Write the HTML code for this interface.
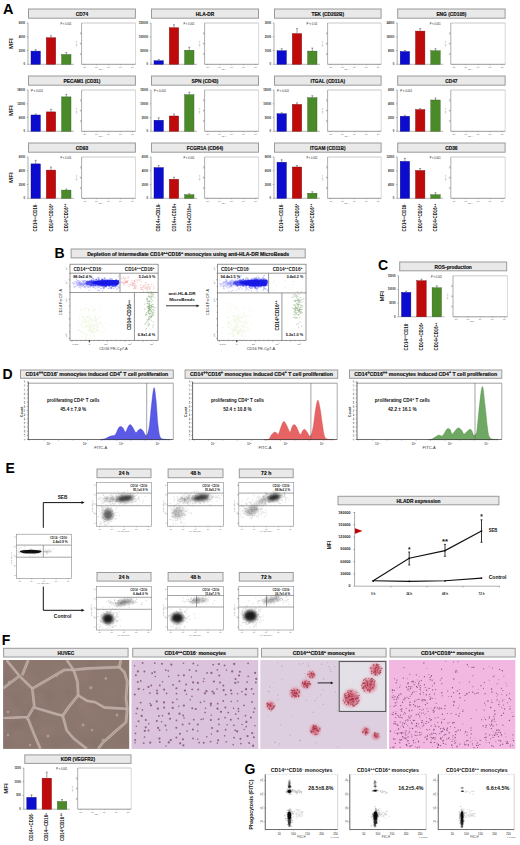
<!DOCTYPE html><html><head><meta charset="utf-8"><style>html,body{margin:0;padding:0;background:#fff;}svg{display:block;}text{font-family:"Liberation Sans",sans-serif;}</style></head><body>
<svg width="520" height="845" viewBox="0 0 520 845">
<defs><filter id="b03" x="-50%" y="-50%" width="200%" height="200%"><feGaussianBlur stdDeviation="0.3"/></filter><filter id="b05" x="-50%" y="-50%" width="200%" height="200%"><feGaussianBlur stdDeviation="0.5"/></filter><filter id="b1" x="-50%" y="-50%" width="200%" height="200%"><feGaussianBlur stdDeviation="1"/></filter><filter id="b15" x="-50%" y="-50%" width="200%" height="200%"><feGaussianBlur stdDeviation="1.5"/></filter><filter id="b2" x="-50%" y="-50%" width="200%" height="200%"><feGaussianBlur stdDeviation="2"/></filter><filter id="b3" x="-50%" y="-50%" width="200%" height="200%"><feGaussianBlur stdDeviation="3"/></filter></defs>
<rect x="0" y="0" width="520" height="845" fill="#fff" stroke="none" stroke-width="1"/>
<g font-weight="bold" text-anchor="middle" fill="#111" dominant-baseline="central">
<text x="3" y="8.6" font-size="14.5" text-anchor="start" fill="#000">A</text>
<rect x="28.5" y="9" width="106.9" height="9.2" fill="#e9e9e9" stroke="#9a9a9a" stroke-width="1"/>
<text x="81.95" y="13.8" font-size="5.6" textLength="12.31" lengthAdjust="spacingAndGlyphs" stroke="#111" stroke-width="0.18">CD74</text>
<path d="M28 23L28 64.3" stroke="#8a8a8a" stroke-width="0.7"/>
<path d="M28 64.3L74 64.3" stroke="#9a9a9a" stroke-width="0.7"/>
<path d="M26.8 23L28 23" stroke="#666" stroke-width="0.5"/>
<text x="25" y="23" font-size="2.8" text-anchor="end" fill="#222">6000</text>
<path d="M26.8 36.77L28 36.77" stroke="#666" stroke-width="0.5"/>
<text x="25" y="36.77" font-size="2.8" text-anchor="end" fill="#222">4000</text>
<path d="M26.8 50.53L28 50.53" stroke="#666" stroke-width="0.5"/>
<text x="25" y="50.53" font-size="2.8" text-anchor="end" fill="#222">2000</text>
<path d="M26.8 64.3L28 64.3" stroke="#666" stroke-width="0.5"/>
<text x="25" y="64.3" font-size="2.8" text-anchor="end" fill="#222">0</text>
<rect x="31" y="51.1" width="9.4" height="13.2" fill="#0c0cce" stroke="#06068a" stroke-width="0.4"/>
<path d="M35.7 49.6L35.7 51.1" stroke="#444" stroke-width="0.5"/>
<path d="M34.7 49.6L36.7 49.6" stroke="#444" stroke-width="0.5"/>
<rect x="46.3" y="37.75" width="9.4" height="26.55" fill="#be0a0a" stroke="#7a0606" stroke-width="0.4"/>
<path d="M51 35.75L51 37.75" stroke="#444" stroke-width="0.5"/>
<path d="M50 35.75L52 35.75" stroke="#444" stroke-width="0.5"/>
<rect x="61.6" y="54.5" width="9.4" height="9.8" fill="#4a8a28" stroke="#2e5a18" stroke-width="0.4"/>
<path d="M66.3 52.5L66.3 54.5" stroke="#444" stroke-width="0.5"/>
<path d="M65.3 52.5L67.3 52.5" stroke="#444" stroke-width="0.5"/>
<text x="71.5" y="23.8" font-size="3.1" font-weight="normal" text-anchor="end" fill="#222" textLength="11" lengthAdjust="spacingAndGlyphs">P < 0.001</text>
<text x="11" y="43.65" font-size="5.6" textLength="10.5" lengthAdjust="spacingAndGlyphs" transform="rotate(-90 11 43.65)">MFI</text>
<path d="M81.6 23L135.5 23" stroke="#c8c8c8" stroke-width="1"/>
<path d="M135.5 23L135.5 64.3" stroke="#c8c8c8" stroke-width="0.7"/>
<path d="M81.6 23L81.6 64.3" stroke="#777" stroke-width="0.6"/>
<path d="M81.6 64.3L135.5 64.3" stroke="#555" stroke-width="0.6"/>
<path d="M80.6 53.97L81.6 53.97" stroke="#777" stroke-width="0.4"/>
<text x="79.6" y="53.97" font-size="2.1" font-weight="normal" fill="#555" transform="rotate(-90 79.6 53.97)">20</text>
<path d="M80.6 43.65L81.6 43.65" stroke="#777" stroke-width="0.4"/>
<text x="79.6" y="43.65" font-size="2.1" font-weight="normal" fill="#555" transform="rotate(-90 79.6 43.65)">40</text>
<path d="M80.6 33.33L81.6 33.33" stroke="#777" stroke-width="0.4"/>
<text x="79.6" y="33.33" font-size="2.1" font-weight="normal" fill="#555" transform="rotate(-90 79.6 33.33)">60</text>
<text x="75.8" y="43.65" font-size="2.2" font-weight="normal" fill="#555" transform="rotate(-90 75.8 43.65)">Count</text>
<path d="M84.6 64.3L84.6 65.3" stroke="#777" stroke-width="0.4"/>
<text x="84.6" y="66.7" font-size="2.1" font-weight="normal" fill="#555">-10²</text>
<path d="M96.57 64.3L96.57 65.3" stroke="#777" stroke-width="0.4"/>
<text x="96.57" y="66.7" font-size="2.1" font-weight="normal" fill="#555">10²</text>
<path d="M108.55 64.3L108.55 65.3" stroke="#777" stroke-width="0.4"/>
<text x="108.55" y="66.7" font-size="2.1" font-weight="normal" fill="#555">10²</text>
<path d="M120.53 64.3L120.53 65.3" stroke="#777" stroke-width="0.4"/>
<text x="120.53" y="66.7" font-size="2.1" font-weight="normal" fill="#555">10²</text>
<path d="M132.5 64.3L132.5 65.3" stroke="#777" stroke-width="0.4"/>
<text x="132.5" y="66.7" font-size="2.1" font-weight="normal" fill="#555">10²</text>
<text x="101" y="68.9" font-size="2.1" font-weight="normal" fill="#555">PE-A</text>
<rect x="151.5" y="9" width="107" height="9.2" fill="#e9e9e9" stroke="#9a9a9a" stroke-width="1"/>
<text x="205" y="13.8" font-size="5.6" textLength="18.46" lengthAdjust="spacingAndGlyphs" stroke="#111" stroke-width="0.18">HLA-DR</text>
<path d="M151 23L151 64.3" stroke="#8a8a8a" stroke-width="0.7"/>
<path d="M151 64.3L197 64.3" stroke="#9a9a9a" stroke-width="0.7"/>
<path d="M149.8 23L151 23" stroke="#666" stroke-width="0.5"/>
<text x="148" y="23" font-size="2.8" text-anchor="end" fill="#222">150000</text>
<path d="M149.8 36.77L151 36.77" stroke="#666" stroke-width="0.5"/>
<text x="148" y="36.77" font-size="2.8" text-anchor="end" fill="#222">100000</text>
<path d="M149.8 50.53L151 50.53" stroke="#666" stroke-width="0.5"/>
<text x="148" y="50.53" font-size="2.8" text-anchor="end" fill="#222">50000</text>
<path d="M149.8 64.3L151 64.3" stroke="#666" stroke-width="0.5"/>
<text x="148" y="64.3" font-size="2.8" text-anchor="end" fill="#222">0</text>
<rect x="154" y="60.75" width="9.4" height="3.55" fill="#0c0cce" stroke="#06068a" stroke-width="0.4"/>
<path d="M158.7 59.55L158.7 60.75" stroke="#444" stroke-width="0.5"/>
<path d="M157.7 59.55L159.7 59.55" stroke="#444" stroke-width="0.5"/>
<rect x="169.3" y="27.75" width="9.4" height="36.55" fill="#be0a0a" stroke="#7a0606" stroke-width="0.4"/>
<path d="M174 24.75L174 27.75" stroke="#444" stroke-width="0.5"/>
<path d="M173 24.75L175 24.75" stroke="#444" stroke-width="0.5"/>
<rect x="184.6" y="50.25" width="9.4" height="14.05" fill="#4a8a28" stroke="#2e5a18" stroke-width="0.4"/>
<path d="M189.3 47.25L189.3 50.25" stroke="#444" stroke-width="0.5"/>
<path d="M188.3 47.25L190.3 47.25" stroke="#444" stroke-width="0.5"/>
<text x="194.5" y="23.8" font-size="3.1" font-weight="normal" text-anchor="end" fill="#222" textLength="11" lengthAdjust="spacingAndGlyphs">P < 0.001</text>
<path d="M204.6 23L258.6 23" stroke="#c8c8c8" stroke-width="1"/>
<path d="M258.6 23L258.6 64.3" stroke="#c8c8c8" stroke-width="0.7"/>
<path d="M204.6 23L204.6 64.3" stroke="#777" stroke-width="0.6"/>
<path d="M204.6 64.3L258.6 64.3" stroke="#555" stroke-width="0.6"/>
<path d="M203.6 53.97L204.6 53.97" stroke="#777" stroke-width="0.4"/>
<text x="202.6" y="53.97" font-size="2.1" font-weight="normal" fill="#555" transform="rotate(-90 202.6 53.97)">20</text>
<path d="M203.6 43.65L204.6 43.65" stroke="#777" stroke-width="0.4"/>
<text x="202.6" y="43.65" font-size="2.1" font-weight="normal" fill="#555" transform="rotate(-90 202.6 43.65)">40</text>
<path d="M203.6 33.33L204.6 33.33" stroke="#777" stroke-width="0.4"/>
<text x="202.6" y="33.33" font-size="2.1" font-weight="normal" fill="#555" transform="rotate(-90 202.6 33.33)">60</text>
<text x="198.8" y="43.65" font-size="2.2" font-weight="normal" fill="#555" transform="rotate(-90 198.8 43.65)">Count</text>
<path d="M207.6 64.3L207.6 65.3" stroke="#777" stroke-width="0.4"/>
<text x="207.6" y="66.7" font-size="2.1" font-weight="normal" fill="#555">-10²</text>
<path d="M219.6 64.3L219.6 65.3" stroke="#777" stroke-width="0.4"/>
<text x="219.6" y="66.7" font-size="2.1" font-weight="normal" fill="#555">10²</text>
<path d="M231.6 64.3L231.6 65.3" stroke="#777" stroke-width="0.4"/>
<text x="231.6" y="66.7" font-size="2.1" font-weight="normal" fill="#555">10²</text>
<path d="M243.6 64.3L243.6 65.3" stroke="#777" stroke-width="0.4"/>
<text x="243.6" y="66.7" font-size="2.1" font-weight="normal" fill="#555">10²</text>
<path d="M255.6 64.3L255.6 65.3" stroke="#777" stroke-width="0.4"/>
<text x="255.6" y="66.7" font-size="2.1" font-weight="normal" fill="#555">10²</text>
<text x="224.04" y="68.9" font-size="2.1" font-weight="normal" fill="#555">PE-A</text>
<rect x="274.5" y="9" width="106.6" height="9.2" fill="#e9e9e9" stroke="#9a9a9a" stroke-width="1"/>
<text x="327.8" y="13.8" font-size="5.6" textLength="32.65" lengthAdjust="spacingAndGlyphs" stroke="#111" stroke-width="0.18">TEK (CD202B)</text>
<path d="M274 23L274 64.3" stroke="#8a8a8a" stroke-width="0.7"/>
<path d="M274 64.3L320 64.3" stroke="#9a9a9a" stroke-width="0.7"/>
<path d="M272.8 23L274 23" stroke="#666" stroke-width="0.5"/>
<text x="271" y="23" font-size="2.8" text-anchor="end" fill="#222">3000</text>
<path d="M272.8 36.77L274 36.77" stroke="#666" stroke-width="0.5"/>
<text x="271" y="36.77" font-size="2.8" text-anchor="end" fill="#222">2000</text>
<path d="M272.8 50.53L274 50.53" stroke="#666" stroke-width="0.5"/>
<text x="271" y="50.53" font-size="2.8" text-anchor="end" fill="#222">1000</text>
<path d="M272.8 64.3L274 64.3" stroke="#666" stroke-width="0.5"/>
<text x="271" y="64.3" font-size="2.8" text-anchor="end" fill="#222">0</text>
<rect x="277" y="50.75" width="9.4" height="13.55" fill="#0c0cce" stroke="#06068a" stroke-width="0.4"/>
<path d="M281.7 48.75L281.7 50.75" stroke="#444" stroke-width="0.5"/>
<path d="M280.7 48.75L282.7 48.75" stroke="#444" stroke-width="0.5"/>
<rect x="292.3" y="33.6" width="9.4" height="30.7" fill="#be0a0a" stroke="#7a0606" stroke-width="0.4"/>
<path d="M297 28.6L297 33.6" stroke="#444" stroke-width="0.5"/>
<path d="M296 28.6L298 28.6" stroke="#444" stroke-width="0.5"/>
<rect x="307.6" y="51.1" width="9.4" height="13.2" fill="#4a8a28" stroke="#2e5a18" stroke-width="0.4"/>
<path d="M312.3 48.1L312.3 51.1" stroke="#444" stroke-width="0.5"/>
<path d="M311.3 48.1L313.3 48.1" stroke="#444" stroke-width="0.5"/>
<text x="317.5" y="23.8" font-size="3.1" font-weight="normal" text-anchor="end" fill="#222" textLength="11" lengthAdjust="spacingAndGlyphs">P < 0.01</text>
<path d="M327.6 23L381.2 23" stroke="#c8c8c8" stroke-width="1"/>
<path d="M381.2 23L381.2 64.3" stroke="#c8c8c8" stroke-width="0.7"/>
<path d="M327.6 23L327.6 64.3" stroke="#777" stroke-width="0.6"/>
<path d="M327.6 64.3L381.2 64.3" stroke="#555" stroke-width="0.6"/>
<path d="M326.6 53.97L327.6 53.97" stroke="#777" stroke-width="0.4"/>
<text x="325.6" y="53.97" font-size="2.1" font-weight="normal" fill="#555" transform="rotate(-90 325.6 53.97)">20</text>
<path d="M326.6 43.65L327.6 43.65" stroke="#777" stroke-width="0.4"/>
<text x="325.6" y="43.65" font-size="2.1" font-weight="normal" fill="#555" transform="rotate(-90 325.6 43.65)">40</text>
<path d="M326.6 33.33L327.6 33.33" stroke="#777" stroke-width="0.4"/>
<text x="325.6" y="33.33" font-size="2.1" font-weight="normal" fill="#555" transform="rotate(-90 325.6 33.33)">60</text>
<text x="321.8" y="43.65" font-size="2.2" font-weight="normal" fill="#555" transform="rotate(-90 321.8 43.65)">Count</text>
<path d="M330.6 64.3L330.6 65.3" stroke="#777" stroke-width="0.4"/>
<text x="330.6" y="66.7" font-size="2.1" font-weight="normal" fill="#555">-10²</text>
<path d="M342.5 64.3L342.5 65.3" stroke="#777" stroke-width="0.4"/>
<text x="342.5" y="66.7" font-size="2.1" font-weight="normal" fill="#555">10²</text>
<path d="M354.4 64.3L354.4 65.3" stroke="#777" stroke-width="0.4"/>
<text x="354.4" y="66.7" font-size="2.1" font-weight="normal" fill="#555">10²</text>
<path d="M366.3 64.3L366.3 65.3" stroke="#777" stroke-width="0.4"/>
<text x="366.3" y="66.7" font-size="2.1" font-weight="normal" fill="#555">10²</text>
<path d="M378.2 64.3L378.2 65.3" stroke="#777" stroke-width="0.4"/>
<text x="378.2" y="66.7" font-size="2.1" font-weight="normal" fill="#555">10²</text>
<text x="346.9" y="68.9" font-size="2.1" font-weight="normal" fill="#555">PE-A</text>
<rect x="397.7" y="9" width="107.4" height="9.2" fill="#e9e9e9" stroke="#9a9a9a" stroke-width="1"/>
<text x="451.4" y="13.8" font-size="5.6" textLength="29.97" lengthAdjust="spacingAndGlyphs" stroke="#111" stroke-width="0.18">ENG (CD105)</text>
<path d="M397.2 23L397.2 64.3" stroke="#8a8a8a" stroke-width="0.7"/>
<path d="M397.2 64.3L443.2 64.3" stroke="#9a9a9a" stroke-width="0.7"/>
<path d="M396 23L397.2 23" stroke="#666" stroke-width="0.5"/>
<text x="394.2" y="23" font-size="2.8" text-anchor="end" fill="#222">24000</text>
<path d="M396 36.77L397.2 36.77" stroke="#666" stroke-width="0.5"/>
<text x="394.2" y="36.77" font-size="2.8" text-anchor="end" fill="#222">16000</text>
<path d="M396 50.53L397.2 50.53" stroke="#666" stroke-width="0.5"/>
<text x="394.2" y="50.53" font-size="2.8" text-anchor="end" fill="#222">8000</text>
<path d="M396 64.3L397.2 64.3" stroke="#666" stroke-width="0.5"/>
<text x="394.2" y="64.3" font-size="2.8" text-anchor="end" fill="#222">0</text>
<rect x="400.2" y="51.5" width="9.4" height="12.8" fill="#0c0cce" stroke="#06068a" stroke-width="0.4"/>
<path d="M404.9 50.5L404.9 51.5" stroke="#444" stroke-width="0.5"/>
<path d="M403.9 50.5L405.9 50.5" stroke="#444" stroke-width="0.5"/>
<rect x="415.5" y="31.1" width="9.4" height="33.2" fill="#be0a0a" stroke="#7a0606" stroke-width="0.4"/>
<path d="M420.2 28.6L420.2 31.1" stroke="#444" stroke-width="0.5"/>
<path d="M419.2 28.6L421.2 28.6" stroke="#444" stroke-width="0.5"/>
<rect x="430.8" y="50.75" width="9.4" height="13.55" fill="#4a8a28" stroke="#2e5a18" stroke-width="0.4"/>
<path d="M435.5 48.75L435.5 50.75" stroke="#444" stroke-width="0.5"/>
<path d="M434.5 48.75L436.5 48.75" stroke="#444" stroke-width="0.5"/>
<text x="440.7" y="23.8" font-size="3.1" font-weight="normal" text-anchor="end" fill="#222" textLength="11" lengthAdjust="spacingAndGlyphs">P < 0.001</text>
<path d="M450.8 23L505.2 23" stroke="#c8c8c8" stroke-width="1"/>
<path d="M505.2 23L505.2 64.3" stroke="#c8c8c8" stroke-width="0.7"/>
<path d="M450.8 23L450.8 64.3" stroke="#777" stroke-width="0.6"/>
<path d="M450.8 64.3L505.2 64.3" stroke="#555" stroke-width="0.6"/>
<path d="M449.8 53.97L450.8 53.97" stroke="#777" stroke-width="0.4"/>
<text x="448.8" y="53.97" font-size="2.1" font-weight="normal" fill="#555" transform="rotate(-90 448.8 53.97)">20</text>
<path d="M449.8 43.65L450.8 43.65" stroke="#777" stroke-width="0.4"/>
<text x="448.8" y="43.65" font-size="2.1" font-weight="normal" fill="#555" transform="rotate(-90 448.8 43.65)">40</text>
<path d="M449.8 33.33L450.8 33.33" stroke="#777" stroke-width="0.4"/>
<text x="448.8" y="33.33" font-size="2.1" font-weight="normal" fill="#555" transform="rotate(-90 448.8 33.33)">60</text>
<text x="445" y="43.65" font-size="2.2" font-weight="normal" fill="#555" transform="rotate(-90 445 43.65)">Count</text>
<path d="M453.8 64.3L453.8 65.3" stroke="#777" stroke-width="0.4"/>
<text x="453.8" y="66.7" font-size="2.1" font-weight="normal" fill="#555">-10²</text>
<path d="M465.9 64.3L465.9 65.3" stroke="#777" stroke-width="0.4"/>
<text x="465.9" y="66.7" font-size="2.1" font-weight="normal" fill="#555">10²</text>
<path d="M478 64.3L478 65.3" stroke="#777" stroke-width="0.4"/>
<text x="478" y="66.7" font-size="2.1" font-weight="normal" fill="#555">10²</text>
<path d="M490.1 64.3L490.1 65.3" stroke="#777" stroke-width="0.4"/>
<text x="490.1" y="66.7" font-size="2.1" font-weight="normal" fill="#555">10²</text>
<path d="M502.2 64.3L502.2 65.3" stroke="#777" stroke-width="0.4"/>
<text x="502.2" y="66.7" font-size="2.1" font-weight="normal" fill="#555">10²</text>
<text x="470.38" y="68.9" font-size="2.1" font-weight="normal" fill="#555">PE-A</text>
<rect x="28.5" y="76" width="106.9" height="9.2" fill="#e9e9e9" stroke="#9a9a9a" stroke-width="1"/>
<text x="81.95" y="80.8" font-size="5.6" textLength="36.93" lengthAdjust="spacingAndGlyphs" stroke="#111" stroke-width="0.18">PECAM1 (CD31)</text>
<path d="M28 90L28 131.3" stroke="#8a8a8a" stroke-width="0.7"/>
<path d="M28 131.3L74 131.3" stroke="#9a9a9a" stroke-width="0.7"/>
<path d="M26.8 90L28 90" stroke="#666" stroke-width="0.5"/>
<text x="25" y="90" font-size="2.8" text-anchor="end" fill="#222">18000</text>
<path d="M26.8 103.77L28 103.77" stroke="#666" stroke-width="0.5"/>
<text x="25" y="103.77" font-size="2.8" text-anchor="end" fill="#222">12000</text>
<path d="M26.8 117.53L28 117.53" stroke="#666" stroke-width="0.5"/>
<text x="25" y="117.53" font-size="2.8" text-anchor="end" fill="#222">6000</text>
<path d="M26.8 131.3L28 131.3" stroke="#666" stroke-width="0.5"/>
<text x="25" y="131.3" font-size="2.8" text-anchor="end" fill="#222">0</text>
<rect x="31" y="115" width="9.4" height="16.3" fill="#0c0cce" stroke="#06068a" stroke-width="0.4"/>
<path d="M35.7 114L35.7 115" stroke="#444" stroke-width="0.5"/>
<path d="M34.7 114L36.7 114" stroke="#444" stroke-width="0.5"/>
<rect x="46.3" y="111.9" width="9.4" height="19.4" fill="#be0a0a" stroke="#7a0606" stroke-width="0.4"/>
<path d="M51 109.4L51 111.9" stroke="#444" stroke-width="0.5"/>
<path d="M50 109.4L52 109.4" stroke="#444" stroke-width="0.5"/>
<rect x="61.6" y="96.9" width="9.4" height="34.4" fill="#4a8a28" stroke="#2e5a18" stroke-width="0.4"/>
<path d="M66.3 94.4L66.3 96.9" stroke="#444" stroke-width="0.5"/>
<path d="M65.3 94.4L67.3 94.4" stroke="#444" stroke-width="0.5"/>
<text x="31" y="90.8" font-size="3.1" font-weight="normal" text-anchor="start" fill="#222" textLength="12" lengthAdjust="spacingAndGlyphs">P < 0.001</text>
<text x="11" y="110.65" font-size="5.6" textLength="10.5" lengthAdjust="spacingAndGlyphs" transform="rotate(-90 11 110.65)">MFI</text>
<path d="M81.6 90L135.5 90" stroke="#c8c8c8" stroke-width="1"/>
<path d="M135.5 90L135.5 131.3" stroke="#c8c8c8" stroke-width="0.7"/>
<path d="M81.6 90L81.6 131.3" stroke="#777" stroke-width="0.6"/>
<path d="M81.6 131.3L135.5 131.3" stroke="#555" stroke-width="0.6"/>
<path d="M80.6 120.98L81.6 120.98" stroke="#777" stroke-width="0.4"/>
<text x="79.6" y="120.98" font-size="2.1" font-weight="normal" fill="#555" transform="rotate(-90 79.6 120.98)">20</text>
<path d="M80.6 110.65L81.6 110.65" stroke="#777" stroke-width="0.4"/>
<text x="79.6" y="110.65" font-size="2.1" font-weight="normal" fill="#555" transform="rotate(-90 79.6 110.65)">40</text>
<path d="M80.6 100.33L81.6 100.33" stroke="#777" stroke-width="0.4"/>
<text x="79.6" y="100.33" font-size="2.1" font-weight="normal" fill="#555" transform="rotate(-90 79.6 100.33)">60</text>
<text x="75.8" y="110.65" font-size="2.2" font-weight="normal" fill="#555" transform="rotate(-90 75.8 110.65)">Count</text>
<path d="M84.6 131.3L84.6 132.3" stroke="#777" stroke-width="0.4"/>
<text x="84.6" y="133.7" font-size="2.1" font-weight="normal" fill="#555">-10²</text>
<path d="M96.57 131.3L96.57 132.3" stroke="#777" stroke-width="0.4"/>
<text x="96.57" y="133.7" font-size="2.1" font-weight="normal" fill="#555">10²</text>
<path d="M108.55 131.3L108.55 132.3" stroke="#777" stroke-width="0.4"/>
<text x="108.55" y="133.7" font-size="2.1" font-weight="normal" fill="#555">10²</text>
<path d="M120.53 131.3L120.53 132.3" stroke="#777" stroke-width="0.4"/>
<text x="120.53" y="133.7" font-size="2.1" font-weight="normal" fill="#555">10²</text>
<path d="M132.5 131.3L132.5 132.3" stroke="#777" stroke-width="0.4"/>
<text x="132.5" y="133.7" font-size="2.1" font-weight="normal" fill="#555">10²</text>
<text x="101" y="135.9" font-size="2.1" font-weight="normal" fill="#555">PE-A</text>
<rect x="151.5" y="76" width="107" height="9.2" fill="#e9e9e9" stroke="#9a9a9a" stroke-width="1"/>
<text x="205" y="80.8" font-size="5.6" textLength="26.76" lengthAdjust="spacingAndGlyphs" stroke="#111" stroke-width="0.18">SPN (CD43)</text>
<path d="M151 90L151 131.3" stroke="#8a8a8a" stroke-width="0.7"/>
<path d="M151 131.3L197 131.3" stroke="#9a9a9a" stroke-width="0.7"/>
<path d="M149.8 90L151 90" stroke="#666" stroke-width="0.5"/>
<text x="148" y="90" font-size="2.8" text-anchor="end" fill="#222">15000</text>
<path d="M149.8 103.77L151 103.77" stroke="#666" stroke-width="0.5"/>
<text x="148" y="103.77" font-size="2.8" text-anchor="end" fill="#222">10000</text>
<path d="M149.8 117.53L151 117.53" stroke="#666" stroke-width="0.5"/>
<text x="148" y="117.53" font-size="2.8" text-anchor="end" fill="#222">5000</text>
<path d="M149.8 131.3L151 131.3" stroke="#666" stroke-width="0.5"/>
<text x="148" y="131.3" font-size="2.8" text-anchor="end" fill="#222">0</text>
<rect x="154" y="120.25" width="9.4" height="11.05" fill="#0c0cce" stroke="#06068a" stroke-width="0.4"/>
<path d="M158.7 117.75L158.7 120.25" stroke="#444" stroke-width="0.5"/>
<path d="M157.7 117.75L159.7 117.75" stroke="#444" stroke-width="0.5"/>
<rect x="169.3" y="116" width="9.4" height="15.3" fill="#be0a0a" stroke="#7a0606" stroke-width="0.4"/>
<path d="M174 114L174 116" stroke="#444" stroke-width="0.5"/>
<path d="M173 114L175 114" stroke="#444" stroke-width="0.5"/>
<rect x="184.6" y="94.75" width="9.4" height="36.55" fill="#4a8a28" stroke="#2e5a18" stroke-width="0.4"/>
<path d="M189.3 92.25L189.3 94.75" stroke="#444" stroke-width="0.5"/>
<path d="M188.3 92.25L190.3 92.25" stroke="#444" stroke-width="0.5"/>
<text x="154" y="90.8" font-size="3.1" font-weight="normal" text-anchor="start" fill="#222" textLength="12" lengthAdjust="spacingAndGlyphs">P < 0.001</text>
<path d="M204.6 90L258.6 90" stroke="#c8c8c8" stroke-width="1"/>
<path d="M258.6 90L258.6 131.3" stroke="#c8c8c8" stroke-width="0.7"/>
<path d="M204.6 90L204.6 131.3" stroke="#777" stroke-width="0.6"/>
<path d="M204.6 131.3L258.6 131.3" stroke="#555" stroke-width="0.6"/>
<path d="M203.6 120.98L204.6 120.98" stroke="#777" stroke-width="0.4"/>
<text x="202.6" y="120.98" font-size="2.1" font-weight="normal" fill="#555" transform="rotate(-90 202.6 120.98)">20</text>
<path d="M203.6 110.65L204.6 110.65" stroke="#777" stroke-width="0.4"/>
<text x="202.6" y="110.65" font-size="2.1" font-weight="normal" fill="#555" transform="rotate(-90 202.6 110.65)">40</text>
<path d="M203.6 100.33L204.6 100.33" stroke="#777" stroke-width="0.4"/>
<text x="202.6" y="100.33" font-size="2.1" font-weight="normal" fill="#555" transform="rotate(-90 202.6 100.33)">60</text>
<text x="198.8" y="110.65" font-size="2.2" font-weight="normal" fill="#555" transform="rotate(-90 198.8 110.65)">Count</text>
<path d="M207.6 131.3L207.6 132.3" stroke="#777" stroke-width="0.4"/>
<text x="207.6" y="133.7" font-size="2.1" font-weight="normal" fill="#555">-10²</text>
<path d="M219.6 131.3L219.6 132.3" stroke="#777" stroke-width="0.4"/>
<text x="219.6" y="133.7" font-size="2.1" font-weight="normal" fill="#555">10²</text>
<path d="M231.6 131.3L231.6 132.3" stroke="#777" stroke-width="0.4"/>
<text x="231.6" y="133.7" font-size="2.1" font-weight="normal" fill="#555">10²</text>
<path d="M243.6 131.3L243.6 132.3" stroke="#777" stroke-width="0.4"/>
<text x="243.6" y="133.7" font-size="2.1" font-weight="normal" fill="#555">10²</text>
<path d="M255.6 131.3L255.6 132.3" stroke="#777" stroke-width="0.4"/>
<text x="255.6" y="133.7" font-size="2.1" font-weight="normal" fill="#555">10²</text>
<text x="224.04" y="135.9" font-size="2.1" font-weight="normal" fill="#555">PE-A</text>
<rect x="274.5" y="76" width="106.6" height="9.2" fill="#e9e9e9" stroke="#9a9a9a" stroke-width="1"/>
<text x="327.8" y="80.8" font-size="5.6" textLength="34.43" lengthAdjust="spacingAndGlyphs" stroke="#111" stroke-width="0.18">ITGAL (CD11A)</text>
<path d="M274 90L274 131.3" stroke="#8a8a8a" stroke-width="0.7"/>
<path d="M274 131.3L320 131.3" stroke="#9a9a9a" stroke-width="0.7"/>
<path d="M272.8 90L274 90" stroke="#666" stroke-width="0.5"/>
<text x="271" y="90" font-size="2.8" text-anchor="end" fill="#222">15000</text>
<path d="M272.8 103.77L274 103.77" stroke="#666" stroke-width="0.5"/>
<text x="271" y="103.77" font-size="2.8" text-anchor="end" fill="#222">10000</text>
<path d="M272.8 117.53L274 117.53" stroke="#666" stroke-width="0.5"/>
<text x="271" y="117.53" font-size="2.8" text-anchor="end" fill="#222">5000</text>
<path d="M272.8 131.3L274 131.3" stroke="#666" stroke-width="0.5"/>
<text x="271" y="131.3" font-size="2.8" text-anchor="end" fill="#222">0</text>
<rect x="277" y="113.75" width="9.4" height="17.55" fill="#0c0cce" stroke="#06068a" stroke-width="0.4"/>
<path d="M281.7 112.75L281.7 113.75" stroke="#444" stroke-width="0.5"/>
<path d="M280.7 112.75L282.7 112.75" stroke="#444" stroke-width="0.5"/>
<rect x="292.3" y="104.4" width="9.4" height="26.9" fill="#be0a0a" stroke="#7a0606" stroke-width="0.4"/>
<path d="M297 102.9L297 104.4" stroke="#444" stroke-width="0.5"/>
<path d="M296 102.9L298 102.9" stroke="#444" stroke-width="0.5"/>
<rect x="307.6" y="97.75" width="9.4" height="33.55" fill="#4a8a28" stroke="#2e5a18" stroke-width="0.4"/>
<path d="M312.3 95.75L312.3 97.75" stroke="#444" stroke-width="0.5"/>
<path d="M311.3 95.75L313.3 95.75" stroke="#444" stroke-width="0.5"/>
<text x="277" y="90.8" font-size="3.1" font-weight="normal" text-anchor="start" fill="#222" textLength="12" lengthAdjust="spacingAndGlyphs">P < 0.001</text>
<path d="M327.6 90L381.2 90" stroke="#c8c8c8" stroke-width="1"/>
<path d="M381.2 90L381.2 131.3" stroke="#c8c8c8" stroke-width="0.7"/>
<path d="M327.6 90L327.6 131.3" stroke="#777" stroke-width="0.6"/>
<path d="M327.6 131.3L381.2 131.3" stroke="#555" stroke-width="0.6"/>
<path d="M326.6 120.98L327.6 120.98" stroke="#777" stroke-width="0.4"/>
<text x="325.6" y="120.98" font-size="2.1" font-weight="normal" fill="#555" transform="rotate(-90 325.6 120.98)">20</text>
<path d="M326.6 110.65L327.6 110.65" stroke="#777" stroke-width="0.4"/>
<text x="325.6" y="110.65" font-size="2.1" font-weight="normal" fill="#555" transform="rotate(-90 325.6 110.65)">40</text>
<path d="M326.6 100.33L327.6 100.33" stroke="#777" stroke-width="0.4"/>
<text x="325.6" y="100.33" font-size="2.1" font-weight="normal" fill="#555" transform="rotate(-90 325.6 100.33)">60</text>
<text x="321.8" y="110.65" font-size="2.2" font-weight="normal" fill="#555" transform="rotate(-90 321.8 110.65)">Count</text>
<path d="M330.6 131.3L330.6 132.3" stroke="#777" stroke-width="0.4"/>
<text x="330.6" y="133.7" font-size="2.1" font-weight="normal" fill="#555">-10²</text>
<path d="M342.5 131.3L342.5 132.3" stroke="#777" stroke-width="0.4"/>
<text x="342.5" y="133.7" font-size="2.1" font-weight="normal" fill="#555">10²</text>
<path d="M354.4 131.3L354.4 132.3" stroke="#777" stroke-width="0.4"/>
<text x="354.4" y="133.7" font-size="2.1" font-weight="normal" fill="#555">10²</text>
<path d="M366.3 131.3L366.3 132.3" stroke="#777" stroke-width="0.4"/>
<text x="366.3" y="133.7" font-size="2.1" font-weight="normal" fill="#555">10²</text>
<path d="M378.2 131.3L378.2 132.3" stroke="#777" stroke-width="0.4"/>
<text x="378.2" y="133.7" font-size="2.1" font-weight="normal" fill="#555">10²</text>
<text x="346.9" y="135.9" font-size="2.1" font-weight="normal" fill="#555">PE-A</text>
<rect x="397.7" y="76" width="107.4" height="9.2" fill="#e9e9e9" stroke="#9a9a9a" stroke-width="1"/>
<text x="451.4" y="80.8" font-size="5.6" textLength="12.31" lengthAdjust="spacingAndGlyphs" stroke="#111" stroke-width="0.18">CD47</text>
<path d="M397.2 90L397.2 131.3" stroke="#8a8a8a" stroke-width="0.7"/>
<path d="M397.2 131.3L443.2 131.3" stroke="#9a9a9a" stroke-width="0.7"/>
<path d="M396 90L397.2 90" stroke="#666" stroke-width="0.5"/>
<text x="394.2" y="90" font-size="2.8" text-anchor="end" fill="#222">6000</text>
<path d="M396 103.77L397.2 103.77" stroke="#666" stroke-width="0.5"/>
<text x="394.2" y="103.77" font-size="2.8" text-anchor="end" fill="#222">4000</text>
<path d="M396 117.53L397.2 117.53" stroke="#666" stroke-width="0.5"/>
<text x="394.2" y="117.53" font-size="2.8" text-anchor="end" fill="#222">2000</text>
<path d="M396 131.3L397.2 131.3" stroke="#666" stroke-width="0.5"/>
<text x="394.2" y="131.3" font-size="2.8" text-anchor="end" fill="#222">0</text>
<rect x="400.2" y="116.25" width="9.4" height="15.05" fill="#0c0cce" stroke="#06068a" stroke-width="0.4"/>
<path d="M404.9 115.25L404.9 116.25" stroke="#444" stroke-width="0.5"/>
<path d="M403.9 115.25L405.9 115.25" stroke="#444" stroke-width="0.5"/>
<rect x="415.5" y="109.6" width="9.4" height="21.7" fill="#be0a0a" stroke="#7a0606" stroke-width="0.4"/>
<path d="M420.2 108.6L420.2 109.6" stroke="#444" stroke-width="0.5"/>
<path d="M419.2 108.6L421.2 108.6" stroke="#444" stroke-width="0.5"/>
<rect x="430.8" y="100" width="9.4" height="31.3" fill="#4a8a28" stroke="#2e5a18" stroke-width="0.4"/>
<path d="M435.5 98L435.5 100" stroke="#444" stroke-width="0.5"/>
<path d="M434.5 98L436.5 98" stroke="#444" stroke-width="0.5"/>
<text x="400.2" y="90.8" font-size="3.1" font-weight="normal" text-anchor="start" fill="#222" textLength="12" lengthAdjust="spacingAndGlyphs">P < 0.001</text>
<path d="M450.8 90L505.2 90" stroke="#c8c8c8" stroke-width="1"/>
<path d="M505.2 90L505.2 131.3" stroke="#c8c8c8" stroke-width="0.7"/>
<path d="M450.8 90L450.8 131.3" stroke="#777" stroke-width="0.6"/>
<path d="M450.8 131.3L505.2 131.3" stroke="#555" stroke-width="0.6"/>
<path d="M449.8 120.98L450.8 120.98" stroke="#777" stroke-width="0.4"/>
<text x="448.8" y="120.98" font-size="2.1" font-weight="normal" fill="#555" transform="rotate(-90 448.8 120.98)">20</text>
<path d="M449.8 110.65L450.8 110.65" stroke="#777" stroke-width="0.4"/>
<text x="448.8" y="110.65" font-size="2.1" font-weight="normal" fill="#555" transform="rotate(-90 448.8 110.65)">40</text>
<path d="M449.8 100.33L450.8 100.33" stroke="#777" stroke-width="0.4"/>
<text x="448.8" y="100.33" font-size="2.1" font-weight="normal" fill="#555" transform="rotate(-90 448.8 100.33)">60</text>
<text x="445" y="110.65" font-size="2.2" font-weight="normal" fill="#555" transform="rotate(-90 445 110.65)">Count</text>
<path d="M453.8 131.3L453.8 132.3" stroke="#777" stroke-width="0.4"/>
<text x="453.8" y="133.7" font-size="2.1" font-weight="normal" fill="#555">-10²</text>
<path d="M465.9 131.3L465.9 132.3" stroke="#777" stroke-width="0.4"/>
<text x="465.9" y="133.7" font-size="2.1" font-weight="normal" fill="#555">10²</text>
<path d="M478 131.3L478 132.3" stroke="#777" stroke-width="0.4"/>
<text x="478" y="133.7" font-size="2.1" font-weight="normal" fill="#555">10²</text>
<path d="M490.1 131.3L490.1 132.3" stroke="#777" stroke-width="0.4"/>
<text x="490.1" y="133.7" font-size="2.1" font-weight="normal" fill="#555">10²</text>
<path d="M502.2 131.3L502.2 132.3" stroke="#777" stroke-width="0.4"/>
<text x="502.2" y="133.7" font-size="2.1" font-weight="normal" fill="#555">10²</text>
<text x="470.38" y="135.9" font-size="2.1" font-weight="normal" fill="#555">PE-A</text>
<rect x="28.5" y="143" width="106.9" height="9.2" fill="#e9e9e9" stroke="#9a9a9a" stroke-width="1"/>
<text x="81.95" y="147.8" font-size="5.6" textLength="12.31" lengthAdjust="spacingAndGlyphs" stroke="#111" stroke-width="0.18">CD93</text>
<path d="M28 157L28 198.3" stroke="#8a8a8a" stroke-width="0.7"/>
<path d="M28 198.3L74 198.3" stroke="#9a9a9a" stroke-width="0.7"/>
<path d="M26.8 157L28 157" stroke="#666" stroke-width="0.5"/>
<text x="25" y="157" font-size="2.8" text-anchor="end" fill="#222">6000</text>
<path d="M26.8 170.77L28 170.77" stroke="#666" stroke-width="0.5"/>
<text x="25" y="170.77" font-size="2.8" text-anchor="end" fill="#222">4000</text>
<path d="M26.8 184.53L28 184.53" stroke="#666" stroke-width="0.5"/>
<text x="25" y="184.53" font-size="2.8" text-anchor="end" fill="#222">2000</text>
<path d="M26.8 198.3L28 198.3" stroke="#666" stroke-width="0.5"/>
<text x="25" y="198.3" font-size="2.8" text-anchor="end" fill="#222">0</text>
<rect x="31" y="163.9" width="9.4" height="34.4" fill="#0c0cce" stroke="#06068a" stroke-width="0.4"/>
<path d="M35.7 160.4L35.7 163.9" stroke="#444" stroke-width="0.5"/>
<path d="M34.7 160.4L36.7 160.4" stroke="#444" stroke-width="0.5"/>
<rect x="46.3" y="170.1" width="9.4" height="28.2" fill="#be0a0a" stroke="#7a0606" stroke-width="0.4"/>
<path d="M51 167.1L51 170.1" stroke="#444" stroke-width="0.5"/>
<path d="M50 167.1L52 167.1" stroke="#444" stroke-width="0.5"/>
<rect x="61.6" y="190.1" width="9.4" height="8.2" fill="#4a8a28" stroke="#2e5a18" stroke-width="0.4"/>
<path d="M66.3 189.1L66.3 190.1" stroke="#444" stroke-width="0.5"/>
<path d="M65.3 189.1L67.3 189.1" stroke="#444" stroke-width="0.5"/>
<text x="71.5" y="157.8" font-size="3.1" font-weight="normal" text-anchor="end" fill="#222" textLength="11" lengthAdjust="spacingAndGlyphs">P < 0.001</text>
<text x="11" y="177.65" font-size="5.6" textLength="10.5" lengthAdjust="spacingAndGlyphs" transform="rotate(-90 11 177.65)">MFI</text>
<path d="M81.6 157L135.5 157" stroke="#c8c8c8" stroke-width="1"/>
<path d="M135.5 157L135.5 198.3" stroke="#c8c8c8" stroke-width="0.7"/>
<path d="M81.6 157L81.6 198.3" stroke="#777" stroke-width="0.6"/>
<path d="M81.6 198.3L135.5 198.3" stroke="#555" stroke-width="0.6"/>
<path d="M80.6 187.98L81.6 187.98" stroke="#777" stroke-width="0.4"/>
<text x="79.6" y="187.98" font-size="2.1" font-weight="normal" fill="#555" transform="rotate(-90 79.6 187.98)">20</text>
<path d="M80.6 177.65L81.6 177.65" stroke="#777" stroke-width="0.4"/>
<text x="79.6" y="177.65" font-size="2.1" font-weight="normal" fill="#555" transform="rotate(-90 79.6 177.65)">40</text>
<path d="M80.6 167.32L81.6 167.32" stroke="#777" stroke-width="0.4"/>
<text x="79.6" y="167.32" font-size="2.1" font-weight="normal" fill="#555" transform="rotate(-90 79.6 167.32)">60</text>
<text x="75.8" y="177.65" font-size="2.2" font-weight="normal" fill="#555" transform="rotate(-90 75.8 177.65)">Count</text>
<path d="M84.6 198.3L84.6 199.3" stroke="#777" stroke-width="0.4"/>
<text x="84.6" y="200.7" font-size="2.1" font-weight="normal" fill="#555">-10²</text>
<path d="M96.57 198.3L96.57 199.3" stroke="#777" stroke-width="0.4"/>
<text x="96.57" y="200.7" font-size="2.1" font-weight="normal" fill="#555">10²</text>
<path d="M108.55 198.3L108.55 199.3" stroke="#777" stroke-width="0.4"/>
<text x="108.55" y="200.7" font-size="2.1" font-weight="normal" fill="#555">10²</text>
<path d="M120.53 198.3L120.53 199.3" stroke="#777" stroke-width="0.4"/>
<text x="120.53" y="200.7" font-size="2.1" font-weight="normal" fill="#555">10²</text>
<path d="M132.5 198.3L132.5 199.3" stroke="#777" stroke-width="0.4"/>
<text x="132.5" y="200.7" font-size="2.1" font-weight="normal" fill="#555">10²</text>
<text x="101" y="202.9" font-size="2.1" font-weight="normal" fill="#555">PE-A</text>
<text x="35.7" y="203.5" font-size="4.8" text-anchor="end" textLength="28" lengthAdjust="spacingAndGlyphs" transform="rotate(-90 35.7 203.5)">CD14<tspan baseline-shift="35%" font-size="75%">++</tspan>CD16<tspan baseline-shift="35%" font-size="75%">-</tspan></text>
<text x="51" y="203.5" font-size="4.8" text-anchor="end" textLength="28" lengthAdjust="spacingAndGlyphs" transform="rotate(-90 51 203.5)">CD14<tspan baseline-shift="35%" font-size="75%">++</tspan>CD16<tspan baseline-shift="35%" font-size="75%">+</tspan></text>
<text x="66.3" y="203.5" font-size="4.8" text-anchor="end" textLength="28" lengthAdjust="spacingAndGlyphs" transform="rotate(-90 66.3 203.5)">CD14<tspan baseline-shift="35%" font-size="75%">+</tspan>CD16<tspan baseline-shift="35%" font-size="75%">++</tspan></text>
<rect x="151.5" y="143" width="107" height="9.2" fill="#e9e9e9" stroke="#9a9a9a" stroke-width="1"/>
<text x="205" y="147.8" font-size="5.6" textLength="36.48" lengthAdjust="spacingAndGlyphs" stroke="#111" stroke-width="0.18">FCGR1A (CD64)</text>
<path d="M151 157L151 198.3" stroke="#8a8a8a" stroke-width="0.7"/>
<path d="M151 198.3L197 198.3" stroke="#9a9a9a" stroke-width="0.7"/>
<path d="M149.8 157L151 157" stroke="#666" stroke-width="0.5"/>
<text x="148" y="157" font-size="2.8" text-anchor="end" fill="#222">6000</text>
<path d="M149.8 170.77L151 170.77" stroke="#666" stroke-width="0.5"/>
<text x="148" y="170.77" font-size="2.8" text-anchor="end" fill="#222">4000</text>
<path d="M149.8 184.53L151 184.53" stroke="#666" stroke-width="0.5"/>
<text x="148" y="184.53" font-size="2.8" text-anchor="end" fill="#222">2000</text>
<path d="M149.8 198.3L151 198.3" stroke="#666" stroke-width="0.5"/>
<text x="148" y="198.3" font-size="2.8" text-anchor="end" fill="#222">0</text>
<rect x="154" y="167.6" width="9.4" height="30.7" fill="#0c0cce" stroke="#06068a" stroke-width="0.4"/>
<path d="M158.7 165.6L158.7 167.6" stroke="#444" stroke-width="0.5"/>
<path d="M157.7 165.6L159.7 165.6" stroke="#444" stroke-width="0.5"/>
<rect x="169.3" y="179.25" width="9.4" height="19.05" fill="#be0a0a" stroke="#7a0606" stroke-width="0.4"/>
<path d="M174 177.25L174 179.25" stroke="#444" stroke-width="0.5"/>
<path d="M173 177.25L175 177.25" stroke="#444" stroke-width="0.5"/>
<rect x="184.6" y="194.75" width="9.4" height="3.55" fill="#4a8a28" stroke="#2e5a18" stroke-width="0.4"/>
<path d="M189.3 193.75L189.3 194.75" stroke="#444" stroke-width="0.5"/>
<path d="M188.3 193.75L190.3 193.75" stroke="#444" stroke-width="0.5"/>
<text x="194.5" y="157.8" font-size="3.1" font-weight="normal" text-anchor="end" fill="#222" textLength="11" lengthAdjust="spacingAndGlyphs">P < 0.001</text>
<path d="M204.6 157L258.6 157" stroke="#c8c8c8" stroke-width="1"/>
<path d="M258.6 157L258.6 198.3" stroke="#c8c8c8" stroke-width="0.7"/>
<path d="M204.6 157L204.6 198.3" stroke="#777" stroke-width="0.6"/>
<path d="M204.6 198.3L258.6 198.3" stroke="#555" stroke-width="0.6"/>
<path d="M203.6 187.98L204.6 187.98" stroke="#777" stroke-width="0.4"/>
<text x="202.6" y="187.98" font-size="2.1" font-weight="normal" fill="#555" transform="rotate(-90 202.6 187.98)">20</text>
<path d="M203.6 177.65L204.6 177.65" stroke="#777" stroke-width="0.4"/>
<text x="202.6" y="177.65" font-size="2.1" font-weight="normal" fill="#555" transform="rotate(-90 202.6 177.65)">40</text>
<path d="M203.6 167.32L204.6 167.32" stroke="#777" stroke-width="0.4"/>
<text x="202.6" y="167.32" font-size="2.1" font-weight="normal" fill="#555" transform="rotate(-90 202.6 167.32)">60</text>
<text x="198.8" y="177.65" font-size="2.2" font-weight="normal" fill="#555" transform="rotate(-90 198.8 177.65)">Count</text>
<path d="M207.6 198.3L207.6 199.3" stroke="#777" stroke-width="0.4"/>
<text x="207.6" y="200.7" font-size="2.1" font-weight="normal" fill="#555">-10²</text>
<path d="M219.6 198.3L219.6 199.3" stroke="#777" stroke-width="0.4"/>
<text x="219.6" y="200.7" font-size="2.1" font-weight="normal" fill="#555">10²</text>
<path d="M231.6 198.3L231.6 199.3" stroke="#777" stroke-width="0.4"/>
<text x="231.6" y="200.7" font-size="2.1" font-weight="normal" fill="#555">10²</text>
<path d="M243.6 198.3L243.6 199.3" stroke="#777" stroke-width="0.4"/>
<text x="243.6" y="200.7" font-size="2.1" font-weight="normal" fill="#555">10²</text>
<path d="M255.6 198.3L255.6 199.3" stroke="#777" stroke-width="0.4"/>
<text x="255.6" y="200.7" font-size="2.1" font-weight="normal" fill="#555">10²</text>
<text x="224.04" y="202.9" font-size="2.1" font-weight="normal" fill="#555">PE-A</text>
<text x="158.7" y="203.5" font-size="4.8" text-anchor="end" textLength="28" lengthAdjust="spacingAndGlyphs" transform="rotate(-90 158.7 203.5)">CD14++CD16-</text>
<text x="174" y="203.5" font-size="4.8" text-anchor="end" textLength="28" lengthAdjust="spacingAndGlyphs" transform="rotate(-90 174 203.5)">CD14++CD16+</text>
<text x="189.3" y="203.5" font-size="4.8" text-anchor="end" textLength="28" lengthAdjust="spacingAndGlyphs" transform="rotate(-90 189.3 203.5)">CD14+CD16++</text>
<rect x="274.5" y="143" width="106.6" height="9.2" fill="#e9e9e9" stroke="#9a9a9a" stroke-width="1"/>
<text x="327.8" y="147.8" font-size="5.6" textLength="35.59" lengthAdjust="spacingAndGlyphs" stroke="#111" stroke-width="0.18">ITGAM (CD11B)</text>
<path d="M274 157L274 198.3" stroke="#8a8a8a" stroke-width="0.7"/>
<path d="M274 198.3L320 198.3" stroke="#9a9a9a" stroke-width="0.7"/>
<path d="M272.8 157L274 157" stroke="#666" stroke-width="0.5"/>
<text x="271" y="157" font-size="2.8" text-anchor="end" fill="#222">9000</text>
<path d="M272.8 170.77L274 170.77" stroke="#666" stroke-width="0.5"/>
<text x="271" y="170.77" font-size="2.8" text-anchor="end" fill="#222">6000</text>
<path d="M272.8 184.53L274 184.53" stroke="#666" stroke-width="0.5"/>
<text x="271" y="184.53" font-size="2.8" text-anchor="end" fill="#222">3000</text>
<path d="M272.8 198.3L274 198.3" stroke="#666" stroke-width="0.5"/>
<text x="271" y="198.3" font-size="2.8" text-anchor="end" fill="#222">0</text>
<rect x="277" y="162.25" width="9.4" height="36.05" fill="#0c0cce" stroke="#06068a" stroke-width="0.4"/>
<path d="M281.7 159.75L281.7 162.25" stroke="#444" stroke-width="0.5"/>
<path d="M280.7 159.75L282.7 159.75" stroke="#444" stroke-width="0.5"/>
<rect x="292.3" y="167" width="9.4" height="31.3" fill="#be0a0a" stroke="#7a0606" stroke-width="0.4"/>
<path d="M297 165.5L297 167" stroke="#444" stroke-width="0.5"/>
<path d="M296 165.5L298 165.5" stroke="#444" stroke-width="0.5"/>
<rect x="307.6" y="193.25" width="9.4" height="5.05" fill="#4a8a28" stroke="#2e5a18" stroke-width="0.4"/>
<path d="M312.3 191.75L312.3 193.25" stroke="#444" stroke-width="0.5"/>
<path d="M311.3 191.75L313.3 191.75" stroke="#444" stroke-width="0.5"/>
<text x="317.5" y="157.8" font-size="3.1" font-weight="normal" text-anchor="end" fill="#222" textLength="11" lengthAdjust="spacingAndGlyphs">P < 0.001</text>
<path d="M327.6 157L381.2 157" stroke="#c8c8c8" stroke-width="1"/>
<path d="M381.2 157L381.2 198.3" stroke="#c8c8c8" stroke-width="0.7"/>
<path d="M327.6 157L327.6 198.3" stroke="#777" stroke-width="0.6"/>
<path d="M327.6 198.3L381.2 198.3" stroke="#555" stroke-width="0.6"/>
<path d="M326.6 187.98L327.6 187.98" stroke="#777" stroke-width="0.4"/>
<text x="325.6" y="187.98" font-size="2.1" font-weight="normal" fill="#555" transform="rotate(-90 325.6 187.98)">20</text>
<path d="M326.6 177.65L327.6 177.65" stroke="#777" stroke-width="0.4"/>
<text x="325.6" y="177.65" font-size="2.1" font-weight="normal" fill="#555" transform="rotate(-90 325.6 177.65)">40</text>
<path d="M326.6 167.32L327.6 167.32" stroke="#777" stroke-width="0.4"/>
<text x="325.6" y="167.32" font-size="2.1" font-weight="normal" fill="#555" transform="rotate(-90 325.6 167.32)">60</text>
<text x="321.8" y="177.65" font-size="2.2" font-weight="normal" fill="#555" transform="rotate(-90 321.8 177.65)">Count</text>
<path d="M330.6 198.3L330.6 199.3" stroke="#777" stroke-width="0.4"/>
<text x="330.6" y="200.7" font-size="2.1" font-weight="normal" fill="#555">-10²</text>
<path d="M342.5 198.3L342.5 199.3" stroke="#777" stroke-width="0.4"/>
<text x="342.5" y="200.7" font-size="2.1" font-weight="normal" fill="#555">10²</text>
<path d="M354.4 198.3L354.4 199.3" stroke="#777" stroke-width="0.4"/>
<text x="354.4" y="200.7" font-size="2.1" font-weight="normal" fill="#555">10²</text>
<path d="M366.3 198.3L366.3 199.3" stroke="#777" stroke-width="0.4"/>
<text x="366.3" y="200.7" font-size="2.1" font-weight="normal" fill="#555">10²</text>
<path d="M378.2 198.3L378.2 199.3" stroke="#777" stroke-width="0.4"/>
<text x="378.2" y="200.7" font-size="2.1" font-weight="normal" fill="#555">10²</text>
<text x="346.9" y="202.9" font-size="2.1" font-weight="normal" fill="#555">PE-A</text>
<text x="281.7" y="203.5" font-size="4.8" text-anchor="end" textLength="28" lengthAdjust="spacingAndGlyphs" transform="rotate(-90 281.7 203.5)">CD14<tspan baseline-shift="35%" font-size="75%">++</tspan>CD16<tspan baseline-shift="35%" font-size="75%">-</tspan></text>
<text x="297" y="203.5" font-size="4.8" text-anchor="end" textLength="28" lengthAdjust="spacingAndGlyphs" transform="rotate(-90 297 203.5)">CD14<tspan baseline-shift="35%" font-size="75%">++</tspan>CD16<tspan baseline-shift="35%" font-size="75%">+</tspan></text>
<text x="312.3" y="203.5" font-size="4.8" text-anchor="end" textLength="28" lengthAdjust="spacingAndGlyphs" transform="rotate(-90 312.3 203.5)">CD14<tspan baseline-shift="35%" font-size="75%">+</tspan>CD16<tspan baseline-shift="35%" font-size="75%">++</tspan></text>
<rect x="397.7" y="143" width="107.4" height="9.2" fill="#e9e9e9" stroke="#9a9a9a" stroke-width="1"/>
<text x="451.4" y="147.8" font-size="5.6" textLength="12.31" lengthAdjust="spacingAndGlyphs" stroke="#111" stroke-width="0.18">CD36</text>
<path d="M397.2 157L397.2 198.3" stroke="#8a8a8a" stroke-width="0.7"/>
<path d="M397.2 198.3L443.2 198.3" stroke="#9a9a9a" stroke-width="0.7"/>
<path d="M396 157L397.2 157" stroke="#666" stroke-width="0.5"/>
<text x="394.2" y="157" font-size="2.8" text-anchor="end" fill="#222">12000</text>
<path d="M396 170.77L397.2 170.77" stroke="#666" stroke-width="0.5"/>
<text x="394.2" y="170.77" font-size="2.8" text-anchor="end" fill="#222">8000</text>
<path d="M396 184.53L397.2 184.53" stroke="#666" stroke-width="0.5"/>
<text x="394.2" y="184.53" font-size="2.8" text-anchor="end" fill="#222">4000</text>
<path d="M396 198.3L397.2 198.3" stroke="#666" stroke-width="0.5"/>
<text x="394.2" y="198.3" font-size="2.8" text-anchor="end" fill="#222">0</text>
<rect x="400.2" y="161.4" width="9.4" height="36.9" fill="#0c0cce" stroke="#06068a" stroke-width="0.4"/>
<path d="M404.9 158.4L404.9 161.4" stroke="#444" stroke-width="0.5"/>
<path d="M403.9 158.4L405.9 158.4" stroke="#444" stroke-width="0.5"/>
<rect x="415.5" y="170.5" width="9.4" height="27.8" fill="#be0a0a" stroke="#7a0606" stroke-width="0.4"/>
<path d="M420.2 168.5L420.2 170.5" stroke="#444" stroke-width="0.5"/>
<path d="M419.2 168.5L421.2 168.5" stroke="#444" stroke-width="0.5"/>
<rect x="430.8" y="194.75" width="9.4" height="3.55" fill="#4a8a28" stroke="#2e5a18" stroke-width="0.4"/>
<path d="M435.5 192.75L435.5 194.75" stroke="#444" stroke-width="0.5"/>
<path d="M434.5 192.75L436.5 192.75" stroke="#444" stroke-width="0.5"/>
<text x="440.7" y="157.8" font-size="3.1" font-weight="normal" text-anchor="end" fill="#222" textLength="11" lengthAdjust="spacingAndGlyphs">P < 0.001</text>
<path d="M450.8 157L505.2 157" stroke="#c8c8c8" stroke-width="1"/>
<path d="M505.2 157L505.2 198.3" stroke="#c8c8c8" stroke-width="0.7"/>
<path d="M450.8 157L450.8 198.3" stroke="#777" stroke-width="0.6"/>
<path d="M450.8 198.3L505.2 198.3" stroke="#555" stroke-width="0.6"/>
<path d="M449.8 187.98L450.8 187.98" stroke="#777" stroke-width="0.4"/>
<text x="448.8" y="187.98" font-size="2.1" font-weight="normal" fill="#555" transform="rotate(-90 448.8 187.98)">20</text>
<path d="M449.8 177.65L450.8 177.65" stroke="#777" stroke-width="0.4"/>
<text x="448.8" y="177.65" font-size="2.1" font-weight="normal" fill="#555" transform="rotate(-90 448.8 177.65)">40</text>
<path d="M449.8 167.32L450.8 167.32" stroke="#777" stroke-width="0.4"/>
<text x="448.8" y="167.32" font-size="2.1" font-weight="normal" fill="#555" transform="rotate(-90 448.8 167.32)">60</text>
<text x="445" y="177.65" font-size="2.2" font-weight="normal" fill="#555" transform="rotate(-90 445 177.65)">Count</text>
<path d="M453.8 198.3L453.8 199.3" stroke="#777" stroke-width="0.4"/>
<text x="453.8" y="200.7" font-size="2.1" font-weight="normal" fill="#555">-10²</text>
<path d="M465.9 198.3L465.9 199.3" stroke="#777" stroke-width="0.4"/>
<text x="465.9" y="200.7" font-size="2.1" font-weight="normal" fill="#555">10²</text>
<path d="M478 198.3L478 199.3" stroke="#777" stroke-width="0.4"/>
<text x="478" y="200.7" font-size="2.1" font-weight="normal" fill="#555">10²</text>
<path d="M490.1 198.3L490.1 199.3" stroke="#777" stroke-width="0.4"/>
<text x="490.1" y="200.7" font-size="2.1" font-weight="normal" fill="#555">10²</text>
<path d="M502.2 198.3L502.2 199.3" stroke="#777" stroke-width="0.4"/>
<text x="502.2" y="200.7" font-size="2.1" font-weight="normal" fill="#555">10²</text>
<text x="470.38" y="202.9" font-size="2.1" font-weight="normal" fill="#555">PE-A</text>
<text x="404.9" y="203.5" font-size="4.8" text-anchor="end" textLength="28" lengthAdjust="spacingAndGlyphs" transform="rotate(-90 404.9 203.5)">CD14<tspan baseline-shift="35%" font-size="75%">++</tspan>CD16<tspan baseline-shift="35%" font-size="75%">-</tspan></text>
<text x="420.2" y="203.5" font-size="4.8" text-anchor="end" textLength="28" lengthAdjust="spacingAndGlyphs" transform="rotate(-90 420.2 203.5)">CD14<tspan baseline-shift="35%" font-size="75%">++</tspan>CD16<tspan baseline-shift="35%" font-size="75%">+</tspan></text>
<text x="435.5" y="203.5" font-size="4.8" text-anchor="end" textLength="28" lengthAdjust="spacingAndGlyphs" transform="rotate(-90 435.5 203.5)">CD14<tspan baseline-shift="35%" font-size="75%">+</tspan>CD16<tspan baseline-shift="35%" font-size="75%">++</tspan></text>
<text x="54.5" y="253.2" font-size="14" text-anchor="start" fill="#000">B</text>
<rect x="71.1" y="249" width="234.1" height="8.9" fill="#e9e9e9" stroke="#9a9a9a" stroke-width="1"/>
<text x="188.15" y="253.65" font-size="5.6" textLength="202" lengthAdjust="spacingAndGlyphs" stroke="#111" stroke-width="0.18">Depletion of intermediate CD14<tspan baseline-shift="35%" font-size="75%">++</tspan>CD16<tspan baseline-shift="35%" font-size="75%">+</tspan> monocytes using anti-HLA-DR MicroBeads</text>
<rect x="70" y="264.2" width="88.1" height="76.1" fill="#fff" stroke="#6a6a6a" stroke-width="0.7"/>
<path d="M70 273.2L158.1 273.2" stroke="#6a6a6a" stroke-width="0.7"/>
<path d="M70 292.5L158.1 292.5" stroke="#6a6a6a" stroke-width="0.7"/>
<path d="M120 273.2L120 292.5" stroke="#6a6a6a" stroke-width="0.7"/>
<path d="M134.4 292.5L134.4 340.3" stroke="#6a6a6a" stroke-width="0.7"/>
<text x="73.5" y="269.2" font-size="4.8" text-anchor="start" textLength="28.8" lengthAdjust="spacingAndGlyphs">CD14<tspan baseline-shift="35%" font-size="75%">++</tspan>CD16<tspan baseline-shift="35%" font-size="75%">-</tspan></text>
<text x="154.6" y="269.2" font-size="4.8" text-anchor="end" textLength="29.8" lengthAdjust="spacingAndGlyphs">CD14<tspan baseline-shift="35%" font-size="75%">++</tspan>CD16<tspan baseline-shift="35%" font-size="75%">+</tspan></text>
<text x="73.2" y="276.7" font-size="3.4" text-anchor="start" textLength="19" lengthAdjust="spacingAndGlyphs">88.0±2.4 %</text>
<text x="155.3" y="276.7" font-size="3.4" text-anchor="end" textLength="16.5" lengthAdjust="spacingAndGlyphs">5.2±0.9 %</text>
<text x="155.3" y="335.3" font-size="3.4" text-anchor="end" textLength="17.5" lengthAdjust="spacingAndGlyphs">6.8±1.4 %</text>
<text x="129.8" y="315" font-size="4.8" textLength="30" lengthAdjust="spacingAndGlyphs" transform="rotate(-90 129.8 315)">CD14<tspan baseline-shift="35%" font-size="75%">+</tspan>CD16<tspan baseline-shift="35%" font-size="75%">++</tspan></text>
<path d="M82.38 327.94h0.55M95.69 321.71h0.55M81.75 324.84h0.55M92.59 332.99h0.55M82.43 316.25h0.55M93.96 328.62h0.55M98.93 332.18h0.55M89.11 323.38h0.55M105.15 323.28h0.55M85.02 317.33h0.55M90.3 326.32h0.55M87.66 324.86h0.55M91.36 330.15h0.55M96.31 326.77h0.55M78.99 330.21h0.55M81.21 324.1h0.55M80.88 325.31h0.55M85.05 326.8h0.55M109.53 324.96h0.55M94.78 316.04h0.55M88 329.94h0.55M89.17 327.89h0.55M90.34 318.26h0.55M93.11 319.62h0.55M100.96 321.76h0.55M93.84 325.32h0.55M95.44 321.08h0.55M95.72 324.43h0.55M97.3 329.67h0.55M90.57 319.84h0.55M94.33 328.58h0.55M99.58 322.66h0.55M93.05 328.86h0.55M91.42 326.76h0.55M90.82 321.11h0.55M83.64 322.52h0.55M93.27 335.88h0.55M95.59 332.67h0.55M94.39 330.19h0.55M90.83 330.7h0.55M100.37 323.01h0.55M85.56 339.02h0.55M91.19 332.1h0.55M94.97 317.35h0.55M104.33 337.73h0.55M90.79 330.57h0.55M90.49 319.11h0.55M89.05 327.92h0.55M96.42 330.26h0.55M90.08 334.78h0.55M85.16 330.85h0.55M96.4 323.26h0.55M78.98 318.96h0.55M91.15 328.99h0.55M99.01 318.27h0.55M89.74 329.84h0.55M88.78 308.71h0.55M95.75 318.88h0.55M87.25 326.85h0.55M104.66 329.62h0.55M90.41 336.2h0.55M89.23 338.33h0.55M85.61 321.98h0.55M94.05 335.27h0.55M93.65 327.41h0.55M78.8 320.31h0.55M86.06 321.56h0.55M93.24 322.95h0.55M94.45 325.88h0.55M87.73 326.13h0.55M92.3 331.31h0.55M86.86 323.67h0.55M81.54 336.53h0.55M98.44 324.05h0.55M86.85 316.65h0.55M90.74 326.74h0.55M102.82 327.02h0.55M85.06 308.19h0.55M98.18 326.63h0.55M80.07 326.56h0.55M96.44 329.31h0.55M88.67 310.32h0.55M88.97 314.42h0.55M93.3 310.33h0.55M84.28 333.84h0.55M99.59 317.03h0.55M80.52 331.46h0.55M94.84 318.39h0.55M85.56 320.44h0.55M82.59 320.54h0.55M97.23 330.13h0.55M102.06 324.7h0.55M88.91 318.42h0.55M88.98 316.11h0.55M79.06 330.18h0.55M98.37 331.16h0.55M97.72 327.07h0.55M85.42 325.9h0.55M87.48 317.52h0.55M79.57 314.92h0.55M89.69 326.35h0.55M86.88 335.3h0.55M90.8 329.38h0.55M97.04 319.56h0.55M77.91 330.57h0.55M85.59 334.48h0.55M91.75 332.35h0.55M94.31 310.74h0.55M94.04 320.59h0.55M85.19 322.25h0.55M94.33 331.49h0.55M95.79 313.68h0.55M86.18 308.67h0.55M89.11 329.5h0.55M85.14 327.01h0.55M91.11 332.35h0.55M84.8 319.5h0.55M85.15 337.57h0.55M96.27 324.43h0.55M91.08 326.1h0.55M90.94 323.84h0.55M87.72 316.5h0.55M85.87 336.85h0.55M92.94 325.75h0.55M88.44 325.74h0.55M91.85 320.78h0.55M90.9 326.98h0.55M85.23 319.78h0.55M83.73 317.86h0.55M95.06 308.78h0.55M88.12 321.02h0.55M86.01 325.98h0.55M96.49 325.83h0.55M88.88 321.01h0.55M88.95 331.68h0.55M87.36 317.27h0.55M82.14 317.55h0.55M81.39 332.99h0.55" stroke="#cfe8a8" stroke-width="0.55" stroke-linecap="round" opacity="0.6"/>
<path d="M92.57 309.93h0.55M101.4 305.72h0.55M95.75 320.31h0.55M77.35 296.73h0.55M82.3 321.37h0.55M100.09 300.02h0.55M98.11 308.47h0.55M86.58 306.79h0.55M87.13 294.12h0.55M81.72 299.94h0.55M93.65 333.19h0.55M111.58 308.93h0.55M75.95 308.23h0.55M82.21 332.13h0.55M94.29 305.01h0.55M97.21 317.66h0.55M76.72 306.99h0.55M87.81 312.49h0.55M90.78 308.91h0.55M91.24 306.44h0.55M82.55 327.46h0.55M92.61 316.68h0.55M76.97 310.64h0.55M96.28 299.39h0.55M98.51 308.41h0.55M92.95 310.97h0.55M91.47 324.33h0.55M86.5 327.94h0.55M83.47 302.98h0.55M95.41 301.64h0.55M86.76 321.37h0.55M99.41 294.55h0.55M93.77 331.14h0.55M99.28 309.9h0.55M84.92 309.33h0.55M80.5 309.65h0.55M88.23 310.84h0.55M99.19 310h0.55M78.06 322.81h0.55M81.14 307.83h0.55M88.65 308.86h0.55M81.7 309.81h0.55M107.2 306.23h0.55M88.63 323.54h0.55M95.68 319.93h0.55M82.81 313.58h0.55M93.72 325.24h0.55M93.48 309.92h0.55M90.04 310.19h0.55M91.7 319.04h0.55M87.01 304.16h0.55M82.89 323.27h0.55M99.97 322.22h0.55M96.58 320.63h0.55M89.71 318.94h0.55M81.31 310.27h0.55M83.86 319.57h0.55M85.09 311.22h0.55M92.93 325.85h0.55" stroke="#e2f0cc" stroke-width="0.55" stroke-linecap="round" opacity="0.5"/>
<path d="M90.15 281.13h0.5M108.84 280.63h0.5M104.6 282.24h0.5M98.12 278.49h0.5M107.64 282.45h0.5M88.91 290.18h0.5M104.09 282.91h0.5M100.6 288.77h0.5M99.04 285.3h0.5M105.35 281.22h0.5M100.85 282.44h0.5M84.88 286.57h0.5M107.08 284.17h0.5M88.81 277.93h0.5M104.99 283.66h0.5M79.79 283.77h0.5M81.68 283.87h0.5M101.01 285.01h0.5M101.87 284.46h0.5M86.11 282.8h0.5M93.41 283.24h0.5M102.49 285.81h0.5M118.34 276.24h0.5M104.01 283.35h0.5M80.15 285.15h0.5M93.3 286.93h0.5M87.09 283.64h0.5M97.82 283.66h0.5M92.57 278.44h0.5M104.7 286.95h0.5M98.56 280.9h0.5M101.71 285.65h0.5M97.31 283.91h0.5M115.71 280.59h0.5M92.87 278.23h0.5M91.22 281.73h0.5M88.2 281.87h0.5M98.02 290.54h0.5M98.65 278.75h0.5M104.03 281.14h0.5M118.39 280.21h0.5M92.61 279.13h0.5M100.48 280.9h0.5M98.59 282.82h0.5M92.23 286.78h0.5M110.22 284.14h0.5M88.89 280.74h0.5M102.49 291.12h0.5M94.04 281.6h0.5M91.25 280.66h0.5M88.06 283.33h0.5M116 283.95h0.5M93.42 279.11h0.5M101.83 283.87h0.5M85.1 280.69h0.5M98.86 286.99h0.5M106.63 284.57h0.5M95.59 284.91h0.5M99.21 290.47h0.5M86.2 282.84h0.5M114.08 283.15h0.5M115.9 283.82h0.5M101.04 282.84h0.5M83.32 281.04h0.5M106.39 286.81h0.5M105.96 287.02h0.5M96.26 283.28h0.5M110.78 282.89h0.5M83.89 283.27h0.5M93.02 285.79h0.5M90.99 280.77h0.5M95.49 288.61h0.5M98.79 284.43h0.5M99.46 284.84h0.5M110.13 288.14h0.5M80.25 288.03h0.5M99.31 282.99h0.5M87.39 285.42h0.5M107.91 283.57h0.5M72.31 282.92h0.5M97.12 280.63h0.5M94.78 283.05h0.5M90.25 281.62h0.5M100.44 284.89h0.5M93.46 283.68h0.5M83.2 285.51h0.5M90.64 284.59h0.5M88.82 282.4h0.5M101.85 280.32h0.5M98.5 281.75h0.5M117.87 288.11h0.5M102.83 279.85h0.5M93.49 285.8h0.5M93.4 280.4h0.5M85.56 281.64h0.5M99.51 282h0.5M103.34 284.21h0.5M97.75 287.08h0.5M95.49 282.97h0.5M95 283.65h0.5M114.28 286.28h0.5M83.77 282.62h0.5M90.08 286.4h0.5M101.96 286.62h0.5M98.63 278.22h0.5M104.59 284.63h0.5M105.25 280.04h0.5M100.3 281.89h0.5M91.37 285.01h0.5M103.44 281.27h0.5M79.46 276.53h0.5M92.67 287.32h0.5M98.71 277.2h0.5M89.33 285.21h0.5M118.78 287.45h0.5M103.61 284.54h0.5M87.05 282.59h0.5M95.48 281.63h0.5M100.09 282.77h0.5M103.26 288.25h0.5M107.96 285.2h0.5M96.55 279.39h0.5M98.03 285.58h0.5M87.64 287.71h0.5M95.47 285.07h0.5M95.53 280.18h0.5M110.02 282.28h0.5M102.59 281.53h0.5M94.51 286.71h0.5M99.47 286.79h0.5M92.02 286.08h0.5M90.23 285.76h0.5M104.42 287.59h0.5M103.57 280.37h0.5M107.07 280.65h0.5M108.07 288.48h0.5M106.27 282.29h0.5M113.2 284.45h0.5M84.89 282.89h0.5M115.83 283.04h0.5M100.76 282.92h0.5M79.77 282.42h0.5M103.49 284.57h0.5M97.33 277.55h0.5M113.54 286.11h0.5M111.24 287.85h0.5M94.18 282.14h0.5M103 288.97h0.5M79.77 283.26h0.5M91.04 285.63h0.5M116.36 283.06h0.5M84.94 284.1h0.5M96.04 279.32h0.5M109.63 282.38h0.5M107.29 280h0.5M112.08 279.63h0.5M111.58 278.52h0.5M115.38 282.83h0.5M81.28 283.25h0.5M103.27 280.98h0.5M93.62 284.76h0.5M94.36 285.23h0.5M102.81 286.98h0.5M108.64 284.89h0.5M111.95 286.81h0.5M100.54 282.09h0.5M111.25 285.22h0.5M77.37 280.64h0.5M104.78 284.28h0.5M102.6 285.88h0.5M101.04 288.7h0.5M92.5 282.75h0.5M103.1 286.19h0.5M108.5 288.41h0.5M93.81 287.45h0.5M104.78 280.82h0.5M97.75 290.21h0.5M108.47 282.54h0.5M91.19 284.18h0.5M102.99 281.15h0.5M85.57 283.33h0.5M94.65 282.1h0.5M112.46 284.18h0.5M85.01 287.82h0.5M95.73 279.96h0.5M103.08 285.41h0.5M95.43 286.04h0.5M108.88 281.3h0.5M75.45 276.77h0.5M97.86 287.64h0.5M111 288.13h0.5M111.61 279.36h0.5M107.36 285.13h0.5M98.25 282.62h0.5M86.39 284.37h0.5M114.19 282.85h0.5M105.52 281.96h0.5M102.3 280.93h0.5M103.74 283.3h0.5M103.01 282.13h0.5M85.69 282.96h0.5M111.39 288.69h0.5M95.58 286.35h0.5M108.16 285.13h0.5M81.33 284.92h0.5M88.09 287.48h0.5M108.51 285.8h0.5M107.48 280.12h0.5M110.62 284.18h0.5M97.22 281.81h0.5M87.52 282.65h0.5M101.77 282.01h0.5M92.18 282.29h0.5M89.05 286.58h0.5M96.21 286.55h0.5M85.93 286.74h0.5M99.04 285.95h0.5M98.14 281.29h0.5M113.41 282.64h0.5M97.64 281.29h0.5M101.72 282.78h0.5M102.63 284.98h0.5M91.35 279.72h0.5M104.38 286.7h0.5M107.44 280.51h0.5M106.38 285.1h0.5M102.65 285.24h0.5M95.59 284.59h0.5M110.11 282.44h0.5M82.63 283.64h0.5M101.63 278.42h0.5M91.49 285.72h0.5M97.61 284.23h0.5M84.72 286.67h0.5M90.84 280.48h0.5M109.69 284.26h0.5M90.12 287.59h0.5M108.23 285.76h0.5M78.91 283.64h0.5" stroke="#3030f0" stroke-width="0.5" stroke-linecap="round" opacity="0.55"/>
<path d="M118.7 279.6 C106.62 278.9 96.05 279.3 88.5 282.45 C94.54 286.6 108.13 287.4 117.7 286 C119.5 284.2 119.5 280.8 118.7 279.6 Z" fill="#0c0ce6" opacity="0.9" filter="url(#b05)" transform="translate(118.7 282.75) scale(0.93 0.8) translate(-118.7 -282.75)"/>
<path d="M90.37 282.64h0.5M92.95 282.23h0.5M102.72 283.05h0.5M94.38 282.93h0.5M93.64 282.37h0.5M87.6 282.6h0.5M112.92 285.88h0.5M92.94 285.52h0.5M102.5 283.25h0.5M88.47 284.53h0.5M96.81 282.37h0.5M108.05 280h0.5M90.58 282.72h0.5M90.33 285.27h0.5M105.39 281.49h0.5M108.39 282.82h0.5M116.6 289.16h0.5M87.72 282.37h0.5M94.4 281.82h0.5M96.53 282.82h0.5M107.75 283.26h0.5M101.71 282.62h0.5M98.3 284.92h0.5M103.65 282.68h0.5M95.71 285.56h0.5M95.46 283.31h0.5M95.16 281h0.5M89.91 283.38h0.5M90.93 282.19h0.5M99.18 281.68h0.5M97.39 282.81h0.5M88.78 283.35h0.5M94.17 281.92h0.5M96.35 281.9h0.5M96.82 283.35h0.5M99.6 283.02h0.5M114.12 280.48h0.5M106.52 284.8h0.5M108.51 284.76h0.5M86.68 281.47h0.5M101.33 282h0.5M91.03 282.02h0.5M112.29 282h0.5M97.94 283.04h0.5M106.42 284.61h0.5M115.05 280.57h0.5M101.17 284.73h0.5M116.46 283.99h0.5M102.68 283.09h0.5M86.71 283.15h0.5M106.45 281.29h0.5M108.73 281.51h0.5M100.46 285.79h0.5M87.18 284.24h0.5M108.67 282.62h0.5M111.75 281.25h0.5M89.85 281.91h0.5M110.02 278.5h0.5M100.95 283.57h0.5M104.44 281.93h0.5M108.97 285.94h0.5M90.73 284.23h0.5M88.86 282.66h0.5M105.83 281.89h0.5M105.32 282.45h0.5M86.21 283.45h0.5M99.13 283.6h0.5M105.29 286.27h0.5M112.41 286.57h0.5M106.39 285.34h0.5M110.56 279.56h0.5M114.21 283.96h0.5M103.05 282.22h0.5M107.83 282.08h0.5M102.19 280.6h0.5M96.93 282.95h0.5M92.18 282.66h0.5M109.22 281.88h0.5M96.14 284.48h0.5M92.29 281.1h0.5M106.35 283.14h0.5M96.58 283.05h0.5M96.13 281.33h0.5M89.81 283.58h0.5M115.71 283.11h0.5M100.44 285.82h0.5M114.26 281.49h0.5M97.92 282.04h0.5M110.11 283.6h0.5M103.64 281.58h0.5M105.65 282.64h0.5M91.13 283.78h0.5M109.12 279.54h0.5M92.4 283.48h0.5M103.25 287.37h0.5M113.64 283.3h0.5M87.59 283.83h0.5M93.22 283.26h0.5M89.73 283.83h0.5M104.58 283.37h0.5M116.82 282.96h0.5M92.99 283.94h0.5M97.58 284.61h0.5M87.78 283.7h0.5M86.98 282.89h0.5M101.5 282.6h0.5M102.91 279.86h0.5M97.19 282.06h0.5M102.39 281.72h0.5M91.93 284.06h0.5M108.31 282.69h0.5M108.24 285.15h0.5M102.13 284.86h0.5M94.61 282.41h0.5M103.35 284.16h0.5M102.83 283.37h0.5M108.76 285h0.5M88.32 282.31h0.5M103.98 286.27h0.5M103.07 280.38h0.5M89.53 283.16h0.5M103.65 284.74h0.5M104.13 280.98h0.5M113.83 284.07h0.5M115.7 285.52h0.5M115.29 285.27h0.5M98.57 284.72h0.5M105.9 280.38h0.5M110.34 284.63h0.5M92.78 283.72h0.5M89.88 283.89h0.5M103.45 283.53h0.5M115.38 280.87h0.5M91.78 282.91h0.5M94.97 282.62h0.5M93.02 280.39h0.5M89.83 284.49h0.5M111.86 283.99h0.5M113.49 284.37h0.5M98.92 283.9h0.5M101.2 283.2h0.5M94.63 283.61h0.5M103.09 283.51h0.5M96.42 281.4h0.5M94.53 283.23h0.5M103.56 283.7h0.5M113.24 283.13h0.5M99.51 284.08h0.5M115.19 287.06h0.5M97.08 285.11h0.5M107.6 283.57h0.5M87.07 283.97h0.5M88.18 281.74h0.5M95.03 283.78h0.5M106.36 279.8h0.5M102.47 282.8h0.5M109.92 282.97h0.5M103.38 282.91h0.5M108.61 285.95h0.5M107.96 283.06h0.5M101.99 284.94h0.5M93.92 282.52h0.5M98.33 279.84h0.5M102.8 285.98h0.5M104.11 280.43h0.5M95.53 282.53h0.5M109.01 281.44h0.5M96.77 283.88h0.5M91.97 282.87h0.5M106.23 284.08h0.5M98.76 283.42h0.5M114.59 285.1h0.5M110.25 284.13h0.5M100.3 285.62h0.5M90.27 283.31h0.5M98.96 281.65h0.5M93.34 284.96h0.5M103.28 285.56h0.5M90.81 281.85h0.5M100.86 280.92h0.5M90.73 282.53h0.5M102.15 282.01h0.5M109.79 283.27h0.5M88.48 282.96h0.5M93.07 283.9h0.5M104.04 281.08h0.5M114.53 281.95h0.5M114.69 286.62h0.5M87.4 283.59h0.5M115.07 282.35h0.5M102.02 285.81h0.5M90.25 284.08h0.5M96.03 279.35h0.5M101.72 281.13h0.5M91.62 283.6h0.5M112.37 282.4h0.5M99.77 283.95h0.5M116.05 282.53h0.5M95.54 283.98h0.5M99.01 283.92h0.5M116.04 284.91h0.5M104.95 283.57h0.5M99.92 283.03h0.5M88.93 283.15h0.5M90.94 283.28h0.5M96.95 281.41h0.5M107.02 281.7h0.5M85.45 283.63h0.5M93.22 283.3h0.5M109.55 283.58h0.5M102.99 281.61h0.5M99.09 283.12h0.5M88.63 283.13h0.5M91.43 281.33h0.5M102.27 280.19h0.5M92.46 283h0.5M86.83 283.89h0.5M106.56 282.83h0.5M96.99 284.4h0.5M101.85 280.53h0.5M102.32 281.86h0.5M106.05 282.16h0.5M111.72 286.07h0.5M107.72 280.65h0.5M94.4 283.58h0.5M109.82 284.79h0.5M116.42 283.01h0.5M102.2 282.06h0.5M108.52 281.9h0.5M94.26 285.2h0.5M101.43 282.79h0.5M101.38 282.09h0.5M104.8 279.12h0.5M104.4 284.53h0.5M87.65 284.06h0.5M102.06 282.16h0.5M97.05 281.36h0.5M94.5 283h0.5M112.15 280.32h0.5M99.8 281.67h0.5M102.34 285.25h0.5M96.78 283.02h0.5M94.56 283.63h0.5M96.83 282.73h0.5M101.1 282.94h0.5M104.19 277.82h0.5M101.97 282.43h0.5M86.38 283.09h0.5M89.26 281.04h0.5M90.92 281.83h0.5M88.36 283.76h0.5M93.45 285.24h0.5M98.64 282.35h0.5M108.1 285.78h0.5M112.02 281.75h0.5M99.26 285.71h0.5M90.16 281.75h0.5M89 282.51h0.5M102.94 283.32h0.5M104.37 280.64h0.5M111.7 284.93h0.5M88.89 281.54h0.5M113.97 282.94h0.5M96.44 281.57h0.5M107.86 281.26h0.5M116.37 284.78h0.5M95.32 284.8h0.5M94.05 283.63h0.5M93.49 283.19h0.5M112.45 282.01h0.5M103.88 288.18h0.5M93.89 281.89h0.5M104.1 283.59h0.5M94.15 284.15h0.5M100.58 283.56h0.5M87.34 284.26h0.5M106.37 282.32h0.5M89.27 285h0.5M92.54 283.86h0.5M102.07 280.84h0.5M101.13 283.68h0.5M103.55 284.67h0.5M104.62 280.56h0.5M106.25 283.57h0.5M89.09 284.09h0.5M104.17 280.06h0.5M96.16 282.87h0.5M89.72 283.55h0.5M102.31 280.63h0.5M105 280.57h0.5M115.57 281.11h0.5M102.21 283.37h0.5M92.8 281h0.5M88.07 283.01h0.5M89.92 281.71h0.5M87.61 283.45h0.5M101.4 282.11h0.5M87.16 283.88h0.5M109.29 285.11h0.5M113.45 285.75h0.5M95.65 282.05h0.5M90.89 281.18h0.5M111.13 283.12h0.5M91.52 282.3h0.5M115.52 285.36h0.5M99.1 284.67h0.5M104.34 283.01h0.5M97.35 283.48h0.5M98.22 285.48h0.5M106.31 283.37h0.5M106.57 283.77h0.5M100.28 282.47h0.5M91.34 285.34h0.5M97.34 284.15h0.5M90.63 282.81h0.5M117.97 286.64h0.5M92.79 282.38h0.5M98.47 283.17h0.5M105.9 282.52h0.5M91 283.36h0.5M113.09 284.1h0.5M88.12 284.04h0.5M96.36 281.03h0.5M95.38 283.03h0.5M101.52 285.58h0.5M105.59 284.48h0.5M99.03 284.29h0.5M101.74 283.95h0.5M112.94 282.57h0.5M101.82 283.78h0.5M102.22 284.8h0.5M107.1 280.88h0.5M115.55 286.47h0.5M115.76 279.69h0.5M102.14 282.13h0.5M103.94 281.56h0.5M103.36 283.08h0.5M92.77 283.22h0.5M106.19 286.3h0.5M101.53 281.82h0.5M105.11 282.37h0.5M87.44 282.35h0.5M104.85 280.28h0.5M96.46 283.82h0.5M113.95 281.04h0.5M88.26 282.89h0.5M88.23 281.8h0.5M117.54 280.57h0.5M96.03 282.77h0.5M113.45 280.75h0.5M91.86 283.93h0.5M101.21 283.98h0.5M93.25 283.3h0.5M90.02 281.89h0.5M112.05 284.27h0.5M86.09 282.28h0.5M106.92 284.26h0.5M91.56 284.55h0.5M100.53 283.36h0.5M101.58 279.69h0.5M98.81 281.69h0.5M92.88 284.19h0.5M108.95 282.36h0.5M103.74 284.39h0.5M95.71 282.88h0.5M97.36 281.97h0.5M94.46 283.52h0.5M103.73 281.86h0.5M105.93 280.68h0.5M107.57 284.39h0.5M102.24 281.34h0.5M93.79 281.73h0.5M87.89 283.36h0.5M107.08 282.18h0.5M104.71 282.67h0.5M92.86 282.41h0.5M104.9 286.47h0.5M92.29 282.56h0.5M91.81 283.78h0.5M97.67 282.59h0.5M90.68 281.84h0.5M88.16 282.2h0.5M87.71 282.29h0.5M89.88 282.25h0.5M107.45 283.34h0.5M106.15 284.4h0.5M110.15 283.21h0.5M105.11 285.15h0.5M90.45 284.75h0.5M89.26 282.22h0.5M91.77 282.68h0.5M88.65 282.31h0.5M115.02 282.23h0.5M91.72 284.27h0.5M102.38 279.11h0.5M98.1 282.5h0.5M107.41 282.77h0.5M87.9 282.75h0.5M89.78 283.81h0.5M111.96 282.92h0.5M90.73 283.62h0.5M114.65 283.58h0.5M86.5 281.43h0.5M91.37 282.99h0.5M98.59 284.66h0.5M102.58 283.06h0.5M92.82 283.75h0.5M112.08 283.28h0.5M86.95 282.87h0.5M104.15 285.4h0.5M90.04 282.7h0.5M89.6 281.31h0.5M115.32 283.25h0.5M93.26 281.94h0.5M89.07 283.64h0.5M88.03 283.14h0.5M89.88 282.99h0.5M116.19 279.98h0.5M97.21 281.87h0.5M91.44 283.05h0.5M92.96 282.73h0.5M101.15 284.32h0.5M116.86 281.23h0.5M95.93 282.85h0.5M93.81 283.31h0.5M89.62 283.56h0.5M104.93 283.47h0.5M103.85 285.54h0.5M105.48 282.85h0.5M89.76 283.73h0.5M104.13 285.54h0.5M94.64 281.54h0.5M113.16 281.43h0.5M105.46 285.99h0.5M101.53 285.91h0.5M86.62 283.36h0.5M91.72 282.06h0.5M91.07 283.68h0.5M96.4 281.51h0.5M91.83 283.16h0.5M103.96 284.5h0.5M110.76 287.06h0.5M88.29 282.7h0.5M89.09 284.22h0.5M88.11 283.52h0.5M95.24 281.7h0.5M87.14 283.31h0.5M110.98 287.91h0.5M113.73 284.9h0.5M114.42 284.38h0.5M110.16 282.62h0.5M97.19 281.36h0.5M88.42 283.38h0.5M112.7 286.47h0.5M87.97 283.04h0.5M103.24 282.45h0.5M92.37 282.84h0.5M96.7 281.82h0.5M110.58 281.2h0.5M116.16 280.72h0.5M114.71 284.23h0.5M92.89 283.28h0.5M107.76 280.93h0.5M94.43 283.23h0.5M116.68 283.69h0.5M105.52 281.86h0.5M99.18 282.12h0.5M103.83 281.58h0.5M100.4 282.61h0.5M104.28 282.41h0.5M89.17 281.49h0.5M107.25 282.73h0.5M105.77 285.56h0.5M106.53 282.5h0.5M87.84 283.46h0.5M93.47 284.35h0.5M99.86 282.22h0.5M103.31 283.07h0.5M104.79 281.9h0.5M100.77 284.01h0.5M98.09 279.97h0.5M105.12 283.32h0.5M91.47 285.11h0.5M91.32 285.43h0.5M97.91 283.89h0.5M87.04 283.12h0.5M105.61 281.28h0.5M103.66 284.16h0.5M91.25 280.27h0.5M88.04 281.46h0.5M93.99 281.03h0.5M109.31 281.51h0.5M106.78 282.86h0.5M97.83 285.2h0.5M97.58 281.41h0.5M96.23 283.8h0.5M113.32 282.57h0.5M104.94 285.52h0.5M93.44 282.9h0.5M111 282.34h0.5M89.9 281.27h0.5M87.86 282.02h0.5M94.48 283.11h0.5M103.61 283.19h0.5M91.58 284.65h0.5M91.59 281.77h0.5M104.22 284.16h0.5M94.31 280.23h0.5M105.42 281.38h0.5M106.16 282.32h0.5M87.68 282.23h0.5M104.55 282.76h0.5M116.04 280.9h0.5M99.65 281.91h0.5M107.68 282.35h0.5M104.17 283.29h0.5M101.16 282.36h0.5M94.56 283.73h0.5M104.93 283.82h0.5M110.07 284.34h0.5M91.15 282.49h0.5M88.62 282.64h0.5M98.8 283.02h0.5M108.58 282.39h0.5M109.43 282.54h0.5M93.16 282.01h0.5M91.36 281.62h0.5M99.79 283.35h0.5M101.23 282.16h0.5M114.8 283.81h0.5M93.5 283.3h0.5M99.83 281.89h0.5M100.95 281.09h0.5M97.08 283.65h0.5M111.76 283.84h0.5M117.35 284.08h0.5M101.36 285.37h0.5M89.04 283.17h0.5M104.71 282.96h0.5M104.96 286.51h0.5M98.01 283.84h0.5M89.23 284.82h0.5M92.82 283.42h0.5M100.02 283.45h0.5M95.08 283.64h0.5M91.11 283.41h0.5M88.72 283.33h0.5M90.43 282.79h0.5M101.09 280.72h0.5M104.6 278.78h0.5M94.43 281.86h0.5M95.12 285.22h0.5M98.6 282.89h0.5M94.28 283.18h0.5M92.06 284.62h0.5M105.39 286.64h0.5M108.53 282.7h0.5M97.38 280.7h0.5M100.95 281.67h0.5M92.22 281.54h0.5M106.1 280.78h0.5M98.17 282.99h0.5M91.2 284.66h0.5M87.69 284.24h0.5M97.68 283.08h0.5M96.54 281.85h0.5M105.43 281.31h0.5M109.54 281.66h0.5M99.16 282.95h0.5M86.97 284.3h0.5M112.88 286.22h0.5M94.36 281.99h0.5M105.02 284.79h0.5M115.28 285.45h0.5M109.49 286.85h0.5M88.23 283.64h0.5M112.58 284.95h0.5M92.71 284.4h0.5M95.32 283.45h0.5M90.23 284.61h0.5M92.91 285.19h0.5M106.83 283.32h0.5M100.94 281.18h0.5M96.6 282.97h0.5M107.03 282.31h0.5M87.07 283.88h0.5M101.69 279.97h0.5M94.67 284.08h0.5M93.94 285.5h0.5M89.74 284.01h0.5M107.11 282.48h0.5M95.27 283.95h0.5M97.45 282.73h0.5M113.48 288.25h0.5M96.46 282.68h0.5M113.27 283.48h0.5M108.87 285.94h0.5M93.46 284.29h0.5M104.45 282.42h0.5M102.94 284.44h0.5M106.75 283.21h0.5M96.43 283.71h0.5M89.3 283.29h0.5M105.44 281.15h0.5M95.03 281.35h0.5M98.24 283.81h0.5M97.85 283.4h0.5M98.44 280.12h0.5M107.99 283.27h0.5M115.93 280h0.5M105.84 286.4h0.5M89.98 281.56h0.5M91.88 283.38h0.5M99.31 280.09h0.5M88.77 282.72h0.5M107.52 282.63h0.5M97.94 285.74h0.5M98.79 283.02h0.5M87.34 283.09h0.5M101.81 282.44h0.5M98.05 282.5h0.5M91.34 282.22h0.5M107.48 284h0.5M94.57 284.38h0.5M97.21 284.64h0.5M96.02 283.15h0.5M94.9 283.53h0.5M91.22 285.54h0.5M98.27 284.23h0.5M106.53 280.36h0.5M92.52 283.16h0.5M91.72 283.62h0.5M116.2 285.28h0.5M87.41 283.69h0.5M91.12 284.44h0.5M96.1 282.89h0.5M96.13 284.79h0.5M106.25 281.9h0.5M99.65 282.83h0.5M106.52 281.72h0.5M113.95 284.54h0.5M105.82 280.76h0.5M86.65 281.94h0.5M102.06 281.18h0.5M113.3 283.16h0.5M98.27 283.15h0.5M86.63 283.63h0.5M108.63 280.59h0.5M107.95 283.05h0.5M91.6 282.71h0.5M108.5 282.28h0.5M90.32 283.19h0.5M100.44 281.3h0.5M92.71 281.19h0.5M114.67 281.93h0.5M109.76 283.16h0.5M89.28 283.34h0.5M115.36 280.54h0.5M89 283.16h0.5M105.37 283.86h0.5M107.84 282.15h0.5M108.57 282.62h0.5M109.19 282.05h0.5M101.88 283.12h0.5M96.14 284.17h0.5M118.06 281h0.5M100.15 282.05h0.5M109.83 285.2h0.5M102.11 279.57h0.5M114.93 284.89h0.5M92.78 281.29h0.5M88.74 283.93h0.5M90.12 282.54h0.5M87.09 281.25h0.5M101.28 280.46h0.5M87.55 282.08h0.5M87.38 281.96h0.5M88.13 283.79h0.5M98.15 284.83h0.5M113.47 281.76h0.5M103.67 282.35h0.5M101.86 279.49h0.5M105.2 285.14h0.5M108.85 282h0.5M97.39 283.11h0.5M118.91 283.08h0.5M106.74 282.91h0.5M113.63 281.49h0.5M99.17 280.14h0.5M87.58 283.45h0.5M101.32 285.51h0.5M99.77 282.25h0.5M92.26 282.89h0.5M95.96 283.35h0.5M101.87 285.41h0.5M96.04 279.83h0.5M114.29 283.4h0.5M100.6 280.98h0.5M98.12 281.98h0.5M111.44 282.68h0.5" stroke="#1a1ae8" stroke-width="0.55" stroke-linecap="round" opacity="0.75"/>
<path d="M82.41 284.19h0.5M83.21 284.31h0.5M79.68 283.56h0.5M74.83 281.72h0.5M80.83 284.51h0.5M78.41 281.19h0.5M86.99 282.23h0.5M73.58 281.98h0.5M76.26 279.37h0.5M80.26 286.77h0.5M78.48 282.25h0.5M87.93 283.89h0.5M81.68 286.18h0.5M76.28 283.62h0.5M84.73 284.1h0.5M76.33 282.05h0.5M91.1 283.56h0.5M80.88 285.67h0.5M73.23 283.63h0.5M73.38 286.24h0.5M77.24 283.93h0.5M77.59 283.96h0.5M83.79 283.75h0.5M80.61 284.18h0.5M81 282.83h0.5M85.36 285.27h0.5M75.45 281.92h0.5M78.32 284.26h0.5M75.19 286.53h0.5M82.42 284.02h0.5M86.58 282.39h0.5M84.07 284.47h0.5M88.67 281.85h0.5M89.14 284.81h0.5M83.47 285.66h0.5M80.97 283.39h0.5M86.4 283.11h0.5M87.63 286.21h0.5M83.32 284.06h0.5M78.99 282.09h0.5M89.42 281.89h0.5M82.66 284.28h0.5M77.76 282.52h0.5M78.73 287.56h0.5M84.1 286.25h0.5M92.4 285.57h0.5M88.83 282.96h0.5M78.82 286.36h0.5M89.56 281.92h0.5M87.98 284.29h0.5M86.26 285.49h0.5M91.77 282.64h0.5M82.3 286.03h0.5M81 284.75h0.5M81.92 280.71h0.5M79.54 285.36h0.5M79.59 281.01h0.5M79.81 283.95h0.5M84.76 284.37h0.5M84.95 281.88h0.5M79.32 282.4h0.5M80.14 284.57h0.5M88.98 283.36h0.5M87.63 285.78h0.5M76.62 282.32h0.5M83.1 281.3h0.5M91.68 280.42h0.5M76.23 285.19h0.5M78.63 285.06h0.5M77.44 285.69h0.5M79.45 285.09h0.5M87.37 281.1h0.5M77.94 280.65h0.5M76.84 285.44h0.5M82.22 285.32h0.5M89.47 285.65h0.5M85.99 283.02h0.5M80.45 284.37h0.5M86.72 285.75h0.5M83.88 283.28h0.5M82.01 286.79h0.5M83.8 287.4h0.5M78.84 285.38h0.5M83.49 285.17h0.5M78.66 284.41h0.5M82.09 283.31h0.5M76.46 281.27h0.5M80.75 284.79h0.5M83.71 284.24h0.5M84.03 281.39h0.5M87.72 283.94h0.5M78.68 282.83h0.5M87.35 284.16h0.5M74.14 287.58h0.5M75.06 286.89h0.5M86.66 282.02h0.5M88.63 286.08h0.5M87.64 284.98h0.5M84.06 284.21h0.5M79.78 284.31h0.5M88.81 283.63h0.5M92.25 281.04h0.5M82.61 281.16h0.5M73.7 284.28h0.5M80.83 282.83h0.5M77.18 283.4h0.5M74.39 283.47h0.5M79.82 281.58h0.5M84.51 280.49h0.5M84.59 284.3h0.5M85.08 284.06h0.5M86.41 283.36h0.5M77.06 284.5h0.5M78.53 283.18h0.5M83.05 282.16h0.5M87.35 281.07h0.5M88.55 283.77h0.5M90.9 285.81h0.5M85.82 284.35h0.5M83.04 281.36h0.5" stroke="#5050f0" stroke-width="0.5" stroke-linecap="round" opacity="0.55"/>
<path d="M140.37 287.84h0.5M126.43 282.5h0.5M142.83 287.16h0.5M125.44 281.27h0.5M124.18 279.83h0.5M134.54 287.7h0.5M152.63 292.92h0.5M147.55 286.88h0.5M125.54 282.9h0.5M150.59 286.72h0.5M124.53 282.89h0.5M140.86 281.62h0.5M133.17 284.92h0.5M130.54 284.63h0.5M142.4 289.58h0.5M127.17 282.23h0.5M132.99 283.65h0.5M137.12 282.27h0.5M121.6 282.75h0.5M132.2 285.64h0.5M146.57 288.85h0.5M127.06 281.57h0.5M127.97 277.74h0.5M124.32 283.05h0.5M144.98 284.92h0.5M134.22 286.59h0.5M145.65 292.07h0.5M146.71 284.58h0.5M152.53 295.7h0.5M127.72 280.76h0.5M127.95 284.69h0.5M143.27 291.65h0.5M147.6 287.94h0.5M129.69 285.38h0.5M148.18 285.98h0.5M123.53 285.05h0.5M131.88 284.19h0.5M121.22 282.37h0.5M132.51 282.94h0.5M121.15 278.26h0.5M135.63 286.06h0.5M122.49 282.76h0.5M126.5 281.78h0.5M122.88 278.68h0.5M134.68 284.1h0.5M124.82 277.88h0.5M135.15 288.25h0.5M137.6 279.96h0.5M148.62 284.4h0.5M133.63 283.64h0.5M138.78 280.27h0.5M122.89 277.07h0.5M140.2 285.13h0.5M133.39 288.94h0.5M125.58 281.12h0.5M142.18 287.28h0.5M130.9 282.76h0.5M127.89 276.91h0.5M145.25 288.25h0.5M143.18 285.67h0.5M149.84 288.5h0.5M135.74 285.55h0.5M149.4 287.63h0.5M134.74 288.05h0.5M123.88 283.5h0.5M134.05 285.84h0.5M153.37 286.29h0.5M147.1 289.59h0.5M134.23 281.56h0.5M133.38 283.23h0.5M122.72 281.34h0.5M144.14 286.14h0.5M128.72 286.9h0.5M149.02 289.48h0.5M153.57 288.17h0.5M135.85 280.01h0.5M136.8 287.93h0.5M140.82 289.48h0.5M126.82 281.19h0.5M131.82 280.67h0.5M151.51 284.28h0.5M146.17 287.17h0.5M145.4 282.53h0.5M124.85 282.17h0.5M139.98 279.66h0.5M134.1 280.79h0.5M141.31 289.19h0.5M125.3 278.36h0.5M145.14 287.84h0.5M134.44 281.29h0.5" stroke="#e06868" stroke-width="0.5" stroke-linecap="round" opacity="0.75"/>
<path d="M149.5 307.99h0.5M148.03 311.54h0.5M149.58 313.8h0.5M146.42 314.51h0.5M152.17 300.47h0.5M153.74 309.85h0.5M146.58 298.27h0.5M147.8 301.99h0.5M148.9 310.43h0.5M148.97 304.93h0.5M147.87 296.81h0.5M148.98 307.89h0.5M146.99 299.05h0.5M151.32 298.11h0.5M149.21 308.16h0.5M150.84 296.48h0.5M152.29 306.39h0.5M151.63 295.13h0.5M151.8 306.92h0.5M151.12 302.05h0.5M151.3 308.06h0.5M145.27 330.09h0.5M147.96 311.93h0.5M148.99 303.71h0.5M148.6 315.98h0.5M151.46 316.06h0.5M145.85 315.04h0.5M146.12 328.45h0.5M150.26 317.93h0.5M149.41 309.01h0.5M147.86 325.63h0.5M148.69 317.57h0.5M147.64 306.44h0.5M148.56 306.78h0.5M148.3 313.48h0.5M150.86 293.36h0.5M148.45 295.97h0.5M151.77 296.49h0.5M150.44 309.12h0.5M153.14 306.46h0.5M150.91 317.25h0.5M147.22 298.87h0.5M153.19 325.19h0.5M147.61 307.04h0.5M151.5 306.44h0.5M152.31 313.2h0.5M149.26 313.8h0.5M148.38 319.14h0.5M147.97 319.54h0.5M154.93 292.05h0.5M153.15 294.46h0.5M149.27 324.27h0.5M151.8 313.85h0.5M150.24 309.38h0.5M150.44 306.02h0.5M148.8 296.72h0.5M153.26 307.62h0.5M153.61 314.49h0.5M150.43 297.92h0.5M148.86 308.21h0.5M149.16 305.08h0.5M144.4 304.15h0.5M148.87 303.47h0.5M148.73 293.73h0.5M147.54 321.09h0.5M147.35 303.08h0.5M147.61 306.33h0.5M148.28 325.85h0.5M147.14 320.03h0.5M148.39 311.84h0.5M155.01 307.7h0.5M148.68 305.79h0.5M149.71 309.95h0.5M147.01 299.36h0.5M151.12 305.42h0.5M149.51 313.83h0.5M149.67 309.23h0.5M147.06 307.87h0.5M145.7 323.81h0.5M147.74 323.03h0.5M148.35 306.65h0.5M152.31 309.78h0.5M149.85 305.45h0.5M148.88 301.25h0.5M147.75 291.78h0.5M149.11 300.83h0.5M152.55 327.04h0.5M153.65 297.19h0.5M148.66 306.75h0.5M146.07 322h0.5M151.03 310.58h0.5M153.72 312.37h0.5M148.8 310.47h0.5M148.43 312.27h0.5M146.57 312.56h0.5M148.81 304.11h0.5M148.62 306.84h0.5M145.62 313.37h0.5M149.03 324.18h0.5M149.43 316.49h0.5M149.4 306.76h0.5M146.78 303.78h0.5M148.82 301.48h0.5M150.14 317.3h0.5M148.8 318.7h0.5M152.21 314.89h0.5M148.74 308.94h0.5M153.09 321.97h0.5M152 292.41h0.5M144.47 324.08h0.5M151.05 320.19h0.5M150.76 305.3h0.5M150.49 307.62h0.5M152.78 315.64h0.5M147.38 301.17h0.5M151.72 316.01h0.5M150.12 311.15h0.5M146.72 300.31h0.5M150.64 291.5h0.5M150.57 313.32h0.5M150.93 315.72h0.5M153.7 310.71h0.5M147.69 292.62h0.5M144.51 308.95h0.5M151.45 292.93h0.5M149.88 301.6h0.5M148.93 310.03h0.5M149.57 297.35h0.5M151.16 306.86h0.5M145.34 315.07h0.5M152.98 304.56h0.5M153.04 293.76h0.5M148.94 319.85h0.5M152.4 312.76h0.5M151.85 304.36h0.5M151.09 316.76h0.5M151.59 311.5h0.5M151.35 312.01h0.5M150.84 294.06h0.5M150.82 299.58h0.5M148.66 308.6h0.5M150.04 296.16h0.5M148.32 310.26h0.5M148.58 308.34h0.5" stroke="#5a8a4a" stroke-width="0.5" stroke-linecap="round" opacity="0.75"/>
<path d="M68.6 338.3L70 338.3" stroke="#444" stroke-width="0.4"/>
<path d="M69.2 331.8L70 331.8" stroke="#444" stroke-width="0.4"/>
<path d="M69.2 325.3L70 325.3" stroke="#444" stroke-width="0.4"/>
<path d="M68.6 318.8L70 318.8" stroke="#444" stroke-width="0.4"/>
<path d="M69.2 312.3L70 312.3" stroke="#444" stroke-width="0.4"/>
<path d="M69.2 305.8L70 305.8" stroke="#444" stroke-width="0.4"/>
<path d="M68.6 299.3L70 299.3" stroke="#444" stroke-width="0.4"/>
<path d="M69.2 292.8L70 292.8" stroke="#444" stroke-width="0.4"/>
<path d="M69.2 286.3L70 286.3" stroke="#444" stroke-width="0.4"/>
<path d="M68.6 279.8L70 279.8" stroke="#444" stroke-width="0.4"/>
<path d="M69.2 273.3L70 273.3" stroke="#444" stroke-width="0.4"/>
<path d="M69.2 266.8L70 266.8" stroke="#444" stroke-width="0.4"/>
<path d="M72 340.3L72 341.7" stroke="#444" stroke-width="0.4"/>
<path d="M76.43 340.3L76.43 341.1" stroke="#444" stroke-width="0.4"/>
<path d="M80.85 340.3L80.85 341.1" stroke="#444" stroke-width="0.4"/>
<path d="M85.28 340.3L85.28 341.1" stroke="#444" stroke-width="0.4"/>
<path d="M89.71 340.3L89.71 341.7" stroke="#444" stroke-width="0.4"/>
<path d="M94.13 340.3L94.13 341.1" stroke="#444" stroke-width="0.4"/>
<path d="M98.56 340.3L98.56 341.1" stroke="#444" stroke-width="0.4"/>
<path d="M102.98 340.3L102.98 341.1" stroke="#444" stroke-width="0.4"/>
<path d="M107.41 340.3L107.41 341.7" stroke="#444" stroke-width="0.4"/>
<path d="M111.84 340.3L111.84 341.1" stroke="#444" stroke-width="0.4"/>
<path d="M116.26 340.3L116.26 341.1" stroke="#444" stroke-width="0.4"/>
<path d="M120.69 340.3L120.69 341.1" stroke="#444" stroke-width="0.4"/>
<path d="M125.12 340.3L125.12 341.7" stroke="#444" stroke-width="0.4"/>
<path d="M129.54 340.3L129.54 341.1" stroke="#444" stroke-width="0.4"/>
<path d="M133.97 340.3L133.97 341.1" stroke="#444" stroke-width="0.4"/>
<path d="M138.39 340.3L138.39 341.1" stroke="#444" stroke-width="0.4"/>
<path d="M142.82 340.3L142.82 341.7" stroke="#444" stroke-width="0.4"/>
<path d="M147.25 340.3L147.25 341.1" stroke="#444" stroke-width="0.4"/>
<path d="M151.67 340.3L151.67 341.1" stroke="#444" stroke-width="0.4"/>
<path d="M156.1 340.3L156.1 341.1" stroke="#444" stroke-width="0.4"/>
<path d="M89.3 340.3L89.3 342.3" stroke="#111" stroke-width="0.9"/>
<text x="61" y="302" font-size="3.4" font-weight="normal" fill="#333" textLength="26" lengthAdjust="spacingAndGlyphs" transform="rotate(-90 61 302)">CD14 PerCP-A</text>
<text x="113.5" y="349.1" font-size="3.2" font-weight="normal" fill="#333" textLength="28.5" lengthAdjust="spacingAndGlyphs">CD16 PE-Cy7-A</text>
<text x="75" y="344.6" font-size="2.4" font-weight="normal" fill="#333">-1,146</text>
<text x="89.3" y="344.6" font-size="2.4" font-weight="normal" fill="#333">0</text>
<text x="106" y="344.6" font-size="2.4" font-weight="normal" fill="#333">10³</text>
<text x="130" y="344.6" font-size="2.4" font-weight="normal" fill="#333">10⁴</text>
<text x="152" y="344.6" font-size="2.4" font-weight="normal" fill="#333">10⁵</text>
<text x="66.8" y="335.3" font-size="2.4" font-weight="normal" fill="#333" transform="rotate(-90 66.8 335.3)">10²</text>
<text x="66.8" y="300.3" font-size="2.4" font-weight="normal" fill="#333" transform="rotate(-90 66.8 300.3)">10³</text>
<text x="66.8" y="282.3" font-size="2.4" font-weight="normal" fill="#333" transform="rotate(-90 66.8 282.3)">10⁴</text>
<text x="66.8" y="268.3" font-size="2.4" font-weight="normal" fill="#333" transform="rotate(-90 66.8 268.3)">10⁵</text>
<rect x="217.4" y="264.2" width="88.6" height="76.1" fill="#fff" stroke="#6a6a6a" stroke-width="0.7"/>
<path d="M217.4 273.2L306 273.2" stroke="#6a6a6a" stroke-width="0.7"/>
<path d="M217.4 292.9L306 292.9" stroke="#6a6a6a" stroke-width="0.7"/>
<path d="M268.6 273.2L268.6 292.9" stroke="#6a6a6a" stroke-width="0.7"/>
<path d="M281.9 292.9L281.9 340.3" stroke="#6a6a6a" stroke-width="0.7"/>
<text x="220.9" y="269.2" font-size="4.8" text-anchor="start" textLength="28.8" lengthAdjust="spacingAndGlyphs">CD14<tspan baseline-shift="35%" font-size="75%">++</tspan>CD16<tspan baseline-shift="35%" font-size="75%">-</tspan></text>
<text x="302.5" y="269.2" font-size="4.8" text-anchor="end" textLength="29.8" lengthAdjust="spacingAndGlyphs">CD14<tspan baseline-shift="35%" font-size="75%">++</tspan>CD16<tspan baseline-shift="35%" font-size="75%">+</tspan></text>
<text x="220.6" y="276.7" font-size="3.4" text-anchor="start" textLength="19.5" lengthAdjust="spacingAndGlyphs">94.4±3.5 %</text>
<text x="303.2" y="276.7" font-size="3.4" text-anchor="end" textLength="16.5" lengthAdjust="spacingAndGlyphs">0.4±0.2 %</text>
<text x="303.2" y="335.3" font-size="3.4" text-anchor="end" textLength="17.5" lengthAdjust="spacingAndGlyphs">5.2±1.0 %</text>
<text x="277.3" y="315.4" font-size="4.8" textLength="30" lengthAdjust="spacingAndGlyphs" transform="rotate(-90 277.3 315.4)">CD14<tspan baseline-shift="35%" font-size="75%">+</tspan>CD16<tspan baseline-shift="35%" font-size="75%">++</tspan></text>
<path d="M228.45 326.93h0.55M235.46 321.94h0.55M242.93 325.76h0.55M235.48 337.92h0.55M234.16 316.46h0.55M228.88 321.62h0.55M241.08 331.27h0.55M243.96 338.27h0.55M247.47 329.97h0.55M245.28 330.12h0.55M233.95 331.39h0.55M237.76 324.17h0.55M249.49 331.09h0.55M234.51 325.13h0.55M251.61 323.93h0.55M241.91 330.07h0.55M240.56 329.85h0.55M234.53 322.41h0.55M236.49 323.15h0.55M242.37 336.63h0.55M232.06 329.57h0.55M231.5 320.78h0.55M236.01 326.46h0.55M234.8 307.18h0.55M245.88 323.77h0.55M233.59 330.52h0.55M233.83 315.56h0.55M240.44 328.66h0.55M232.43 331.64h0.55M239.73 317.64h0.55M248.11 327.59h0.55M230.55 328.9h0.55M238.23 332.58h0.55M229.25 333.07h0.55M243.19 330.62h0.55M241.17 335.02h0.55M241.82 326.59h0.55M232.36 333.57h0.55M243.43 327.79h0.55M238.38 330.81h0.55M222.14 327.93h0.55M222.24 327.38h0.55M243.87 339.12h0.55M234.57 328.72h0.55M237 309.87h0.55M241.86 325.53h0.55M237.84 318.95h0.55M237.17 326.22h0.55M245.2 327.72h0.55M258.64 322.74h0.55M235.81 325.27h0.55M232.48 336.36h0.55M241.35 316.6h0.55M238.07 333.8h0.55M228.78 326.69h0.55M239.94 322.73h0.55M233.99 339.05h0.55M227.91 324.27h0.55M235.96 320.64h0.55M236.12 330.54h0.55M233.37 315.46h0.55M245.59 336.05h0.55M233.21 327.8h0.55M221.76 333.02h0.55M229.31 321.7h0.55M250.57 316.67h0.55M237.53 318.04h0.55M226.16 317.36h0.55M239.05 316.36h0.55M233.82 330.79h0.55M236.44 316.32h0.55M246.51 326.48h0.55M245.95 318.19h0.55M247.67 316.06h0.55M226.79 322.61h0.55M235.14 327.49h0.55M233.99 330.13h0.55M245.52 320.99h0.55M229.04 322.78h0.55M242.38 331.41h0.55M235.29 318.63h0.55M237.29 332.45h0.55M233.06 334.83h0.55M238.77 327.67h0.55M233.58 335.28h0.55M237.66 315.05h0.55M242.37 322.64h0.55M243.94 326.8h0.55M233.59 326.83h0.55M234.41 319.75h0.55M237.52 331.52h0.55M237.83 325h0.55M234.02 329.66h0.55M239.05 332.4h0.55M227.84 325.23h0.55M240.63 331.97h0.55M228.07 316.94h0.55M237.13 333.07h0.55M244.06 314.85h0.55M238.18 333.91h0.55M237.55 318.3h0.55M233.03 316.15h0.55M244.63 323.77h0.55M234.78 319.4h0.55M236.54 319.16h0.55M231.45 325.3h0.55M235.98 328.84h0.55M238.27 333.97h0.55M237.1 327.45h0.55M238.75 319.88h0.55M244.59 321.6h0.55M227.78 334.43h0.55M241.34 321.59h0.55M243.17 332.42h0.55M241.64 317.29h0.55M238.45 318.25h0.55M233.66 321.61h0.55M232.24 329.08h0.55M232.59 329.99h0.55M238.41 321.3h0.55M238.41 330.45h0.55M244.3 323.76h0.55M247.9 329.64h0.55M244.92 316.03h0.55M230.95 334.14h0.55M236.01 328.88h0.55M244.65 315.38h0.55M240.11 339.28h0.55M242.22 326.23h0.55M240.79 325.65h0.55M242.06 334.8h0.55M236 329.65h0.55M239.21 330.84h0.55M242.44 318.01h0.55M244.42 331.68h0.55M230.75 323.58h0.55M228.54 323.55h0.55" stroke="#cfe8a8" stroke-width="0.55" stroke-linecap="round" opacity="0.6"/>
<path d="M240.1 301.03h0.55M231.21 303.86h0.55M231.84 304.9h0.55M228.83 318.45h0.55M235.72 304.41h0.55M245.41 307.01h0.55M244.66 300.23h0.55M248.79 308.2h0.55M229.81 316.83h0.55M226.68 301.82h0.55M239.36 307.84h0.55M240.66 314.13h0.55M239.48 314.02h0.55M243.18 312.7h0.55M246.34 322.22h0.55M221.61 295.03h0.55M249.98 308.23h0.55M238.94 311.56h0.55M239.65 334.91h0.55M231.75 313.35h0.55M237.48 301.81h0.55M230.41 309.97h0.55M237.3 316.57h0.55M221.65 296.93h0.55M250.7 310.88h0.55M244.06 308.45h0.55M231.72 333.94h0.55M227.5 303.55h0.55M242.87 312.87h0.55M224.24 314.09h0.55M243.3 297.34h0.55M232.93 320.59h0.55M231.88 312.92h0.55M230.09 303.57h0.55M233.39 317.83h0.55M228.85 321.38h0.55M244.1 321.22h0.55M249.76 307.42h0.55M237.01 322.71h0.55M247.59 322.1h0.55M233.79 307.76h0.55M226.84 308.3h0.55M230.22 307.75h0.55M234.37 321.01h0.55M244.29 312.16h0.55M228.25 312.13h0.55M240.88 321.24h0.55M239.1 320.77h0.55M232.14 319.18h0.55M243.34 309.11h0.55M231.33 325.02h0.55M229.43 319.55h0.55M235.25 309.17h0.55M235.38 308.23h0.55M237.1 330.52h0.55M249.07 311.32h0.55M241.19 321.76h0.55M234 331.08h0.55M237.68 318.87h0.55" stroke="#e2f0cc" stroke-width="0.55" stroke-linecap="round" opacity="0.5"/>
<path d="M236.74 280.64h0.5M236.22 282.07h0.5M260.34 283.05h0.5M258.55 282.75h0.5M236.73 284.51h0.5M243.35 279.01h0.5M248.63 287.56h0.5M245.59 280.4h0.5M239.07 280.36h0.5M245.18 281.16h0.5M246.73 284.53h0.5M263.8 280.53h0.5M223.75 288.89h0.5M253.2 282.91h0.5M254.06 281.22h0.5M244.05 286.04h0.5M244.34 284.4h0.5M253.26 284.37h0.5M245.2 285.55h0.5M263.78 287.83h0.5M237.64 286.29h0.5M225.5 279.76h0.5M252.83 285.61h0.5M264.25 278.84h0.5M260.86 282.37h0.5M242.51 285.34h0.5M264.72 281.18h0.5M227.77 282.21h0.5M246.66 287.6h0.5M252.38 283.1h0.5M242.04 282.61h0.5M259.52 279.01h0.5M239.82 281.37h0.5M261.35 284.37h0.5M240.06 286.25h0.5M232.58 283.37h0.5M261.47 278.56h0.5M233.52 282.75h0.5M254.2 281.53h0.5M249.78 283.51h0.5M251.8 280.38h0.5M221.7 277.54h0.5M249.93 286.91h0.5M253.67 279.17h0.5M227.36 283.11h0.5M237.11 278.47h0.5M241.04 281.59h0.5M246.53 285.11h0.5M250.15 284.52h0.5M254.1 283.65h0.5M242.57 282.93h0.5M261.94 283.12h0.5M257.46 288.94h0.5M249.65 286.9h0.5M242.52 281.83h0.5M230.96 281.93h0.5M247.86 278.31h0.5M247.71 281.44h0.5M248.09 280.7h0.5M248.83 284.44h0.5M239.63 281.94h0.5M259.07 285.84h0.5M238.61 285.26h0.5M234.17 282.39h0.5M255.89 282.48h0.5M254.8 282.02h0.5M251.41 283.5h0.5M236.27 290.23h0.5M237.85 279.91h0.5M249.35 285.37h0.5M251.89 283.62h0.5M253.33 286.74h0.5M255.18 279.8h0.5M223.57 286.44h0.5M246.08 284.79h0.5M240.41 281h0.5M250.04 285.92h0.5M252.45 284.45h0.5M222.65 284.74h0.5M260.62 282.41h0.5M241.5 280.91h0.5M250.69 279.27h0.5M240.73 280.3h0.5M254.19 286.86h0.5M241.16 284.46h0.5M251.3 286.85h0.5M255.1 287.65h0.5M231.08 291.76h0.5M241.9 280.59h0.5M236.84 285.11h0.5M256.97 291.23h0.5M262.35 281.65h0.5M243.77 282.55h0.5M240.73 283.43h0.5M240.56 287.46h0.5M251.8 285.82h0.5M245.98 280.47h0.5M253.02 282.77h0.5M233.53 280.99h0.5M241.35 283.31h0.5M261.37 283.41h0.5M253.26 282.99h0.5M245.29 287.64h0.5M248.01 289.84h0.5M247.33 285.11h0.5M252.56 285.94h0.5M241.61 281.13h0.5M253.21 285.33h0.5M225.99 286.27h0.5M249.39 284.88h0.5M248.93 283.69h0.5M247.01 282.26h0.5M245.2 285.85h0.5M222.87 286.43h0.5M255.51 280.76h0.5M253.92 284.88h0.5M241.73 289.02h0.5M249.97 283.56h0.5M232.46 290.47h0.5M250.47 284.89h0.5M245.18 290.16h0.5M246.09 288.68h0.5M260.38 286.89h0.5M255.41 287.42h0.5M246.5 277.75h0.5M223.57 287.97h0.5M255.1 285.38h0.5M239.46 278.01h0.5M246.79 289.03h0.5M246.6 283.94h0.5M248.88 284.08h0.5M251.35 290.81h0.5M237.51 278.5h0.5M257.88 282.4h0.5M241.92 279.77h0.5M245.79 282.66h0.5M252.94 282.77h0.5M230.63 285.44h0.5M246.9 278.29h0.5M243.85 286.23h0.5M247.13 282.98h0.5M254.87 282.04h0.5M239.64 285.53h0.5M245.99 282.09h0.5M250.54 284.73h0.5M258.91 286.97h0.5M248.93 283.88h0.5M236.86 284.56h0.5M243.65 286.46h0.5M257.33 285.88h0.5M247.23 284.95h0.5M265.64 289.06h0.5M240.95 275.51h0.5M255.23 279.38h0.5M248.48 285.32h0.5M265.55 283.45h0.5M246.54 282.25h0.5M251.45 280.31h0.5M254.58 284.98h0.5M263.85 283.05h0.5M251.75 284.57h0.5M247.68 281.1h0.5M241.28 284.12h0.5M253.71 287.07h0.5M240.83 284.75h0.5M255.17 286.54h0.5M250.86 284.6h0.5M243.86 284.06h0.5M245.65 278.8h0.5M239.59 276.81h0.5M253.91 286.61h0.5M243.7 284.49h0.5M249.82 283.23h0.5M265.33 283.42h0.5M251.8 283.8h0.5M250.4 280.01h0.5M239.55 281.14h0.5M257.05 280.76h0.5M236.11 283h0.5M236.74 281.02h0.5M266.62 282h0.5M238.56 288.1h0.5M249.04 287.32h0.5M228.82 283.11h0.5M253.64 284.64h0.5M254.41 287.7h0.5M254.92 287.27h0.5M256.86 281.76h0.5M250.3 287.89h0.5M236.87 285.6h0.5M255.47 287.99h0.5M228.34 291.1h0.5M229.72 284h0.5M249.85 281.66h0.5M244.35 280.13h0.5M231.76 285.14h0.5M230.96 285.08h0.5M247.22 283.6h0.5M235.78 280.3h0.5M257.47 281.14h0.5M241.24 283.47h0.5M256.06 289.91h0.5M255.97 285.97h0.5M245.55 283.39h0.5M227.61 285.66h0.5M242.15 285.14h0.5M261.62 286.62h0.5M241.42 282.05h0.5M230.79 282.28h0.5M249.97 286.07h0.5M254.83 282.96h0.5M234.64 284.14h0.5M251.71 278.07h0.5M249.08 279.71h0.5M242.62 283.57h0.5M236.37 282.47h0.5M248.07 280.99h0.5M256.04 285.95h0.5M254.43 280.83h0.5M245.67 283.01h0.5M249.31 286.22h0.5M241.72 284.05h0.5M257.66 283h0.5M256.42 283.91h0.5M231.27 283.86h0.5M249.64 282.73h0.5M230.62 283.51h0.5M245.3 285.5h0.5M257.59 281.83h0.5M236.84 281.86h0.5M245.61 282.63h0.5M247.84 282.04h0.5M233.75 281.63h0.5M257.09 280.52h0.5M257.14 288.86h0.5M236.93 286.65h0.5M257.8 276.05h0.5M258 285.91h0.5M238.62 289.24h0.5M226.82 287.85h0.5M250.99 280.89h0.5" stroke="#3030f0" stroke-width="0.5" stroke-linecap="round" opacity="0.55"/>
<path d="M267.3 279.1 C254.98 278.4 244.2 278.8 236.5 282.4 C242.66 287 256.52 287.8 266.3 286.4 C268.1 284.6 268.1 280.3 267.3 279.1 Z" fill="#0c0ce6" opacity="0.9" filter="url(#b05)" transform="translate(267.3 282.7) scale(0.93 0.8) translate(-267.3 -282.7)"/>
<path d="M240.11 282.44h0.5M254.23 285.78h0.5M249.76 285.69h0.5M235.79 284.14h0.5M255.88 279.68h0.5M239.8 282.68h0.5M238.95 283.95h0.5M235.53 284.13h0.5M242.04 282.04h0.5M250.54 281.31h0.5M256.88 279.14h0.5M244.89 282.29h0.5M253.88 281.87h0.5M260.42 286.8h0.5M239.26 284.82h0.5M256.58 282.79h0.5M245.05 281.21h0.5M244.36 284.07h0.5M238.86 284.44h0.5M244.93 280.74h0.5M253.59 279.76h0.5M249.06 281.24h0.5M244.66 284.5h0.5M253.73 281.36h0.5M243.19 282.77h0.5M257 281.11h0.5M251.31 282.92h0.5M243.33 281.69h0.5M259.12 282.39h0.5M253.41 284.34h0.5M256.89 281.02h0.5M253.61 283.47h0.5M254.14 281.46h0.5M249.83 282.69h0.5M260.86 281.07h0.5M252.74 283.93h0.5M256.69 284.75h0.5M242.49 282.7h0.5M237.03 283.6h0.5M237.98 283.95h0.5M248.95 282.05h0.5M255.26 285.6h0.5M254.57 281.27h0.5M239.93 284.34h0.5M245.53 279.32h0.5M259.79 278.04h0.5M249.76 283.38h0.5M237.13 283.14h0.5M259.89 282.65h0.5M236.69 282.58h0.5M237.31 281.65h0.5M237.63 281.61h0.5M242.59 283.54h0.5M265.4 284.56h0.5M246.35 284.62h0.5M252.51 282.6h0.5M251.19 281.32h0.5M263.2 284.5h0.5M246.43 281.45h0.5M233.72 282.72h0.5M244.06 281.68h0.5M238.05 282.84h0.5M236.35 283.73h0.5M237.68 281.72h0.5M246.53 283.15h0.5M262.06 282.71h0.5M244.62 284.09h0.5M239.74 282.68h0.5M235.87 283.13h0.5M240.49 282.07h0.5M237.72 283.72h0.5M254.01 281.67h0.5M243.96 281.4h0.5M248.88 282.63h0.5M235.99 283.79h0.5M239.8 279.58h0.5M240.81 282.72h0.5M239.84 282.88h0.5M245.05 281.74h0.5M238.58 280.59h0.5M252.84 280.86h0.5M251.72 283.77h0.5M238.4 284.05h0.5M253.77 282.17h0.5M238.44 283.49h0.5M238.61 282.6h0.5M250.89 282.79h0.5M252.52 281.29h0.5M262.63 282.24h0.5M233.39 283.56h0.5M248.88 281.4h0.5M258.08 283.2h0.5M244.51 283.36h0.5M251.21 283.51h0.5M243.84 285.5h0.5M253.89 284.54h0.5M239.6 283.61h0.5M261.85 282.45h0.5M239.42 282.83h0.5M242.51 283.7h0.5M236.91 283.78h0.5M262.65 278.75h0.5M264.07 282.05h0.5M246.65 282.89h0.5M250.96 283.18h0.5M254.88 288.52h0.5M255.76 285.81h0.5M236.63 284.24h0.5M237.32 283.91h0.5M267.09 285.64h0.5M247.8 281.66h0.5M253.73 283.68h0.5M247.52 282.02h0.5M246.1 282.97h0.5M252.32 282.27h0.5M260.64 279.6h0.5M243.1 282.5h0.5M237.01 282.8h0.5M240.25 285.04h0.5M250.4 280.62h0.5M235.4 282.54h0.5M258.38 281.34h0.5M257.91 281.9h0.5M241.28 284.38h0.5M236.09 283.88h0.5M250.51 283.73h0.5M252.26 282.68h0.5M243.05 283.85h0.5M238.13 281.77h0.5M253.31 282.82h0.5M240.33 282.95h0.5M259.14 282.93h0.5M247.82 284.85h0.5M238.52 283.86h0.5M261.54 285.72h0.5M249.01 283.04h0.5M256.29 278.34h0.5M237.15 283.04h0.5M237.16 281.45h0.5M242.75 282.38h0.5M254.42 278.35h0.5M254.6 285.34h0.5M240.75 283.69h0.5M255.22 283.46h0.5M247.74 283.31h0.5M242.26 285.78h0.5M234.66 283.18h0.5M261.3 282.51h0.5M239.39 283.51h0.5M259.4 282.81h0.5M242.5 284.45h0.5M240.07 282.19h0.5M251.63 282.43h0.5M242.94 281.37h0.5M246.32 282.38h0.5M240.34 280.96h0.5M261.89 280.79h0.5M259.84 282.02h0.5M247.97 283.76h0.5M252.55 281.18h0.5M241.04 283.83h0.5M237.35 282.71h0.5M248.04 283.21h0.5M239.44 281.98h0.5M255.15 280.69h0.5M252.53 285.9h0.5M254.17 282.6h0.5M265.42 283.59h0.5M235.51 282.44h0.5M258.19 282.58h0.5M261.87 284.63h0.5M238.76 282.32h0.5M253.53 283.61h0.5M254.73 282.87h0.5M250.75 280h0.5M238.65 282.89h0.5M264.31 284.97h0.5M239.45 281.13h0.5M258.79 282.85h0.5M264.08 282.79h0.5M248.67 285.83h0.5M251.84 285.69h0.5M260.1 282.35h0.5M234.53 282.59h0.5M256.34 280.77h0.5M241.99 284.66h0.5M237.72 285.08h0.5M258.61 282.43h0.5M255.48 283.59h0.5M246.88 280.33h0.5M236.72 285.48h0.5M248.61 280.6h0.5M253.88 285.09h0.5M251.6 279.28h0.5M244.2 283.75h0.5M240.68 282.92h0.5M235.43 283.79h0.5M256.47 285.23h0.5M245.37 284.94h0.5M249.47 285.46h0.5M253.09 283.32h0.5M249.17 282.56h0.5M238.97 284.25h0.5M264.12 285.16h0.5M242.98 283.5h0.5M239.06 282.81h0.5M260.26 284.88h0.5M243.47 282.31h0.5M252.15 283.67h0.5M263.18 279.3h0.5M251.23 286.58h0.5M254.1 285.43h0.5M264.31 284.36h0.5M250.48 281.3h0.5M240.97 282h0.5M240.66 280.25h0.5M251.39 282.03h0.5M246.1 282.21h0.5M240.76 284.1h0.5M245.67 281.94h0.5M246 280.62h0.5M255.2 284.12h0.5M255.9 282.02h0.5M264.88 280.85h0.5M256.51 288.34h0.5M264.59 285.05h0.5M239.26 283.5h0.5M239.82 282.03h0.5M242.89 281.44h0.5M253.16 280.33h0.5M260.2 281.08h0.5M257.87 283.74h0.5M238.03 282.54h0.5M238.15 282.02h0.5M263.57 282.03h0.5M245.43 284.53h0.5M238.76 284.9h0.5M261.5 285.39h0.5M254.59 284.23h0.5M240.61 280.43h0.5M255.1 286.87h0.5M250.67 284.39h0.5M254.65 281.44h0.5M258.04 278.34h0.5M258.6 285.55h0.5M258.78 282.44h0.5M262.02 284.61h0.5M253.49 280.37h0.5M248.23 281.63h0.5M246.12 285.26h0.5M241.14 284.26h0.5M255.35 283.88h0.5M252.47 281.86h0.5M262.97 285.74h0.5M247.78 282.56h0.5M259.3 286.42h0.5M248.11 279.73h0.5M248.81 284.73h0.5M236.54 282.39h0.5M239.72 283.19h0.5M234.98 283.18h0.5M238.13 282.35h0.5M241.77 282.99h0.5M247.34 282.68h0.5M241.99 284.13h0.5M241.39 284.26h0.5M242.78 281.88h0.5M244.27 283.39h0.5M236.85 282.09h0.5M254.18 282.62h0.5M257.79 286.41h0.5M238.99 284.78h0.5M244.22 282.24h0.5M240.16 283.35h0.5M245.38 281.71h0.5M238.81 281.68h0.5M237.95 282.64h0.5M258.38 285.38h0.5M244.22 283.7h0.5M245.46 281.01h0.5M262.94 290h0.5M260.12 283.98h0.5M241.18 283.72h0.5M235.99 282.43h0.5M244.25 282.94h0.5M249.98 282.86h0.5M265.26 282.5h0.5M264.8 280.06h0.5M250.47 282.51h0.5M263.98 284.01h0.5M253.44 278.43h0.5M248.01 282.29h0.5M241.69 285.48h0.5M245.43 284.19h0.5M255.34 280.64h0.5M258.69 285.17h0.5M254.34 285.12h0.5M242.72 283.05h0.5M255.17 283.01h0.5M253.53 282.29h0.5M253.39 283.01h0.5M243.25 281.96h0.5M255 281.18h0.5M255.42 284.56h0.5M236.1 283.41h0.5M239.57 283.36h0.5M235.1 283.67h0.5M242.74 281.02h0.5M258.45 281.75h0.5M256.51 281.52h0.5M249.25 284.97h0.5M242.58 286.45h0.5M247.57 281.56h0.5M250.54 282.72h0.5M256.95 283.91h0.5M255.11 286.96h0.5M263.26 283.92h0.5M245.44 281.76h0.5M250.57 280.63h0.5M241.38 281.99h0.5M261.81 284.58h0.5M240.95 282.61h0.5M244.17 282.61h0.5M256.6 282.87h0.5M240.96 280.49h0.5M237.51 281.42h0.5M264 285.07h0.5M241.19 283.39h0.5M250.01 284.01h0.5M253.75 281.64h0.5M255.3 281.09h0.5M240.58 283.91h0.5M257.5 285.59h0.5M236.08 282.95h0.5M253.34 284.4h0.5M253.11 285.85h0.5M233.83 282.76h0.5M256.1 283.78h0.5M255.71 282.71h0.5M254.54 283.45h0.5M238.68 284.47h0.5M240.92 281.46h0.5M256.13 281.77h0.5M255.04 279.39h0.5M239.09 282.13h0.5M237.32 281.24h0.5M256.87 283.87h0.5M251.22 282.76h0.5M253.18 281.67h0.5M244.18 280.69h0.5M244.36 283.5h0.5M261.72 284.32h0.5M238.64 282.44h0.5M240.6 283.92h0.5M236.13 282.3h0.5M236.44 283.85h0.5M259.69 286.54h0.5M261.88 282.98h0.5M248.01 283.75h0.5M248.26 282.08h0.5M257.96 282.07h0.5M234.9 281.42h0.5M244.13 281.95h0.5M246.92 285.29h0.5M249.58 281.91h0.5M242.97 285.32h0.5M240.07 284.88h0.5M241.71 283.93h0.5M261.93 284.59h0.5M254.45 286.9h0.5M256.12 283.66h0.5M250.12 283.47h0.5M237.06 282.16h0.5M245.99 282.45h0.5M263.04 282.32h0.5M265.96 280.17h0.5M240.29 283.79h0.5M240.39 283.95h0.5M235.17 281.48h0.5M239.14 283.36h0.5M256.15 280.71h0.5M259.92 282.86h0.5M248.33 281.36h0.5M254.92 286.24h0.5M247.23 283.19h0.5M260.68 283.39h0.5M251.76 288.06h0.5M242.06 283.52h0.5M260.53 280.05h0.5M239.15 283.64h0.5M250.41 281.78h0.5M258.2 278.11h0.5M244.15 283.99h0.5M255.38 283.67h0.5M252.05 281.78h0.5M257.34 284.53h0.5M258.29 282.21h0.5M249.6 286.2h0.5M258.84 281.71h0.5M254.45 283.23h0.5M245.95 286.21h0.5M257.08 279.65h0.5M236.98 282.59h0.5M243.26 280.41h0.5M252.85 280.73h0.5M243.24 284.44h0.5M249.11 285.36h0.5M253.83 284.26h0.5M243.31 284.82h0.5M261 283.61h0.5M237.92 283.42h0.5M251.48 281.74h0.5M264.07 285.86h0.5M241.79 281.72h0.5M246.15 284.41h0.5M236.59 281.97h0.5M238.97 283.8h0.5M245.88 285.27h0.5M239.96 284.79h0.5M251.59 283.36h0.5M251.61 286.01h0.5M246.27 282h0.5M252.25 284.69h0.5M255.48 284.19h0.5M243.54 282.57h0.5M237.58 285.57h0.5M251.2 284.42h0.5M236.03 284.68h0.5M254.92 278.3h0.5M247.34 280.12h0.5M254.9 281.7h0.5M262.97 284.46h0.5M259.07 284.51h0.5M250.72 281.78h0.5M239.95 282.21h0.5M249.75 283.12h0.5M256.75 282.82h0.5M243.45 283.8h0.5M237.9 283.79h0.5M238.88 281.57h0.5M235.88 282.47h0.5M259.66 283.89h0.5M241.8 282.73h0.5M257.61 284.04h0.5M262.09 283.15h0.5M251.28 283.77h0.5M255.99 277.76h0.5M245.67 281.57h0.5M263.88 275.75h0.5M253.95 280.44h0.5M233.64 282.89h0.5M249.25 283.7h0.5M250.98 283.61h0.5M258.3 280.38h0.5M246.75 282.12h0.5M242.07 279.6h0.5M241.7 284.61h0.5M239.57 282.12h0.5M234.42 282.63h0.5M236.08 282.47h0.5M248.98 283.72h0.5M260.44 284.07h0.5M242.54 282.5h0.5M237.56 282.02h0.5M250.04 283.57h0.5M259.56 281.87h0.5M247.42 281.71h0.5M250.39 282.95h0.5M257.37 279.91h0.5M254.13 284.59h0.5M249.37 284.1h0.5M259.76 280.7h0.5M239.29 282.28h0.5M251.58 287.88h0.5M237.58 282.71h0.5M243.68 281.47h0.5M236.91 286.01h0.5M241.91 282.28h0.5M237.2 282.09h0.5M241.68 282.5h0.5M238.9 281.18h0.5M245.1 281.51h0.5M239.61 280.35h0.5M250.05 282.63h0.5M244.69 282.88h0.5M242.54 283.75h0.5M246.98 284.03h0.5M249.68 281.11h0.5M261.37 285.43h0.5M248.65 282.05h0.5M237.59 281.47h0.5M236.79 284.19h0.5M235.34 283.57h0.5M240.83 285.11h0.5M253.18 280.13h0.5M246.27 283.42h0.5M259.63 283.78h0.5M255.94 288.03h0.5M254.98 282.15h0.5M242.58 283.74h0.5M257.56 281.31h0.5M249.49 284.86h0.5M256.84 286.43h0.5M243.92 280.72h0.5M254.41 282.24h0.5M265.7 279.99h0.5M263.11 280.77h0.5M255.93 283.15h0.5M239.74 282.46h0.5M259.62 280.73h0.5M242.91 282.39h0.5M243.13 279.7h0.5M244.54 284.44h0.5M235.1 283.14h0.5M262.94 277.4h0.5M248.83 284.01h0.5M247.46 280.76h0.5M239.2 282.91h0.5M253.27 285.08h0.5M234.94 284.59h0.5M239.63 281.02h0.5M241.47 282.67h0.5M249.06 285.17h0.5M255.34 281.46h0.5M257.94 284.3h0.5M243.35 283.46h0.5M263.89 286.2h0.5M244.44 282.77h0.5M249.62 286.08h0.5M250.31 288.33h0.5M264.74 285.14h0.5M236.86 283.82h0.5M256.52 283.78h0.5M249.66 283.08h0.5M243.04 285.07h0.5M233.45 284.14h0.5M264.7 283.97h0.5M238.83 283.76h0.5M256.04 282.73h0.5M243.42 284.55h0.5M243.72 283.07h0.5M264.43 285.23h0.5M241.95 282.69h0.5M239.31 281.46h0.5M238.22 282.58h0.5M242.41 281.15h0.5M247.49 282.83h0.5M242.74 280.42h0.5M252.22 281.86h0.5M239.16 281.88h0.5M241.62 281.93h0.5M267.33 290.16h0.5M239.53 282.99h0.5M234.84 282.41h0.5M243.2 281.59h0.5M245.22 281.54h0.5M264.73 288.83h0.5M235.06 283.27h0.5M237.7 284.2h0.5M239.22 283.92h0.5M248.73 283.22h0.5M248.71 283.99h0.5M240.74 282.78h0.5M237.45 282.45h0.5M263.63 288.15h0.5M237.29 282.9h0.5M256.19 279.58h0.5M236.26 283.05h0.5M242.16 281.34h0.5M241.98 281.24h0.5M260.66 283.14h0.5M238.22 284.37h0.5M250.6 282.01h0.5M252.28 282.67h0.5M236.79 282.63h0.5M255.92 280.82h0.5M240.42 283.33h0.5M243.98 282.67h0.5M261.49 279.61h0.5M254.08 280.48h0.5M248.24 282.38h0.5M261.25 282.51h0.5M262.86 283.97h0.5M242.51 283.65h0.5M251.43 282.74h0.5M252.96 283.19h0.5M234.97 282.83h0.5M239.31 283.59h0.5M252.51 281.28h0.5M249.17 283.03h0.5M235.11 283.08h0.5M243.17 282.63h0.5M257.9 282.07h0.5M252.4 286.48h0.5M239.91 281.95h0.5M249.71 283.06h0.5M235.73 284.78h0.5M243.51 285.15h0.5M243.15 284.07h0.5M247.8 279.99h0.5M236.14 283.51h0.5M242.2 283.28h0.5M236.16 282.69h0.5M254.15 283.32h0.5M263.77 281.59h0.5M256.72 285.68h0.5M254.55 283.45h0.5M246.68 284.52h0.5M249.31 282.03h0.5M255.3 283.48h0.5M242.52 285.54h0.5M266.67 281.4h0.5M257.97 286.71h0.5M251.76 281.78h0.5M251.9 281.87h0.5M247.69 282.15h0.5M240.57 282.71h0.5M239.2 283.74h0.5M241.19 281.18h0.5M235.25 283.3h0.5M238.5 284.59h0.5M245.83 285.42h0.5M252.69 282.12h0.5M246.13 285.96h0.5M253.36 283.57h0.5M236.51 282.38h0.5M260.52 285.89h0.5M262.6 283.66h0.5M245.27 283.96h0.5M236.35 282.74h0.5M241.28 280.93h0.5M235.8 284.35h0.5M249.89 282.11h0.5M235.97 282.55h0.5M246.4 282.27h0.5M250.21 285.68h0.5M244.76 281.84h0.5M255.9 284.24h0.5M253.54 285.55h0.5M256.1 283.74h0.5M237.5 284.08h0.5M251.82 279.73h0.5M235.14 282.54h0.5M239.11 284.93h0.5M239.82 283.9h0.5M247.11 283.14h0.5M235.02 281.27h0.5M245.63 282.74h0.5M258.05 280.54h0.5M263.39 279.16h0.5M247.64 284.19h0.5M236.95 283.27h0.5M264.92 283.39h0.5M242.06 281.49h0.5M245.54 283.37h0.5M256.48 282.32h0.5M244.55 282.34h0.5M257.02 284.72h0.5M250.81 280.4h0.5M243.19 279.14h0.5M257.71 287.38h0.5M239.43 282.31h0.5M252.45 282.81h0.5M244.57 283.33h0.5M237.01 282.08h0.5M244.71 283.83h0.5M261.23 286.41h0.5M241.95 284.54h0.5M264.64 278.8h0.5M252.81 281.74h0.5M245.39 285.06h0.5M242.7 284.99h0.5M253 286.27h0.5M237.54 282.16h0.5M264.49 284.04h0.5M255.94 279.91h0.5M247.77 281.49h0.5M262.18 282.94h0.5M250.69 281.95h0.5M238.99 283.34h0.5M245.59 283.98h0.5M239.96 283.58h0.5M261.31 282.31h0.5M243.9 281.14h0.5M240.37 282.87h0.5M234.75 283.37h0.5M235.78 283.41h0.5M246.27 283.11h0.5M254.15 284.25h0.5M238.49 281.42h0.5M249.79 283.22h0.5M241.24 284.78h0.5M244.5 282.16h0.5M251.83 286.34h0.5M265.18 285.51h0.5M247.57 282.33h0.5M263.58 286.74h0.5M265.19 286.23h0.5M255.9 283.35h0.5" stroke="#1a1ae8" stroke-width="0.55" stroke-linecap="round" opacity="0.75"/>
<path d="M219.58 280.1h0.5M226.13 280.69h0.5M227.27 285.05h0.5M226.52 281.52h0.5M221.11 284.44h0.5M230.52 281.6h0.5M233.13 284.25h0.5M234.64 284.39h0.5M230.98 285.11h0.5M229.43 280.17h0.5M227.16 284.17h0.5M238.01 281.73h0.5M234.85 278.98h0.5M231.15 286.63h0.5M230.11 283.7h0.5M232.91 285.72h0.5M233.5 282.98h0.5M232.04 287.11h0.5M230.35 282.98h0.5M228.64 285.96h0.5M234.01 282.08h0.5M225.38 283.89h0.5M231.78 279.85h0.5M228.45 287.88h0.5M228.66 284.52h0.5M231.26 283.36h0.5M225.21 281.34h0.5M232.65 283.83h0.5M228.1 284.43h0.5M226.35 279.93h0.5M223.76 283.92h0.5M232.29 284.23h0.5M220.27 283.57h0.5M230.43 284.32h0.5M228.23 283.67h0.5M237.77 282.57h0.5M229.25 287.33h0.5M226.55 284.4h0.5M236.41 282.21h0.5M243.52 281.99h0.5M236.2 285.84h0.5M231.17 286.44h0.5M232.49 284.76h0.5M227.81 283.75h0.5M230.64 280.77h0.5M231.85 282.7h0.5M230.27 284.47h0.5M232.96 284.76h0.5M240.29 284.22h0.5M219.25 283.76h0.5M229.72 284.94h0.5M233.17 282.89h0.5M224.42 285.16h0.5M225.71 282.73h0.5M230.33 281.43h0.5M229.22 284.01h0.5M233.21 282.93h0.5M224.79 281.68h0.5M232.46 281.02h0.5M228.87 282.53h0.5M220.77 283.93h0.5M225.6 286.21h0.5M224.59 282.61h0.5M225.78 281.46h0.5M229.69 283.69h0.5M234.9 284.54h0.5M237.4 285.19h0.5M224.39 285.48h0.5M223.65 282.01h0.5M223.56 282.15h0.5M227.05 282.22h0.5M229.64 281.36h0.5M225.41 283.35h0.5M235.26 283.28h0.5M233.49 283.69h0.5M234.85 283.92h0.5M229.92 286.5h0.5M229.19 282.1h0.5M228.24 284.28h0.5M222.98 282.84h0.5M220.74 286.21h0.5M237.4 283.93h0.5M239.56 280.88h0.5M226.52 283.37h0.5M226 283.44h0.5M234.12 284.07h0.5M233.19 283.15h0.5M229.4 282.42h0.5M222.97 282.64h0.5M235.78 283.24h0.5M229.49 283.36h0.5M226.95 285.18h0.5M231.4 280.31h0.5M226.49 281.86h0.5M236.31 282.25h0.5M220.26 285.12h0.5M222.62 283.4h0.5M237.61 285.01h0.5M226.6 280.85h0.5M232 282.66h0.5M234.21 285.18h0.5M231.19 285.43h0.5M228.66 282.83h0.5M235.16 285.48h0.5M230.33 285.81h0.5M230.79 282.89h0.5M229.46 282.48h0.5M233.35 281.63h0.5M224.74 282.83h0.5M234.28 281.45h0.5M230.05 286.67h0.5M232.55 281.45h0.5M230.39 282.35h0.5M235.35 283.79h0.5M223.27 285.82h0.5M232.11 280.39h0.5M241.39 283.75h0.5M226.88 283.58h0.5M229.08 283.73h0.5M235.32 280.88h0.5" stroke="#5050f0" stroke-width="0.5" stroke-linecap="round" opacity="0.55"/>
<path d="M292.87 284.99h0.5M269.79 282.34h0.5M285.16 281.26h0.5M273.85 280.74h0.5M273.66 290.2h0.5M273.03 282.96h0.5M276.3 286.11h0.5M285.21 287.13h0.5M293.95 281.65h0.5" stroke="#e09090" stroke-width="0.5" stroke-linecap="round" opacity="0.5"/>
<path d="M299.47 309.9h0.5M297.65 304.13h0.5M297.54 303.89h0.5M296.69 304.95h0.5M298.75 300.44h0.5M299.33 301h0.5M303.5 298.45h0.5M301.3 291.5h0.5M293.26 296.78h0.5M297.72 298.7h0.5M296.53 307.15h0.5M294.99 305.84h0.5M291.69 297.42h0.5M294.6 317.24h0.5M293.59 314.25h0.5M298.27 301.66h0.5M297.01 300.11h0.5M294.66 308.74h0.5M299.87 309.72h0.5M297.12 318.02h0.5M300.03 309.55h0.5M302.53 306.97h0.5M298.39 327.23h0.5M299.47 309.24h0.5M297.91 302.75h0.5M300.38 300.29h0.5M296.03 313.14h0.5M301.34 312h0.5M296.03 313.17h0.5M297.71 312.55h0.5M294.73 301.38h0.5M295.09 308.9h0.5M297.07 309.88h0.5M295.36 307.5h0.5M295.3 310h0.5M299.08 310.2h0.5M295.95 300.45h0.5M300.12 307.37h0.5M295.38 318.26h0.5M298.83 294.22h0.5M299.85 311.3h0.5M301.4 305.51h0.5M296.22 317.58h0.5M293.6 304.7h0.5M296.5 296.2h0.5M300.98 307.11h0.5M297.7 307.45h0.5M297.16 308.37h0.5M299.45 302.5h0.5M299.46 308.63h0.5M298.07 314.72h0.5M299.97 321.99h0.5M297.32 307.88h0.5M298.13 314.72h0.5M294.88 294.56h0.5M294.69 315.1h0.5M295.21 301.65h0.5M298.99 310.13h0.5M300.43 313.25h0.5M296.94 300.53h0.5M298.11 323.76h0.5M293.91 311.85h0.5M301.41 326.13h0.5M297.87 299.48h0.5M297.89 304.78h0.5M299.49 317.9h0.5M298.15 300.96h0.5M298.46 311.02h0.5M301.1 309.79h0.5M296.41 303.22h0.5M295.24 312.98h0.5M302.11 312.87h0.5M300.22 313.03h0.5M298.43 306.33h0.5M298.83 304.69h0.5M300.11 297.68h0.5M297.38 291.73h0.5M292.39 308.03h0.5M300.34 304.91h0.5M295.07 306.23h0.5M295.17 296.25h0.5M298.51 310.85h0.5M293.32 317.62h0.5M295.34 307.43h0.5M296.87 310.15h0.5M293.39 308.6h0.5M301.66 305.69h0.5M297.63 304.63h0.5M296.15 314.11h0.5M294.1 309.72h0.5M299.04 299.9h0.5M294.67 304.94h0.5M299.32 312h0.5M297.84 309.42h0.5M295.97 295.15h0.5M299.95 301.68h0.5M296.14 308.26h0.5M293.61 295.12h0.5M293.83 300.37h0.5M297.27 296.18h0.5M295.7 308.52h0.5M294.83 312.17h0.5M298.29 304.99h0.5M301.93 301.93h0.5M297.74 310.69h0.5M301.61 309.34h0.5M296.18 324.23h0.5M295.23 300.42h0.5M296.31 297.7h0.5M298.83 311.3h0.5M295.31 310.63h0.5M295.01 310.87h0.5M300.48 311.94h0.5M298.97 314.79h0.5M301.74 299.54h0.5" stroke="#5a8a4a" stroke-width="0.5" stroke-linecap="round" opacity="0.75"/>
<path d="M216 338.3L217.4 338.3" stroke="#444" stroke-width="0.4"/>
<path d="M216.6 331.8L217.4 331.8" stroke="#444" stroke-width="0.4"/>
<path d="M216.6 325.3L217.4 325.3" stroke="#444" stroke-width="0.4"/>
<path d="M216 318.8L217.4 318.8" stroke="#444" stroke-width="0.4"/>
<path d="M216.6 312.3L217.4 312.3" stroke="#444" stroke-width="0.4"/>
<path d="M216.6 305.8L217.4 305.8" stroke="#444" stroke-width="0.4"/>
<path d="M216 299.3L217.4 299.3" stroke="#444" stroke-width="0.4"/>
<path d="M216.6 292.8L217.4 292.8" stroke="#444" stroke-width="0.4"/>
<path d="M216.6 286.3L217.4 286.3" stroke="#444" stroke-width="0.4"/>
<path d="M216 279.8L217.4 279.8" stroke="#444" stroke-width="0.4"/>
<path d="M216.6 273.3L217.4 273.3" stroke="#444" stroke-width="0.4"/>
<path d="M216.6 266.8L217.4 266.8" stroke="#444" stroke-width="0.4"/>
<path d="M219.4 340.3L219.4 341.7" stroke="#444" stroke-width="0.4"/>
<path d="M223.85 340.3L223.85 341.1" stroke="#444" stroke-width="0.4"/>
<path d="M228.31 340.3L228.31 341.1" stroke="#444" stroke-width="0.4"/>
<path d="M232.76 340.3L232.76 341.1" stroke="#444" stroke-width="0.4"/>
<path d="M237.21 340.3L237.21 341.7" stroke="#444" stroke-width="0.4"/>
<path d="M241.66 340.3L241.66 341.1" stroke="#444" stroke-width="0.4"/>
<path d="M246.12 340.3L246.12 341.1" stroke="#444" stroke-width="0.4"/>
<path d="M250.57 340.3L250.57 341.1" stroke="#444" stroke-width="0.4"/>
<path d="M255.02 340.3L255.02 341.7" stroke="#444" stroke-width="0.4"/>
<path d="M259.47 340.3L259.47 341.1" stroke="#444" stroke-width="0.4"/>
<path d="M263.93 340.3L263.93 341.1" stroke="#444" stroke-width="0.4"/>
<path d="M268.38 340.3L268.38 341.1" stroke="#444" stroke-width="0.4"/>
<path d="M272.83 340.3L272.83 341.7" stroke="#444" stroke-width="0.4"/>
<path d="M277.28 340.3L277.28 341.1" stroke="#444" stroke-width="0.4"/>
<path d="M281.74 340.3L281.74 341.1" stroke="#444" stroke-width="0.4"/>
<path d="M286.19 340.3L286.19 341.1" stroke="#444" stroke-width="0.4"/>
<path d="M290.64 340.3L290.64 341.7" stroke="#444" stroke-width="0.4"/>
<path d="M295.09 340.3L295.09 341.1" stroke="#444" stroke-width="0.4"/>
<path d="M299.55 340.3L299.55 341.1" stroke="#444" stroke-width="0.4"/>
<path d="M304 340.3L304 341.1" stroke="#444" stroke-width="0.4"/>
<path d="M236.7 340.3L236.7 342.3" stroke="#111" stroke-width="0.9"/>
<text x="208.4" y="302" font-size="3.4" font-weight="normal" fill="#333" textLength="26" lengthAdjust="spacingAndGlyphs" transform="rotate(-90 208.4 302)">CD14 PerCP-A</text>
<text x="260.9" y="349.1" font-size="3.2" font-weight="normal" fill="#333" textLength="28.5" lengthAdjust="spacingAndGlyphs">CD16 PE-Cy7-A</text>
<text x="222.4" y="344.6" font-size="2.4" font-weight="normal" fill="#333">-1,146</text>
<text x="236.7" y="344.6" font-size="2.4" font-weight="normal" fill="#333">0</text>
<text x="253.4" y="344.6" font-size="2.4" font-weight="normal" fill="#333">10³</text>
<text x="277.4" y="344.6" font-size="2.4" font-weight="normal" fill="#333">10⁴</text>
<text x="299.4" y="344.6" font-size="2.4" font-weight="normal" fill="#333">10⁵</text>
<text x="214.2" y="335.3" font-size="2.4" font-weight="normal" fill="#333" transform="rotate(-90 214.2 335.3)">10²</text>
<text x="214.2" y="300.3" font-size="2.4" font-weight="normal" fill="#333" transform="rotate(-90 214.2 300.3)">10³</text>
<text x="214.2" y="282.3" font-size="2.4" font-weight="normal" fill="#333" transform="rotate(-90 214.2 282.3)">10⁴</text>
<text x="214.2" y="268.3" font-size="2.4" font-weight="normal" fill="#333" transform="rotate(-90 214.2 268.3)">10⁵</text>
<text x="182" y="294.2" font-size="3.8" textLength="27" lengthAdjust="spacingAndGlyphs">anti-HLA-DR</text>
<text x="182" y="300" font-size="3.8" textLength="25.5" lengthAdjust="spacingAndGlyphs">MicroBeads</text>
<path d="M166 305.8L197.5 305.8" stroke="#222" stroke-width="0.9"/>
<path d="M196.5 304.4 L199.6 305.8 L196.5 307.2 Z" fill="#222"/>
<text x="378" y="265" font-size="14" text-anchor="start" fill="#000">C</text>
<rect x="399.7" y="262" width="107" height="8.8" fill="#e9e9e9" stroke="#9a9a9a" stroke-width="1"/>
<text x="453.2" y="266.6" font-size="5.6" textLength="37.19" lengthAdjust="spacingAndGlyphs" stroke="#111" stroke-width="0.18">ROS-production</text>
<path d="M398.5 275.8L398.5 316.8" stroke="#8a8a8a" stroke-width="0.7"/>
<path d="M398.5 316.8L444.5 316.8" stroke="#9a9a9a" stroke-width="0.7"/>
<path d="M397.3 275.8L398.5 275.8" stroke="#666" stroke-width="0.5"/>
<text x="395.5" y="275.8" font-size="2.8" text-anchor="end" fill="#222">15000</text>
<path d="M397.3 289.47L398.5 289.47" stroke="#666" stroke-width="0.5"/>
<text x="395.5" y="289.47" font-size="2.8" text-anchor="end" fill="#222">10000</text>
<path d="M397.3 303.13L398.5 303.13" stroke="#666" stroke-width="0.5"/>
<text x="395.5" y="303.13" font-size="2.8" text-anchor="end" fill="#222">5000</text>
<path d="M397.3 316.8L398.5 316.8" stroke="#666" stroke-width="0.5"/>
<text x="395.5" y="316.8" font-size="2.8" text-anchor="end" fill="#222">0</text>
<rect x="401.5" y="292.4" width="9.4" height="24.4" fill="#0c0cce" stroke="#06068a" stroke-width="0.4"/>
<path d="M406.2 291.2L406.2 292.4" stroke="#444" stroke-width="0.5"/>
<path d="M405.2 291.2L407.2 291.2" stroke="#444" stroke-width="0.5"/>
<rect x="416.8" y="280.7" width="9.4" height="36.1" fill="#be0a0a" stroke="#7a0606" stroke-width="0.4"/>
<path d="M421.5 279.2L421.5 280.7" stroke="#444" stroke-width="0.5"/>
<path d="M420.5 279.2L422.5 279.2" stroke="#444" stroke-width="0.5"/>
<rect x="432.1" y="287.8" width="9.4" height="29" fill="#4a8a28" stroke="#2e5a18" stroke-width="0.4"/>
<path d="M436.8 285.8L436.8 287.8" stroke="#444" stroke-width="0.5"/>
<path d="M435.8 285.8L437.8 285.8" stroke="#444" stroke-width="0.5"/>
<text x="442" y="276.6" font-size="3.1" font-weight="normal" text-anchor="end" fill="#222" textLength="11" lengthAdjust="spacingAndGlyphs">P < 0.001</text>
<text x="382" y="296.3" font-size="5.6" textLength="10.5" lengthAdjust="spacingAndGlyphs" transform="rotate(-90 382 296.3)">MFI</text>
<path d="M453 275.8L507.4 275.8" stroke="#c8c8c8" stroke-width="1"/>
<path d="M507.4 275.8L507.4 316.8" stroke="#c8c8c8" stroke-width="0.7"/>
<path d="M453 275.8L453 316.8" stroke="#777" stroke-width="0.6"/>
<path d="M453 316.8L507.4 316.8" stroke="#555" stroke-width="0.6"/>
<path d="M452 306.55L453 306.55" stroke="#777" stroke-width="0.4"/>
<text x="451" y="306.55" font-size="2.1" font-weight="normal" fill="#555" transform="rotate(-90 451 306.55)">20</text>
<path d="M452 296.3L453 296.3" stroke="#777" stroke-width="0.4"/>
<text x="451" y="296.3" font-size="2.1" font-weight="normal" fill="#555" transform="rotate(-90 451 296.3)">40</text>
<path d="M452 286.05L453 286.05" stroke="#777" stroke-width="0.4"/>
<text x="451" y="286.05" font-size="2.1" font-weight="normal" fill="#555" transform="rotate(-90 451 286.05)">60</text>
<text x="447.2" y="296.3" font-size="2.2" font-weight="normal" fill="#555" transform="rotate(-90 447.2 296.3)">Count</text>
<path d="M456 316.8L456 317.8" stroke="#777" stroke-width="0.4"/>
<text x="456" y="319.2" font-size="2.1" font-weight="normal" fill="#555">-10²</text>
<path d="M468.1 316.8L468.1 317.8" stroke="#777" stroke-width="0.4"/>
<text x="468.1" y="319.2" font-size="2.1" font-weight="normal" fill="#555">10²</text>
<path d="M480.2 316.8L480.2 317.8" stroke="#777" stroke-width="0.4"/>
<text x="480.2" y="319.2" font-size="2.1" font-weight="normal" fill="#555">10²</text>
<path d="M492.3 316.8L492.3 317.8" stroke="#777" stroke-width="0.4"/>
<text x="492.3" y="319.2" font-size="2.1" font-weight="normal" fill="#555">10²</text>
<path d="M504.4 316.8L504.4 317.8" stroke="#777" stroke-width="0.4"/>
<text x="504.4" y="319.2" font-size="2.1" font-weight="normal" fill="#555">10²</text>
<text x="472.58" y="321.4" font-size="2.1" font-weight="normal" fill="#555">PE-A</text>
<text x="406.2" y="322.5" font-size="4.8" text-anchor="end" textLength="28" lengthAdjust="spacingAndGlyphs" transform="rotate(-90 406.2 322.5)">CD14<tspan baseline-shift="35%" font-size="75%">++</tspan>CD16<tspan baseline-shift="35%" font-size="75%">-</tspan></text>
<text x="421.5" y="322.5" font-size="4.8" text-anchor="end" textLength="28" lengthAdjust="spacingAndGlyphs" transform="rotate(-90 421.5 322.5)">CD14<tspan baseline-shift="35%" font-size="75%">++</tspan>CD16<tspan baseline-shift="35%" font-size="75%">+</tspan></text>
<text x="436.8" y="322.5" font-size="4.8" text-anchor="end" textLength="28" lengthAdjust="spacingAndGlyphs" transform="rotate(-90 436.8 322.5)">CD14<tspan baseline-shift="35%" font-size="75%">+</tspan>CD16<tspan baseline-shift="35%" font-size="75%">++</tspan></text>
<text x="2.5" y="373.8" font-size="14" text-anchor="start" fill="#000">D</text>
<rect x="20.5" y="370" width="152.8" height="8.3" fill="#e9e9e9" stroke="#9a9a9a" stroke-width="1"/>
<text x="96.9" y="374" font-size="6" textLength="142.8" lengthAdjust="spacingAndGlyphs" stroke="#111" stroke-width="0.18">CD14<tspan baseline-shift="35%" font-size="75%">++</tspan>CD16<tspan baseline-shift="35%" font-size="75%">-</tspan> monocytes induced CD4<tspan baseline-shift="super" font-size="70%">+</tspan> T cell proliferation</text>
<path d="M27.7 383.2L173.3 383.2" stroke="#777" stroke-width="0.7"/>
<path d="M173.3 383.2L173.3 439.5" stroke="#888" stroke-width="0.7"/>
<path d="M100 439.7 C100.93 439.5 103.93 439.08 105.6 438.5 C107.27 437.92 108.6 436.7 110 436.2 C111.4 435.7 113 435.95 114 435.5 C115 435.05 115.25 434.75 116 433.5 C116.75 432.25 117.7 429.18 118.5 428 C119.3 426.82 120.05 426.4 120.8 426.4 C121.55 426.4 122.22 427.07 123 428 C123.78 428.93 124.67 432.17 125.5 432 C126.33 431.83 127.23 428.23 128 427 C128.77 425.77 129.35 424.6 130.1 424.6 C130.85 424.6 131.55 425.68 132.5 427 C133.45 428.32 134.8 432 135.8 432.5 C136.8 433 137.63 430.58 138.5 430 C139.37 429.42 140.17 428.75 141 429 C141.83 429.25 142.77 430.5 143.5 431.5 C144.23 432.5 144.73 434.58 145.4 435 C146.07 435.42 146.82 435.67 147.5 434 C148.18 432.33 148.83 429.83 149.5 425 C150.17 420.17 150.75 411.2 151.5 405 C152.25 398.8 153.25 388.63 154 387.8 C154.75 386.97 155.33 393.8 156 400 C156.67 406.2 157.33 418.92 158 425 C158.67 431.08 159.17 434.17 160 436.5 C160.83 438.83 161.33 438.47 163 439 C164.67 439.53 168.83 439.58 170 439.7 Z" fill="#5a5ae6" stroke="#3a3ad0" stroke-width="0.4"/>
<path d="M146.7 383.2L146.7 439.5" stroke="#666" stroke-width="0.6"/>
<path d="M28.3 381.7L28.3 439.5" stroke="#444" stroke-width="0.8"/>
<path d="M27.7 439.5L173.3 439.5" stroke="#333" stroke-width="0.7"/>
<path d="M26.9 439.5L28 439.5" stroke="#444" stroke-width="0.4"/>
<text x="24.8" y="439.5" font-size="2.5" fill="#222" textLength="1.9" lengthAdjust="spacingAndGlyphs" transform="rotate(-90 24.8 439.5)">0</text>
<path d="M26.9 435.37L28 435.37" stroke="#444" stroke-width="0.4"/>
<text x="24.8" y="435.37" font-size="2.5" fill="#222" textLength="2.6" lengthAdjust="spacingAndGlyphs" transform="rotate(-90 24.8 435.37)">10</text>
<path d="M26.9 431.24L28 431.24" stroke="#444" stroke-width="0.4"/>
<text x="24.8" y="431.24" font-size="2.5" fill="#222" textLength="2.6" lengthAdjust="spacingAndGlyphs" transform="rotate(-90 24.8 431.24)">20</text>
<path d="M26.9 427.11L28 427.11" stroke="#444" stroke-width="0.4"/>
<text x="24.8" y="427.11" font-size="2.5" fill="#222" textLength="2.6" lengthAdjust="spacingAndGlyphs" transform="rotate(-90 24.8 427.11)">30</text>
<path d="M26.9 422.98L28 422.98" stroke="#444" stroke-width="0.4"/>
<text x="24.8" y="422.98" font-size="2.5" fill="#222" textLength="2.6" lengthAdjust="spacingAndGlyphs" transform="rotate(-90 24.8 422.98)">40</text>
<path d="M26.9 418.85L28 418.85" stroke="#444" stroke-width="0.4"/>
<text x="24.8" y="418.85" font-size="2.5" fill="#222" textLength="2.6" lengthAdjust="spacingAndGlyphs" transform="rotate(-90 24.8 418.85)">50</text>
<path d="M26.9 414.72L28 414.72" stroke="#444" stroke-width="0.4"/>
<text x="24.8" y="414.72" font-size="2.5" fill="#222" textLength="2.6" lengthAdjust="spacingAndGlyphs" transform="rotate(-90 24.8 414.72)">60</text>
<path d="M26.9 410.59L28 410.59" stroke="#444" stroke-width="0.4"/>
<text x="24.8" y="410.59" font-size="2.5" fill="#222" textLength="2.6" lengthAdjust="spacingAndGlyphs" transform="rotate(-90 24.8 410.59)">70</text>
<path d="M26.9 406.46L28 406.46" stroke="#444" stroke-width="0.4"/>
<text x="24.8" y="406.46" font-size="2.5" fill="#222" textLength="2.6" lengthAdjust="spacingAndGlyphs" transform="rotate(-90 24.8 406.46)">80</text>
<path d="M26.9 402.33L28 402.33" stroke="#444" stroke-width="0.4"/>
<text x="24.8" y="402.33" font-size="2.5" fill="#222" textLength="2.6" lengthAdjust="spacingAndGlyphs" transform="rotate(-90 24.8 402.33)">90</text>
<path d="M26.9 398.2L28 398.2" stroke="#444" stroke-width="0.4"/>
<text x="24.8" y="398.2" font-size="2.5" fill="#222" textLength="2.8" lengthAdjust="spacingAndGlyphs" transform="rotate(-90 24.8 398.2)">100</text>
<path d="M26.9 394.07L28 394.07" stroke="#444" stroke-width="0.4"/>
<text x="24.8" y="394.07" font-size="2.5" fill="#222" textLength="2.8" lengthAdjust="spacingAndGlyphs" transform="rotate(-90 24.8 394.07)">110</text>
<path d="M26.9 389.94L28 389.94" stroke="#444" stroke-width="0.4"/>
<text x="24.8" y="389.94" font-size="2.5" fill="#222" textLength="2.8" lengthAdjust="spacingAndGlyphs" transform="rotate(-90 24.8 389.94)">120</text>
<path d="M26.9 385.81L28 385.81" stroke="#444" stroke-width="0.4"/>
<text x="24.8" y="385.81" font-size="2.5" fill="#222" textLength="2.8" lengthAdjust="spacingAndGlyphs" transform="rotate(-90 24.8 385.81)">130</text>
<path d="M26.9 381.68L28 381.68" stroke="#444" stroke-width="0.4"/>
<text x="24.8" y="381.68" font-size="2.5" fill="#222" textLength="2.8" lengthAdjust="spacingAndGlyphs" transform="rotate(-90 24.8 381.68)">140</text>
<text x="21.5" y="412" font-size="3.2" fill="#333" textLength="10.4" lengthAdjust="spacingAndGlyphs" transform="rotate(-90 21.5 412)">Count</text>
<path d="M29.7 439.5L29.7 440.7" stroke="#444" stroke-width="0.35"/>
<path d="M32.59 439.5L32.59 440.1" stroke="#444" stroke-width="0.35"/>
<path d="M35.48 439.5L35.48 440.1" stroke="#444" stroke-width="0.35"/>
<path d="M38.37 439.5L38.37 440.1" stroke="#444" stroke-width="0.35"/>
<path d="M41.26 439.5L41.26 440.1" stroke="#444" stroke-width="0.35"/>
<path d="M44.15 439.5L44.15 440.7" stroke="#444" stroke-width="0.35"/>
<path d="M47.04 439.5L47.04 440.1" stroke="#444" stroke-width="0.35"/>
<path d="M49.93 439.5L49.93 440.1" stroke="#444" stroke-width="0.35"/>
<path d="M52.82 439.5L52.82 440.1" stroke="#444" stroke-width="0.35"/>
<path d="M55.71 439.5L55.71 440.1" stroke="#444" stroke-width="0.35"/>
<path d="M58.6 439.5L58.6 440.7" stroke="#444" stroke-width="0.35"/>
<path d="M61.49 439.5L61.49 440.1" stroke="#444" stroke-width="0.35"/>
<path d="M64.38 439.5L64.38 440.1" stroke="#444" stroke-width="0.35"/>
<path d="M67.27 439.5L67.27 440.1" stroke="#444" stroke-width="0.35"/>
<path d="M70.16 439.5L70.16 440.1" stroke="#444" stroke-width="0.35"/>
<path d="M73.05 439.5L73.05 440.7" stroke="#444" stroke-width="0.35"/>
<path d="M75.94 439.5L75.94 440.1" stroke="#444" stroke-width="0.35"/>
<path d="M78.83 439.5L78.83 440.1" stroke="#444" stroke-width="0.35"/>
<path d="M81.72 439.5L81.72 440.1" stroke="#444" stroke-width="0.35"/>
<path d="M84.61 439.5L84.61 440.1" stroke="#444" stroke-width="0.35"/>
<path d="M87.5 439.5L87.5 440.7" stroke="#444" stroke-width="0.35"/>
<path d="M90.39 439.5L90.39 440.1" stroke="#444" stroke-width="0.35"/>
<path d="M93.28 439.5L93.28 440.1" stroke="#444" stroke-width="0.35"/>
<path d="M96.17 439.5L96.17 440.1" stroke="#444" stroke-width="0.35"/>
<path d="M99.06 439.5L99.06 440.1" stroke="#444" stroke-width="0.35"/>
<path d="M101.94 439.5L101.94 440.7" stroke="#444" stroke-width="0.35"/>
<path d="M104.83 439.5L104.83 440.1" stroke="#444" stroke-width="0.35"/>
<path d="M107.72 439.5L107.72 440.1" stroke="#444" stroke-width="0.35"/>
<path d="M110.61 439.5L110.61 440.1" stroke="#444" stroke-width="0.35"/>
<path d="M113.5 439.5L113.5 440.1" stroke="#444" stroke-width="0.35"/>
<path d="M116.39 439.5L116.39 440.7" stroke="#444" stroke-width="0.35"/>
<path d="M119.28 439.5L119.28 440.1" stroke="#444" stroke-width="0.35"/>
<path d="M122.17 439.5L122.17 440.1" stroke="#444" stroke-width="0.35"/>
<path d="M125.06 439.5L125.06 440.1" stroke="#444" stroke-width="0.35"/>
<path d="M127.95 439.5L127.95 440.1" stroke="#444" stroke-width="0.35"/>
<path d="M130.84 439.5L130.84 440.7" stroke="#444" stroke-width="0.35"/>
<path d="M133.73 439.5L133.73 440.1" stroke="#444" stroke-width="0.35"/>
<path d="M136.62 439.5L136.62 440.1" stroke="#444" stroke-width="0.35"/>
<path d="M139.51 439.5L139.51 440.1" stroke="#444" stroke-width="0.35"/>
<path d="M142.4 439.5L142.4 440.1" stroke="#444" stroke-width="0.35"/>
<path d="M145.29 439.5L145.29 440.7" stroke="#444" stroke-width="0.35"/>
<path d="M148.18 439.5L148.18 440.1" stroke="#444" stroke-width="0.35"/>
<path d="M151.07 439.5L151.07 440.1" stroke="#444" stroke-width="0.35"/>
<path d="M153.96 439.5L153.96 440.1" stroke="#444" stroke-width="0.35"/>
<path d="M156.85 439.5L156.85 440.1" stroke="#444" stroke-width="0.35"/>
<path d="M159.74 439.5L159.74 440.7" stroke="#444" stroke-width="0.35"/>
<path d="M162.63 439.5L162.63 440.1" stroke="#444" stroke-width="0.35"/>
<path d="M165.52 439.5L165.52 440.1" stroke="#444" stroke-width="0.35"/>
<path d="M168.41 439.5L168.41 440.1" stroke="#444" stroke-width="0.35"/>
<path d="M171.3 439.5L171.3 440.1" stroke="#444" stroke-width="0.35"/>
<text x="48.5" y="443.5" font-size="2.8" font-weight="normal" fill="#222">10<tspan baseline-shift="40%" font-size="70%">1</tspan></text>
<text x="84.85" y="443.5" font-size="2.8" font-weight="normal" fill="#222">10<tspan baseline-shift="40%" font-size="70%">2</tspan></text>
<text x="121.2" y="443.5" font-size="2.8" font-weight="normal" fill="#222">10<tspan baseline-shift="40%" font-size="70%">3</tspan></text>
<text x="157.55" y="443.5" font-size="2.8" font-weight="normal" fill="#222">10<tspan baseline-shift="40%" font-size="70%">4</tspan></text>
<text x="100.8" y="448.3" font-size="2.8" font-weight="normal" fill="#333" textLength="13" lengthAdjust="spacingAndGlyphs">FITC-A</text>
<text x="73.2" y="399.9" font-size="5" textLength="52.5" lengthAdjust="spacingAndGlyphs">proliferating CD4<tspan baseline-shift="35%" font-size="75%">+</tspan> T cells</text>
<text x="73.2" y="409.5" font-size="4.7" textLength="26" lengthAdjust="spacingAndGlyphs">45.4 ± 7.9 %</text>
<rect x="185.1" y="370" width="152.6" height="8.3" fill="#e9e9e9" stroke="#9a9a9a" stroke-width="1"/>
<text x="261.4" y="374" font-size="6" textLength="142.8" lengthAdjust="spacingAndGlyphs" stroke="#111" stroke-width="0.18">CD14<tspan baseline-shift="35%" font-size="75%">++</tspan>CD16<tspan baseline-shift="35%" font-size="75%">+</tspan> monocytes induced CD4<tspan baseline-shift="super" font-size="70%">+</tspan> T cell proliferation</text>
<path d="M192 383.2L337.2 383.2" stroke="#777" stroke-width="0.7"/>
<path d="M337.2 383.2L337.2 439.5" stroke="#888" stroke-width="0.7"/>
<path d="M264 439.7 C264.83 439.58 267.83 439.7 269 439 C270.17 438.3 270.13 436.63 271 435.5 C271.87 434.37 273.28 432.62 274.2 432.2 C275.12 431.78 275.78 432.7 276.5 433 C277.22 433.3 277.75 435 278.5 434 C279.25 433 280.13 429.08 281 427 C281.87 424.92 282.78 421.83 283.7 421.5 C284.62 421.17 285.45 423.25 286.5 425 C287.55 426.75 289.08 431.67 290 432 C290.92 432.33 291.32 428.23 292 427 C292.68 425.77 293.35 424.6 294.1 424.6 C294.85 424.6 295.48 425.35 296.5 427 C297.52 428.65 299.2 433.83 300.2 434.5 C301.2 435.17 301.78 431.87 302.5 431 C303.22 430.13 303.75 429.13 304.5 429.3 C305.25 429.47 306.13 430.88 307 432 C307.87 433.12 308.95 435.67 309.7 436 C310.45 436.33 310.87 435.83 311.5 434 C312.13 432.17 312.83 429 313.5 425 C314.17 421 314.78 414.13 315.5 410 C316.22 405.87 317.05 400.53 317.8 400.2 C318.55 399.87 319.22 403.87 320 408 C320.78 412.13 321.77 420.33 322.5 425 C323.23 429.67 323.65 433.67 324.4 436 C325.15 438.33 325.4 438.38 327 439 C328.6 439.62 332.83 439.58 334 439.7 Z" fill="#e86464" stroke="#c84848" stroke-width="0.4"/>
<path d="M310.9 383.2L310.9 439.5" stroke="#666" stroke-width="0.6"/>
<path d="M192.6 381.7L192.6 439.5" stroke="#444" stroke-width="0.8"/>
<path d="M192 439.5L337.2 439.5" stroke="#333" stroke-width="0.7"/>
<path d="M191.2 439.5L192.3 439.5" stroke="#444" stroke-width="0.4"/>
<text x="189.1" y="439.5" font-size="2.5" fill="#222" textLength="1.9" lengthAdjust="spacingAndGlyphs" transform="rotate(-90 189.1 439.5)">0</text>
<path d="M191.2 435.37L192.3 435.37" stroke="#444" stroke-width="0.4"/>
<text x="189.1" y="435.37" font-size="2.5" fill="#222" textLength="2.6" lengthAdjust="spacingAndGlyphs" transform="rotate(-90 189.1 435.37)">10</text>
<path d="M191.2 431.24L192.3 431.24" stroke="#444" stroke-width="0.4"/>
<text x="189.1" y="431.24" font-size="2.5" fill="#222" textLength="2.6" lengthAdjust="spacingAndGlyphs" transform="rotate(-90 189.1 431.24)">20</text>
<path d="M191.2 427.11L192.3 427.11" stroke="#444" stroke-width="0.4"/>
<text x="189.1" y="427.11" font-size="2.5" fill="#222" textLength="2.6" lengthAdjust="spacingAndGlyphs" transform="rotate(-90 189.1 427.11)">30</text>
<path d="M191.2 422.98L192.3 422.98" stroke="#444" stroke-width="0.4"/>
<text x="189.1" y="422.98" font-size="2.5" fill="#222" textLength="2.6" lengthAdjust="spacingAndGlyphs" transform="rotate(-90 189.1 422.98)">40</text>
<path d="M191.2 418.85L192.3 418.85" stroke="#444" stroke-width="0.4"/>
<text x="189.1" y="418.85" font-size="2.5" fill="#222" textLength="2.6" lengthAdjust="spacingAndGlyphs" transform="rotate(-90 189.1 418.85)">50</text>
<path d="M191.2 414.72L192.3 414.72" stroke="#444" stroke-width="0.4"/>
<text x="189.1" y="414.72" font-size="2.5" fill="#222" textLength="2.6" lengthAdjust="spacingAndGlyphs" transform="rotate(-90 189.1 414.72)">60</text>
<path d="M191.2 410.59L192.3 410.59" stroke="#444" stroke-width="0.4"/>
<text x="189.1" y="410.59" font-size="2.5" fill="#222" textLength="2.6" lengthAdjust="spacingAndGlyphs" transform="rotate(-90 189.1 410.59)">70</text>
<path d="M191.2 406.46L192.3 406.46" stroke="#444" stroke-width="0.4"/>
<text x="189.1" y="406.46" font-size="2.5" fill="#222" textLength="2.6" lengthAdjust="spacingAndGlyphs" transform="rotate(-90 189.1 406.46)">80</text>
<path d="M191.2 402.33L192.3 402.33" stroke="#444" stroke-width="0.4"/>
<text x="189.1" y="402.33" font-size="2.5" fill="#222" textLength="2.6" lengthAdjust="spacingAndGlyphs" transform="rotate(-90 189.1 402.33)">90</text>
<path d="M191.2 398.2L192.3 398.2" stroke="#444" stroke-width="0.4"/>
<text x="189.1" y="398.2" font-size="2.5" fill="#222" textLength="2.8" lengthAdjust="spacingAndGlyphs" transform="rotate(-90 189.1 398.2)">100</text>
<path d="M191.2 394.07L192.3 394.07" stroke="#444" stroke-width="0.4"/>
<text x="189.1" y="394.07" font-size="2.5" fill="#222" textLength="2.8" lengthAdjust="spacingAndGlyphs" transform="rotate(-90 189.1 394.07)">110</text>
<path d="M191.2 389.94L192.3 389.94" stroke="#444" stroke-width="0.4"/>
<text x="189.1" y="389.94" font-size="2.5" fill="#222" textLength="2.8" lengthAdjust="spacingAndGlyphs" transform="rotate(-90 189.1 389.94)">120</text>
<path d="M191.2 385.81L192.3 385.81" stroke="#444" stroke-width="0.4"/>
<text x="189.1" y="385.81" font-size="2.5" fill="#222" textLength="2.8" lengthAdjust="spacingAndGlyphs" transform="rotate(-90 189.1 385.81)">130</text>
<path d="M191.2 381.68L192.3 381.68" stroke="#444" stroke-width="0.4"/>
<text x="189.1" y="381.68" font-size="2.5" fill="#222" textLength="2.8" lengthAdjust="spacingAndGlyphs" transform="rotate(-90 189.1 381.68)">140</text>
<text x="185.8" y="412" font-size="3.2" fill="#333" textLength="10.4" lengthAdjust="spacingAndGlyphs" transform="rotate(-90 185.8 412)">Count</text>
<path d="M194 439.5L194 440.7" stroke="#444" stroke-width="0.35"/>
<path d="M196.88 439.5L196.88 440.1" stroke="#444" stroke-width="0.35"/>
<path d="M199.76 439.5L199.76 440.1" stroke="#444" stroke-width="0.35"/>
<path d="M202.64 439.5L202.64 440.1" stroke="#444" stroke-width="0.35"/>
<path d="M205.53 439.5L205.53 440.1" stroke="#444" stroke-width="0.35"/>
<path d="M208.41 439.5L208.41 440.7" stroke="#444" stroke-width="0.35"/>
<path d="M211.29 439.5L211.29 440.1" stroke="#444" stroke-width="0.35"/>
<path d="M214.17 439.5L214.17 440.1" stroke="#444" stroke-width="0.35"/>
<path d="M217.05 439.5L217.05 440.1" stroke="#444" stroke-width="0.35"/>
<path d="M219.93 439.5L219.93 440.1" stroke="#444" stroke-width="0.35"/>
<path d="M222.82 439.5L222.82 440.7" stroke="#444" stroke-width="0.35"/>
<path d="M225.7 439.5L225.7 440.1" stroke="#444" stroke-width="0.35"/>
<path d="M228.58 439.5L228.58 440.1" stroke="#444" stroke-width="0.35"/>
<path d="M231.46 439.5L231.46 440.1" stroke="#444" stroke-width="0.35"/>
<path d="M234.34 439.5L234.34 440.1" stroke="#444" stroke-width="0.35"/>
<path d="M237.22 439.5L237.22 440.7" stroke="#444" stroke-width="0.35"/>
<path d="M240.11 439.5L240.11 440.1" stroke="#444" stroke-width="0.35"/>
<path d="M242.99 439.5L242.99 440.1" stroke="#444" stroke-width="0.35"/>
<path d="M245.87 439.5L245.87 440.1" stroke="#444" stroke-width="0.35"/>
<path d="M248.75 439.5L248.75 440.1" stroke="#444" stroke-width="0.35"/>
<path d="M251.63 439.5L251.63 440.7" stroke="#444" stroke-width="0.35"/>
<path d="M254.51 439.5L254.51 440.1" stroke="#444" stroke-width="0.35"/>
<path d="M257.4 439.5L257.4 440.1" stroke="#444" stroke-width="0.35"/>
<path d="M260.28 439.5L260.28 440.1" stroke="#444" stroke-width="0.35"/>
<path d="M263.16 439.5L263.16 440.1" stroke="#444" stroke-width="0.35"/>
<path d="M266.04 439.5L266.04 440.7" stroke="#444" stroke-width="0.35"/>
<path d="M268.92 439.5L268.92 440.1" stroke="#444" stroke-width="0.35"/>
<path d="M271.8 439.5L271.8 440.1" stroke="#444" stroke-width="0.35"/>
<path d="M274.69 439.5L274.69 440.1" stroke="#444" stroke-width="0.35"/>
<path d="M277.57 439.5L277.57 440.1" stroke="#444" stroke-width="0.35"/>
<path d="M280.45 439.5L280.45 440.7" stroke="#444" stroke-width="0.35"/>
<path d="M283.33 439.5L283.33 440.1" stroke="#444" stroke-width="0.35"/>
<path d="M286.21 439.5L286.21 440.1" stroke="#444" stroke-width="0.35"/>
<path d="M289.09 439.5L289.09 440.1" stroke="#444" stroke-width="0.35"/>
<path d="M291.98 439.5L291.98 440.1" stroke="#444" stroke-width="0.35"/>
<path d="M294.86 439.5L294.86 440.7" stroke="#444" stroke-width="0.35"/>
<path d="M297.74 439.5L297.74 440.1" stroke="#444" stroke-width="0.35"/>
<path d="M300.62 439.5L300.62 440.1" stroke="#444" stroke-width="0.35"/>
<path d="M303.5 439.5L303.5 440.1" stroke="#444" stroke-width="0.35"/>
<path d="M306.38 439.5L306.38 440.1" stroke="#444" stroke-width="0.35"/>
<path d="M309.27 439.5L309.27 440.7" stroke="#444" stroke-width="0.35"/>
<path d="M312.15 439.5L312.15 440.1" stroke="#444" stroke-width="0.35"/>
<path d="M315.03 439.5L315.03 440.1" stroke="#444" stroke-width="0.35"/>
<path d="M317.91 439.5L317.91 440.1" stroke="#444" stroke-width="0.35"/>
<path d="M320.79 439.5L320.79 440.1" stroke="#444" stroke-width="0.35"/>
<path d="M323.67 439.5L323.67 440.7" stroke="#444" stroke-width="0.35"/>
<path d="M326.56 439.5L326.56 440.1" stroke="#444" stroke-width="0.35"/>
<path d="M329.44 439.5L329.44 440.1" stroke="#444" stroke-width="0.35"/>
<path d="M332.32 439.5L332.32 440.1" stroke="#444" stroke-width="0.35"/>
<path d="M335.2 439.5L335.2 440.1" stroke="#444" stroke-width="0.35"/>
<text x="212.8" y="443.5" font-size="2.8" font-weight="normal" fill="#222">10<tspan baseline-shift="40%" font-size="70%">1</tspan></text>
<text x="249.15" y="443.5" font-size="2.8" font-weight="normal" fill="#222">10<tspan baseline-shift="40%" font-size="70%">2</tspan></text>
<text x="285.5" y="443.5" font-size="2.8" font-weight="normal" fill="#222">10<tspan baseline-shift="40%" font-size="70%">3</tspan></text>
<text x="321.85" y="443.5" font-size="2.8" font-weight="normal" fill="#222">10<tspan baseline-shift="40%" font-size="70%">4</tspan></text>
<text x="265" y="448.3" font-size="2.8" font-weight="normal" fill="#333" textLength="13" lengthAdjust="spacingAndGlyphs">FITC-A</text>
<text x="237.4" y="399.9" font-size="5" textLength="53" lengthAdjust="spacingAndGlyphs">proliferating CD4<tspan baseline-shift="35%" font-size="75%">+</tspan> T cells</text>
<text x="237.4" y="409.5" font-size="4.7" textLength="28.5" lengthAdjust="spacingAndGlyphs">52.4 ± 10.8 %</text>
<rect x="349.5" y="370" width="152.3" height="8.3" fill="#e9e9e9" stroke="#9a9a9a" stroke-width="1"/>
<text x="425.65" y="374" font-size="6" textLength="142.8" lengthAdjust="spacingAndGlyphs" stroke="#111" stroke-width="0.18">CD14<tspan baseline-shift="35%" font-size="75%">+</tspan>CD16<tspan baseline-shift="35%" font-size="75%">++</tspan> monocytes induced CD4<tspan baseline-shift="super" font-size="70%">+</tspan> T cell proliferation</text>
<path d="M356.4 383.2L501.8 383.2" stroke="#777" stroke-width="0.7"/>
<path d="M501.8 383.2L501.8 439.5" stroke="#888" stroke-width="0.7"/>
<path d="M428 439.7 C428.67 439.58 430.67 439.53 432 439 C433.33 438.47 434.83 437.17 436 436.5 C437.17 435.83 438 435.08 439 435 C440 434.92 441.08 436.33 442 436 C442.92 435.67 443.75 434.08 444.5 433 C445.25 431.92 445.83 430.27 446.5 429.5 C447.17 428.73 447.83 428.32 448.5 428.4 C449.17 428.48 449.92 429.07 450.5 430 C451.08 430.93 451.25 433.83 452 434 C452.75 434.17 454.17 431.92 455 431 C455.83 430.08 456.33 429 457 428.5 C457.67 428 458.25 427.75 459 428 C459.75 428.25 460.67 429 461.5 430 C462.33 431 463.08 433.75 464 434 C464.92 434.25 465.97 432.28 467 431.5 C468.03 430.72 469.37 429.38 470.2 429.3 C471.03 429.22 471.43 430.05 472 431 C472.57 431.95 473.02 434.42 473.6 435 C474.18 435.58 474.93 435.33 475.5 434.5 C476.07 433.67 476.42 434.08 477 430 C477.58 425.92 478.12 417.23 479 410 C479.88 402.77 481.3 387.43 482.3 386.6 C483.3 385.77 484.13 398.1 485 405 C485.87 411.9 486.8 422.75 487.5 428 C488.2 433.25 488.45 434.67 489.2 436.5 C489.95 438.33 490.53 438.47 492 439 C493.47 439.53 497 439.58 498 439.7 Z" fill="#6fa862" stroke="#4f8a44" stroke-width="0.4"/>
<path d="M475 383.2L475 439.5" stroke="#666" stroke-width="0.6"/>
<path d="M357 381.7L357 439.5" stroke="#444" stroke-width="0.8"/>
<path d="M356.4 439.5L501.8 439.5" stroke="#333" stroke-width="0.7"/>
<path d="M355.6 439.5L356.7 439.5" stroke="#444" stroke-width="0.4"/>
<text x="353.5" y="439.5" font-size="2.5" fill="#222" textLength="1.9" lengthAdjust="spacingAndGlyphs" transform="rotate(-90 353.5 439.5)">0</text>
<path d="M355.6 435.37L356.7 435.37" stroke="#444" stroke-width="0.4"/>
<text x="353.5" y="435.37" font-size="2.5" fill="#222" textLength="2.6" lengthAdjust="spacingAndGlyphs" transform="rotate(-90 353.5 435.37)">10</text>
<path d="M355.6 431.24L356.7 431.24" stroke="#444" stroke-width="0.4"/>
<text x="353.5" y="431.24" font-size="2.5" fill="#222" textLength="2.6" lengthAdjust="spacingAndGlyphs" transform="rotate(-90 353.5 431.24)">20</text>
<path d="M355.6 427.11L356.7 427.11" stroke="#444" stroke-width="0.4"/>
<text x="353.5" y="427.11" font-size="2.5" fill="#222" textLength="2.6" lengthAdjust="spacingAndGlyphs" transform="rotate(-90 353.5 427.11)">30</text>
<path d="M355.6 422.98L356.7 422.98" stroke="#444" stroke-width="0.4"/>
<text x="353.5" y="422.98" font-size="2.5" fill="#222" textLength="2.6" lengthAdjust="spacingAndGlyphs" transform="rotate(-90 353.5 422.98)">40</text>
<path d="M355.6 418.85L356.7 418.85" stroke="#444" stroke-width="0.4"/>
<text x="353.5" y="418.85" font-size="2.5" fill="#222" textLength="2.6" lengthAdjust="spacingAndGlyphs" transform="rotate(-90 353.5 418.85)">50</text>
<path d="M355.6 414.72L356.7 414.72" stroke="#444" stroke-width="0.4"/>
<text x="353.5" y="414.72" font-size="2.5" fill="#222" textLength="2.6" lengthAdjust="spacingAndGlyphs" transform="rotate(-90 353.5 414.72)">60</text>
<path d="M355.6 410.59L356.7 410.59" stroke="#444" stroke-width="0.4"/>
<text x="353.5" y="410.59" font-size="2.5" fill="#222" textLength="2.6" lengthAdjust="spacingAndGlyphs" transform="rotate(-90 353.5 410.59)">70</text>
<path d="M355.6 406.46L356.7 406.46" stroke="#444" stroke-width="0.4"/>
<text x="353.5" y="406.46" font-size="2.5" fill="#222" textLength="2.6" lengthAdjust="spacingAndGlyphs" transform="rotate(-90 353.5 406.46)">80</text>
<path d="M355.6 402.33L356.7 402.33" stroke="#444" stroke-width="0.4"/>
<text x="353.5" y="402.33" font-size="2.5" fill="#222" textLength="2.6" lengthAdjust="spacingAndGlyphs" transform="rotate(-90 353.5 402.33)">90</text>
<path d="M355.6 398.2L356.7 398.2" stroke="#444" stroke-width="0.4"/>
<text x="353.5" y="398.2" font-size="2.5" fill="#222" textLength="2.8" lengthAdjust="spacingAndGlyphs" transform="rotate(-90 353.5 398.2)">100</text>
<path d="M355.6 394.07L356.7 394.07" stroke="#444" stroke-width="0.4"/>
<text x="353.5" y="394.07" font-size="2.5" fill="#222" textLength="2.8" lengthAdjust="spacingAndGlyphs" transform="rotate(-90 353.5 394.07)">110</text>
<path d="M355.6 389.94L356.7 389.94" stroke="#444" stroke-width="0.4"/>
<text x="353.5" y="389.94" font-size="2.5" fill="#222" textLength="2.8" lengthAdjust="spacingAndGlyphs" transform="rotate(-90 353.5 389.94)">120</text>
<path d="M355.6 385.81L356.7 385.81" stroke="#444" stroke-width="0.4"/>
<text x="353.5" y="385.81" font-size="2.5" fill="#222" textLength="2.8" lengthAdjust="spacingAndGlyphs" transform="rotate(-90 353.5 385.81)">130</text>
<path d="M355.6 381.68L356.7 381.68" stroke="#444" stroke-width="0.4"/>
<text x="353.5" y="381.68" font-size="2.5" fill="#222" textLength="2.8" lengthAdjust="spacingAndGlyphs" transform="rotate(-90 353.5 381.68)">140</text>
<text x="350.2" y="412" font-size="3.2" fill="#333" textLength="10.4" lengthAdjust="spacingAndGlyphs" transform="rotate(-90 350.2 412)">Count</text>
<path d="M358.4 439.5L358.4 440.7" stroke="#444" stroke-width="0.35"/>
<path d="M361.29 439.5L361.29 440.1" stroke="#444" stroke-width="0.35"/>
<path d="M364.17 439.5L364.17 440.1" stroke="#444" stroke-width="0.35"/>
<path d="M367.06 439.5L367.06 440.1" stroke="#444" stroke-width="0.35"/>
<path d="M369.94 439.5L369.94 440.1" stroke="#444" stroke-width="0.35"/>
<path d="M372.83 439.5L372.83 440.7" stroke="#444" stroke-width="0.35"/>
<path d="M375.71 439.5L375.71 440.1" stroke="#444" stroke-width="0.35"/>
<path d="M378.6 439.5L378.6 440.1" stroke="#444" stroke-width="0.35"/>
<path d="M381.49 439.5L381.49 440.1" stroke="#444" stroke-width="0.35"/>
<path d="M384.37 439.5L384.37 440.1" stroke="#444" stroke-width="0.35"/>
<path d="M387.26 439.5L387.26 440.7" stroke="#444" stroke-width="0.35"/>
<path d="M390.14 439.5L390.14 440.1" stroke="#444" stroke-width="0.35"/>
<path d="M393.03 439.5L393.03 440.1" stroke="#444" stroke-width="0.35"/>
<path d="M395.91 439.5L395.91 440.1" stroke="#444" stroke-width="0.35"/>
<path d="M398.8 439.5L398.8 440.1" stroke="#444" stroke-width="0.35"/>
<path d="M401.69 439.5L401.69 440.7" stroke="#444" stroke-width="0.35"/>
<path d="M404.57 439.5L404.57 440.1" stroke="#444" stroke-width="0.35"/>
<path d="M407.46 439.5L407.46 440.1" stroke="#444" stroke-width="0.35"/>
<path d="M410.34 439.5L410.34 440.1" stroke="#444" stroke-width="0.35"/>
<path d="M413.23 439.5L413.23 440.1" stroke="#444" stroke-width="0.35"/>
<path d="M416.11 439.5L416.11 440.7" stroke="#444" stroke-width="0.35"/>
<path d="M419 439.5L419 440.1" stroke="#444" stroke-width="0.35"/>
<path d="M421.89 439.5L421.89 440.1" stroke="#444" stroke-width="0.35"/>
<path d="M424.77 439.5L424.77 440.1" stroke="#444" stroke-width="0.35"/>
<path d="M427.66 439.5L427.66 440.1" stroke="#444" stroke-width="0.35"/>
<path d="M430.54 439.5L430.54 440.7" stroke="#444" stroke-width="0.35"/>
<path d="M433.43 439.5L433.43 440.1" stroke="#444" stroke-width="0.35"/>
<path d="M436.31 439.5L436.31 440.1" stroke="#444" stroke-width="0.35"/>
<path d="M439.2 439.5L439.2 440.1" stroke="#444" stroke-width="0.35"/>
<path d="M442.09 439.5L442.09 440.1" stroke="#444" stroke-width="0.35"/>
<path d="M444.97 439.5L444.97 440.7" stroke="#444" stroke-width="0.35"/>
<path d="M447.86 439.5L447.86 440.1" stroke="#444" stroke-width="0.35"/>
<path d="M450.74 439.5L450.74 440.1" stroke="#444" stroke-width="0.35"/>
<path d="M453.63 439.5L453.63 440.1" stroke="#444" stroke-width="0.35"/>
<path d="M456.51 439.5L456.51 440.1" stroke="#444" stroke-width="0.35"/>
<path d="M459.4 439.5L459.4 440.7" stroke="#444" stroke-width="0.35"/>
<path d="M462.29 439.5L462.29 440.1" stroke="#444" stroke-width="0.35"/>
<path d="M465.17 439.5L465.17 440.1" stroke="#444" stroke-width="0.35"/>
<path d="M468.06 439.5L468.06 440.1" stroke="#444" stroke-width="0.35"/>
<path d="M470.94 439.5L470.94 440.1" stroke="#444" stroke-width="0.35"/>
<path d="M473.83 439.5L473.83 440.7" stroke="#444" stroke-width="0.35"/>
<path d="M476.71 439.5L476.71 440.1" stroke="#444" stroke-width="0.35"/>
<path d="M479.6 439.5L479.6 440.1" stroke="#444" stroke-width="0.35"/>
<path d="M482.49 439.5L482.49 440.1" stroke="#444" stroke-width="0.35"/>
<path d="M485.37 439.5L485.37 440.1" stroke="#444" stroke-width="0.35"/>
<path d="M488.26 439.5L488.26 440.7" stroke="#444" stroke-width="0.35"/>
<path d="M491.14 439.5L491.14 440.1" stroke="#444" stroke-width="0.35"/>
<path d="M494.03 439.5L494.03 440.1" stroke="#444" stroke-width="0.35"/>
<path d="M496.91 439.5L496.91 440.1" stroke="#444" stroke-width="0.35"/>
<path d="M499.8 439.5L499.8 440.1" stroke="#444" stroke-width="0.35"/>
<text x="377.2" y="443.5" font-size="2.8" font-weight="normal" fill="#222">10<tspan baseline-shift="40%" font-size="70%">1</tspan></text>
<text x="413.55" y="443.5" font-size="2.8" font-weight="normal" fill="#222">10<tspan baseline-shift="40%" font-size="70%">2</tspan></text>
<text x="449.9" y="443.5" font-size="2.8" font-weight="normal" fill="#222">10<tspan baseline-shift="40%" font-size="70%">3</tspan></text>
<text x="486.25" y="443.5" font-size="2.8" font-weight="normal" fill="#222">10<tspan baseline-shift="40%" font-size="70%">4</tspan></text>
<text x="429.1" y="448.3" font-size="2.8" font-weight="normal" fill="#333" textLength="13" lengthAdjust="spacingAndGlyphs">FITC-A</text>
<text x="402.3" y="399.9" font-size="5" textLength="55" lengthAdjust="spacingAndGlyphs">proliferating CD4<tspan baseline-shift="35%" font-size="75%">+</tspan> T cells</text>
<text x="402.3" y="409.5" font-size="4.7" textLength="28.6" lengthAdjust="spacingAndGlyphs">42.2 ± 16.1 %</text>
<text x="5.5" y="468" font-size="14" text-anchor="start" fill="#000">E</text>
<path d="M43.3 527.8 V502.6 H82" fill="none" stroke="#111" stroke-width="1"/>
<path d="M81.5 501.1 L84.6 502.6 L81.5 504.1 Z" fill="#111"/>
<text x="62.5" y="497.6" font-size="4.6" textLength="9.6" lengthAdjust="spacingAndGlyphs">SEB</text>
<path d="M43.3 586.6 V610.3 H82" fill="none" stroke="#111" stroke-width="1"/>
<path d="M81.5 608.8 L84.6 610.3 L81.5 611.8 Z" fill="#111"/>
<text x="62.6" y="616.2" font-size="4.6" textLength="17.5" lengthAdjust="spacingAndGlyphs">Control</text>
<rect x="16.4" y="534.2" width="54.9" height="44.3" fill="#fff" stroke="#888" stroke-width="0.6"/>
<path d="M16.4 545.1L71.3 545.1" stroke="#666" stroke-width="0.6"/>
<path d="M16.4 557.2L71.3 557.2" stroke="#666" stroke-width="0.6"/>
<path d="M43.3 545.1L43.3 557.2" stroke="#666" stroke-width="0.6"/>
<ellipse cx="30.7" cy="551.6" rx="11" ry="1.9" fill="#111" opacity="1" filter="url(#b05)" transform="rotate(0 30.7 551.6)"/>
<path d="M38.19 553.85h0.45M23 550.14h0.45M34.2 554.56h0.45M34.69 549.68h0.45M23.21 551.56h0.45M40.01 551.63h0.45M27.25 551.27h0.45M32.43 550.4h0.45M30.79 552.1h0.45M46.69 551.56h0.45M40.16 549.93h0.45M39.12 551.92h0.45M25.56 551.61h0.45M39.54 551.11h0.45M40.76 554.21h0.45M46.54 554.37h0.45M18.47 552.23h0.45M24.19 553.24h0.45M31.53 552.03h0.45M35.3 550.67h0.45M31.75 550.45h0.45M51.05 550.89h0.45M30.98 548.7h0.45M38.56 552.95h0.45M33.56 550.59h0.45M48.81 549.94h0.45M22.52 552.48h0.45M21.15 552.11h0.45M40.26 551.55h0.45M34.79 551.73h0.45M24.28 546.33h0.45M18.96 551.65h0.45M32.85 553.91h0.45M17.52 550.77h0.45M33.03 552.55h0.45M17.37 554.79h0.45M22.86 553.49h0.45M28.87 552.35h0.45M47.1 552.86h0.45M32.1 549.97h0.45M24.43 549.25h0.45M50.54 549.04h0.45M43.32 551.05h0.45M39.02 550.27h0.45M25.18 552.51h0.45M34.67 550.89h0.45M46.71 552.91h0.45M32.18 549.66h0.45M32.16 551.12h0.45M30.06 553.01h0.45M25.18 552.11h0.45M38.63 552.26h0.45M53.32 548.7h0.45M30.18 549.65h0.45M30.13 555.92h0.45M37.2 551.81h0.45M39.76 549.01h0.45M40.35 550.03h0.45M18.8 552.61h0.45M35.44 550.41h0.45M22.7 551.31h0.45M30.64 551.36h0.45M20.76 547.7h0.45M43.62 551.94h0.45M18.51 548.98h0.45M23.89 550.93h0.45M34.87 551.09h0.45M34.11 552.03h0.45M41.11 551.89h0.45M43.08 554.26h0.45M27.59 550.86h0.45M21.97 551.24h0.45M23.51 551.65h0.45M33.65 552.54h0.45M19.27 553.47h0.45" stroke="#333" stroke-width="0.45" stroke-linecap="round" opacity="0.35"/>
<ellipse cx="47" cy="551.5" rx="3.5" ry="1" fill="#111" opacity="0.15" filter="url(#b05)" transform="rotate(0 47 551.5)"/>
<path d="M45.85 551.41h0.45M45.22 549.72h0.45M47.62 549.93h0.45M50.29 551.55h0.45M51.71 552.09h0.45M49.02 552.77h0.45M46.69 552.89h0.45M46.42 551.74h0.45M44.7 552h0.45M48.91 551.06h0.45" stroke="#333" stroke-width="0.45" stroke-linecap="round" opacity="0.35"/>
<text x="68.1" y="537.8" font-size="3" text-anchor="end" fill="#222" textLength="18" lengthAdjust="spacingAndGlyphs">CD14<tspan baseline-shift="35%" font-size="75%">++</tspan>CD16<tspan baseline-shift="35%" font-size="75%">+</tspan></text>
<text x="67.7" y="542" font-size="2.7" text-anchor="end" fill="#222" textLength="15" lengthAdjust="spacingAndGlyphs">2.4±0.9 %</text>
<path d="M15.4 575.5L16.4 575.5" stroke="#555" stroke-width="0.35"/>
<text x="14.2" y="575.5" font-size="1.8" font-weight="normal" fill="#555" transform="rotate(-90 14.2 575.5)">0</text>
<path d="M15.4 565.92L16.4 565.92" stroke="#555" stroke-width="0.35"/>
<text x="14.2" y="565.92" font-size="1.8" font-weight="normal" fill="#555" transform="rotate(-90 14.2 565.92)">10²</text>
<path d="M15.4 556.35L16.4 556.35" stroke="#555" stroke-width="0.35"/>
<text x="14.2" y="556.35" font-size="1.8" font-weight="normal" fill="#555" transform="rotate(-90 14.2 556.35)">10³</text>
<path d="M15.4 546.78L16.4 546.78" stroke="#555" stroke-width="0.35"/>
<text x="14.2" y="546.78" font-size="1.8" font-weight="normal" fill="#555" transform="rotate(-90 14.2 546.78)">10⁴</text>
<path d="M15.4 537.2L16.4 537.2" stroke="#555" stroke-width="0.35"/>
<text x="14.2" y="537.2" font-size="1.8" font-weight="normal" fill="#555" transform="rotate(-90 14.2 537.2)">10⁵</text>
<path d="M19.4 578.5L19.4 579.5" stroke="#555" stroke-width="0.35"/>
<text x="19.4" y="580.9" font-size="1.7" font-weight="normal" fill="#555">-10²</text>
<path d="M31.62 578.5L31.62 579.5" stroke="#555" stroke-width="0.35"/>
<text x="31.62" y="580.9" font-size="1.7" font-weight="normal" fill="#555">10²</text>
<path d="M43.85 578.5L43.85 579.5" stroke="#555" stroke-width="0.35"/>
<text x="43.85" y="580.9" font-size="1.7" font-weight="normal" fill="#555">10³</text>
<path d="M56.07 578.5L56.07 579.5" stroke="#555" stroke-width="0.35"/>
<text x="56.07" y="580.9" font-size="1.7" font-weight="normal" fill="#555">10⁴</text>
<path d="M68.3 578.5L68.3 579.5" stroke="#555" stroke-width="0.35"/>
<text x="68.3" y="580.9" font-size="1.7" font-weight="normal" fill="#555">10⁵</text>
<text x="43.85" y="583.3" font-size="1.8" font-weight="normal" fill="#555">HLA-DR FITC-A</text>
<text x="11.4" y="558.35" font-size="1.8" font-weight="normal" fill="#555" transform="rotate(-90 11.4 558.35)">CD14 PerCP-A</text>
<rect x="97" y="469" width="54" height="8.7" fill="#e9e9e9" stroke="#9a9a9a" stroke-width="1"/>
<text x="124" y="473.4" font-size="6" textLength="10.3" lengthAdjust="spacingAndGlyphs" stroke="#111" stroke-width="0.18">24 h</text>
<rect x="96.5" y="482.3" width="55" height="43.9" fill="#fff" stroke="#888" stroke-width="0.6"/>
<path d="M96.5 493.1L151.5 493.1" stroke="#666" stroke-width="0.6"/>
<path d="M96.5 505.7L151.5 505.7" stroke="#666" stroke-width="0.6"/>
<ellipse cx="125" cy="498.3" rx="8.5" ry="3" fill="#111" opacity="0.8" filter="url(#b15)" transform="rotate(-8 125 498.3)"/>
<path d="M128.5 498.4h0.45M115.7 500.86h0.45M127.18 499.31h0.45M126.24 502.82h0.45M132.33 501.85h0.45M122.6 497.05h0.45M116.65 497.65h0.45M102.92 503.02h0.45M126.07 498.6h0.45M132 497.29h0.45M126.95 500.59h0.45M112.18 503.35h0.45M126.09 500.13h0.45M116.48 496.57h0.45M138.77 496.82h0.45M121.6 499.74h0.45M136.64 491.36h0.45M137.02 499.13h0.45M132.29 495.42h0.45M127.47 503.02h0.45M124.14 496.54h0.45M121.37 496.83h0.45M131.46 498.93h0.45M120.89 500.64h0.45M115.98 494.21h0.45M145.1 496.52h0.45M138.28 498.11h0.45M123.12 499.88h0.45M117.93 495.92h0.45M123.23 497.24h0.45M130.84 503.99h0.45M115.29 495.82h0.45M131.14 499.84h0.45M134.13 496.21h0.45M129.83 498.21h0.45M111.59 499.66h0.45M112.09 499.92h0.45M121.23 497.79h0.45M142.53 502.79h0.45M128.45 499.51h0.45M118.6 501.97h0.45M130.06 495.86h0.45M111.29 498.36h0.45M123.48 500.87h0.45M116.51 495.8h0.45M128.4 498.61h0.45M132.73 501.61h0.45M117.55 491.5h0.45M125.42 496.24h0.45M126.93 490.51h0.45M124.11 498.63h0.45M120.36 499.85h0.45M125.82 499.03h0.45M135.61 502.12h0.45M134.81 499.45h0.45M126.13 500h0.45M127.55 496.25h0.45M128.18 501.02h0.45M121.61 495.2h0.45M129.7 496.19h0.45M112.76 497.65h0.45M112.97 499.33h0.45M120.77 498.6h0.45M134.32 501.61h0.45M124.18 491.85h0.45M121.07 494.99h0.45M132.31 502.87h0.45M130.68 500.23h0.45M129.53 500.34h0.45M121.94 500.96h0.45M122.46 495.03h0.45M125.38 502.99h0.45M123.44 493.26h0.45M135.11 499.07h0.45M129.46 497.02h0.45M128.93 503.03h0.45M119.69 500.36h0.45M127.88 495.88h0.45M126.47 500.08h0.45M118.08 501.75h0.45M115.89 501.71h0.45M130.07 499.12h0.45M118.59 496.12h0.45M106.87 498.31h0.45M123.95 499.98h0.45M133.36 498.95h0.45M122.24 501.23h0.45M124.93 498.3h0.45M115.4 501.42h0.45M119.51 503.96h0.45M117.95 496.99h0.45M125.72 496.36h0.45M113.08 495.09h0.45M118.28 497.7h0.45M133.01 500.3h0.45M127.6 500.71h0.45M107.21 496.61h0.45M120.49 495.4h0.45M128.91 496.5h0.45M116.02 500.93h0.45M119.67 497.66h0.45M112.71 500.98h0.45M125.35 502.52h0.45M142.94 500.3h0.45M122.05 496.11h0.45M138.35 497.79h0.45M130.13 499.07h0.45M97.6 498.8h0.45M126.29 498.95h0.45M123.89 499.06h0.45M116.78 500.12h0.45M120.84 498.85h0.45M138.42 499.01h0.45M116.64 499.44h0.45M113.25 498.86h0.45M136.41 495.35h0.45M123.78 495.87h0.45M126.4 499.32h0.45M126.43 497.58h0.45M109.56 495.8h0.45M121.44 500.71h0.45M108.77 501.5h0.45M118.9 493.58h0.45M136.79 499.36h0.45M117.39 499.13h0.45M129.84 494.28h0.45M135.37 495.94h0.45M131.6 496.77h0.45M112.19 496.67h0.45M120.79 498.72h0.45M111.47 495.5h0.45M127.49 497.29h0.45M120.73 499.62h0.45M114.29 504.05h0.45M118.94 499.41h0.45M123.61 501.18h0.45M121.39 496.14h0.45M126.91 500.08h0.45M123.74 504.16h0.45M130.99 502.25h0.45M135.22 501.28h0.45M123.44 502.97h0.45M121.96 498.75h0.45M136.15 501.01h0.45M116.25 497.49h0.45M117.75 501.62h0.45M122.05 498.41h0.45M119.43 496.91h0.45M130.28 495.5h0.45M125.35 496.95h0.45M121.98 494.73h0.45M134.18 493.78h0.45M115.06 497.15h0.45M125.42 496.2h0.45M111.86 496.98h0.45M116.84 496.41h0.45M137.61 492.52h0.45M124.6 499.36h0.45M121.49 497.3h0.45M133.3 497.72h0.45M110.99 497.24h0.45M127.67 497.21h0.45M120.15 498.79h0.45M120.81 498.66h0.45M129.91 496.53h0.45M112.24 501.99h0.45M127.85 496.11h0.45M113.49 498.3h0.45M126.35 499.65h0.45M127.62 497.05h0.45M121.49 494.04h0.45M118.86 496.95h0.45M133.19 494.6h0.45M139.49 500.79h0.45M120.64 496.61h0.45M126.48 499.37h0.45M130.36 493.44h0.45M122 499.69h0.45M131.86 499.54h0.45M124.04 499.14h0.45M120.58 503.09h0.45M131.92 499.39h0.45M120.25 498.16h0.45M127.7 498.54h0.45M137.59 504.04h0.45M132.5 495.08h0.45M130.26 496.89h0.45M124.83 503.75h0.45M111.16 494.51h0.45M119.78 500.46h0.45M121.6 492.83h0.45M127.8 500.12h0.45M134.54 498.6h0.45M133.57 496.69h0.45M131.75 501.63h0.45M122.65 497.27h0.45M134.42 496.26h0.45M117.76 498.45h0.45M129.36 500.87h0.45M121.07 499.77h0.45" stroke="#333" stroke-width="0.45" stroke-linecap="round" opacity="0.35"/>
<ellipse cx="110" cy="499.5" rx="7" ry="2" fill="#111" opacity="0.2" filter="url(#b15)" transform="rotate(0 110 499.5)"/>
<path d="M104.15 497.39h0.45M125.66 498.16h0.45M100 500.11h0.45M105.02 500.86h0.45M116.56 500.02h0.45M103.89 502.29h0.45M116.55 498.88h0.45M117.2 500.66h0.45M101.66 498.08h0.45M110.94 497.52h0.45M99.53 498.56h0.45M114.37 499.73h0.45M103.14 494.91h0.45M114.58 498.99h0.45M114.79 499.25h0.45M106.23 499.81h0.45M104.76 498.42h0.45M103.5 495.35h0.45M116.18 501.4h0.45M105.72 498.64h0.45M124.31 500.43h0.45M106.79 497.13h0.45M120.59 501.82h0.45M104.1 500.69h0.45M103.35 498.82h0.45M116.55 498.92h0.45M105.01 496.72h0.45M113.29 499.05h0.45M101.54 503.22h0.45M104.99 498.43h0.45M112.1 498.89h0.45M109.73 500.18h0.45M106.29 497.67h0.45M107.5 501.32h0.45M109.57 502.33h0.45M110.15 497.74h0.45M111.07 499.1h0.45M106.44 499.08h0.45M115.73 501.05h0.45M111.89 499.87h0.45M113.85 500.81h0.45M112.29 498.2h0.45M117.51 501.64h0.45M118.37 494.03h0.45M113.38 499.83h0.45M110.92 501.5h0.45M108.03 498.31h0.45M98.13 499.03h0.45M113.68 496.95h0.45M119.73 494.24h0.45M106.01 498.66h0.45M110.15 500.1h0.45M116.93 498.36h0.45M99.56 497.3h0.45M107.49 497.83h0.45M107.54 499.12h0.45M109.65 501.15h0.45M112.34 496.95h0.45M104.76 498.4h0.45M106.07 500.92h0.45M115.44 500.03h0.45M119.52 497.72h0.45M109.81 501.62h0.45M109.63 498.3h0.45M104.59 501.38h0.45M115.04 503.15h0.45M122.68 499.94h0.45" stroke="#333" stroke-width="0.45" stroke-linecap="round" opacity="0.35"/>
<ellipse cx="108" cy="514.6" rx="5" ry="5.5" fill="#111" opacity="0.6" filter="url(#b15)" transform="rotate(0 108 514.6)"/>
<path d="M105.57 510.25h0.45M105.61 524.28h0.45M107.03 511.3h0.45M106.96 516.6h0.45M104.51 510.84h0.45M104.88 521.63h0.45M107.71 517.34h0.45M110.45 504.7h0.45M109.8 508.67h0.45M105.94 504.94h0.45M111.46 515.61h0.45M103.27 520.94h0.45M103.84 521.81h0.45M102.25 517.22h0.45M101.99 507.96h0.45M104.92 513.27h0.45M102.38 516.92h0.45M115.37 518.69h0.45M104.2 525.02h0.45M100.11 523.36h0.45M106.99 509.73h0.45M107.74 514.49h0.45M112.9 517.93h0.45M106.15 519.33h0.45M106.36 509.22h0.45M102.14 509.32h0.45M108.86 512.59h0.45M111.29 507.41h0.45M108.04 516.65h0.45M108.46 516.61h0.45M104.17 514.95h0.45M104.6 513.55h0.45M111.74 511.86h0.45M113.13 514.03h0.45M107.71 517.78h0.45M115.99 515.54h0.45M104.37 521.66h0.45M110.26 510.39h0.45M100.6 514.08h0.45M105.1 510.93h0.45M108.95 518.44h0.45M114.11 515.52h0.45M102.86 508h0.45M101 517.58h0.45M99.58 511.09h0.45M101.38 512.3h0.45M105.32 512.64h0.45M115.15 518.87h0.45M105.87 509.07h0.45M110.22 512.98h0.45M107.2 508.78h0.45M109.64 516.2h0.45M110.65 515.12h0.45M108.64 509.03h0.45M112.8 516.29h0.45M115.58 513.13h0.45M106.15 520h0.45M105.59 517.26h0.45M107.24 513.7h0.45M97.61 516.5h0.45M108.04 507.37h0.45M113.23 503.98h0.45M111.9 511.02h0.45M111.43 519.19h0.45M107.97 522.48h0.45M108.12 507.9h0.45M105.69 525.13h0.45M107.49 524.38h0.45M112.01 510.68h0.45M111.17 515.87h0.45M110.41 515.89h0.45M104.15 519.69h0.45M108.25 513.15h0.45M107.7 512.21h0.45M107.62 513.89h0.45M101.38 523.49h0.45M108.82 513.44h0.45M100.17 521.69h0.45M109.98 519.51h0.45M107.51 518.74h0.45M105.32 514.78h0.45M108.25 507.94h0.45M109.35 516.59h0.45M103.28 509.88h0.45M119.35 515.42h0.45M105.25 517.36h0.45M101.2 506.35h0.45M104.62 519.39h0.45M112.59 516.28h0.45M116.32 507.53h0.45M102.53 522.55h0.45M111.6 514.46h0.45M110.02 511.43h0.45M117.2 512.27h0.45M112.3 513.68h0.45M105.03 507.48h0.45M106.5 513.8h0.45M103.71 506.88h0.45M101.7 506.26h0.45M114.04 512.99h0.45M104.46 519.22h0.45M109.1 517.8h0.45M112.59 513.89h0.45M98.57 516.71h0.45M108.17 513.17h0.45M103.05 517.8h0.45M108.39 522.99h0.45M101.38 508.03h0.45M109.7 516.99h0.45M105.92 520.22h0.45M107.62 520.54h0.45M106.86 516.06h0.45M110.36 509.11h0.45M112.2 511.09h0.45M111.7 509.37h0.45M99.82 525.03h0.45M98.44 508.23h0.45M112.44 518.01h0.45M104.46 522.98h0.45M115.33 509.39h0.45M106.44 515.85h0.45M110.8 514.06h0.45M110.55 508.71h0.45M106.95 506.9h0.45M108.14 519.47h0.45M102.53 519.72h0.45M101.93 500.93h0.45M103.71 513.52h0.45M111.32 518.26h0.45M102.1 510.34h0.45M110.71 515.17h0.45M102.6 508.04h0.45M110.07 513.64h0.45M107.1 509.25h0.45M102.02 510.54h0.45M102.65 518.34h0.45M108.69 514.38h0.45M110.2 511.95h0.45M109.79 503.87h0.45M102.99 517.97h0.45M110.57 521.65h0.45" stroke="#333" stroke-width="0.45" stroke-linecap="round" opacity="0.35"/>
<text x="148.3" y="485.9" font-size="3" text-anchor="end" fill="#222" textLength="18" lengthAdjust="spacingAndGlyphs">CD14<tspan baseline-shift="35%" font-size="75%">++</tspan>CD16<tspan baseline-shift="35%" font-size="75%">+</tspan></text>
<text x="147.9" y="490.1" font-size="2.7" text-anchor="end" fill="#222" textLength="15" lengthAdjust="spacingAndGlyphs">95.1±0.9 %</text>
<path d="M95.5 523.2L96.5 523.2" stroke="#555" stroke-width="0.35"/>
<text x="94.3" y="523.2" font-size="1.8" font-weight="normal" fill="#555" transform="rotate(-90 94.3 523.2)">0</text>
<path d="M95.5 513.73L96.5 513.73" stroke="#555" stroke-width="0.35"/>
<text x="94.3" y="513.73" font-size="1.8" font-weight="normal" fill="#555" transform="rotate(-90 94.3 513.73)">10²</text>
<path d="M95.5 504.25L96.5 504.25" stroke="#555" stroke-width="0.35"/>
<text x="94.3" y="504.25" font-size="1.8" font-weight="normal" fill="#555" transform="rotate(-90 94.3 504.25)">10³</text>
<path d="M95.5 494.78L96.5 494.78" stroke="#555" stroke-width="0.35"/>
<text x="94.3" y="494.78" font-size="1.8" font-weight="normal" fill="#555" transform="rotate(-90 94.3 494.78)">10⁴</text>
<path d="M95.5 485.3L96.5 485.3" stroke="#555" stroke-width="0.35"/>
<text x="94.3" y="485.3" font-size="1.8" font-weight="normal" fill="#555" transform="rotate(-90 94.3 485.3)">10⁵</text>
<path d="M99.5 526.2L99.5 527.2" stroke="#555" stroke-width="0.35"/>
<text x="99.5" y="528.6" font-size="1.7" font-weight="normal" fill="#555">-10²</text>
<path d="M111.75 526.2L111.75 527.2" stroke="#555" stroke-width="0.35"/>
<text x="111.75" y="528.6" font-size="1.7" font-weight="normal" fill="#555">10²</text>
<path d="M124 526.2L124 527.2" stroke="#555" stroke-width="0.35"/>
<text x="124" y="528.6" font-size="1.7" font-weight="normal" fill="#555">10³</text>
<path d="M136.25 526.2L136.25 527.2" stroke="#555" stroke-width="0.35"/>
<text x="136.25" y="528.6" font-size="1.7" font-weight="normal" fill="#555">10⁴</text>
<path d="M148.5 526.2L148.5 527.2" stroke="#555" stroke-width="0.35"/>
<text x="148.5" y="528.6" font-size="1.7" font-weight="normal" fill="#555">10⁵</text>
<text x="124" y="531" font-size="1.8" font-weight="normal" fill="#555">HLA-DR FITC-A</text>
<text x="91.5" y="506.25" font-size="1.8" font-weight="normal" fill="#555" transform="rotate(-90 91.5 506.25)">CD14 PerCP-A</text>
<rect x="97" y="572.5" width="54" height="8.6" fill="#e9e9e9" stroke="#9a9a9a" stroke-width="1"/>
<text x="124" y="576.9" font-size="6" textLength="10.3" lengthAdjust="spacingAndGlyphs" stroke="#111" stroke-width="0.18">24 h</text>
<rect x="96.5" y="586.4" width="55" height="43.6" fill="#fff" stroke="#888" stroke-width="0.6"/>
<path d="M96.5 597.3L151.5 597.3" stroke="#666" stroke-width="0.6"/>
<path d="M96.5 609.3L151.5 609.3" stroke="#666" stroke-width="0.6"/>
<ellipse cx="108" cy="618.8" rx="5.5" ry="5" fill="#111" opacity="0.95" filter="url(#b15)" transform="rotate(0 108 618.8)"/>
<path d="M105.15 621.02h0.45M113.29 627.41h0.45M101.09 615.56h0.45M103.17 617.35h0.45M107.03 612.94h0.45M109.19 612.3h0.45M110.61 614.7h0.45M109.36 620.92h0.45M107.27 616.11h0.45M103.89 613.62h0.45M115.85 621.68h0.45M117.5 620.66h0.45M109.64 616.16h0.45M106.58 611.58h0.45M112.99 623.54h0.45M115.57 625.78h0.45M102.59 607.13h0.45M111.86 620.1h0.45M102.83 614.59h0.45M112.06 627.37h0.45M110.16 615.67h0.45M112.25 624.1h0.45M101.68 622.46h0.45M102.82 618.99h0.45M110.42 619.13h0.45M100.06 620.68h0.45M100.47 622.15h0.45M97.89 616.51h0.45M105.33 615.52h0.45M108.95 620.07h0.45M117.33 621.01h0.45M113.6 613.48h0.45M113.4 622.99h0.45M114.99 625.58h0.45M103.16 612.59h0.45M103.78 615.84h0.45M115.1 609.43h0.45M108.05 623.62h0.45M107 612.04h0.45M103.19 621.42h0.45M111.67 618.07h0.45M109.58 625.45h0.45M105.99 628.27h0.45M102.62 627.9h0.45M100.28 625.22h0.45M107.83 611.5h0.45M108.43 621.43h0.45M110.84 619.35h0.45M106.87 617.38h0.45M108.29 624.6h0.45M110.26 622.13h0.45M108.78 625.49h0.45M101.41 614.67h0.45M102.28 617.09h0.45M118.08 617.05h0.45M108.31 617.8h0.45M97.79 613.08h0.45M103.94 614.68h0.45M105.95 616.53h0.45M106.57 611h0.45M113.1 621.14h0.45M103.96 616.44h0.45M103.12 609.56h0.45M111.3 616.65h0.45M113.39 626h0.45M100.67 613.32h0.45M110.5 616.13h0.45M104.19 616.8h0.45M110.01 612.2h0.45M108.18 624.09h0.45M104.78 616.97h0.45M110.09 623.45h0.45M112.98 621.1h0.45M116.38 615.7h0.45M116.49 621.62h0.45M106.15 611.89h0.45M116.02 620.07h0.45M110.77 626.44h0.45M105.7 622.66h0.45M112.45 626.79h0.45M109.55 627.8h0.45M104.98 618.58h0.45M104.36 614.22h0.45M116.86 620.22h0.45M107.63 619.78h0.45M108.59 611.59h0.45M105.38 620.7h0.45M101.29 617.79h0.45M105.64 613.95h0.45M100.58 615.83h0.45M108.93 621.44h0.45M99.52 619.54h0.45M110.93 610.46h0.45M100.52 621.46h0.45M111.63 621.56h0.45M116.36 622.28h0.45M115.14 618.79h0.45M107.85 614.46h0.45M108.36 616.98h0.45M104.61 621.84h0.45M109.78 616.71h0.45M108.93 620.44h0.45M110.15 615.53h0.45M111.29 616.57h0.45M109.46 616.27h0.45M118.7 611.82h0.45M113.26 614.02h0.45M116.5 612.75h0.45M111.65 617.99h0.45M112.83 612.46h0.45M106.07 621.05h0.45M112.3 615.8h0.45M97.63 617.03h0.45M104.02 619.15h0.45M105.39 613.7h0.45M106.71 625.64h0.45M110.84 616.88h0.45M110.96 611.85h0.45M104.56 618.39h0.45M105.72 615.65h0.45M107.73 627.62h0.45M107.49 620.77h0.45M116.85 606.74h0.45M106.06 623.11h0.45M99.82 616.72h0.45M114.91 619.3h0.45M97.55 624.32h0.45M100.9 620.82h0.45M111.01 619.51h0.45M106.41 622.94h0.45M110.18 622.97h0.45M113.22 621.86h0.45M117.28 616.75h0.45M97.68 609.97h0.45M106.83 612.48h0.45M105.8 619.29h0.45M116.03 612.84h0.45M110.33 612.33h0.45M112.57 608.31h0.45M116.13 617.45h0.45M119.72 619.91h0.45M102.83 616.76h0.45M104.21 620.3h0.45M114.49 620.13h0.45M106.22 617.51h0.45M117.25 614.27h0.45M111.83 614.6h0.45M103.59 622.16h0.45M99.29 626.96h0.45M117.03 614.13h0.45M101.9 618.13h0.45M106.2 615.37h0.45M107.29 622.34h0.45M105.65 618.89h0.45M104.88 618.41h0.45M108.75 617.17h0.45M109.03 615.43h0.45M109.88 610.95h0.45M110.72 618.03h0.45M110.56 618.56h0.45M107.42 619.24h0.45M105.73 618.87h0.45M109.19 612.43h0.45M120 625.92h0.45M99.79 627.06h0.45M110.32 621.81h0.45M115.54 616.39h0.45M109.91 623.38h0.45M104.14 617.9h0.45M108.18 620.65h0.45M102.65 618.52h0.45M104.45 622.96h0.45M104.99 622.45h0.45M108.02 616.26h0.45M112.22 621.56h0.45M106.39 623.75h0.45" stroke="#333" stroke-width="0.45" stroke-linecap="round" opacity="0.35"/>
<ellipse cx="124" cy="602.3" rx="9" ry="2" fill="#111" opacity="0.5" filter="url(#b15)" transform="rotate(-15 124 602.3)"/>
<path d="M136.23 598.94h0.45M131.2 598.6h0.45M124.68 603.95h0.45M128.89 603.26h0.45M123.38 603.63h0.45M114.14 606h0.45M106.48 601.93h0.45M110.51 601.79h0.45M118.55 600.19h0.45M133.45 601.19h0.45M117.93 602.27h0.45M130.74 603.41h0.45M120.21 602.83h0.45M125.24 602.2h0.45M118.09 602.79h0.45M110.84 604.17h0.45M131.73 601.89h0.45M119.73 598.61h0.45M121.74 604.05h0.45M109.68 603.69h0.45M118.11 605.92h0.45M128.61 604.8h0.45M122.33 601.95h0.45M116.6 605.33h0.45M121.51 602.66h0.45M113.85 602.72h0.45M115.46 602.66h0.45M134.95 601.28h0.45M115.5 602.97h0.45M124.51 600.98h0.45M110.17 602.64h0.45M127.64 602.85h0.45M135.22 603.14h0.45M127.47 599.78h0.45M122.28 601.99h0.45M117.85 603.81h0.45M120.59 603.47h0.45M119.75 603.23h0.45M133.31 603.3h0.45M132.31 602.59h0.45M111.74 604.2h0.45M121.34 600.38h0.45M136.54 602.41h0.45M121.88 599.77h0.45M133.18 602.18h0.45M115.83 603.65h0.45M132.77 603.85h0.45M131.92 604.28h0.45M114.38 600.53h0.45M128.89 604.9h0.45M145.88 600.46h0.45M124.23 601.25h0.45M124.54 601.19h0.45M125.83 602.24h0.45M131.94 602.49h0.45M141.41 604.39h0.45M129.46 601.71h0.45M128.91 601.08h0.45M125.51 601.46h0.45M131.97 601.59h0.45M124.55 604.25h0.45M126.01 602.3h0.45M113 602.68h0.45M133.6 602.26h0.45M120.53 603.5h0.45M141.66 602.83h0.45M121.79 600.96h0.45M124.27 599.55h0.45M118.08 600.79h0.45M136.46 599.31h0.45M124.04 601.15h0.45M112.77 603.14h0.45M132.94 601.66h0.45M120.75 602.38h0.45M129.66 602.86h0.45M121.26 601.18h0.45M124.13 599.72h0.45M121.52 604.43h0.45M124.81 601.91h0.45M114.31 600.15h0.45M130.9 601.96h0.45M114.23 599.83h0.45M119.19 605.24h0.45M123.75 597.87h0.45M120.43 602.74h0.45M111.65 602.02h0.45M135.44 600.74h0.45M108.53 601.27h0.45M130.36 600.3h0.45M123.62 602.55h0.45M122.64 602.15h0.45M109.27 606.67h0.45M123.13 605.05h0.45M123.09 600.72h0.45M110.23 600.06h0.45M122.61 600.7h0.45M135.84 602.21h0.45M124.68 605.56h0.45M127.27 598.69h0.45M131.25 599.55h0.45M113.24 604.21h0.45M125.16 598.97h0.45M128.94 607.45h0.45M108.01 600.5h0.45M109.75 601.97h0.45M118.44 601.39h0.45M108.76 602.5h0.45M120.42 606.33h0.45M122.14 599.15h0.45M111.24 601.82h0.45M118.24 600.9h0.45M134.16 602.33h0.45M120 600.17h0.45M115.5 603.63h0.45M132.99 603.88h0.45M127.72 602.69h0.45M141.33 604.43h0.45M133.31 600.93h0.45M128.91 601.83h0.45M118.96 600.56h0.45" stroke="#333" stroke-width="0.45" stroke-linecap="round" opacity="0.35"/>
<text x="148.3" y="590" font-size="3" text-anchor="end" fill="#222" textLength="18" lengthAdjust="spacingAndGlyphs">CD14<tspan baseline-shift="35%" font-size="75%">++</tspan>CD16<tspan baseline-shift="35%" font-size="75%">+</tspan></text>
<text x="147.9" y="594.2" font-size="2.7" text-anchor="end" fill="#222" textLength="15" lengthAdjust="spacingAndGlyphs">6.4±4.6 %</text>
<path d="M95.5 627L96.5 627" stroke="#555" stroke-width="0.35"/>
<text x="94.3" y="627" font-size="1.8" font-weight="normal" fill="#555" transform="rotate(-90 94.3 627)">0</text>
<path d="M95.5 617.6L96.5 617.6" stroke="#555" stroke-width="0.35"/>
<text x="94.3" y="617.6" font-size="1.8" font-weight="normal" fill="#555" transform="rotate(-90 94.3 617.6)">10²</text>
<path d="M95.5 608.2L96.5 608.2" stroke="#555" stroke-width="0.35"/>
<text x="94.3" y="608.2" font-size="1.8" font-weight="normal" fill="#555" transform="rotate(-90 94.3 608.2)">10³</text>
<path d="M95.5 598.8L96.5 598.8" stroke="#555" stroke-width="0.35"/>
<text x="94.3" y="598.8" font-size="1.8" font-weight="normal" fill="#555" transform="rotate(-90 94.3 598.8)">10⁴</text>
<path d="M95.5 589.4L96.5 589.4" stroke="#555" stroke-width="0.35"/>
<text x="94.3" y="589.4" font-size="1.8" font-weight="normal" fill="#555" transform="rotate(-90 94.3 589.4)">10⁵</text>
<path d="M99.5 630L99.5 631" stroke="#555" stroke-width="0.35"/>
<text x="99.5" y="632.4" font-size="1.7" font-weight="normal" fill="#555">-10²</text>
<path d="M111.75 630L111.75 631" stroke="#555" stroke-width="0.35"/>
<text x="111.75" y="632.4" font-size="1.7" font-weight="normal" fill="#555">10²</text>
<path d="M124 630L124 631" stroke="#555" stroke-width="0.35"/>
<text x="124" y="632.4" font-size="1.7" font-weight="normal" fill="#555">10³</text>
<path d="M136.25 630L136.25 631" stroke="#555" stroke-width="0.35"/>
<text x="136.25" y="632.4" font-size="1.7" font-weight="normal" fill="#555">10⁴</text>
<path d="M148.5 630L148.5 631" stroke="#555" stroke-width="0.35"/>
<text x="148.5" y="632.4" font-size="1.7" font-weight="normal" fill="#555">10⁵</text>
<text x="124" y="634.8" font-size="1.8" font-weight="normal" fill="#555">HLA-DR FITC-A</text>
<text x="91.5" y="610.2" font-size="1.8" font-weight="normal" fill="#555" transform="rotate(-90 91.5 610.2)">CD14 PerCP-A</text>
<rect x="168.1" y="469" width="54.9" height="8.7" fill="#e9e9e9" stroke="#9a9a9a" stroke-width="1"/>
<text x="195.55" y="473.4" font-size="6" textLength="10.3" lengthAdjust="spacingAndGlyphs" stroke="#111" stroke-width="0.18">48 h</text>
<rect x="167.6" y="482.3" width="55.9" height="43.9" fill="#fff" stroke="#888" stroke-width="0.6"/>
<path d="M167.6 493.1L223.5 493.1" stroke="#666" stroke-width="0.6"/>
<path d="M167.6 505.7L223.5 505.7" stroke="#666" stroke-width="0.6"/>
<ellipse cx="201" cy="497.6" rx="8.5" ry="3" fill="#111" opacity="0.8" filter="url(#b15)" transform="rotate(-10 201 497.6)"/>
<path d="M205.46 498.48h0.45M195.39 503.08h0.45M188.57 497.7h0.45M208.15 499.5h0.45M205.91 494.86h0.45M215.64 495.7h0.45M200.57 497.68h0.45M200.91 496.2h0.45M213.14 497.86h0.45M208.8 493.31h0.45M205.69 497.08h0.45M204.16 498.27h0.45M204.47 497.42h0.45M201.6 498.06h0.45M202.81 497.83h0.45M198.02 498.89h0.45M194.33 503.38h0.45M207.73 501.9h0.45M200.05 494.11h0.45M189.11 495.48h0.45M196.06 496.59h0.45M198.03 499.37h0.45M182.44 502.26h0.45M198.17 498.06h0.45M186.92 498.32h0.45M189.56 499.01h0.45M203.09 498.12h0.45M199.51 496.88h0.45M198.36 500.12h0.45M201.5 498.29h0.45M219.59 497.88h0.45M193.7 491.44h0.45M181.79 497.95h0.45M207.67 494.75h0.45M191.77 497.09h0.45M201.92 500.19h0.45M199.92 495.85h0.45M206.14 494.99h0.45M189.5 494.55h0.45M198.25 496.43h0.45M200.78 497.72h0.45M219.32 498.74h0.45M183.97 493.68h0.45M202.05 495.29h0.45M217.71 496.35h0.45M197.7 497.91h0.45M198.85 499.08h0.45M198.67 498.44h0.45M195.89 490.27h0.45M204.02 502.16h0.45M193.2 496.03h0.45M206.99 496.15h0.45M201.65 496.95h0.45M205.52 497.23h0.45M216.57 497.73h0.45M198.73 493.62h0.45M201.52 494.98h0.45M205.81 499.16h0.45M221.47 495.41h0.45M201.81 500.49h0.45M185 499.39h0.45M215.15 497.78h0.45M200.57 501.01h0.45M202.98 498.42h0.45M207.49 495.46h0.45M215.84 496.65h0.45M200.82 496.54h0.45M180.58 493.12h0.45M197.95 497.58h0.45M209.84 504.96h0.45M206.48 497.31h0.45M195.72 501.49h0.45M195.88 497.52h0.45M211.38 497.23h0.45M199.71 498.03h0.45M188.03 497.31h0.45M202.21 498.64h0.45M197.99 491.61h0.45M194.58 499.73h0.45M194.71 495.13h0.45M205.02 499.16h0.45M202.16 499.32h0.45M207.26 499.02h0.45M203.62 502.74h0.45M192.18 503.84h0.45M203.04 495.62h0.45M206.42 500.5h0.45M191.43 498.14h0.45M207.51 499.92h0.45M201.26 494.67h0.45M200.21 503.7h0.45M193.63 506.07h0.45M200.58 497.43h0.45M196.66 498.1h0.45M202.59 494.85h0.45M216.97 501.01h0.45M203.96 494.08h0.45M198.04 497.16h0.45M207.22 497.35h0.45M192 497.13h0.45M199.33 497.69h0.45M207.75 495.64h0.45M188.87 500.93h0.45M208.55 494.29h0.45M206.71 496.22h0.45M206.37 499.13h0.45M189.97 494.77h0.45M199.72 493.81h0.45M191.64 495.23h0.45M199.58 497.39h0.45M194.89 496.97h0.45M210.24 499.23h0.45M204.15 495.75h0.45M195.61 494.28h0.45M194.29 492.63h0.45M199.73 496.56h0.45M195.53 495.92h0.45M190.84 499.62h0.45M205.73 500.96h0.45M203.6 497.19h0.45M207.92 494.2h0.45M190.03 500.21h0.45M204.75 498.36h0.45M211.44 497.54h0.45M202.77 498.84h0.45M191.69 498.71h0.45M205.67 497.49h0.45M195.35 495.41h0.45M183.7 495.34h0.45M211.47 501.07h0.45M200.08 495.48h0.45M210.02 500.66h0.45M205.03 495.62h0.45M207.07 500.22h0.45M197.33 495.37h0.45M197.76 498.27h0.45M204.2 499.08h0.45M200.97 496.23h0.45M203.52 500.46h0.45M202.18 499.54h0.45M200.31 495.64h0.45M197.8 497.17h0.45M189.01 497.14h0.45M196.08 498.17h0.45M206.8 498.01h0.45M197.81 498.28h0.45M192.62 499.04h0.45M211.17 499.16h0.45M212.23 496.45h0.45M187.03 499.19h0.45M218.38 495.36h0.45M213.21 496.22h0.45M212.92 496h0.45M198.91 498.89h0.45M188.89 497.94h0.45M199.91 500.13h0.45M202.7 497.99h0.45M199.93 502.84h0.45M204.82 498.17h0.45M184.56 501.78h0.45M201.24 498.39h0.45M207.47 498.35h0.45M212.17 497.74h0.45M205.37 498.27h0.45M206.16 498.59h0.45M204.67 498.45h0.45M202.7 499.45h0.45M195.9 495.66h0.45M201.09 498.01h0.45M210.72 493.64h0.45M212.17 496.24h0.45M194.56 498.59h0.45M203.57 500.34h0.45M185.08 500.73h0.45M204.42 501.58h0.45M199.42 493.67h0.45M199.08 497.08h0.45M206.35 500.2h0.45M185.17 493.41h0.45M201.97 495.76h0.45M208.65 501.33h0.45M217.6 498h0.45M209.62 499.49h0.45M202.59 496.67h0.45M209.45 499.88h0.45M200.57 497.22h0.45M187.45 498.55h0.45M202.02 494.94h0.45M211.37 497.79h0.45M192.97 496.96h0.45M192.43 495.57h0.45M191.18 498h0.45M188.6 495.85h0.45M201.19 497.05h0.45M202 495.63h0.45M196.05 498.49h0.45M198.01 500.14h0.45M197.3 497.97h0.45M198.46 500.47h0.45M193.68 499.78h0.45M209.65 499.05h0.45M211.15 495.12h0.45M187.82 495.88h0.45M197.3 498.75h0.45M196.42 496.29h0.45M198.87 502.17h0.45M196.04 497.5h0.45M203.34 501.9h0.45M191.17 492.92h0.45M200.34 495.39h0.45M196.13 492.27h0.45M213.23 493.56h0.45M204.33 499.22h0.45M207.32 502h0.45M197.36 494.37h0.45M203.38 500.22h0.45M200.06 496.96h0.45M210.01 494.93h0.45M215.45 493.54h0.45M194.33 497.38h0.45" stroke="#333" stroke-width="0.45" stroke-linecap="round" opacity="0.35"/>
<ellipse cx="186" cy="499.5" rx="7" ry="2.5" fill="#111" opacity="0.2" filter="url(#b15)" transform="rotate(0 186 499.5)"/>
<path d="M180.47 501.28h0.45M181.79 498.4h0.45M183.96 502.12h0.45M185.71 499.12h0.45M193.21 497.61h0.45M177.76 499.48h0.45M188.7 497.36h0.45M184.53 500.37h0.45M184.65 500.19h0.45M185.5 502.72h0.45M177.1 503.35h0.45M174.02 500.32h0.45M190.36 505.49h0.45M193.97 495.59h0.45M188.38 496.94h0.45M192.62 503.08h0.45M192.48 498.83h0.45M186.64 496.36h0.45M187.52 494.62h0.45M183.71 498.48h0.45M178.49 500.57h0.45M187.27 502.98h0.45M184.51 500.35h0.45M179.3 502.34h0.45M182.1 498h0.45M177.36 501.17h0.45M187.54 498.63h0.45M187.91 501.7h0.45M186.57 500.89h0.45M184.65 500.68h0.45M192.24 500.05h0.45M177.72 500.7h0.45M199.35 497.27h0.45M180.72 499.77h0.45M180.74 497.86h0.45M173.64 496.7h0.45M186.86 492.91h0.45M189.82 495.95h0.45M196.06 499.39h0.45M185.64 496.14h0.45M193.39 498.96h0.45M179.05 501.47h0.45M189.8 503.19h0.45M179.9 499.2h0.45M181.37 496.33h0.45M181.6 498.24h0.45M184.79 499.46h0.45M184.62 499.77h0.45M183.68 498.99h0.45M187 503.39h0.45M184.57 497.96h0.45M201.33 500.53h0.45M183.8 499.83h0.45M174.29 498.86h0.45M181.45 498.46h0.45M179.78 499.3h0.45M196.36 498.15h0.45M188.03 502.49h0.45M187.25 498.08h0.45M190.91 501.77h0.45M181.52 497.69h0.45M177.54 498.73h0.45M184.84 498.53h0.45M183.89 500.58h0.45M188.19 504.4h0.45M177.19 496.54h0.45M182.17 500.39h0.45M195.15 501.47h0.45M192.35 496.71h0.45M187.69 503.26h0.45" stroke="#333" stroke-width="0.45" stroke-linecap="round" opacity="0.35"/>
<ellipse cx="178" cy="513" rx="6" ry="5.5" fill="#111" opacity="0.2" filter="url(#b15)" transform="rotate(0 178 513)"/>
<path d="M181.36 510.32h0.45M180.17 519.85h0.45M178.94 506.69h0.45M183.27 510.06h0.45M180.46 516.99h0.45M175.24 518.41h0.45M170.57 519.58h0.45M170.96 506.7h0.45M176.09 511.88h0.45M178.98 515.31h0.45M176.68 508.42h0.45M182.85 503.66h0.45M182.53 507.18h0.45M177.95 515.04h0.45M179.36 511.65h0.45M183.07 514.64h0.45M174.03 510.3h0.45M174.47 505.23h0.45M183.8 503.07h0.45M183.8 523.44h0.45M184.5 515.84h0.45M178.2 510.58h0.45M176.95 520.48h0.45M175.45 514.06h0.45M184.79 515.1h0.45M179.78 515.16h0.45M177.22 519.11h0.45M182 515.16h0.45M176.9 516.69h0.45M177.74 507.47h0.45M180.53 501.83h0.45M181.53 511.8h0.45M176.52 510.56h0.45M185.22 514.56h0.45M174.61 512.45h0.45M175.4 520.55h0.45M175.78 511.48h0.45M178.42 512.27h0.45M171.64 516.83h0.45M177.98 515.89h0.45M179.17 515h0.45M172.86 524.99h0.45M184.76 514.82h0.45M169.93 503.36h0.45M183.77 519.14h0.45M184.58 510.18h0.45M175.92 511.23h0.45M173.4 523.05h0.45M175.14 510.03h0.45M181.28 521.53h0.45M179.79 506.13h0.45M179.22 509.9h0.45M176.9 508.17h0.45M169.53 519.4h0.45M176.42 510.09h0.45M175.61 516.15h0.45M174.23 517.38h0.45M178.5 513.11h0.45M177.19 507.72h0.45M183.72 513.43h0.45M174.73 509.44h0.45M180.84 522.64h0.45M180.01 507.51h0.45M173.92 506.51h0.45M173.39 511.06h0.45M174.91 515.5h0.45M176.45 514.61h0.45M179.09 509.01h0.45M181.39 513.47h0.45M180.6 506.93h0.45M178.33 514.55h0.45M172.25 516.78h0.45M175.53 511.43h0.45M178.98 503.65h0.45M178.19 516.66h0.45M181 522.93h0.45M180.13 510.34h0.45M177.01 508.51h0.45M179.35 509.1h0.45M172.28 508.39h0.45M169.15 507.23h0.45M174.73 510.68h0.45M174.92 515.95h0.45M172.11 512.45h0.45M173.04 513.06h0.45M179.76 507.89h0.45M172.01 514.04h0.45M172.73 512.97h0.45M176.72 513.18h0.45M173.98 512.86h0.45M175.75 514.5h0.45M182.25 515.31h0.45M177.52 512.78h0.45M180.91 511.36h0.45M176.18 516.49h0.45M187.9 509.8h0.45M186.49 511.22h0.45M178.18 510.73h0.45M175.69 523.42h0.45M174.81 514.02h0.45M172.98 516.4h0.45M174.06 506.36h0.45M173.85 513.08h0.45M170.87 509.26h0.45M175.54 513.58h0.45M172.95 517.1h0.45M172.72 520.23h0.45M176.44 507.83h0.45M176.25 504.34h0.45M191.25 513.41h0.45M178.19 503.96h0.45M188.09 513.1h0.45M178.53 516.79h0.45M182.46 509.22h0.45M185.85 511.38h0.45M183.32 508.39h0.45M185.25 511.33h0.45M174.53 515.84h0.45M173.94 511.81h0.45M190.4 512.69h0.45M185.46 508.21h0.45M182.53 507.64h0.45" stroke="#333" stroke-width="0.45" stroke-linecap="round" opacity="0.35"/>
<text x="220.3" y="485.9" font-size="3" text-anchor="end" fill="#222" textLength="18" lengthAdjust="spacingAndGlyphs">CD14<tspan baseline-shift="35%" font-size="75%">++</tspan>CD16<tspan baseline-shift="35%" font-size="75%">+</tspan></text>
<text x="219.9" y="490.1" font-size="2.7" text-anchor="end" fill="#222" textLength="15" lengthAdjust="spacingAndGlyphs">91.8±5.2 %</text>
<path d="M166.6 523.2L167.6 523.2" stroke="#555" stroke-width="0.35"/>
<text x="165.4" y="523.2" font-size="1.8" font-weight="normal" fill="#555" transform="rotate(-90 165.4 523.2)">0</text>
<path d="M166.6 513.73L167.6 513.73" stroke="#555" stroke-width="0.35"/>
<text x="165.4" y="513.73" font-size="1.8" font-weight="normal" fill="#555" transform="rotate(-90 165.4 513.73)">10²</text>
<path d="M166.6 504.25L167.6 504.25" stroke="#555" stroke-width="0.35"/>
<text x="165.4" y="504.25" font-size="1.8" font-weight="normal" fill="#555" transform="rotate(-90 165.4 504.25)">10³</text>
<path d="M166.6 494.78L167.6 494.78" stroke="#555" stroke-width="0.35"/>
<text x="165.4" y="494.78" font-size="1.8" font-weight="normal" fill="#555" transform="rotate(-90 165.4 494.78)">10⁴</text>
<path d="M166.6 485.3L167.6 485.3" stroke="#555" stroke-width="0.35"/>
<text x="165.4" y="485.3" font-size="1.8" font-weight="normal" fill="#555" transform="rotate(-90 165.4 485.3)">10⁵</text>
<path d="M170.6 526.2L170.6 527.2" stroke="#555" stroke-width="0.35"/>
<text x="170.6" y="528.6" font-size="1.7" font-weight="normal" fill="#555">-10²</text>
<path d="M183.07 526.2L183.07 527.2" stroke="#555" stroke-width="0.35"/>
<text x="183.07" y="528.6" font-size="1.7" font-weight="normal" fill="#555">10²</text>
<path d="M195.55 526.2L195.55 527.2" stroke="#555" stroke-width="0.35"/>
<text x="195.55" y="528.6" font-size="1.7" font-weight="normal" fill="#555">10³</text>
<path d="M208.03 526.2L208.03 527.2" stroke="#555" stroke-width="0.35"/>
<text x="208.03" y="528.6" font-size="1.7" font-weight="normal" fill="#555">10⁴</text>
<path d="M220.5 526.2L220.5 527.2" stroke="#555" stroke-width="0.35"/>
<text x="220.5" y="528.6" font-size="1.7" font-weight="normal" fill="#555">10⁵</text>
<text x="195.55" y="531" font-size="1.8" font-weight="normal" fill="#555">HLA-DR FITC-A</text>
<text x="162.6" y="506.25" font-size="1.8" font-weight="normal" fill="#555" transform="rotate(-90 162.6 506.25)">CD14 PerCP-A</text>
<rect x="168.1" y="572.5" width="54.9" height="8.6" fill="#e9e9e9" stroke="#9a9a9a" stroke-width="1"/>
<text x="195.55" y="576.9" font-size="6" textLength="10.3" lengthAdjust="spacingAndGlyphs" stroke="#111" stroke-width="0.18">48 h</text>
<rect x="167.6" y="586.4" width="55.9" height="43.6" fill="#fff" stroke="#888" stroke-width="0.6"/>
<path d="M167.6 595.5L223.5 595.5" stroke="#666" stroke-width="0.6"/>
<path d="M167.6 607L223.5 607" stroke="#666" stroke-width="0.6"/>
<path d="M196.5 595.5L196.5 607" stroke="#666" stroke-width="0.6"/>
<ellipse cx="177.3" cy="618" rx="6" ry="5" fill="#111" opacity="0.95" filter="url(#b15)" transform="rotate(0 177.3 618)"/>
<path d="M176.3 617.22h0.45M176.47 621.16h0.45M176.39 611.26h0.45M178.87 616.8h0.45M175.9 618.52h0.45M178.33 623.24h0.45M180.62 618.5h0.45M173.09 613.43h0.45M178.41 623.9h0.45M177.3 617.52h0.45M179.95 611.46h0.45M175.39 620.21h0.45M181.79 616.92h0.45M179.11 619.12h0.45M181.3 612.99h0.45M180.14 611.18h0.45M172.13 621.94h0.45M180.66 612.51h0.45M181.65 613.49h0.45M176.61 616.68h0.45M177.69 621.68h0.45M180.52 619.57h0.45M180.58 620.15h0.45M173.69 614.77h0.45M174.54 620.25h0.45M175.72 628.51h0.45M172.65 613.06h0.45M181.22 624.4h0.45M179.81 621.76h0.45M184.78 617.58h0.45M169.39 615.61h0.45M182.22 611.5h0.45M177.26 619.14h0.45M175.37 621.26h0.45M180.21 628.45h0.45M180.42 615.26h0.45M174.04 614.26h0.45M182.22 615.45h0.45M176.7 621.37h0.45M173.17 616.68h0.45M174.01 619.87h0.45M183.52 617.92h0.45M178.49 618.76h0.45M182.93 622.02h0.45M178.55 613.45h0.45M181.95 619.71h0.45M183.7 617.87h0.45M187.62 616.39h0.45M185.68 618.52h0.45M174.29 612.92h0.45M176.26 624.4h0.45M181.48 621.1h0.45M180.08 615.53h0.45M173.69 617.99h0.45M186.39 613.25h0.45M174.76 624.13h0.45M174.67 616.36h0.45M177.6 612.41h0.45M178.26 612.56h0.45M181.86 618.01h0.45M189.41 619.26h0.45M184.45 612.14h0.45M176.42 619.45h0.45M186.5 610.44h0.45M182.42 620.66h0.45M185.36 621.21h0.45M177.36 615.65h0.45M170.33 618.88h0.45M176.04 627.09h0.45M173.78 619.44h0.45M168.6 616.22h0.45M178.49 621.71h0.45M184.89 617.8h0.45M171.04 620.06h0.45M179.87 620.21h0.45M173.29 623.1h0.45M177.55 621.15h0.45M183.95 620.74h0.45M178.62 627.69h0.45M178.39 616.67h0.45M177.68 624.67h0.45M177.72 620.34h0.45M183.53 615.69h0.45M178.32 615.26h0.45M181.78 620.73h0.45M171.7 620.33h0.45M176.02 611.33h0.45M179.52 617.8h0.45M173.05 620.35h0.45M179.71 615.4h0.45M179.24 622.57h0.45M173.23 619.71h0.45M177.09 628.2h0.45M175.42 617.55h0.45M187.34 617.96h0.45M189.18 616.01h0.45M178.97 615.79h0.45M173.35 618.28h0.45M175.55 618.91h0.45M176.17 625.84h0.45M171.64 619.32h0.45M194.17 614.09h0.45M169 615.54h0.45M179.63 621.12h0.45M184.04 616.84h0.45M168.42 616.04h0.45M183.77 620.1h0.45M184.63 627.57h0.45M180.11 619.39h0.45M170.38 614.21h0.45M177.33 620.26h0.45M180.21 615.85h0.45M170.85 614.5h0.45M170.83 620.9h0.45M179.5 624.85h0.45M177.46 622.51h0.45M174.92 614.65h0.45M173.43 624.87h0.45M182.44 620.19h0.45M195.06 617.85h0.45M180.42 619.38h0.45M175.88 628.42h0.45M185.21 611.7h0.45M174.92 619.93h0.45M181.3 611.93h0.45M176.69 617.54h0.45M178.94 614.54h0.45M170.46 608.9h0.45M178.85 619.67h0.45M182.44 621.56h0.45M176.05 624.07h0.45M176.34 615.03h0.45M174.26 615.37h0.45M178.42 616.37h0.45M173.22 619.67h0.45M186.35 618.17h0.45M174.33 615.34h0.45M176.7 612.31h0.45M176.4 618.28h0.45M187.04 622.25h0.45M182.66 614.79h0.45M180.69 612.87h0.45M178.76 619.88h0.45M172.94 627h0.45M180.14 609.44h0.45M180.06 616.17h0.45M177.08 620.1h0.45M179.18 608.82h0.45M170.82 621.48h0.45M184.1 626.56h0.45M186.81 608.75h0.45M181.23 609.38h0.45M185.79 619.14h0.45M170.91 627.04h0.45M180.55 609.49h0.45M178.66 614.71h0.45M177.68 615.91h0.45M184.49 611.6h0.45M178.79 626.16h0.45M172.61 618.95h0.45M178.17 614.9h0.45M180.57 618.44h0.45M171.98 625.93h0.45M181.35 617.25h0.45M173.64 614.47h0.45M183.72 617.34h0.45M179.56 617.17h0.45M180.4 617.48h0.45M181.2 617.18h0.45M181.55 621.03h0.45" stroke="#333" stroke-width="0.45" stroke-linecap="round" opacity="0.35"/>
<ellipse cx="198" cy="600.4" rx="8" ry="1.8" fill="#111" opacity="0.35" filter="url(#b15)" transform="rotate(-10 198 600.4)"/>
<path d="M196.94 599.01h0.45M191.01 599.2h0.45M190.69 601.8h0.45M197.44 602.94h0.45M214.19 600.44h0.45M186.63 599.78h0.45M197.23 597.99h0.45M195.97 600.86h0.45M194.47 599.16h0.45M192.31 603.29h0.45M196.63 599.06h0.45M195.09 601.95h0.45M192.85 601.18h0.45M203.02 601.61h0.45M207.85 599.51h0.45M205.93 599.12h0.45M194.92 602.34h0.45M203.7 600.4h0.45M189.2 601.31h0.45M193.24 598.9h0.45M193.11 600.8h0.45M182.5 600.98h0.45M199.03 599.45h0.45M205.24 601.39h0.45M193.41 599.31h0.45M202.78 597.94h0.45M195.38 599.38h0.45M198.28 600.74h0.45M198.04 602.24h0.45M199.42 599.89h0.45M189.06 601.57h0.45M201.58 602.75h0.45M192.39 600.44h0.45M197.35 600.26h0.45M197.85 597.62h0.45M203.71 601.46h0.45M205.91 604.04h0.45M195.48 600.34h0.45M197.85 603.55h0.45M185.31 601.19h0.45M187.19 596.22h0.45M183.23 598.16h0.45M205.47 598.99h0.45M196.14 598.52h0.45M202.17 598.61h0.45M207.26 598.79h0.45M192.27 600.6h0.45M197.95 602.71h0.45M198.64 598.44h0.45M193.74 599.47h0.45M203 601.02h0.45M196.92 601.81h0.45M193.97 600.18h0.45M199.08 602.88h0.45M197.07 599.83h0.45M190.24 601.51h0.45M193.54 600.96h0.45M184.08 602.09h0.45M188.19 599.14h0.45M205.4 598.24h0.45M197.2 600.52h0.45M190.59 602.58h0.45M208.57 597.21h0.45M187.34 601.71h0.45M188.39 599.77h0.45M198.71 601.52h0.45M196.17 600.55h0.45M192.18 602.49h0.45M194.21 600.95h0.45M194.09 600.57h0.45M196.56 600.14h0.45M190.48 601.69h0.45M207.96 600.79h0.45M203.05 601.76h0.45M204.46 600.89h0.45M199.3 601.8h0.45M198.27 598.82h0.45M197.95 597.34h0.45M197.73 601.07h0.45M206.67 600.65h0.45M204.46 600.4h0.45M190.41 598.11h0.45M190.79 598.19h0.45M202.34 600.06h0.45M201.88 600.52h0.45M205.29 602.12h0.45M193.13 599.96h0.45M193.94 597.77h0.45M202.64 602.33h0.45M197.73 599.6h0.45M205.63 596.6h0.45M199.05 600.63h0.45M193.66 602.65h0.45M204.76 599.98h0.45M197.15 599.77h0.45M194.09 598.28h0.45M207.71 602.07h0.45M203.52 598.63h0.45M212.76 603.61h0.45M199.13 598.94h0.45" stroke="#333" stroke-width="0.45" stroke-linecap="round" opacity="0.35"/>
<text x="220.3" y="590" font-size="3" text-anchor="end" fill="#222" textLength="18" lengthAdjust="spacingAndGlyphs">CD14<tspan baseline-shift="35%" font-size="75%">++</tspan>CD16<tspan baseline-shift="35%" font-size="75%">+</tspan></text>
<text x="219.9" y="594.2" font-size="2.7" text-anchor="end" fill="#222" textLength="15" lengthAdjust="spacingAndGlyphs">15.6±7.3 %</text>
<path d="M166.6 627L167.6 627" stroke="#555" stroke-width="0.35"/>
<text x="165.4" y="627" font-size="1.8" font-weight="normal" fill="#555" transform="rotate(-90 165.4 627)">0</text>
<path d="M166.6 617.6L167.6 617.6" stroke="#555" stroke-width="0.35"/>
<text x="165.4" y="617.6" font-size="1.8" font-weight="normal" fill="#555" transform="rotate(-90 165.4 617.6)">10²</text>
<path d="M166.6 608.2L167.6 608.2" stroke="#555" stroke-width="0.35"/>
<text x="165.4" y="608.2" font-size="1.8" font-weight="normal" fill="#555" transform="rotate(-90 165.4 608.2)">10³</text>
<path d="M166.6 598.8L167.6 598.8" stroke="#555" stroke-width="0.35"/>
<text x="165.4" y="598.8" font-size="1.8" font-weight="normal" fill="#555" transform="rotate(-90 165.4 598.8)">10⁴</text>
<path d="M166.6 589.4L167.6 589.4" stroke="#555" stroke-width="0.35"/>
<text x="165.4" y="589.4" font-size="1.8" font-weight="normal" fill="#555" transform="rotate(-90 165.4 589.4)">10⁵</text>
<path d="M170.6 630L170.6 631" stroke="#555" stroke-width="0.35"/>
<text x="170.6" y="632.4" font-size="1.7" font-weight="normal" fill="#555">-10²</text>
<path d="M183.07 630L183.07 631" stroke="#555" stroke-width="0.35"/>
<text x="183.07" y="632.4" font-size="1.7" font-weight="normal" fill="#555">10²</text>
<path d="M195.55 630L195.55 631" stroke="#555" stroke-width="0.35"/>
<text x="195.55" y="632.4" font-size="1.7" font-weight="normal" fill="#555">10³</text>
<path d="M208.03 630L208.03 631" stroke="#555" stroke-width="0.35"/>
<text x="208.03" y="632.4" font-size="1.7" font-weight="normal" fill="#555">10⁴</text>
<path d="M220.5 630L220.5 631" stroke="#555" stroke-width="0.35"/>
<text x="220.5" y="632.4" font-size="1.7" font-weight="normal" fill="#555">10⁵</text>
<text x="195.55" y="634.8" font-size="1.8" font-weight="normal" fill="#555">HLA-DR FITC-A</text>
<text x="162.6" y="610.2" font-size="1.8" font-weight="normal" fill="#555" transform="rotate(-90 162.6 610.2)">CD14 PerCP-A</text>
<rect x="239.3" y="469" width="53.9" height="8.7" fill="#e9e9e9" stroke="#9a9a9a" stroke-width="1"/>
<text x="266.25" y="473.4" font-size="6" textLength="10.3" lengthAdjust="spacingAndGlyphs" stroke="#111" stroke-width="0.18">72 h</text>
<rect x="238.8" y="482.3" width="54.9" height="43.9" fill="#fff" stroke="#888" stroke-width="0.6"/>
<path d="M238.8 493.1L293.7 493.1" stroke="#666" stroke-width="0.6"/>
<path d="M238.8 505.7L293.7 505.7" stroke="#666" stroke-width="0.6"/>
<ellipse cx="274" cy="497.3" rx="6.5" ry="3" fill="#111" opacity="0.9" filter="url(#b15)" transform="rotate(-15 274 497.3)"/>
<path d="M266.3 495.67h0.45M275.7 495.31h0.45M266.66 492.66h0.45M276.93 496.36h0.45M269.08 494.25h0.45M258.55 497.15h0.45M267.52 496.78h0.45M281.57 495.97h0.45M272.18 499.5h0.45M271.85 497.32h0.45M266.33 494.54h0.45M263.65 499.64h0.45M280.48 495.8h0.45M272.55 496.08h0.45M289.14 499.9h0.45M272.9 499.13h0.45M281.53 494.58h0.45M277.46 498.96h0.45M273.99 499.45h0.45M280.9 497.43h0.45M271.81 499.85h0.45M274.89 498.5h0.45M285.4 498.43h0.45M273.65 493.84h0.45M276.14 498.38h0.45M277.5 498.91h0.45M278.17 498.07h0.45M274.89 498.99h0.45M270.09 494.84h0.45M268.34 497.72h0.45M263.82 496.15h0.45M272.98 498.26h0.45M268.1 497.61h0.45M274.32 496.01h0.45M274.48 496.97h0.45M267.66 496.53h0.45M268.88 502.49h0.45M272.74 495.76h0.45M265.73 497.42h0.45M276.22 497.54h0.45M266.18 494.7h0.45M267.82 497.96h0.45M269.23 497.21h0.45M284.44 492.47h0.45M272.59 497.36h0.45M265.36 500.23h0.45M272.52 498.44h0.45M277.43 501.21h0.45M270.32 495.76h0.45M266.72 494.1h0.45M284.56 496.22h0.45M264.02 499.28h0.45M284.3 494.84h0.45M273.8 493.71h0.45M262.4 496.92h0.45M267.17 494.25h0.45M274.13 498.48h0.45M272.79 500.84h0.45M270.28 496.5h0.45M279.16 503.43h0.45M285.81 499.98h0.45M274.83 493.81h0.45M282.6 497.19h0.45M287.6 497.57h0.45M262.62 500.42h0.45M275.02 495.94h0.45M274.94 497.44h0.45M275.76 492.61h0.45M274.17 498.61h0.45M266.77 500.9h0.45M273.09 491.88h0.45M283.39 496.4h0.45M274.32 496.88h0.45M285.42 497.52h0.45M269.95 495.67h0.45M277.42 499.05h0.45M270.14 499.98h0.45M270.04 497.86h0.45M277.2 498.2h0.45M275.64 498.2h0.45M271.12 498.03h0.45M276.04 494.08h0.45M265.68 498.26h0.45M273.9 497.89h0.45M278.45 498.46h0.45M270.9 498.88h0.45M269.93 502.1h0.45M280.15 497.46h0.45M270.24 498.77h0.45M273.12 495.4h0.45M277.1 497.72h0.45M279.11 496.96h0.45M285.31 502.12h0.45M264.8 491.96h0.45M268.56 501.59h0.45M277.94 497.81h0.45M275.73 494.17h0.45M275.19 494.72h0.45M275.45 496.54h0.45M271.08 496.08h0.45M277.56 502.61h0.45M264.09 499.4h0.45M271.77 501.57h0.45M280.64 495.22h0.45M274.62 501.29h0.45M283.79 495.83h0.45M268.23 498.24h0.45M281.92 499.98h0.45M276.01 498.89h0.45M277.2 497.63h0.45M268.82 499.35h0.45M276.56 499.83h0.45M273.91 496.08h0.45M278.46 499.77h0.45M284.54 493.87h0.45M271.45 496.8h0.45M286.65 491.26h0.45M279.58 495.34h0.45M268.02 499.71h0.45M278.51 488.9h0.45M266.83 497.43h0.45M271.07 500.42h0.45M269.18 496.7h0.45M261.21 498.86h0.45M274.17 499.36h0.45M269.88 502.33h0.45M270.18 502.08h0.45M284.55 494.92h0.45M275.06 495.63h0.45M263.41 498.84h0.45M273.98 500.96h0.45M283.16 492.74h0.45M272.03 498.4h0.45M278.78 497.76h0.45M269.24 496.66h0.45M277.57 493.8h0.45M265.84 493.81h0.45M269.77 500.75h0.45M270.91 499.1h0.45M281.53 500.44h0.45M274.97 496.9h0.45M273.34 496.35h0.45M269.34 498.47h0.45M278.88 495.65h0.45M268.3 497.13h0.45M273.65 499.32h0.45M274.7 497.48h0.45M264.67 495.93h0.45M271.6 495.46h0.45M276.14 497.22h0.45M268.98 498.31h0.45M280.18 503.51h0.45M273.1 495.9h0.45M278.49 501.71h0.45M270.33 498.94h0.45M272.28 499.59h0.45M269.49 496.06h0.45M272 496.77h0.45M266.22 496.51h0.45M268.78 502.22h0.45M281.48 495.58h0.45M270.78 498.16h0.45M270.37 495.72h0.45M277.45 500.16h0.45M276.35 500.97h0.45M273.83 496.89h0.45M271.21 496h0.45M268.9 501h0.45M278.73 496.79h0.45M273.93 494.81h0.45M277.14 496.69h0.45M272.54 496.33h0.45M264.81 495.66h0.45M282.29 494.92h0.45M268.15 496.46h0.45M267.98 494.45h0.45M266.69 494.55h0.45M273.37 490.95h0.45M265.09 493.51h0.45M273.43 494.66h0.45M275.58 494.86h0.45M279.48 492.41h0.45M284.01 493.72h0.45M271.34 494.33h0.45M271.77 501.04h0.45M278.08 495.71h0.45M276.2 501.7h0.45M277.12 496.31h0.45M275.61 498.31h0.45M263.31 495.67h0.45M273.93 502.08h0.45M277.61 497.83h0.45M264.34 495.98h0.45M264.86 497.46h0.45M270.16 499.33h0.45M273.41 497.28h0.45M275.44 499.69h0.45M271.63 495.81h0.45M274.5 505.54h0.45M270.26 495.04h0.45" stroke="#333" stroke-width="0.45" stroke-linecap="round" opacity="0.35"/>
<ellipse cx="262" cy="501" rx="6" ry="3" fill="#111" opacity="0.2" filter="url(#b15)" transform="rotate(-20 262 501)"/>
<path d="M263.54 496.81h0.45M264.59 497.85h0.45M259.94 500.2h0.45M256.92 502.17h0.45M261.58 503.57h0.45M264.67 499.74h0.45M265.46 502.6h0.45M262.35 501.51h0.45M267.58 499.23h0.45M268.33 501.55h0.45M264.62 503.76h0.45M275.83 498.47h0.45M254.23 503.83h0.45M259.57 501.05h0.45M253.79 503.88h0.45M263.28 496.74h0.45M267.04 500.8h0.45M258.84 496.23h0.45M271.48 498.5h0.45M265.21 499.24h0.45M256.38 503.6h0.45M265.15 502.58h0.45M259.25 502.33h0.45M264.88 504.61h0.45M261.1 501.86h0.45M265.65 494.77h0.45M263.12 505.05h0.45M265.08 501.95h0.45M265.74 504.32h0.45M252.42 499.19h0.45M256.9 497.18h0.45M266.82 498.47h0.45M262.27 502.59h0.45M267.99 497.08h0.45M253.67 495.73h0.45M263.76 498.44h0.45M264.01 503.62h0.45M271.6 498.19h0.45M262.42 501.01h0.45M250.59 502.95h0.45M269.21 497.45h0.45M265.1 501.77h0.45M262.65 498.12h0.45M255.99 507.23h0.45M267.97 501.35h0.45M267.97 498.17h0.45M265.06 499.61h0.45M247.85 498.21h0.45M265.63 503.12h0.45M264.96 500.91h0.45M263.11 496.56h0.45M260.97 509.17h0.45M262.33 499.59h0.45M272.93 500.65h0.45M260.47 501.08h0.45M263.31 497.5h0.45M261.7 499.9h0.45M252.04 501.63h0.45M261.32 499.35h0.45M258.92 503.61h0.45" stroke="#333" stroke-width="0.45" stroke-linecap="round" opacity="0.35"/>
<ellipse cx="252" cy="510.5" rx="7" ry="4" fill="#111" opacity="0.28" filter="url(#b15)" transform="rotate(-25 252 510.5)"/>
<path d="M252.1 510.42h0.45M249.25 509.18h0.45M256.86 507.18h0.45M262.82 505.77h0.45M255.28 509.62h0.45M261.75 512.93h0.45M241.11 511.85h0.45M245.68 511.82h0.45M251.17 507.07h0.45M245.43 510.58h0.45M250.68 509.27h0.45M243.7 511.61h0.45M246.38 503.38h0.45M240.67 517.15h0.45M249.97 507.11h0.45M246.25 509.21h0.45M250.96 509.84h0.45M256.53 508.46h0.45M254.44 510.61h0.45M249.16 512.88h0.45M254.98 507.52h0.45M256.18 509.04h0.45M243.07 517.82h0.45M261.11 503.94h0.45M253.56 511.4h0.45M249.83 507.43h0.45M253.97 511.47h0.45M249.37 513.28h0.45M242 501.2h0.45M257.22 516.09h0.45M241.28 506.47h0.45M265.78 510.09h0.45M258.75 514.85h0.45M252.7 507.02h0.45M262.21 511.71h0.45M244.38 506.13h0.45M252.16 504.63h0.45M266.22 512.8h0.45M257.42 509.58h0.45M255.08 502.22h0.45M246.59 511.86h0.45M242.98 506.76h0.45M243.45 513.41h0.45M257.62 509.51h0.45M254.7 509.44h0.45M241.85 506.72h0.45M247.52 512.15h0.45M250.74 513.87h0.45M246.75 512.87h0.45M252.09 515.34h0.45M252.63 513.27h0.45M251.14 512.75h0.45M253.07 505.79h0.45M264.08 517.14h0.45M254.5 515.35h0.45M252.63 517.23h0.45M245.7 514.2h0.45M254.55 505.11h0.45M249.79 513.33h0.45M245.1 508.31h0.45M251.24 509.18h0.45M252.21 510.61h0.45M253.1 508.4h0.45M251.88 506.52h0.45M260.38 509.05h0.45M253.42 509.14h0.45M256.62 508.31h0.45M263.79 512.37h0.45M252.71 515.71h0.45M258.51 510.91h0.45M245.05 511.35h0.45M254.18 507.87h0.45M254.93 509.38h0.45M256.84 509.91h0.45M245.43 503.01h0.45M246.55 504.11h0.45M265.81 515.4h0.45M260.92 511.87h0.45M256.6 505.01h0.45M250.56 505.63h0.45M256.25 510.29h0.45M261.42 507.01h0.45M254.3 514.25h0.45M248.48 511.3h0.45M259.22 504.84h0.45M251.78 509.54h0.45M249.95 502.31h0.45M248.87 502.33h0.45M261.29 509.11h0.45M251.51 507.45h0.45M252.53 507.41h0.45M251.22 513.7h0.45M251.14 511.44h0.45M254.75 512.84h0.45M252.04 511.21h0.45M250.72 503.8h0.45M246.84 515.44h0.45M252.83 509.85h0.45M244.24 508.37h0.45M258.14 517.34h0.45M254.42 506.3h0.45M240.17 508.96h0.45M263.84 513.08h0.45M246.47 510.04h0.45M251.29 514.99h0.45M261.28 514.49h0.45M240.5 514.66h0.45M262.48 508.64h0.45M255.44 512.2h0.45M241.51 504.24h0.45M247.57 508.09h0.45M254.3 506.75h0.45M245.91 508.38h0.45M260.05 509h0.45M258.81 513.75h0.45M248.63 511.76h0.45M246.82 510.57h0.45M255.99 509.71h0.45M251.15 510.4h0.45M248.75 515.43h0.45M242.49 510.5h0.45M243.99 508.27h0.45M251.18 518.67h0.45M250.9 509.8h0.45M253.73 508.62h0.45M243.9 513.12h0.45M254.86 509.17h0.45M249.61 514.65h0.45M248.85 506.85h0.45M246.63 499.9h0.45M257.64 511.98h0.45M254.83 504.17h0.45M257.26 509.59h0.45M251.84 515.84h0.45M257.08 504.81h0.45M248.55 510.08h0.45M250.27 507.87h0.45M252.17 510.54h0.45M248.48 513.43h0.45M245.2 509.4h0.45M242.88 510.11h0.45M256.4 516.39h0.45M246.26 504.72h0.45M244.55 508.75h0.45M256.58 505.98h0.45M250.51 517.67h0.45M253.58 513.2h0.45M254.98 506.99h0.45" stroke="#333" stroke-width="0.45" stroke-linecap="round" opacity="0.35"/>
<text x="290.5" y="485.9" font-size="3" text-anchor="end" fill="#222" textLength="18" lengthAdjust="spacingAndGlyphs">CD14<tspan baseline-shift="35%" font-size="75%">++</tspan>CD16<tspan baseline-shift="35%" font-size="75%">+</tspan></text>
<text x="290.1" y="490.1" font-size="2.7" text-anchor="end" fill="#222" textLength="15" lengthAdjust="spacingAndGlyphs">88.8±2.2 %</text>
<path d="M237.8 523.2L238.8 523.2" stroke="#555" stroke-width="0.35"/>
<text x="236.6" y="523.2" font-size="1.8" font-weight="normal" fill="#555" transform="rotate(-90 236.6 523.2)">0</text>
<path d="M237.8 513.73L238.8 513.73" stroke="#555" stroke-width="0.35"/>
<text x="236.6" y="513.73" font-size="1.8" font-weight="normal" fill="#555" transform="rotate(-90 236.6 513.73)">10²</text>
<path d="M237.8 504.25L238.8 504.25" stroke="#555" stroke-width="0.35"/>
<text x="236.6" y="504.25" font-size="1.8" font-weight="normal" fill="#555" transform="rotate(-90 236.6 504.25)">10³</text>
<path d="M237.8 494.78L238.8 494.78" stroke="#555" stroke-width="0.35"/>
<text x="236.6" y="494.78" font-size="1.8" font-weight="normal" fill="#555" transform="rotate(-90 236.6 494.78)">10⁴</text>
<path d="M237.8 485.3L238.8 485.3" stroke="#555" stroke-width="0.35"/>
<text x="236.6" y="485.3" font-size="1.8" font-weight="normal" fill="#555" transform="rotate(-90 236.6 485.3)">10⁵</text>
<path d="M241.8 526.2L241.8 527.2" stroke="#555" stroke-width="0.35"/>
<text x="241.8" y="528.6" font-size="1.7" font-weight="normal" fill="#555">-10²</text>
<path d="M254.03 526.2L254.03 527.2" stroke="#555" stroke-width="0.35"/>
<text x="254.03" y="528.6" font-size="1.7" font-weight="normal" fill="#555">10²</text>
<path d="M266.25 526.2L266.25 527.2" stroke="#555" stroke-width="0.35"/>
<text x="266.25" y="528.6" font-size="1.7" font-weight="normal" fill="#555">10³</text>
<path d="M278.48 526.2L278.48 527.2" stroke="#555" stroke-width="0.35"/>
<text x="278.48" y="528.6" font-size="1.7" font-weight="normal" fill="#555">10⁴</text>
<path d="M290.7 526.2L290.7 527.2" stroke="#555" stroke-width="0.35"/>
<text x="290.7" y="528.6" font-size="1.7" font-weight="normal" fill="#555">10⁵</text>
<text x="266.25" y="531" font-size="1.8" font-weight="normal" fill="#555">HLA-DR FITC-A</text>
<text x="233.8" y="506.25" font-size="1.8" font-weight="normal" fill="#555" transform="rotate(-90 233.8 506.25)">CD14 PerCP-A</text>
<rect x="239.3" y="572.5" width="53.9" height="8.6" fill="#e9e9e9" stroke="#9a9a9a" stroke-width="1"/>
<text x="266.25" y="576.9" font-size="6" textLength="10.3" lengthAdjust="spacingAndGlyphs" stroke="#111" stroke-width="0.18">72 h</text>
<rect x="238.8" y="586.4" width="54.9" height="43.6" fill="#fff" stroke="#888" stroke-width="0.6"/>
<path d="M238.8 595.5L293.7 595.5" stroke="#666" stroke-width="0.6"/>
<path d="M238.8 607L293.7 607" stroke="#666" stroke-width="0.6"/>
<path d="M266.5 595.5L266.5 607" stroke="#666" stroke-width="0.6"/>
<ellipse cx="250.4" cy="615.8" rx="6.5" ry="5.5" fill="#111" opacity="0.95" filter="url(#b15)" transform="rotate(0 250.4 615.8)"/>
<path d="M258.94 617.63h0.45M254.2 620.14h0.45M245.27 608.06h0.45M243.6 617.49h0.45M256.36 616.43h0.45M242.22 622.76h0.45M240.78 613.38h0.45M246.84 617.04h0.45M256.59 608.41h0.45M248.31 617.36h0.45M243.35 615.35h0.45M251.28 609.19h0.45M242.53 615.53h0.45M248.85 616.9h0.45M263.11 620.23h0.45M252.78 612.28h0.45M255.62 611.93h0.45M259.36 621.67h0.45M249.06 613.81h0.45M242.8 609.73h0.45M254.4 613.17h0.45M241.23 614.41h0.45M255.85 624.13h0.45M250.54 614.24h0.45M245.47 613.22h0.45M253.29 622h0.45M257.45 614.59h0.45M255.35 619.58h0.45M252.83 603.67h0.45M249.81 614.4h0.45M257.94 614.4h0.45M252.81 617.1h0.45M257.59 619.57h0.45M256.19 623.2h0.45M255.79 619.67h0.45M248.65 616.28h0.45M262.82 615.97h0.45M253.16 615.43h0.45M248.47 600.98h0.45M260.19 609.95h0.45M245.31 622.51h0.45M246.9 606.68h0.45M253.78 611.98h0.45M249.57 613.67h0.45M253.92 626.99h0.45M242.83 620.04h0.45M246.14 614.04h0.45M247.65 619.84h0.45M251.61 618.65h0.45M254.45 608.95h0.45M258.67 614.19h0.45M254.18 614.9h0.45M251.73 619h0.45M251.19 621.21h0.45M251.45 616.24h0.45M242.44 613.86h0.45M259.41 606.48h0.45M246.15 613.96h0.45M256.99 621.93h0.45M250.54 616.25h0.45M249.23 613.38h0.45M247.36 613.49h0.45M249.28 616.19h0.45M246.46 618.9h0.45M249.96 618.45h0.45M242.19 612.32h0.45M250.72 617.21h0.45M249.14 623.42h0.45M248.94 622.87h0.45M258.34 619.24h0.45M252.78 618.54h0.45M249.33 610.23h0.45M247.12 612.66h0.45M247.76 612.16h0.45M243.88 616.44h0.45M258.5 611.47h0.45M242.95 610.74h0.45M242.57 615.07h0.45M253.23 626.94h0.45M243.23 608.77h0.45M249.15 615.11h0.45M259.58 622.23h0.45M246.23 605.61h0.45M253.5 613.57h0.45M258.18 615.17h0.45M249.29 609.88h0.45M249.91 621.51h0.45M245.4 616.78h0.45M246.72 620.29h0.45M249.84 618.5h0.45M252.02 611.41h0.45M243.42 622.3h0.45M248.14 610.69h0.45M246.36 624.01h0.45M250.72 621.3h0.45M250.67 622.43h0.45M248.35 615.53h0.45M255.26 625.17h0.45M251.15 612.47h0.45M256.17 626.33h0.45M242.29 611.64h0.45M253.97 613.68h0.45M251.92 619.29h0.45M258.44 609.37h0.45M247.06 615.54h0.45M252.68 612.12h0.45M250.38 612.01h0.45M255.27 622.07h0.45M245.73 618.79h0.45M244.16 617.84h0.45M241.86 617.11h0.45M257.06 620.41h0.45M248.16 622.94h0.45M252.67 623.17h0.45M247.09 610.17h0.45M248.64 617.39h0.45M249.33 617.08h0.45M258.78 609.86h0.45M253.44 622.2h0.45M253.38 625.14h0.45M248.42 616.68h0.45M248.56 614.25h0.45M260.75 608.79h0.45M246.87 613.37h0.45M250.43 614.41h0.45M254 618.51h0.45M260.87 620.21h0.45M244.95 607.97h0.45M247.88 612.85h0.45M248.76 622.47h0.45M252.28 609.1h0.45M245.64 623.8h0.45M243.22 619.52h0.45M255.24 609.88h0.45M242.61 617.46h0.45M251.96 620.88h0.45M253.52 610.85h0.45M260.85 616.76h0.45M251.02 616.85h0.45M241.37 611.79h0.45M255 619.28h0.45M247.27 616.41h0.45M247.11 613.07h0.45M247.69 610.34h0.45M245.98 615.25h0.45M250.25 615.07h0.45M249.12 617.92h0.45M250.92 616.18h0.45M247.94 615.52h0.45M254.87 619.26h0.45M248.5 612.79h0.45M246.05 610.53h0.45M259.66 611.67h0.45M255.67 615.55h0.45M254.04 612.93h0.45M248.91 620.9h0.45M259.45 616.94h0.45M257.02 619.4h0.45M255.93 617.69h0.45M249.94 627.73h0.45M248.53 620.23h0.45M249.12 618.2h0.45M247.11 612.49h0.45M249.51 620.05h0.45M243.91 622.81h0.45M250.81 618.29h0.45M246.49 621.42h0.45M249.6 618.14h0.45M240.88 625.64h0.45M255.21 612.53h0.45M246.88 617.05h0.45M245.73 608.84h0.45M249.74 622.73h0.45M254.25 618.37h0.45M247.66 624.38h0.45M245.02 611.79h0.45M243.33 618.2h0.45M245.69 616.24h0.45M255.25 608.08h0.45M245.68 619.09h0.45" stroke="#333" stroke-width="0.45" stroke-linecap="round" opacity="0.35"/>
<ellipse cx="272" cy="599.8" rx="9" ry="2.2" fill="#111" opacity="0.35" filter="url(#b15)" transform="rotate(-18 272 599.8)"/>
<path d="M273.25 599.62h0.45M272.26 598.6h0.45M274.53 601.51h0.45M266.71 598.58h0.45M262.12 599.54h0.45M281.12 598.55h0.45M270.31 602.58h0.45M265.31 599.22h0.45M271.6 599.54h0.45M288.19 599.45h0.45M283.63 600.96h0.45M288.67 604.22h0.45M258.96 600.76h0.45M271.35 602.68h0.45M286.05 600.44h0.45M271.27 601.01h0.45M262.86 600.64h0.45M276.47 600.14h0.45M264.31 601.48h0.45M270.42 598.78h0.45M275.13 598.12h0.45M279.57 599.69h0.45M264.54 600.4h0.45M287.98 602h0.45M260.33 597.99h0.45M277.07 601.68h0.45M270.36 601.34h0.45M262.81 601.51h0.45M259.68 600.61h0.45M282.56 599.61h0.45M277.86 595.16h0.45M279.15 599.47h0.45M278.32 597.19h0.45M286.66 600.25h0.45M285.56 597.27h0.45M264.99 602.52h0.45M275.89 597.9h0.45M266.63 598.32h0.45M280.45 598.65h0.45M272.22 601.89h0.45M265.05 598.8h0.45M266.38 602.26h0.45M267.83 601.88h0.45M277.9 600.67h0.45M278.79 601.29h0.45M268.07 601.5h0.45M272.06 600.07h0.45M269.81 599.52h0.45M255.63 597.9h0.45M280.36 600.6h0.45M274.82 598.54h0.45M273.67 600.3h0.45M267.19 596.63h0.45M265.06 600.61h0.45M277.87 599.65h0.45M276.32 596.38h0.45M258.2 600.81h0.45M263.67 603.58h0.45M271.48 597.03h0.45M278.25 597.29h0.45M276.8 598.42h0.45M257.99 603.17h0.45M265.34 600.48h0.45M274.45 598.07h0.45M262.64 601.06h0.45M285 601.79h0.45M269.85 599.41h0.45M277.39 600.72h0.45M258.6 601.32h0.45M275.94 596.71h0.45M270.6 597.45h0.45M278.2 600.76h0.45M271.71 599.35h0.45M271.85 600.16h0.45M268.47 601.36h0.45M266.77 599.96h0.45M267.9 599.52h0.45M275.51 596.15h0.45M257.34 601.94h0.45M266.46 597.62h0.45M266.04 598.17h0.45M282.94 603.04h0.45M274.16 603.79h0.45M264.18 601.48h0.45M266.1 598.54h0.45M287.47 599.59h0.45M266.27 600.99h0.45M286.36 596.74h0.45M269.06 600.61h0.45M262.97 599.31h0.45M261.49 600.76h0.45M282.19 600.03h0.45M267.49 597.52h0.45M282.27 599.83h0.45M282.46 598.31h0.45M263.94 599.61h0.45M273.67 601.93h0.45M276.25 599.51h0.45M264.57 598.15h0.45" stroke="#333" stroke-width="0.45" stroke-linecap="round" opacity="0.35"/>
<text x="290.5" y="590" font-size="3" text-anchor="end" fill="#222" textLength="18" lengthAdjust="spacingAndGlyphs">CD14<tspan baseline-shift="35%" font-size="75%">++</tspan>CD16<tspan baseline-shift="35%" font-size="75%">+</tspan></text>
<text x="290.1" y="594.2" font-size="2.7" text-anchor="end" fill="#222" textLength="15" lengthAdjust="spacingAndGlyphs">26.7±0.4 %</text>
<path d="M237.8 627L238.8 627" stroke="#555" stroke-width="0.35"/>
<text x="236.6" y="627" font-size="1.8" font-weight="normal" fill="#555" transform="rotate(-90 236.6 627)">0</text>
<path d="M237.8 617.6L238.8 617.6" stroke="#555" stroke-width="0.35"/>
<text x="236.6" y="617.6" font-size="1.8" font-weight="normal" fill="#555" transform="rotate(-90 236.6 617.6)">10²</text>
<path d="M237.8 608.2L238.8 608.2" stroke="#555" stroke-width="0.35"/>
<text x="236.6" y="608.2" font-size="1.8" font-weight="normal" fill="#555" transform="rotate(-90 236.6 608.2)">10³</text>
<path d="M237.8 598.8L238.8 598.8" stroke="#555" stroke-width="0.35"/>
<text x="236.6" y="598.8" font-size="1.8" font-weight="normal" fill="#555" transform="rotate(-90 236.6 598.8)">10⁴</text>
<path d="M237.8 589.4L238.8 589.4" stroke="#555" stroke-width="0.35"/>
<text x="236.6" y="589.4" font-size="1.8" font-weight="normal" fill="#555" transform="rotate(-90 236.6 589.4)">10⁵</text>
<path d="M241.8 630L241.8 631" stroke="#555" stroke-width="0.35"/>
<text x="241.8" y="632.4" font-size="1.7" font-weight="normal" fill="#555">-10²</text>
<path d="M254.03 630L254.03 631" stroke="#555" stroke-width="0.35"/>
<text x="254.03" y="632.4" font-size="1.7" font-weight="normal" fill="#555">10²</text>
<path d="M266.25 630L266.25 631" stroke="#555" stroke-width="0.35"/>
<text x="266.25" y="632.4" font-size="1.7" font-weight="normal" fill="#555">10³</text>
<path d="M278.48 630L278.48 631" stroke="#555" stroke-width="0.35"/>
<text x="278.48" y="632.4" font-size="1.7" font-weight="normal" fill="#555">10⁴</text>
<path d="M290.7 630L290.7 631" stroke="#555" stroke-width="0.35"/>
<text x="290.7" y="632.4" font-size="1.7" font-weight="normal" fill="#555">10⁵</text>
<text x="266.25" y="634.8" font-size="1.8" font-weight="normal" fill="#555">HLA-DR FITC-A</text>
<text x="233.8" y="610.2" font-size="1.8" font-weight="normal" fill="#555" transform="rotate(-90 233.8 610.2)">CD14 PerCP-A</text>
<rect x="338" y="496.3" width="160.9" height="8.5" fill="#e9e9e9" stroke="#9a9a9a" stroke-width="1"/>
<text x="418.45" y="500.7" font-size="5.6" textLength="43.9" lengthAdjust="spacingAndGlyphs" stroke="#111" stroke-width="0.18">HLADR expression</text>
<path d="M354.6 512L354.6 586.2" stroke="#aaa" stroke-width="1"/>
<path d="M354.6 586.2L499.8 586.2" stroke="#999" stroke-width="0.8"/>
<path d="M353.3 512.5L354.6 512.5" stroke="#666" stroke-width="0.5"/>
<text x="350.6" y="512.5" font-size="3.7" text-anchor="end" fill="#222">180000</text>
<path d="M353.3 524.78L354.6 524.78" stroke="#666" stroke-width="0.5"/>
<text x="350.6" y="524.78" font-size="3.7" text-anchor="end" fill="#222">150000</text>
<path d="M353.3 537.06L354.6 537.06" stroke="#666" stroke-width="0.5"/>
<text x="350.6" y="537.06" font-size="3.7" text-anchor="end" fill="#222">120000</text>
<path d="M353.3 549.34L354.6 549.34" stroke="#666" stroke-width="0.5"/>
<text x="350.6" y="549.34" font-size="3.7" text-anchor="end" fill="#222">90000</text>
<path d="M353.3 561.62L354.6 561.62" stroke="#666" stroke-width="0.5"/>
<text x="350.6" y="561.62" font-size="3.7" text-anchor="end" fill="#222">60000</text>
<path d="M353.3 573.9L354.6 573.9" stroke="#666" stroke-width="0.5"/>
<text x="350.6" y="573.9" font-size="3.7" text-anchor="end" fill="#222">30000</text>
<path d="M353.3 586.18L354.6 586.18" stroke="#666" stroke-width="0.5"/>
<text x="350.6" y="586.18" font-size="3.7" text-anchor="end" fill="#222">0</text>
<path d="M391 586.2L391 587.4" stroke="#666" stroke-width="0.5"/>
<path d="M427 586.2L427 587.4" stroke="#666" stroke-width="0.5"/>
<path d="M463 586.2L463 587.4" stroke="#666" stroke-width="0.5"/>
<path d="M499.5 586.2L499.5 587.4" stroke="#666" stroke-width="0.5"/>
<text x="329.5" y="545" font-size="4.8" transform="rotate(-90 329.5 545)">MFI</text>
<polyline points="373.2,580.8 409.2,558.3 445,550.6 481.5,531" fill="none" stroke="#111" stroke-width="1.15"/>
<polyline points="373.2,580.8 409.2,581.3 445,580.8 481.5,578.1" fill="none" stroke="#111" stroke-width="1.15"/>
<circle cx="373.2" cy="580.8" r="0.9" fill="#111"/>
<circle cx="409.2" cy="558.3" r="0.9" fill="#111"/>
<circle cx="445" cy="550.6" r="0.9" fill="#111"/>
<circle cx="481.5" cy="531" r="0.9" fill="#111"/>
<circle cx="373.2" cy="580.8" r="0.9" fill="#111"/>
<circle cx="409.2" cy="581.3" r="0.9" fill="#111"/>
<circle cx="445" cy="580.8" r="0.9" fill="#111"/>
<circle cx="481.5" cy="578.1" r="0.9" fill="#111"/>
<path d="M409.2 552L409.2 565" stroke="#111" stroke-width="0.85"/>
<path d="M408.1 552L410.3 552" stroke="#111" stroke-width="0.7"/>
<path d="M408.1 565L410.3 565" stroke="#111" stroke-width="0.7"/>
<path d="M445 544.4L445 556.3" stroke="#111" stroke-width="0.85"/>
<path d="M443.9 544.4L446.1 544.4" stroke="#111" stroke-width="0.7"/>
<path d="M443.9 556.3L446.1 556.3" stroke="#111" stroke-width="0.7"/>
<path d="M481.5 519.8L481.5 542.3" stroke="#111" stroke-width="0.85"/>
<path d="M480.4 519.8L482.6 519.8" stroke="#111" stroke-width="0.7"/>
<path d="M480.4 542.3L482.6 542.3" stroke="#111" stroke-width="0.7"/>
<text x="409.2" y="549.3" font-size="6.5">*</text>
<text x="445" y="541.5" font-size="6.5" textLength="6" lengthAdjust="spacingAndGlyphs">**</text>
<text x="481.5" y="516.3" font-size="6.5">*</text>
<text x="373.2" y="594" font-size="3" fill="#222">0 h</text>
<text x="409.2" y="594" font-size="3" fill="#222">24 h</text>
<text x="445" y="594" font-size="3" fill="#222">48 h</text>
<text x="481.5" y="594" font-size="3" fill="#222">72 h</text>
<text x="493" y="530.8" font-size="4.8" textLength="8.5" lengthAdjust="spacingAndGlyphs">SEB</text>
<text x="497.6" y="577" font-size="4.8" textLength="17.7" lengthAdjust="spacingAndGlyphs">Control</text>
<path d="M355.1 528.2 L362.6 531.0 L355.1 533.8 Z" fill="#d40000"/>
<path d="M355.1 528.6 L358.2 530.0 L358.2 532.0 L355.1 533.4 Z" fill="#a00000" opacity="0.6"/>
<text x="1.8" y="639.6" font-size="14" text-anchor="start" fill="#000">F</text>
<rect x="3.6" y="648.3" width="124.5" height="8.7" fill="#e9e9e9" stroke="#9a9a9a" stroke-width="1"/>
<text x="65.85" y="652.7" font-size="5.6" textLength="16.7" lengthAdjust="spacingAndGlyphs" stroke="#111" stroke-width="0.18">HUVEC</text>
<rect x="132.7" y="648.3" width="125.1" height="8.7" fill="#e9e9e9" stroke="#9a9a9a" stroke-width="1"/>
<text x="195.25" y="652.7" font-size="5.6" textLength="61.4" lengthAdjust="spacingAndGlyphs" stroke="#111" stroke-width="0.18">CD14<tspan baseline-shift="35%" font-size="75%">++</tspan>CD16<tspan baseline-shift="35%" font-size="75%">-</tspan> monocytes</text>
<rect x="261.5" y="648.3" width="124.6" height="8.7" fill="#e9e9e9" stroke="#9a9a9a" stroke-width="1"/>
<text x="323.8" y="652.7" font-size="5.6" textLength="62.3" lengthAdjust="spacingAndGlyphs" stroke="#111" stroke-width="0.18">CD14<tspan baseline-shift="35%" font-size="75%">++</tspan>CD16<tspan baseline-shift="35%" font-size="75%">+</tspan> monocytes</text>
<rect x="390.1" y="648.3" width="125.1" height="8.7" fill="#e9e9e9" stroke="#9a9a9a" stroke-width="1"/>
<text x="452.65" y="652.7" font-size="5.6" textLength="63.2" lengthAdjust="spacingAndGlyphs" stroke="#111" stroke-width="0.18">CD14<tspan baseline-shift="35%" font-size="75%">+</tspan>CD16<tspan baseline-shift="35%" font-size="75%">++</tspan> monocytes</text>
<rect x="3.1" y="660" width="126.1" height="88.9" fill="#8b776e"/>
<g clip-path="url(#cph)">
<clipPath id="cph"><rect x="3.1" y="660" width="126.1" height="88.9"/></clipPath>
<circle cx="81.49" cy="726.02" r="6.98" fill="#987c78" opacity="0.25" filter="url(#b2)"/>
<circle cx="85.16" cy="707.17" r="7.2" fill="#9a8078" opacity="0.25" filter="url(#b2)"/>
<circle cx="84.77" cy="740.18" r="3.57" fill="#7e6c66" opacity="0.25" filter="url(#b2)"/>
<circle cx="112.42" cy="693.89" r="3.51" fill="#9a8078" opacity="0.25" filter="url(#b2)"/>
<circle cx="4.65" cy="679.29" r="4.4" fill="#7e6c66" opacity="0.25" filter="url(#b2)"/>
<circle cx="23.11" cy="730.95" r="3.69" fill="#987c78" opacity="0.25" filter="url(#b2)"/>
<circle cx="59.05" cy="671.77" r="7.86" fill="#9a8078" opacity="0.25" filter="url(#b2)"/>
<circle cx="29.39" cy="679.18" r="7.91" fill="#9a8078" opacity="0.25" filter="url(#b2)"/>
<circle cx="39.45" cy="745.57" r="5.7" fill="#987c78" opacity="0.25" filter="url(#b2)"/>
<circle cx="81.84" cy="676.17" r="7.84" fill="#9a8078" opacity="0.25" filter="url(#b2)"/>
<circle cx="124.79" cy="739.54" r="4.49" fill="#7e6c66" opacity="0.25" filter="url(#b2)"/>
<circle cx="55.28" cy="743.29" r="4.32" fill="#7e6c66" opacity="0.25" filter="url(#b2)"/>
<circle cx="40.97" cy="713.68" r="3.02" fill="#987c78" opacity="0.25" filter="url(#b2)"/>
<circle cx="92.17" cy="665.88" r="4.78" fill="#7e6c66" opacity="0.25" filter="url(#b2)"/>
<circle cx="63.57" cy="688.11" r="5.41" fill="#987c78" opacity="0.25" filter="url(#b2)"/>
<circle cx="25.19" cy="682.8" r="7.7" fill="#987c78" opacity="0.25" filter="url(#b2)"/>
<circle cx="48.06" cy="695.98" r="5.75" fill="#7e6c66" opacity="0.25" filter="url(#b2)"/>
<circle cx="49.14" cy="711.49" r="3.05" fill="#9a8078" opacity="0.25" filter="url(#b2)"/>
<circle cx="92.18" cy="715.51" r="7.77" fill="#9a8078" opacity="0.25" filter="url(#b2)"/>
<circle cx="98.22" cy="742.74" r="7.71" fill="#7e6c66" opacity="0.25" filter="url(#b2)"/>
<circle cx="67.57" cy="739.45" r="4.25" fill="#7e6c66" opacity="0.25" filter="url(#b2)"/>
<circle cx="16.61" cy="726.61" r="6.99" fill="#7e6c66" opacity="0.25" filter="url(#b2)"/>
<circle cx="7.62" cy="744.18" r="3.46" fill="#7e6c66" opacity="0.25" filter="url(#b2)"/>
<circle cx="67.62" cy="692.27" r="3.74" fill="#7e6c66" opacity="0.25" filter="url(#b2)"/>
<circle cx="119.45" cy="708.52" r="4.56" fill="#7e6c66" opacity="0.25" filter="url(#b2)"/>
<circle cx="41.58" cy="731.09" r="6.13" fill="#987c78" opacity="0.25" filter="url(#b2)"/>
<circle cx="89.84" cy="748.71" r="3.81" fill="#9a8078" opacity="0.25" filter="url(#b2)"/>
<circle cx="13.2" cy="713.46" r="7.62" fill="#9a8078" opacity="0.25" filter="url(#b2)"/>
<circle cx="32.9" cy="712.86" r="7.13" fill="#7e6c66" opacity="0.25" filter="url(#b2)"/>
<circle cx="85.02" cy="672.96" r="7.9" fill="#987c78" opacity="0.25" filter="url(#b2)"/>
<circle cx="7.12" cy="703.93" r="7.19" fill="#9a8078" opacity="0.25" filter="url(#b2)"/>
<circle cx="126.64" cy="710.2" r="3.66" fill="#7e6c66" opacity="0.25" filter="url(#b2)"/>
<circle cx="16.44" cy="698.68" r="3.75" fill="#7e6c66" opacity="0.25" filter="url(#b2)"/>
<circle cx="40.15" cy="700.33" r="8" fill="#9a8078" opacity="0.25" filter="url(#b2)"/>
<circle cx="125.98" cy="700.37" r="5.44" fill="#987c78" opacity="0.25" filter="url(#b2)"/>
<circle cx="43.03" cy="684.39" r="5.35" fill="#9a8078" opacity="0.25" filter="url(#b2)"/>
<circle cx="17.18" cy="733.16" r="5.66" fill="#9a8078" opacity="0.25" filter="url(#b2)"/>
<circle cx="82" cy="704.44" r="4.69" fill="#9a8078" opacity="0.25" filter="url(#b2)"/>
<circle cx="64.97" cy="705.85" r="5.74" fill="#987c78" opacity="0.25" filter="url(#b2)"/>
<circle cx="48.53" cy="729.96" r="6.87" fill="#987c78" opacity="0.25" filter="url(#b2)"/>
<path d="M6.7 660.4 L18.8 675.2 L21.5 677.9 L32.3 688.6 L34.3 706.1 L29.6 714.2 L26.9 718.3 L28.3 719.6 L33.6 733.1 L40.4 748.9" fill="none" stroke="#c6b5ad" stroke-width="2.8" stroke-linejoin="round" opacity="0.7" filter="url(#b03)"/>
<path d="M6.7 660.4 L18.8 675.2 L21.5 677.9 L32.3 688.6 L34.3 706.1 L29.6 714.2 L26.9 718.3 L28.3 719.6 L33.6 733.1 L40.4 748.9" fill="none" stroke="#a08c84" stroke-width="0.8" stroke-linejoin="round" opacity="0.5"/>
<path d="M6.7 660.4 L18.8 675.2 L21.5 677.9 L32.3 688.6 L34.3 706.1 L29.6 714.2 L26.9 718.3 L28.3 719.6 L33.6 733.1 L40.4 748.9" fill="none" stroke="#dcd0ca" stroke-width="0.45" stroke-linejoin="round" opacity="0.6" transform="translate(0.7 0.5)"/>
<path d="M6.7 660.4 L18.8 675.2 L21.5 677.9 L32.3 688.6 L34.3 706.1 L29.6 714.2 L26.9 718.3 L28.3 719.6 L33.6 733.1 L40.4 748.9" fill="none" stroke="#dcd0ca" stroke-width="0.45" stroke-linejoin="round" opacity="0.6" transform="translate(-0.7 -0.5)"/>
<path d="M28.3 660 L22.2 675.2" fill="none" stroke="#c6b5ad" stroke-width="2.8" stroke-linejoin="round" opacity="0.7" filter="url(#b03)"/>
<path d="M28.3 660 L22.2 675.2" fill="none" stroke="#a08c84" stroke-width="0.8" stroke-linejoin="round" opacity="0.5"/>
<path d="M28.3 660 L22.2 675.2" fill="none" stroke="#dcd0ca" stroke-width="0.45" stroke-linejoin="round" opacity="0.6" transform="translate(0.7 0.5)"/>
<path d="M28.3 660 L22.2 675.2" fill="none" stroke="#dcd0ca" stroke-width="0.45" stroke-linejoin="round" opacity="0.6" transform="translate(-0.7 -0.5)"/>
<path d="M18.8 676.5 L3.1 688.3" fill="none" stroke="#c6b5ad" stroke-width="2.8" stroke-linejoin="round" opacity="0.7" filter="url(#b03)"/>
<path d="M18.8 676.5 L3.1 688.3" fill="none" stroke="#a08c84" stroke-width="0.8" stroke-linejoin="round" opacity="0.5"/>
<path d="M18.8 676.5 L3.1 688.3" fill="none" stroke="#dcd0ca" stroke-width="0.45" stroke-linejoin="round" opacity="0.6" transform="translate(0.7 0.5)"/>
<path d="M18.8 676.5 L3.1 688.3" fill="none" stroke="#dcd0ca" stroke-width="0.45" stroke-linejoin="round" opacity="0.6" transform="translate(-0.7 -0.5)"/>
<path d="M32.3 688.6 L64.6 669.8 L73.5 669.8" fill="none" stroke="#c6b5ad" stroke-width="2.8" stroke-linejoin="round" opacity="0.7" filter="url(#b03)"/>
<path d="M32.3 688.6 L64.6 669.8 L73.5 669.8" fill="none" stroke="#a08c84" stroke-width="0.8" stroke-linejoin="round" opacity="0.5"/>
<path d="M32.3 688.6 L64.6 669.8 L73.5 669.8" fill="none" stroke="#dcd0ca" stroke-width="0.45" stroke-linejoin="round" opacity="0.6" transform="translate(0.7 0.5)"/>
<path d="M32.3 688.6 L64.6 669.8 L73.5 669.8" fill="none" stroke="#dcd0ca" stroke-width="0.45" stroke-linejoin="round" opacity="0.6" transform="translate(-0.7 -0.5)"/>
<path d="M34.3 707.5 L56.5 714.2 L62.7 715.6" fill="none" stroke="#c6b5ad" stroke-width="2.8" stroke-linejoin="round" opacity="0.7" filter="url(#b03)"/>
<path d="M34.3 707.5 L56.5 714.2 L62.7 715.6" fill="none" stroke="#a08c84" stroke-width="0.8" stroke-linejoin="round" opacity="0.5"/>
<path d="M34.3 707.5 L56.5 714.2 L62.7 715.6" fill="none" stroke="#dcd0ca" stroke-width="0.45" stroke-linejoin="round" opacity="0.6" transform="translate(0.7 0.5)"/>
<path d="M34.3 707.5 L56.5 714.2 L62.7 715.6" fill="none" stroke="#dcd0ca" stroke-width="0.45" stroke-linejoin="round" opacity="0.6" transform="translate(-0.7 -0.5)"/>
<path d="M26.9 716.9 L3.1 718.3" fill="none" stroke="#c6b5ad" stroke-width="2.8" stroke-linejoin="round" opacity="0.7" filter="url(#b03)"/>
<path d="M26.9 716.9 L3.1 718.3" fill="none" stroke="#a08c84" stroke-width="0.8" stroke-linejoin="round" opacity="0.5"/>
<path d="M26.9 716.9 L3.1 718.3" fill="none" stroke="#dcd0ca" stroke-width="0.45" stroke-linejoin="round" opacity="0.6" transform="translate(0.7 0.5)"/>
<path d="M26.9 716.9 L3.1 718.3" fill="none" stroke="#dcd0ca" stroke-width="0.45" stroke-linejoin="round" opacity="0.6" transform="translate(-0.7 -0.5)"/>
<path d="M62.7 715.6 L66.7 730.4 L73.5 738.4 L86.9 748.9" fill="none" stroke="#c6b5ad" stroke-width="2.8" stroke-linejoin="round" opacity="0.7" filter="url(#b03)"/>
<path d="M62.7 715.6 L66.7 730.4 L73.5 738.4 L86.9 748.9" fill="none" stroke="#a08c84" stroke-width="0.8" stroke-linejoin="round" opacity="0.5"/>
<path d="M62.7 715.6 L66.7 730.4 L73.5 738.4 L86.9 748.9" fill="none" stroke="#dcd0ca" stroke-width="0.45" stroke-linejoin="round" opacity="0.6" transform="translate(0.7 0.5)"/>
<path d="M62.7 715.6 L66.7 730.4 L73.5 738.4 L86.9 748.9" fill="none" stroke="#dcd0ca" stroke-width="0.45" stroke-linejoin="round" opacity="0.6" transform="translate(-0.7 -0.5)"/>
<path d="M62.7 715.6 L69.4 706.1 L78.2 695.4" fill="none" stroke="#c6b5ad" stroke-width="2.8" stroke-linejoin="round" opacity="0.7" filter="url(#b03)"/>
<path d="M62.7 715.6 L69.4 706.1 L78.2 695.4" fill="none" stroke="#a08c84" stroke-width="0.8" stroke-linejoin="round" opacity="0.5"/>
<path d="M62.7 715.6 L69.4 706.1 L78.2 695.4" fill="none" stroke="#dcd0ca" stroke-width="0.45" stroke-linejoin="round" opacity="0.6" transform="translate(0.7 0.5)"/>
<path d="M62.7 715.6 L69.4 706.1 L78.2 695.4" fill="none" stroke="#dcd0ca" stroke-width="0.45" stroke-linejoin="round" opacity="0.6" transform="translate(-0.7 -0.5)"/>
<path d="M66.7 660 L73.5 669.8 L86.9 668.5 L119.2 667.1 L124.6 672.5 L127.3 681.9 L126 698 L127.3 708.8 L126 722.3 L116.5 730.4 L103 742.5 L98 748.9" fill="none" stroke="#c6b5ad" stroke-width="2.8" stroke-linejoin="round" opacity="0.7" filter="url(#b03)"/>
<path d="M66.7 660 L73.5 669.8 L86.9 668.5 L119.2 667.1 L124.6 672.5 L127.3 681.9 L126 698 L127.3 708.8 L126 722.3 L116.5 730.4 L103 742.5 L98 748.9" fill="none" stroke="#a08c84" stroke-width="0.8" stroke-linejoin="round" opacity="0.5"/>
<path d="M66.7 660 L73.5 669.8 L86.9 668.5 L119.2 667.1 L124.6 672.5 L127.3 681.9 L126 698 L127.3 708.8 L126 722.3 L116.5 730.4 L103 742.5 L98 748.9" fill="none" stroke="#dcd0ca" stroke-width="0.45" stroke-linejoin="round" opacity="0.6" transform="translate(0.7 0.5)"/>
<path d="M66.7 660 L73.5 669.8 L86.9 668.5 L119.2 667.1 L124.6 672.5 L127.3 681.9 L126 698 L127.3 708.8 L126 722.3 L116.5 730.4 L103 742.5 L98 748.9" fill="none" stroke="#dcd0ca" stroke-width="0.45" stroke-linejoin="round" opacity="0.6" transform="translate(-0.7 -0.5)"/>
<path d="M119.2 667.1 L121 660" fill="none" stroke="#c6b5ad" stroke-width="2.8" stroke-linejoin="round" opacity="0.7" filter="url(#b03)"/>
<path d="M119.2 667.1 L121 660" fill="none" stroke="#a08c84" stroke-width="0.8" stroke-linejoin="round" opacity="0.5"/>
<path d="M119.2 667.1 L121 660" fill="none" stroke="#dcd0ca" stroke-width="0.45" stroke-linejoin="round" opacity="0.6" transform="translate(0.7 0.5)"/>
<path d="M119.2 667.1 L121 660" fill="none" stroke="#dcd0ca" stroke-width="0.45" stroke-linejoin="round" opacity="0.6" transform="translate(-0.7 -0.5)"/>
<path d="M73.5 669.8 L77.5 681.9 L78.2 695.4 L86.9 700.8 L95 702.1 L104.4 707.5 L127.3 708.8" fill="none" stroke="#c6b5ad" stroke-width="2.8" stroke-linejoin="round" opacity="0.7" filter="url(#b03)"/>
<path d="M73.5 669.8 L77.5 681.9 L78.2 695.4 L86.9 700.8 L95 702.1 L104.4 707.5 L127.3 708.8" fill="none" stroke="#a08c84" stroke-width="0.8" stroke-linejoin="round" opacity="0.5"/>
<path d="M73.5 669.8 L77.5 681.9 L78.2 695.4 L86.9 700.8 L95 702.1 L104.4 707.5 L127.3 708.8" fill="none" stroke="#dcd0ca" stroke-width="0.45" stroke-linejoin="round" opacity="0.6" transform="translate(0.7 0.5)"/>
<path d="M73.5 669.8 L77.5 681.9 L78.2 695.4 L86.9 700.8 L95 702.1 L104.4 707.5 L127.3 708.8" fill="none" stroke="#dcd0ca" stroke-width="0.45" stroke-linejoin="round" opacity="0.6" transform="translate(-0.7 -0.5)"/>
<circle cx="105.8" cy="678.5" r="1.4" fill="#bcaaa2" opacity="0.7" filter="url(#b03)"/>
<circle cx="90.8" cy="687.7" r="1.6" fill="#bcaaa2" opacity="0.7" filter="url(#b03)"/>
<circle cx="30" cy="745" r="1.2" fill="#bcaaa2" opacity="0.7" filter="url(#b03)"/>
<circle cx="8" cy="712" r="1.3" fill="#bcaaa2" opacity="0.7" filter="url(#b03)"/>
<circle cx="8" cy="735" r="1.2" fill="#bcaaa2" opacity="0.7" filter="url(#b03)"/>
<circle cx="48" cy="736" r="1.5" fill="#bcaaa2" opacity="0.7" filter="url(#b03)"/>
<circle cx="92" cy="730" r="1.3" fill="#bcaaa2" opacity="0.7" filter="url(#b03)"/>
<circle cx="83" cy="725" r="1.5" fill="#bcaaa2" opacity="0.7" filter="url(#b03)"/>
<circle cx="103" cy="740" r="1.6" fill="#bcaaa2" opacity="0.7" filter="url(#b03)"/>
<circle cx="117" cy="715" r="1.4" fill="#bcaaa2" opacity="0.7" filter="url(#b03)"/>
<circle cx="57" cy="676" r="1" fill="#bcaaa2" opacity="0.7" filter="url(#b03)"/>
<circle cx="9" cy="682" r="1.2" fill="#bcaaa2" opacity="0.7" filter="url(#b03)"/>
</g>
<rect x="131.5" y="660" width="126.8" height="88.9" fill="#dbc3dd"/>
<g fill="#7a4868" opacity="0.78" filter="url(#b03)"><circle cx="134.52" cy="665.77" r="0.78"/><circle cx="142.59" cy="662.89" r="0.95"/><circle cx="154.74" cy="663.05" r="0.92"/><circle cx="161.93" cy="663.69" r="1"/><circle cx="171.31" cy="664.53" r="1.14"/><circle cx="183.51" cy="663.31" r="0.8"/><circle cx="193.3" cy="663.48" r="0.98"/><circle cx="197.74" cy="665.27" r="0.78"/><circle cx="213.22" cy="664.68" r="0.88"/><circle cx="218.85" cy="664.06" r="1.07"/><circle cx="224.59" cy="665.4" r="0.96"/><circle cx="234.15" cy="664.01" r="1.14"/><circle cx="248.08" cy="663.35" r="0.95"/><circle cx="137.9" cy="671.46" r="1.1"/><circle cx="144.41" cy="671.57" r="0.98"/><circle cx="152.1" cy="673.27" r="0.94"/><circle cx="154.69" cy="672.09" r="1.01"/><circle cx="165.77" cy="670.06" r="0.9"/><circle cx="168.26" cy="670.92" r="0.82"/><circle cx="189.51" cy="669.88" r="0.91"/><circle cx="196.13" cy="670.86" r="0.97"/><circle cx="207.09" cy="672.88" r="0.86"/><circle cx="211.44" cy="672.97" r="1.13"/><circle cx="217.33" cy="669.81" r="0.84"/><circle cx="226.49" cy="669.95" r="0.75"/><circle cx="232.17" cy="671.43" r="1.13"/><circle cx="239.86" cy="671.68" r="1.02"/><circle cx="255.1" cy="672.93" r="1.07"/><circle cx="135.89" cy="675.25" r="1"/><circle cx="155.25" cy="676.4" r="0.77"/><circle cx="168.69" cy="676.52" r="0.76"/><circle cx="178.41" cy="675.47" r="0.85"/><circle cx="183.92" cy="675.35" r="1.09"/><circle cx="191.37" cy="677.1" r="0.78"/><circle cx="204.04" cy="678.78" r="0.81"/><circle cx="219.27" cy="675.46" r="0.97"/><circle cx="235.53" cy="678.94" r="1.03"/><circle cx="239.04" cy="675.56" r="1.06"/><circle cx="248.2" cy="676.35" r="0.84"/><circle cx="256.23" cy="678.89" r="1.07"/><circle cx="137.77" cy="681.92" r="0.96"/><circle cx="140.74" cy="680.96" r="0.86"/><circle cx="151.28" cy="685.47" r="0.93"/><circle cx="159.8" cy="685.46" r="0.9"/><circle cx="162.49" cy="681.78" r="0.83"/><circle cx="173.1" cy="684.9" r="0.94"/><circle cx="179.43" cy="681.23" r="1.01"/><circle cx="186.22" cy="684.46" r="0.94"/><circle cx="193.15" cy="682.44" r="1.07"/><circle cx="197.87" cy="682.77" r="1.13"/><circle cx="203.51" cy="681.44" r="0.81"/><circle cx="213.91" cy="681.53" r="1.08"/><circle cx="219.98" cy="682.52" r="0.97"/><circle cx="223.32" cy="685.54" r="1.01"/><circle cx="235.28" cy="682.93" r="1.1"/><circle cx="238.19" cy="682.04" r="0.87"/><circle cx="247.14" cy="682.08" r="0.92"/><circle cx="255.82" cy="682.54" r="0.93"/><circle cx="138.67" cy="688.94" r="1.12"/><circle cx="143.51" cy="689.44" r="0.76"/><circle cx="148.48" cy="686.91" r="1.07"/><circle cx="156.97" cy="690.42" r="0.97"/><circle cx="164.1" cy="689.59" r="1.06"/><circle cx="176.39" cy="688.24" r="1.06"/><circle cx="185.01" cy="690.58" r="1.11"/><circle cx="192.18" cy="689.35" r="0.95"/><circle cx="198.18" cy="689.48" r="0.94"/><circle cx="206.43" cy="691.15" r="1.13"/><circle cx="212.55" cy="691.47" r="1.09"/><circle cx="217.03" cy="689.04" r="0.78"/><circle cx="223.65" cy="690.14" r="1.06"/><circle cx="230.98" cy="690.37" r="1.01"/><circle cx="241.89" cy="691.59" r="0.84"/><circle cx="246.11" cy="689.26" r="1.15"/><circle cx="251.69" cy="688.99" r="0.96"/><circle cx="134.77" cy="694.51" r="1.04"/><circle cx="149.89" cy="693.05" r="0.88"/><circle cx="157.18" cy="693.28" r="1.14"/><circle cx="166.6" cy="693.47" r="0.86"/><circle cx="176.51" cy="693.59" r="0.92"/><circle cx="186.42" cy="694.22" r="0.81"/><circle cx="191.94" cy="696.37" r="0.79"/><circle cx="204.92" cy="693.32" r="1.13"/><circle cx="213.88" cy="693.37" r="1.09"/><circle cx="225.75" cy="694.61" r="0.97"/><circle cx="231.61" cy="693.59" r="0.96"/><circle cx="237.63" cy="693.75" r="0.77"/><circle cx="245.63" cy="694.45" r="1.05"/><circle cx="253.56" cy="693.83" r="0.89"/><circle cx="140.66" cy="702.6" r="0.97"/><circle cx="150.08" cy="703.58" r="0.79"/><circle cx="156.74" cy="701.44" r="1.08"/><circle cx="164.04" cy="702.38" r="1.14"/><circle cx="172.72" cy="702.47" r="1"/><circle cx="176.94" cy="699.3" r="0.8"/><circle cx="190.21" cy="699.83" r="0.78"/><circle cx="200.49" cy="702.29" r="0.86"/><circle cx="204.19" cy="701.27" r="0.81"/><circle cx="210.92" cy="703.71" r="1.14"/><circle cx="217.7" cy="703.73" r="0.87"/><circle cx="223.25" cy="700.89" r="0.94"/><circle cx="231.24" cy="701.49" r="0.75"/><circle cx="237.52" cy="700.98" r="0.77"/><circle cx="252.08" cy="701.88" r="0.96"/><circle cx="137.31" cy="708.58" r="1.1"/><circle cx="142.38" cy="709.89" r="0.81"/><circle cx="151.01" cy="705.32" r="1.08"/><circle cx="157.81" cy="708.67" r="1.07"/><circle cx="164.13" cy="707.56" r="1.08"/><circle cx="172.69" cy="707.94" r="1.11"/><circle cx="178.84" cy="706.22" r="0.76"/><circle cx="183.9" cy="705.62" r="1.08"/><circle cx="192.26" cy="708.15" r="1.02"/><circle cx="195.71" cy="708.98" r="1.05"/><circle cx="205.53" cy="708.31" r="0.78"/><circle cx="210.86" cy="705.47" r="0.86"/><circle cx="217.49" cy="708.7" r="1.14"/><circle cx="225.35" cy="707.43" r="1.02"/><circle cx="233.53" cy="708.23" r="0.78"/><circle cx="238.42" cy="708.72" r="0.87"/><circle cx="243.98" cy="705.4" r="0.86"/><circle cx="254.61" cy="708.39" r="0.87"/><circle cx="136.25" cy="713.44" r="0.8"/><circle cx="141.68" cy="715.93" r="1.12"/><circle cx="158.87" cy="715.88" r="0.93"/><circle cx="162.4" cy="715.77" r="0.83"/><circle cx="168.91" cy="713.72" r="1.13"/><circle cx="179.54" cy="713.65" r="1.1"/><circle cx="183.19" cy="715.54" r="0.94"/><circle cx="205.06" cy="712.65" r="0.81"/><circle cx="211.21" cy="715.26" r="0.75"/><circle cx="220.98" cy="711.76" r="1.12"/><circle cx="228.21" cy="712.59" r="0.9"/><circle cx="235.64" cy="714.04" r="0.89"/><circle cx="238.54" cy="711.41" r="0.79"/><circle cx="245.49" cy="715.72" r="0.85"/><circle cx="253.62" cy="712.1" r="0.9"/><circle cx="138.56" cy="721.19" r="1"/><circle cx="145.76" cy="719.92" r="1.04"/><circle cx="156.84" cy="720.91" r="1.01"/><circle cx="161.51" cy="721.75" r="0.8"/><circle cx="170.03" cy="718.7" r="1.05"/><circle cx="176.46" cy="720.44" r="0.87"/><circle cx="184.08" cy="718.06" r="0.81"/><circle cx="193.79" cy="719.66" r="0.84"/><circle cx="201.18" cy="719.44" r="0.81"/><circle cx="203.08" cy="718.91" r="0.79"/><circle cx="210.89" cy="720.02" r="1.1"/><circle cx="218.63" cy="719.26" r="0.96"/><circle cx="225.11" cy="717.55" r="0.86"/><circle cx="230.83" cy="719.7" r="1"/><circle cx="238.21" cy="718.57" r="0.85"/><circle cx="246.37" cy="721.88" r="1.09"/><circle cx="250.92" cy="717.41" r="1.03"/><circle cx="136.3" cy="726.17" r="0.75"/><circle cx="145.69" cy="727.33" r="1.09"/><circle cx="148.84" cy="723.85" r="0.81"/><circle cx="158.11" cy="727.89" r="1.04"/><circle cx="165.46" cy="725.54" r="0.97"/><circle cx="176.3" cy="727.79" r="1.01"/><circle cx="182.62" cy="724.54" r="1"/><circle cx="189.42" cy="723.66" r="0.96"/><circle cx="197.83" cy="724.41" r="0.99"/><circle cx="212.01" cy="727.98" r="1.01"/><circle cx="218.98" cy="724.46" r="0.85"/><circle cx="227.13" cy="724.81" r="0.76"/><circle cx="233.85" cy="725.36" r="0.85"/><circle cx="242.12" cy="724.42" r="0.76"/><circle cx="246.23" cy="726.64" r="0.83"/><circle cx="254.87" cy="725.77" r="0.83"/><circle cx="135.41" cy="733.38" r="0.84"/><circle cx="144.77" cy="730.83" r="1.13"/><circle cx="148.5" cy="730.48" r="0.92"/><circle cx="159.58" cy="730.1" r="0.91"/><circle cx="166.61" cy="730.08" r="0.77"/><circle cx="179.97" cy="733.68" r="1.04"/><circle cx="187.05" cy="730.99" r="0.82"/><circle cx="192.91" cy="729.55" r="1.02"/><circle cx="197.75" cy="731" r="0.82"/><circle cx="211.4" cy="734.03" r="0.8"/><circle cx="217.5" cy="731.13" r="1.08"/><circle cx="225.63" cy="729.63" r="0.94"/><circle cx="235.2" cy="730.33" r="0.9"/><circle cx="237.19" cy="731.39" r="1.07"/><circle cx="244.14" cy="729.56" r="0.78"/><circle cx="252.22" cy="733.02" r="1.11"/><circle cx="135.19" cy="740.12" r="1"/><circle cx="144.53" cy="737" r="0.86"/><circle cx="159.41" cy="738.54" r="1.13"/><circle cx="170.75" cy="740.11" r="1.13"/><circle cx="176.41" cy="737.55" r="0.95"/><circle cx="182.92" cy="739.36" r="1.05"/><circle cx="193.06" cy="738.41" r="0.88"/><circle cx="197.68" cy="739.26" r="0.78"/><circle cx="206.73" cy="736.67" r="0.78"/><circle cx="218.15" cy="740.23" r="1.1"/><circle cx="224.7" cy="735.87" r="0.79"/><circle cx="234.04" cy="737.64" r="0.84"/><circle cx="240.44" cy="738.74" r="1.05"/><circle cx="247.57" cy="736.05" r="1.09"/><circle cx="253.92" cy="737.28" r="1.05"/><circle cx="135.05" cy="742.73" r="0.81"/><circle cx="143.76" cy="743.12" r="0.91"/><circle cx="150.26" cy="742.66" r="1.07"/><circle cx="159.82" cy="742.03" r="0.94"/><circle cx="165.88" cy="745.98" r="0.77"/><circle cx="168.79" cy="742.46" r="1.14"/><circle cx="180.15" cy="743.34" r="1.1"/><circle cx="183.34" cy="745.31" r="1.13"/><circle cx="199.11" cy="742.59" r="0.9"/><circle cx="203.7" cy="742.77" r="0.99"/><circle cx="210.59" cy="741.59" r="0.88"/><circle cx="217.38" cy="743.05" r="0.83"/><circle cx="226.26" cy="741.84" r="0.79"/><circle cx="233.17" cy="744.64" r="0.79"/><circle cx="240.85" cy="743.53" r="0.86"/><circle cx="249.16" cy="743.05" r="0.98"/><circle cx="253.1" cy="745.73" r="1.15"/></g>
<rect x="260.3" y="660" width="126.7" height="88.9" fill="#ddcfdf"/>
<g fill="#b09aae" opacity="0.7"><circle cx="297.19" cy="693.73" r="0.54"/><circle cx="327.86" cy="662.55" r="0.65"/><circle cx="330.27" cy="668.87" r="0.67"/><circle cx="308.87" cy="665.48" r="0.61"/><circle cx="315.46" cy="700.42" r="0.72"/><circle cx="273.94" cy="682.23" r="0.53"/><circle cx="300.48" cy="740.53" r="0.68"/><circle cx="320.84" cy="694.61" r="0.72"/><circle cx="269.73" cy="686.75" r="0.7"/><circle cx="317.15" cy="697.85" r="0.53"/><circle cx="282.27" cy="679.84" r="0.58"/><circle cx="323.52" cy="678.96" r="0.77"/><circle cx="328.83" cy="666.66" r="0.61"/><circle cx="299.37" cy="664" r="0.63"/><circle cx="330.89" cy="671.52" r="0.68"/><circle cx="271.21" cy="711.19" r="0.77"/><circle cx="277.43" cy="662.7" r="0.53"/><circle cx="303.02" cy="663.48" r="0.53"/><circle cx="299.75" cy="740.28" r="0.63"/><circle cx="292.26" cy="716.29" r="0.53"/><circle cx="306.06" cy="676.67" r="0.68"/><circle cx="334.83" cy="666.6" r="0.67"/><circle cx="308.08" cy="674.69" r="0.58"/><circle cx="337.61" cy="746.83" r="0.54"/><circle cx="315.62" cy="742.83" r="0.57"/><circle cx="308.45" cy="665.66" r="0.61"/><circle cx="313.23" cy="712.17" r="0.73"/><circle cx="268.59" cy="691.51" r="0.76"/><circle cx="306.39" cy="700.36" r="0.62"/><circle cx="336.94" cy="710.83" r="0.51"/><circle cx="322.75" cy="689.94" r="0.63"/><circle cx="278.22" cy="699.74" r="0.6"/><circle cx="268.75" cy="715.51" r="0.53"/><circle cx="321.59" cy="664.16" r="0.73"/><circle cx="323.37" cy="704.27" r="0.71"/><circle cx="280.87" cy="724.7" r="0.63"/><circle cx="279.55" cy="743.95" r="0.62"/><circle cx="290.35" cy="735.09" r="0.61"/><circle cx="312.73" cy="676.54" r="0.75"/><circle cx="281.68" cy="666.29" r="0.79"/><circle cx="275.13" cy="742.45" r="0.8"/><circle cx="308.1" cy="663.01" r="0.52"/><circle cx="277.85" cy="695.05" r="0.68"/><circle cx="335.45" cy="692.14" r="0.54"/><circle cx="304.71" cy="673.67" r="0.53"/></g>
<circle cx="270.7" cy="705.8" r="4.73" fill="#e4a4b6" opacity="0.55" filter="url(#b1)"/>
<circle cx="268.8" cy="705.1" r="3.07" fill="#e4a4b6" opacity="0.55" filter="url(#b1)"/>
<circle cx="270.03" cy="703.89" r="3.07" fill="#e4a4b6" opacity="0.55" filter="url(#b1)"/>
<circle cx="270.7" cy="705.8" r="3.15" fill="#c03048" opacity="0.5" filter="url(#b1)"/>
<g fill="#8c1020" opacity="0.65"><circle cx="273.33" cy="706.95" r="0.63"/><circle cx="270.94" cy="703.16" r="0.7"/><circle cx="272.46" cy="708.96" r="0.66"/><circle cx="272.89" cy="703.75" r="0.39"/><circle cx="273.67" cy="706.73" r="0.42"/><circle cx="269.85" cy="704.9" r="0.66"/><circle cx="270.78" cy="706.28" r="0.42"/><circle cx="267.62" cy="706.66" r="0.51"/><circle cx="272.08" cy="708.43" r="0.73"/><circle cx="266.65" cy="704.88" r="0.36"/><circle cx="274.73" cy="705.63" r="0.57"/><circle cx="267.6" cy="705.34" r="0.71"/><circle cx="273.84" cy="707.17" r="0.57"/><circle cx="269.57" cy="709.26" r="0.64"/><circle cx="273.55" cy="707.96" r="0.53"/><circle cx="267.3" cy="706.01" r="0.37"/><circle cx="268.62" cy="704.23" r="0.7"/><circle cx="271.16" cy="709.65" r="0.64"/><circle cx="267.87" cy="702.97" r="0.36"/><circle cx="267.95" cy="703.88" r="0.62"/><circle cx="269.76" cy="706.42" r="0.43"/><circle cx="269.28" cy="704.66" r="0.38"/><circle cx="268.91" cy="708.12" r="0.56"/><circle cx="274.41" cy="706.41" r="0.48"/><circle cx="270.78" cy="705.41" r="0.73"/><circle cx="267.14" cy="703.53" r="0.74"/></g>
<circle cx="294.8" cy="693" r="5.78" fill="#e4a4b6" opacity="0.55" filter="url(#b1)"/>
<circle cx="296.03" cy="690.85" r="3.75" fill="#e4a4b6" opacity="0.55" filter="url(#b1)"/>
<circle cx="296.74" cy="694.53" r="3.75" fill="#e4a4b6" opacity="0.55" filter="url(#b1)"/>
<circle cx="294.8" cy="693" r="3.85" fill="#c03048" opacity="0.5" filter="url(#b1)"/>
<g fill="#8c1020" opacity="0.65"><circle cx="293.34" cy="695.04" r="0.66"/><circle cx="295.67" cy="695.3" r="0.39"/><circle cx="298.49" cy="696.47" r="0.74"/><circle cx="291.67" cy="696.23" r="0.54"/><circle cx="291.65" cy="692.56" r="0.6"/><circle cx="295.03" cy="695.64" r="0.56"/><circle cx="295.92" cy="696.28" r="0.73"/><circle cx="296.46" cy="693.23" r="0.67"/><circle cx="297.25" cy="693.93" r="0.69"/><circle cx="292.86" cy="691.49" r="0.37"/><circle cx="294.35" cy="695.83" r="0.67"/><circle cx="299.38" cy="692.29" r="0.71"/><circle cx="299.24" cy="690.94" r="0.72"/><circle cx="296.37" cy="692.67" r="0.48"/><circle cx="294.87" cy="697.06" r="0.55"/><circle cx="292.06" cy="696.92" r="0.51"/><circle cx="295.5" cy="695.66" r="0.53"/><circle cx="291.77" cy="690.48" r="0.53"/><circle cx="296.09" cy="696.05" r="0.48"/><circle cx="296.64" cy="696.38" r="0.43"/><circle cx="293.79" cy="688.88" r="0.41"/><circle cx="292.66" cy="690.85" r="0.53"/><circle cx="291.22" cy="690.17" r="0.7"/><circle cx="294.55" cy="690.61" r="0.57"/><circle cx="294.43" cy="693.62" r="0.57"/><circle cx="290.02" cy="693.89" r="0.48"/><circle cx="296.68" cy="689.76" r="0.39"/><circle cx="294.22" cy="690.27" r="0.56"/><circle cx="295.29" cy="693.24" r="0.72"/><circle cx="296.75" cy="693.53" r="0.42"/><circle cx="298.71" cy="695.69" r="0.75"/><circle cx="292.86" cy="690.35" r="0.71"/><circle cx="292.88" cy="692.93" r="0.63"/><circle cx="293.08" cy="695.1" r="0.48"/><circle cx="293.13" cy="694.48" r="0.6"/><circle cx="297.47" cy="690.1" r="0.35"/><circle cx="294.5" cy="692.32" r="0.54"/><circle cx="297.66" cy="689.79" r="0.71"/><circle cx="294.88" cy="690.27" r="0.41"/></g>
<circle cx="306.2" cy="684.2" r="5.04" fill="#e4a4b6" opacity="0.55" filter="url(#b1)"/>
<circle cx="304.14" cy="684.85" r="3.28" fill="#e4a4b6" opacity="0.55" filter="url(#b1)"/>
<circle cx="305.28" cy="682.25" r="3.28" fill="#e4a4b6" opacity="0.55" filter="url(#b1)"/>
<circle cx="306.2" cy="684.2" r="3.36" fill="#c03048" opacity="0.5" filter="url(#b1)"/>
<g fill="#8c1020" opacity="0.65"><circle cx="306.5" cy="686.81" r="0.65"/><circle cx="304.16" cy="687.09" r="0.57"/><circle cx="306.87" cy="683.88" r="0.42"/><circle cx="306.87" cy="680.53" r="0.39"/><circle cx="307.59" cy="685.77" r="0.57"/><circle cx="307.94" cy="682.98" r="0.43"/><circle cx="305.04" cy="681.47" r="0.69"/><circle cx="310.61" cy="684.17" r="0.64"/><circle cx="305.07" cy="684.23" r="0.67"/><circle cx="303.7" cy="686.05" r="0.6"/><circle cx="309.51" cy="683.44" r="0.72"/><circle cx="307.49" cy="683.9" r="0.49"/><circle cx="309.25" cy="681.63" r="0.74"/><circle cx="307.49" cy="687.26" r="0.72"/><circle cx="302.58" cy="683.28" r="0.74"/><circle cx="306.7" cy="685.16" r="0.69"/><circle cx="304.42" cy="683.2" r="0.68"/><circle cx="305.86" cy="685.81" r="0.47"/><circle cx="309.03" cy="684.85" r="0.66"/><circle cx="301.91" cy="685.48" r="0.37"/><circle cx="307" cy="685.73" r="0.58"/><circle cx="307.36" cy="687.74" r="0.56"/><circle cx="302.54" cy="682.16" r="0.67"/><circle cx="307.77" cy="683.37" r="0.5"/><circle cx="308.98" cy="683.49" r="0.46"/><circle cx="304.27" cy="684.42" r="0.69"/><circle cx="305.28" cy="683.14" r="0.74"/><circle cx="303.92" cy="683.91" r="0.6"/><circle cx="308.75" cy="683.36" r="0.36"/></g>
<circle cx="311.3" cy="674.5" r="4.2" fill="#e4a4b6" opacity="0.55" filter="url(#b1)"/>
<circle cx="311.88" cy="676.2" r="2.73" fill="#e4a4b6" opacity="0.55" filter="url(#b1)"/>
<circle cx="312.98" cy="675.15" r="2.73" fill="#e4a4b6" opacity="0.55" filter="url(#b1)"/>
<circle cx="311.3" cy="674.5" r="2.8" fill="#c03048" opacity="0.5" filter="url(#b1)"/>
<g fill="#8c1020" opacity="0.65"><circle cx="309.21" cy="674.12" r="0.69"/><circle cx="311.43" cy="674.95" r="0.54"/><circle cx="312.81" cy="675.98" r="0.44"/><circle cx="312.62" cy="677.23" r="0.72"/><circle cx="309.22" cy="676.71" r="0.48"/><circle cx="313.73" cy="673.06" r="0.36"/><circle cx="311.21" cy="672.76" r="0.37"/><circle cx="314.76" cy="674.92" r="0.63"/><circle cx="309.52" cy="676.71" r="0.63"/><circle cx="314.14" cy="675.96" r="0.63"/><circle cx="312.16" cy="674.17" r="0.58"/><circle cx="307.81" cy="674.32" r="0.5"/><circle cx="309.42" cy="671.43" r="0.49"/><circle cx="307.72" cy="674.15" r="0.36"/><circle cx="313.4" cy="674.15" r="0.53"/><circle cx="310.5" cy="677.8" r="0.56"/><circle cx="311.28" cy="673.28" r="0.7"/><circle cx="312.65" cy="671.67" r="0.44"/><circle cx="311.15" cy="677.05" r="0.38"/><circle cx="313.62" cy="673.8" r="0.73"/></g>
<circle cx="315.1" cy="729.9" r="5.78" fill="#e4a4b6" opacity="0.55" filter="url(#b1)"/>
<circle cx="316.11" cy="732.16" r="3.75" fill="#e4a4b6" opacity="0.55" filter="url(#b1)"/>
<circle cx="313.62" cy="727.92" r="3.75" fill="#e4a4b6" opacity="0.55" filter="url(#b1)"/>
<circle cx="315.1" cy="729.9" r="3.85" fill="#c03048" opacity="0.5" filter="url(#b1)"/>
<g fill="#8c1020" opacity="0.65"><circle cx="316.37" cy="725.9" r="0.52"/><circle cx="318.52" cy="730.31" r="0.51"/><circle cx="319.95" cy="728.15" r="0.73"/><circle cx="317.23" cy="729.63" r="0.36"/><circle cx="314.98" cy="730.35" r="0.4"/><circle cx="313.03" cy="728.81" r="0.59"/><circle cx="313.1" cy="731.76" r="0.74"/><circle cx="317.01" cy="734.42" r="0.56"/><circle cx="314.07" cy="728.21" r="0.65"/><circle cx="316.89" cy="728.41" r="0.54"/><circle cx="313.04" cy="726.94" r="0.65"/><circle cx="313.3" cy="727.59" r="0.62"/><circle cx="315.61" cy="726.38" r="0.59"/><circle cx="312.71" cy="727.2" r="0.39"/><circle cx="311.25" cy="732.43" r="0.64"/><circle cx="318.33" cy="731.52" r="0.59"/><circle cx="313.12" cy="729.48" r="0.61"/><circle cx="313.86" cy="726.28" r="0.73"/><circle cx="314.59" cy="729.63" r="0.46"/><circle cx="314.66" cy="728.49" r="0.74"/><circle cx="313.66" cy="725.56" r="0.42"/><circle cx="319.98" cy="730.11" r="0.55"/><circle cx="311.58" cy="731.24" r="0.66"/><circle cx="311.9" cy="733.2" r="0.41"/><circle cx="319.43" cy="729.36" r="0.48"/><circle cx="310.25" cy="730.6" r="0.48"/><circle cx="313.53" cy="725.17" r="0.73"/><circle cx="314.93" cy="734.55" r="0.59"/><circle cx="315.6" cy="728.61" r="0.52"/><circle cx="310.6" cy="731.31" r="0.53"/><circle cx="317.41" cy="730.52" r="0.68"/><circle cx="318.03" cy="727.24" r="0.38"/><circle cx="315.8" cy="725.09" r="0.46"/><circle cx="312.3" cy="730.22" r="0.37"/><circle cx="314.89" cy="727.83" r="0.38"/><circle cx="316.47" cy="729.03" r="0.65"/><circle cx="316.14" cy="727.5" r="0.5"/><circle cx="315.84" cy="734.23" r="0.74"/><circle cx="314.96" cy="726.23" r="0.56"/></g>
<circle cx="365.9" cy="731.1" r="4.2" fill="#e4a4b6" opacity="0.55" filter="url(#b1)"/>
<circle cx="364.39" cy="732.08" r="2.73" fill="#e4a4b6" opacity="0.55" filter="url(#b1)"/>
<circle cx="365.5" cy="729.34" r="2.73" fill="#e4a4b6" opacity="0.55" filter="url(#b1)"/>
<circle cx="365.9" cy="731.1" r="2.8" fill="#c03048" opacity="0.5" filter="url(#b1)"/>
<g fill="#8c1020" opacity="0.65"><circle cx="365.67" cy="732.97" r="0.63"/><circle cx="365.78" cy="734.88" r="0.64"/><circle cx="366.12" cy="731.61" r="0.59"/><circle cx="367.69" cy="733.1" r="0.59"/><circle cx="366.75" cy="728.89" r="0.57"/><circle cx="366.45" cy="729.82" r="0.48"/><circle cx="366.72" cy="728.98" r="0.72"/><circle cx="366.86" cy="731.66" r="0.5"/><circle cx="363.65" cy="731.62" r="0.44"/><circle cx="362.5" cy="732.26" r="0.73"/><circle cx="364.55" cy="729.73" r="0.58"/><circle cx="366.42" cy="731.9" r="0.67"/><circle cx="365.74" cy="732.61" r="0.68"/><circle cx="367.23" cy="732.39" r="0.41"/><circle cx="368.35" cy="729.14" r="0.42"/><circle cx="369.16" cy="732.68" r="0.4"/><circle cx="365.2" cy="728.02" r="0.59"/><circle cx="363.47" cy="731.42" r="0.46"/><circle cx="365.01" cy="729.93" r="0.54"/><circle cx="365.75" cy="733.4" r="0.71"/></g>
<circle cx="376" cy="736.2" r="3.99" fill="#e4a4b6" opacity="0.55" filter="url(#b1)"/>
<circle cx="374.44" cy="735.5" r="2.59" fill="#e4a4b6" opacity="0.55" filter="url(#b1)"/>
<circle cx="374.95" cy="734.85" r="2.59" fill="#e4a4b6" opacity="0.55" filter="url(#b1)"/>
<circle cx="376" cy="736.2" r="2.66" fill="#c03048" opacity="0.5" filter="url(#b1)"/>
<g fill="#8c1020" opacity="0.65"><circle cx="375.92" cy="736.09" r="0.66"/><circle cx="378.2" cy="733.99" r="0.56"/><circle cx="377.99" cy="733.31" r="0.46"/><circle cx="377.08" cy="738" r="0.36"/><circle cx="376.1" cy="737.23" r="0.35"/><circle cx="375.77" cy="736.37" r="0.54"/><circle cx="377.8" cy="733.74" r="0.37"/><circle cx="375.78" cy="734.64" r="0.67"/><circle cx="374.35" cy="734.11" r="0.52"/><circle cx="377.64" cy="736" r="0.71"/><circle cx="376.31" cy="737.26" r="0.44"/><circle cx="379.2" cy="736.96" r="0.42"/><circle cx="374.31" cy="735.36" r="0.49"/><circle cx="376.6" cy="733.59" r="0.46"/><circle cx="375.96" cy="734.83" r="0.37"/><circle cx="374.87" cy="733.07" r="0.66"/><circle cx="374.87" cy="732.91" r="0.72"/><circle cx="374.61" cy="735.58" r="0.58"/></g>
<rect x="339.2" y="661.6" width="46.6" height="49.8" fill="#e4e0e8" stroke="#444" stroke-width="0.9"/>
<circle cx="351.6" cy="698.5" r="9.45" fill="#e4a4b6" opacity="0.55" filter="url(#b1)"/>
<circle cx="347.97" cy="700.29" r="6.14" fill="#e4a4b6" opacity="0.55" filter="url(#b1)"/>
<circle cx="350.55" cy="694.59" r="6.14" fill="#e4a4b6" opacity="0.55" filter="url(#b1)"/>
<circle cx="351.6" cy="698.5" r="6.3" fill="#c03048" opacity="0.5" filter="url(#b1)"/>
<g fill="#8c1020" opacity="0.65"><circle cx="350.26" cy="700.37" r="0.43"/><circle cx="356.18" cy="704.21" r="0.63"/><circle cx="346.88" cy="697.51" r="0.64"/><circle cx="345.91" cy="700.45" r="0.43"/><circle cx="357.29" cy="698.39" r="0.54"/><circle cx="353.1" cy="704.02" r="0.54"/><circle cx="345.03" cy="701.84" r="0.48"/><circle cx="346.59" cy="693.62" r="0.4"/><circle cx="352.6" cy="696.47" r="0.45"/><circle cx="353.04" cy="695.92" r="0.46"/><circle cx="344.5" cy="702.83" r="0.74"/><circle cx="352.98" cy="705.2" r="0.68"/><circle cx="346.82" cy="698.08" r="0.41"/><circle cx="353.24" cy="699.27" r="0.37"/><circle cx="350.54" cy="692.01" r="0.38"/><circle cx="359.42" cy="695.2" r="0.52"/><circle cx="346.42" cy="704.59" r="0.62"/><circle cx="351.49" cy="694.85" r="0.64"/><circle cx="349.72" cy="699.21" r="0.37"/><circle cx="351.23" cy="702.62" r="0.46"/><circle cx="356.18" cy="695.66" r="0.43"/><circle cx="353.2" cy="699.74" r="0.51"/><circle cx="349.49" cy="699.65" r="0.56"/><circle cx="350.94" cy="699.48" r="0.54"/><circle cx="353.59" cy="701.54" r="0.65"/><circle cx="347" cy="700.72" r="0.57"/><circle cx="350.91" cy="691.76" r="0.73"/><circle cx="350.53" cy="693.62" r="0.73"/><circle cx="355.29" cy="698.86" r="0.4"/><circle cx="347.86" cy="701.94" r="0.51"/><circle cx="348.21" cy="694.76" r="0.54"/><circle cx="347.97" cy="691.12" r="0.73"/><circle cx="348" cy="702.4" r="0.75"/><circle cx="355.88" cy="691.73" r="0.4"/><circle cx="350.23" cy="703.9" r="0.47"/><circle cx="343.51" cy="700.38" r="0.51"/><circle cx="346.74" cy="698.32" r="0.59"/><circle cx="348.1" cy="697.48" r="0.37"/><circle cx="351.71" cy="690.71" r="0.49"/><circle cx="352.45" cy="701.09" r="0.6"/><circle cx="344.32" cy="694.58" r="0.62"/><circle cx="345.7" cy="695.57" r="0.71"/><circle cx="354.67" cy="696.82" r="0.4"/><circle cx="352.27" cy="699.19" r="0.69"/><circle cx="357.49" cy="697.11" r="0.65"/><circle cx="347.97" cy="692.6" r="0.51"/><circle cx="356.17" cy="697.24" r="0.39"/><circle cx="358.78" cy="700.97" r="0.66"/><circle cx="356.2" cy="692.4" r="0.44"/><circle cx="348.64" cy="701.93" r="0.7"/><circle cx="356.32" cy="698.56" r="0.61"/><circle cx="351.3" cy="698.15" r="0.4"/><circle cx="353.56" cy="701.99" r="0.55"/><circle cx="359.23" cy="699.99" r="0.54"/><circle cx="348.63" cy="694.3" r="0.69"/><circle cx="357.92" cy="703.34" r="0.45"/><circle cx="345.21" cy="697.93" r="0.62"/><circle cx="344.6" cy="696.59" r="0.37"/><circle cx="345.69" cy="697.19" r="0.6"/><circle cx="357.23" cy="702.97" r="0.38"/><circle cx="353.47" cy="699.06" r="0.74"/><circle cx="355.31" cy="704.52" r="0.37"/><circle cx="348.45" cy="696.05" r="0.59"/><circle cx="351.09" cy="691.48" r="0.57"/><circle cx="351.52" cy="698.12" r="0.37"/><circle cx="352.07" cy="704.23" r="0.66"/><circle cx="355.43" cy="699.14" r="0.56"/><circle cx="350.49" cy="700.69" r="0.46"/><circle cx="352.62" cy="698.67" r="0.69"/><circle cx="348.7" cy="705.13" r="0.45"/><circle cx="351.07" cy="690.48" r="0.36"/><circle cx="345.09" cy="693.6" r="0.66"/><circle cx="356.88" cy="703.55" r="0.65"/><circle cx="355.31" cy="704.36" r="0.6"/><circle cx="354.02" cy="705.86" r="0.69"/><circle cx="356.84" cy="701.15" r="0.59"/><circle cx="357.74" cy="698.81" r="0.73"/><circle cx="348.62" cy="703.72" r="0.72"/><circle cx="357.46" cy="692.56" r="0.39"/><circle cx="356.52" cy="698.49" r="0.49"/><circle cx="354.66" cy="705.54" r="0.59"/><circle cx="345.79" cy="700.06" r="0.56"/><circle cx="348.71" cy="696.85" r="0.64"/><circle cx="351.51" cy="699.72" r="0.73"/><circle cx="357.85" cy="702.92" r="0.66"/><circle cx="345.59" cy="701.4" r="0.45"/><circle cx="353.31" cy="706.35" r="0.65"/><circle cx="352.26" cy="692.75" r="0.36"/><circle cx="352.83" cy="690.22" r="0.48"/><circle cx="349.28" cy="696.17" r="0.73"/><circle cx="351.06" cy="696.42" r="0.63"/><circle cx="349.07" cy="693.45" r="0.58"/><circle cx="358.02" cy="695.57" r="0.54"/><circle cx="358.3" cy="697.15" r="0.66"/><circle cx="344.61" cy="695.95" r="0.66"/><circle cx="345.77" cy="698.52" r="0.43"/><circle cx="347.41" cy="692.53" r="0.51"/><circle cx="358.17" cy="701.41" r="0.61"/><circle cx="349.59" cy="695.83" r="0.7"/><circle cx="350.56" cy="690.92" r="0.41"/><circle cx="350.76" cy="704.69" r="0.35"/><circle cx="355.12" cy="697.9" r="0.41"/><circle cx="352.76" cy="694.51" r="0.58"/><circle cx="349.36" cy="695.36" r="0.37"/><circle cx="349.28" cy="690.84" r="0.67"/></g>
<circle cx="368.8" cy="685" r="8.19" fill="#e4a4b6" opacity="0.55" filter="url(#b1)"/>
<circle cx="371.6" cy="687.12" r="5.32" fill="#e4a4b6" opacity="0.55" filter="url(#b1)"/>
<circle cx="367.02" cy="688.03" r="5.32" fill="#e4a4b6" opacity="0.55" filter="url(#b1)"/>
<circle cx="368.8" cy="685" r="5.46" fill="#c03048" opacity="0.5" filter="url(#b1)"/>
<g fill="#8c1020" opacity="0.65"><circle cx="367.52" cy="685.39" r="0.7"/><circle cx="372.24" cy="678.57" r="0.72"/><circle cx="370.91" cy="681.55" r="0.61"/><circle cx="369.26" cy="684.52" r="0.38"/><circle cx="371.03" cy="684.82" r="0.71"/><circle cx="366.13" cy="687.51" r="0.5"/><circle cx="373.2" cy="680.98" r="0.4"/><circle cx="370.69" cy="681.07" r="0.68"/><circle cx="361.92" cy="684.92" r="0.57"/><circle cx="364.35" cy="690.88" r="0.74"/><circle cx="363.68" cy="683.44" r="0.59"/><circle cx="367.06" cy="681.56" r="0.72"/><circle cx="362.3" cy="688.53" r="0.58"/><circle cx="374.97" cy="681.46" r="0.46"/><circle cx="374.31" cy="686.21" r="0.58"/><circle cx="366.51" cy="688.77" r="0.46"/><circle cx="372.99" cy="687.77" r="0.56"/><circle cx="362.51" cy="687.61" r="0.52"/><circle cx="368.95" cy="678.56" r="0.55"/><circle cx="365.3" cy="685.78" r="0.62"/><circle cx="373.7" cy="679.59" r="0.67"/><circle cx="374.35" cy="683.89" r="0.53"/><circle cx="374.83" cy="684.31" r="0.38"/><circle cx="372.28" cy="680.46" r="0.69"/><circle cx="363.91" cy="688.28" r="0.59"/><circle cx="363.56" cy="680.42" r="0.51"/><circle cx="365.48" cy="678.63" r="0.39"/><circle cx="372.61" cy="680.16" r="0.53"/><circle cx="373.86" cy="686.24" r="0.42"/><circle cx="370.59" cy="689.95" r="0.6"/><circle cx="374.15" cy="682.56" r="0.66"/><circle cx="367.67" cy="684.66" r="0.48"/><circle cx="373.05" cy="688.9" r="0.47"/><circle cx="365.5" cy="682.24" r="0.37"/><circle cx="369.82" cy="692.08" r="0.53"/><circle cx="365.97" cy="680.35" r="0.53"/><circle cx="365.92" cy="678.57" r="0.6"/><circle cx="369.85" cy="680.75" r="0.46"/><circle cx="374.2" cy="685.36" r="0.38"/><circle cx="368.22" cy="690" r="0.5"/><circle cx="370.05" cy="689.64" r="0.72"/><circle cx="363.22" cy="682.71" r="0.75"/><circle cx="364.21" cy="679.42" r="0.63"/><circle cx="370.9" cy="679.62" r="0.75"/><circle cx="364.71" cy="683.69" r="0.61"/><circle cx="372.82" cy="687.67" r="0.73"/><circle cx="371.7" cy="688.75" r="0.47"/><circle cx="363.74" cy="680.38" r="0.48"/><circle cx="367.62" cy="684.45" r="0.45"/><circle cx="363.61" cy="687.87" r="0.7"/><circle cx="372.82" cy="681.57" r="0.45"/><circle cx="371.79" cy="678.87" r="0.67"/><circle cx="365.88" cy="679.89" r="0.51"/><circle cx="364.75" cy="683.05" r="0.63"/><circle cx="371.74" cy="682.18" r="0.64"/><circle cx="370.57" cy="686.31" r="0.43"/><circle cx="367.58" cy="689.73" r="0.51"/><circle cx="370.23" cy="684.04" r="0.7"/><circle cx="369.05" cy="689.06" r="0.54"/><circle cx="363.53" cy="686.89" r="0.36"/><circle cx="367.54" cy="684.15" r="0.42"/><circle cx="367.75" cy="690.2" r="0.64"/><circle cx="370.06" cy="685.27" r="0.51"/><circle cx="369.61" cy="691.22" r="0.68"/><circle cx="374.88" cy="680.86" r="0.73"/><circle cx="369.16" cy="690.57" r="0.4"/><circle cx="362.84" cy="683.29" r="0.6"/><circle cx="373.31" cy="684.49" r="0.52"/><circle cx="374.19" cy="681.15" r="0.42"/><circle cx="363.64" cy="688.99" r="0.37"/><circle cx="371.61" cy="678.58" r="0.61"/><circle cx="372.84" cy="688.74" r="0.41"/><circle cx="371.64" cy="682.62" r="0.37"/><circle cx="365.36" cy="686.1" r="0.7"/><circle cx="369.91" cy="687.31" r="0.5"/><circle cx="363.73" cy="687" r="0.73"/><circle cx="363.24" cy="689.14" r="0.4"/><circle cx="361.86" cy="685.81" r="0.68"/><circle cx="367.42" cy="683.29" r="0.75"/></g>
<circle cx="376" cy="669.6" r="6.62" fill="#e4a4b6" opacity="0.55" filter="url(#b1)"/>
<circle cx="374.19" cy="671.79" r="4.3" fill="#e4a4b6" opacity="0.55" filter="url(#b1)"/>
<circle cx="374.55" cy="667.16" r="4.3" fill="#e4a4b6" opacity="0.55" filter="url(#b1)"/>
<circle cx="376" cy="669.6" r="4.41" fill="#c03048" opacity="0.5" filter="url(#b1)"/>
<g fill="#8c1020" opacity="0.65"><circle cx="377.52" cy="670.7" r="0.52"/><circle cx="377.31" cy="664.57" r="0.5"/><circle cx="375.84" cy="674.14" r="0.53"/><circle cx="376.02" cy="671.73" r="0.37"/><circle cx="380.49" cy="672.38" r="0.73"/><circle cx="377.59" cy="664.96" r="0.53"/><circle cx="375.33" cy="673.69" r="0.51"/><circle cx="378.84" cy="664.47" r="0.51"/><circle cx="375.17" cy="674.64" r="0.72"/><circle cx="381.82" cy="668.49" r="0.67"/><circle cx="377.97" cy="665.99" r="0.63"/><circle cx="377.32" cy="675.42" r="0.44"/><circle cx="376.52" cy="664.32" r="0.7"/><circle cx="373.15" cy="672.66" r="0.36"/><circle cx="379.26" cy="666.42" r="0.41"/><circle cx="374" cy="672.74" r="0.54"/><circle cx="374.95" cy="672.5" r="0.56"/><circle cx="376.12" cy="665.5" r="0.53"/><circle cx="371.7" cy="673.49" r="0.65"/><circle cx="375.48" cy="668.25" r="0.65"/><circle cx="371.44" cy="671.62" r="0.54"/><circle cx="379.86" cy="671.77" r="0.64"/><circle cx="378.26" cy="673.71" r="0.46"/><circle cx="377.31" cy="669.69" r="0.51"/><circle cx="376.04" cy="672.12" r="0.48"/><circle cx="376.92" cy="665.41" r="0.58"/><circle cx="378.4" cy="667.93" r="0.71"/><circle cx="373.77" cy="665.04" r="0.72"/><circle cx="378.05" cy="672.79" r="0.57"/><circle cx="370.17" cy="668.47" r="0.44"/><circle cx="375.32" cy="674.83" r="0.67"/><circle cx="375.4" cy="670.84" r="0.55"/><circle cx="370.87" cy="667.5" r="0.58"/><circle cx="370.91" cy="668.17" r="0.62"/><circle cx="375.44" cy="669.03" r="0.63"/><circle cx="371.91" cy="671.23" r="0.57"/><circle cx="376.47" cy="667.23" r="0.7"/><circle cx="379.42" cy="673.81" r="0.69"/><circle cx="380.33" cy="670.58" r="0.68"/><circle cx="375.06" cy="671.75" r="0.73"/><circle cx="377.1" cy="675.46" r="0.49"/><circle cx="380.19" cy="668.06" r="0.38"/><circle cx="376.52" cy="674.25" r="0.35"/><circle cx="376.48" cy="673.2" r="0.39"/><circle cx="380.04" cy="668.1" r="0.5"/><circle cx="374.69" cy="671.1" r="0.59"/><circle cx="373.44" cy="665.11" r="0.7"/><circle cx="378.41" cy="666.85" r="0.44"/><circle cx="380.18" cy="672.31" r="0.61"/><circle cx="379.9" cy="672.86" r="0.7"/><circle cx="380.66" cy="670.47" r="0.66"/></g>
<path d="M317.6 682.9L331.5 682.9" stroke="#111" stroke-width="0.9"/>
<path d="M330.8 681.6 L333.5 682.9 L330.8 684.2 Z" fill="#111"/>
<rect x="389" y="660" width="126.3" height="88.9" fill="#f2b8e2"/>
<g fill="#5e2c5c" opacity="0.72" filter="url(#b03)"><circle cx="422.12" cy="720.62" r="0.67"/><circle cx="413.03" cy="681.06" r="0.47"/><circle cx="416.52" cy="686.64" r="0.67"/><circle cx="408.19" cy="736.8" r="0.66"/><circle cx="450.36" cy="726.69" r="0.54"/><circle cx="435.16" cy="698.39" r="0.44"/><circle cx="406.72" cy="719.88" r="0.46"/><circle cx="415.13" cy="706.47" r="0.55"/><circle cx="465.08" cy="695.43" r="0.56"/><circle cx="419.2" cy="681.5" r="0.52"/><circle cx="493.93" cy="716.6" r="0.53"/><circle cx="415.18" cy="735.27" r="0.63"/><circle cx="406.99" cy="745.5" r="0.63"/><circle cx="416.25" cy="714.7" r="0.59"/><circle cx="434.56" cy="724.31" r="0.49"/><circle cx="410.4" cy="720.51" r="0.47"/><circle cx="398.57" cy="716.99" r="0.57"/><circle cx="394.81" cy="699.24" r="0.43"/><circle cx="390.37" cy="747.82" r="0.5"/><circle cx="423.35" cy="712.96" r="0.55"/><circle cx="435.47" cy="733.6" r="0.51"/><circle cx="451.57" cy="745.37" r="0.55"/><circle cx="473.02" cy="686.8" r="0.56"/><circle cx="502.89" cy="725.24" r="0.62"/><circle cx="434.09" cy="682.25" r="0.47"/><circle cx="400.76" cy="726.96" r="0.4"/><circle cx="403.88" cy="732.64" r="0.5"/><circle cx="406.04" cy="730.92" r="0.69"/><circle cx="457.63" cy="671.93" r="0.48"/><circle cx="416.51" cy="723.5" r="0.7"/><circle cx="454.47" cy="741.08" r="0.58"/><circle cx="490.74" cy="707.42" r="0.71"/><circle cx="426.93" cy="668.56" r="0.41"/><circle cx="445.82" cy="661.32" r="0.48"/><circle cx="431.16" cy="742.54" r="0.67"/><circle cx="484.47" cy="703.11" r="0.55"/><circle cx="501.85" cy="707.69" r="0.52"/><circle cx="394.24" cy="732.45" r="0.43"/><circle cx="416.57" cy="725.85" r="0.54"/><circle cx="407.78" cy="734.06" r="0.42"/><circle cx="452.08" cy="741.55" r="0.56"/><circle cx="432.15" cy="680.18" r="0.62"/><circle cx="442.97" cy="740.52" r="0.43"/><circle cx="406.56" cy="724.18" r="0.42"/><circle cx="486.1" cy="737.24" r="0.66"/><circle cx="474.77" cy="693.65" r="0.55"/><circle cx="441.37" cy="731.82" r="0.72"/><circle cx="408.08" cy="689.24" r="0.71"/><circle cx="415.76" cy="742.21" r="0.47"/><circle cx="416.34" cy="674.84" r="0.62"/><circle cx="411.61" cy="722.43" r="0.53"/><circle cx="420.34" cy="685.5" r="0.58"/><circle cx="402.02" cy="717.72" r="0.67"/><circle cx="417.23" cy="687.57" r="0.54"/><circle cx="402.94" cy="722.28" r="0.53"/><circle cx="491.48" cy="699.93" r="0.44"/><circle cx="390.15" cy="706.28" r="0.45"/><circle cx="483.19" cy="725.97" r="0.64"/><circle cx="466.81" cy="693.75" r="0.65"/><circle cx="432.18" cy="698.33" r="0.58"/><circle cx="439.72" cy="733.56" r="0.58"/><circle cx="413.36" cy="681.98" r="0.56"/><circle cx="409.82" cy="728.08" r="0.58"/><circle cx="394.84" cy="721.83" r="0.63"/><circle cx="406.38" cy="744.44" r="0.71"/><circle cx="453.52" cy="705.23" r="0.66"/><circle cx="469.26" cy="681.85" r="0.53"/><circle cx="505.96" cy="736.74" r="0.41"/><circle cx="451.93" cy="744.84" r="0.65"/><circle cx="426.56" cy="721.49" r="0.61"/><circle cx="451.26" cy="713.53" r="0.55"/><circle cx="404.44" cy="723.69" r="0.57"/><circle cx="412.26" cy="710" r="0.41"/><circle cx="473.98" cy="747.62" r="0.6"/><circle cx="419.82" cy="706.53" r="0.63"/><circle cx="420.46" cy="687.87" r="0.64"/><circle cx="403.25" cy="699.49" r="0.61"/><circle cx="456.71" cy="731.19" r="0.4"/><circle cx="419.9" cy="699.35" r="0.49"/><circle cx="407.16" cy="737.45" r="0.42"/><circle cx="411.82" cy="710.54" r="0.55"/><circle cx="432.76" cy="738.22" r="0.67"/><circle cx="409.28" cy="710.92" r="0.59"/><circle cx="441.75" cy="678.18" r="0.58"/><circle cx="443.29" cy="740.34" r="0.71"/><circle cx="485.45" cy="719.56" r="0.68"/><circle cx="453.87" cy="678.95" r="0.72"/><circle cx="396.92" cy="680.12" r="0.69"/><circle cx="493.01" cy="734.23" r="0.4"/><circle cx="397.99" cy="697.87" r="0.68"/><circle cx="405.2" cy="738.76" r="0.47"/><circle cx="431.38" cy="675.7" r="0.61"/><circle cx="405.37" cy="720.27" r="0.55"/><circle cx="442.29" cy="695.68" r="0.53"/><circle cx="412.12" cy="686.77" r="0.55"/><circle cx="433.79" cy="733.21" r="0.6"/><circle cx="434.1" cy="711.43" r="0.57"/><circle cx="405.42" cy="734.77" r="0.56"/><circle cx="496.92" cy="700.05" r="0.52"/><circle cx="509.66" cy="693.59" r="0.51"/><circle cx="497.1" cy="683.83" r="0.5"/><circle cx="470.76" cy="741.83" r="0.49"/><circle cx="411.98" cy="681.77" r="0.66"/><circle cx="392.02" cy="697.06" r="0.47"/><circle cx="431.06" cy="708.12" r="0.43"/><circle cx="442.44" cy="714.19" r="0.65"/><circle cx="496.5" cy="724.66" r="0.52"/><circle cx="485.76" cy="733.85" r="0.68"/><circle cx="442.59" cy="731.13" r="0.64"/><circle cx="438.06" cy="717.51" r="0.55"/><circle cx="503.39" cy="705.02" r="0.5"/><circle cx="498.91" cy="740.36" r="0.65"/><circle cx="499.69" cy="706.37" r="0.43"/><circle cx="395.23" cy="743.44" r="0.6"/><circle cx="459.68" cy="689.42" r="0.46"/><circle cx="394.86" cy="739.13" r="0.69"/><circle cx="466.73" cy="744.23" r="0.48"/><circle cx="400.46" cy="715.06" r="0.62"/><circle cx="477.24" cy="742.9" r="0.7"/><circle cx="393.18" cy="712.24" r="0.57"/><circle cx="411.6" cy="694.46" r="0.55"/><circle cx="440.28" cy="679.99" r="0.55"/><circle cx="512.93" cy="734.81" r="0.6"/><circle cx="453.57" cy="692.68" r="0.59"/><circle cx="421.15" cy="734.53" r="0.59"/><circle cx="478.14" cy="689.25" r="0.42"/><circle cx="466.52" cy="740.8" r="0.62"/><circle cx="496.56" cy="696.86" r="0.48"/><circle cx="486.61" cy="740.39" r="0.47"/><circle cx="447.99" cy="723.14" r="0.54"/><circle cx="397.49" cy="696.88" r="0.68"/><circle cx="405.84" cy="738.17" r="0.61"/><circle cx="483.38" cy="688.36" r="0.57"/><circle cx="500.58" cy="741.08" r="0.71"/><circle cx="401.78" cy="708.99" r="0.71"/><circle cx="405.14" cy="713.84" r="0.44"/><circle cx="397.31" cy="733.53" r="0.62"/><circle cx="404.26" cy="737.9" r="0.66"/><circle cx="455.9" cy="739.99" r="0.4"/><circle cx="396.29" cy="682.68" r="0.68"/><circle cx="407.86" cy="719.82" r="0.62"/><circle cx="441.44" cy="708.42" r="0.71"/><circle cx="507.91" cy="743.43" r="0.68"/><circle cx="408.51" cy="717.26" r="0.44"/><circle cx="513.52" cy="740.66" r="0.68"/><circle cx="469.25" cy="692.42" r="0.55"/><circle cx="449.77" cy="722.43" r="0.49"/><circle cx="480.85" cy="685.66" r="0.6"/><circle cx="405.3" cy="713.49" r="0.47"/><circle cx="424.04" cy="742.59" r="0.52"/><circle cx="404.03" cy="667.59" r="0.58"/><circle cx="498.81" cy="679.82" r="0.48"/><circle cx="493.31" cy="731.59" r="0.4"/><circle cx="512.65" cy="745.27" r="0.57"/><circle cx="395.84" cy="705.3" r="0.62"/><circle cx="409.29" cy="710.13" r="0.55"/><circle cx="491.34" cy="728.57" r="0.66"/><circle cx="503.86" cy="676.18" r="0.49"/><circle cx="465.1" cy="744.97" r="0.64"/><circle cx="491.94" cy="702.33" r="0.66"/><circle cx="447.73" cy="690.97" r="0.59"/><circle cx="429.11" cy="688.42" r="0.63"/><circle cx="467.85" cy="740.5" r="0.67"/><circle cx="419.87" cy="735.05" r="0.66"/><circle cx="391.8" cy="713.99" r="0.45"/><circle cx="407.18" cy="678.7" r="0.43"/><circle cx="485.62" cy="738.94" r="0.47"/><circle cx="421.56" cy="713.02" r="0.57"/><circle cx="409.93" cy="704.7" r="0.68"/><circle cx="395.61" cy="713.53" r="0.66"/><circle cx="473.78" cy="667.23" r="0.7"/><circle cx="428.04" cy="711.58" r="0.52"/><circle cx="402.33" cy="723.99" r="0.54"/><circle cx="489.35" cy="742.63" r="0.51"/><circle cx="491.89" cy="720.21" r="0.53"/><circle cx="392.52" cy="690.1" r="0.7"/><circle cx="409.32" cy="691.05" r="0.45"/><circle cx="491.73" cy="721.53" r="0.64"/><circle cx="503.48" cy="713.18" r="0.67"/><circle cx="492.61" cy="668.04" r="0.53"/><circle cx="446.84" cy="730.06" r="0.72"/><circle cx="404.94" cy="697.98" r="0.63"/><circle cx="413.54" cy="720.47" r="0.71"/><circle cx="400.02" cy="717.13" r="0.58"/><circle cx="423.38" cy="692.48" r="0.55"/><circle cx="459.72" cy="744.1" r="0.66"/><circle cx="464.33" cy="733.17" r="0.44"/><circle cx="418.14" cy="685.03" r="0.59"/><circle cx="441.84" cy="692.8" r="0.72"/><circle cx="472.72" cy="692.18" r="0.63"/><circle cx="419.92" cy="689.49" r="0.6"/><circle cx="455.65" cy="671.99" r="0.69"/><circle cx="395.26" cy="702.97" r="0.62"/><circle cx="509.35" cy="698.41" r="0.66"/><circle cx="411.4" cy="723.76" r="0.49"/><circle cx="396.65" cy="699.25" r="0.65"/><circle cx="420.06" cy="717.9" r="0.42"/><circle cx="479.95" cy="744.49" r="0.58"/><circle cx="444.85" cy="708.64" r="0.56"/><circle cx="498.89" cy="732.36" r="0.59"/><circle cx="413.82" cy="742.86" r="0.54"/><circle cx="440.79" cy="739.07" r="0.7"/><circle cx="491.34" cy="745.46" r="0.45"/><circle cx="471.17" cy="733.9" r="0.64"/><circle cx="476.64" cy="745.4" r="0.67"/><circle cx="416.31" cy="725.85" r="0.65"/><circle cx="509.36" cy="720.49" r="0.71"/><circle cx="437.15" cy="743.04" r="0.51"/><circle cx="426.48" cy="729.56" r="0.45"/><circle cx="490.44" cy="725.78" r="0.54"/><circle cx="397.36" cy="734.52" r="0.41"/><circle cx="408.97" cy="743.26" r="0.58"/><circle cx="458.08" cy="730.24" r="0.65"/><circle cx="489.21" cy="718.3" r="0.54"/><circle cx="417.3" cy="747.6" r="0.68"/><circle cx="441.81" cy="683.55" r="0.63"/><circle cx="402.53" cy="702.32" r="0.71"/><circle cx="443.15" cy="728.49" r="0.62"/><circle cx="426.08" cy="713.71" r="0.45"/><circle cx="495.8" cy="734.02" r="0.52"/><circle cx="416.17" cy="691.43" r="0.44"/><circle cx="503.89" cy="699.73" r="0.48"/><circle cx="409.97" cy="702.23" r="0.65"/><circle cx="430.21" cy="679.73" r="0.63"/><circle cx="409.8" cy="674.27" r="0.57"/><circle cx="431.14" cy="725.83" r="0.67"/><circle cx="420.21" cy="694.05" r="0.68"/><circle cx="442.83" cy="741.67" r="0.53"/><circle cx="431.06" cy="732.92" r="0.44"/><circle cx="455.08" cy="737.55" r="0.69"/><circle cx="410.18" cy="705.29" r="0.54"/><circle cx="425.27" cy="687.52" r="0.53"/><circle cx="408.87" cy="698.37" r="0.71"/><circle cx="478.29" cy="745.29" r="0.61"/><circle cx="426.88" cy="702.53" r="0.41"/><circle cx="501.43" cy="715.41" r="0.69"/><circle cx="455.54" cy="734.59" r="0.64"/><circle cx="411.82" cy="745.38" r="0.54"/><circle cx="468.29" cy="745.02" r="0.68"/><circle cx="438.51" cy="744.38" r="0.64"/><circle cx="400.57" cy="740.03" r="0.55"/><circle cx="417.26" cy="705.87" r="0.42"/><circle cx="451.4" cy="696.35" r="0.67"/><circle cx="459.72" cy="713.31" r="0.51"/><circle cx="431.74" cy="739.67" r="0.47"/><circle cx="423.43" cy="700.89" r="0.41"/><circle cx="491.58" cy="724.27" r="0.71"/><circle cx="426.52" cy="690.22" r="0.66"/><circle cx="405.71" cy="721.91" r="0.51"/><circle cx="494.83" cy="721.27" r="0.5"/><circle cx="409.84" cy="746.03" r="0.65"/><circle cx="507.28" cy="741.75" r="0.68"/><circle cx="405.04" cy="698.68" r="0.54"/><circle cx="418.3" cy="714.18" r="0.67"/><circle cx="484.5" cy="717.34" r="0.44"/><circle cx="446.77" cy="738.97" r="0.55"/><circle cx="395.7" cy="723.95" r="0.62"/><circle cx="426.78" cy="717.66" r="0.47"/><circle cx="491.73" cy="689.24" r="0.42"/><circle cx="393.97" cy="723.66" r="0.66"/><circle cx="445.06" cy="705.66" r="0.64"/><circle cx="423.35" cy="709.33" r="0.56"/><circle cx="420.27" cy="727.9" r="0.48"/><circle cx="411.88" cy="736.84" r="0.55"/><circle cx="394.55" cy="678.78" r="0.55"/><circle cx="427.36" cy="703.19" r="0.56"/><circle cx="478.16" cy="692.84" r="0.63"/><circle cx="433.71" cy="712.49" r="0.53"/><circle cx="444.27" cy="729.52" r="0.69"/><circle cx="501.4" cy="688.31" r="0.57"/><circle cx="429.87" cy="734.82" r="0.58"/><circle cx="422.02" cy="700.64" r="0.7"/><circle cx="412.47" cy="728.54" r="0.7"/><circle cx="441.8" cy="723.29" r="0.47"/><circle cx="395.78" cy="730.41" r="0.4"/><circle cx="471.04" cy="727.88" r="0.53"/><circle cx="434.56" cy="693.88" r="0.56"/><circle cx="489.07" cy="666.27" r="0.42"/><circle cx="468.72" cy="745.66" r="0.41"/><circle cx="415.49" cy="682.29" r="0.49"/><circle cx="393.46" cy="738.78" r="0.63"/><circle cx="494.37" cy="734.09" r="0.43"/><circle cx="466.97" cy="735.06" r="0.68"/><circle cx="501.8" cy="694.18" r="0.46"/><circle cx="484.37" cy="682.61" r="0.63"/><circle cx="472" cy="667.45" r="0.63"/><circle cx="411.62" cy="734.67" r="0.53"/><circle cx="453" cy="739.31" r="0.52"/><circle cx="497.22" cy="732.1" r="0.42"/><circle cx="454.82" cy="727.55" r="0.59"/><circle cx="493.08" cy="737.52" r="0.53"/><circle cx="401.68" cy="733.52" r="0.68"/><circle cx="434.43" cy="683.56" r="0.61"/><circle cx="433.19" cy="710.33" r="0.72"/><circle cx="407.69" cy="740.83" r="0.61"/><circle cx="450.19" cy="739.79" r="0.44"/><circle cx="404.74" cy="699.96" r="0.48"/><circle cx="395.96" cy="713.87" r="0.58"/><circle cx="454.64" cy="743.16" r="0.49"/><circle cx="426.87" cy="739.51" r="0.64"/><circle cx="501.45" cy="734.83" r="0.71"/><circle cx="475.04" cy="738.1" r="0.41"/><circle cx="429.24" cy="715.83" r="0.41"/><circle cx="419.76" cy="709.37" r="0.5"/><circle cx="493.62" cy="746.54" r="0.51"/><circle cx="398.55" cy="728.95" r="0.71"/><circle cx="397.46" cy="725.51" r="0.5"/><circle cx="485.86" cy="727.13" r="0.6"/><circle cx="483.59" cy="668.76" r="0.59"/><circle cx="408.08" cy="740.67" r="0.61"/><circle cx="397.06" cy="724.31" r="0.61"/><circle cx="400.64" cy="705.62" r="0.71"/><circle cx="425.21" cy="737.15" r="0.69"/><circle cx="491.93" cy="692.05" r="0.68"/><circle cx="504.55" cy="708.93" r="0.64"/><circle cx="489.54" cy="734.91" r="0.65"/><circle cx="407.91" cy="683.65" r="0.7"/><circle cx="403.63" cy="714.26" r="0.52"/><circle cx="443.88" cy="727.67" r="0.4"/><circle cx="442.57" cy="737.06" r="0.51"/><circle cx="510.66" cy="699.81" r="0.62"/><circle cx="429.91" cy="696.47" r="0.47"/><circle cx="440.56" cy="737.83" r="0.61"/><circle cx="453.43" cy="662.04" r="0.51"/><circle cx="418.24" cy="699.32" r="0.65"/><circle cx="444.18" cy="735.12" r="0.71"/><circle cx="402.66" cy="736.86" r="0.55"/><circle cx="457.89" cy="661.7" r="0.5"/><circle cx="472.3" cy="740.63" r="0.41"/><circle cx="431.89" cy="733.99" r="0.71"/><circle cx="412.87" cy="692.09" r="0.47"/><circle cx="409.89" cy="718.01" r="0.66"/><circle cx="492.98" cy="726.05" r="0.71"/><circle cx="443.42" cy="743.4" r="0.63"/><circle cx="502.21" cy="670.81" r="0.69"/><circle cx="407.05" cy="697.28" r="0.52"/><circle cx="390.47" cy="731.3" r="0.71"/><circle cx="415.18" cy="705.31" r="0.51"/><circle cx="424.79" cy="714.73" r="0.47"/><circle cx="394.94" cy="696.57" r="0.66"/><circle cx="502.49" cy="700.82" r="0.55"/><circle cx="512.02" cy="712.27" r="0.46"/><circle cx="433.65" cy="729.91" r="0.71"/><circle cx="498.01" cy="729.84" r="0.62"/><circle cx="452.77" cy="737.08" r="0.42"/><circle cx="494.65" cy="735.44" r="0.61"/><circle cx="392.7" cy="692.59" r="0.46"/><circle cx="452.97" cy="735.78" r="0.63"/><circle cx="408.86" cy="716.09" r="0.54"/><circle cx="412.34" cy="723.64" r="0.51"/><circle cx="399.72" cy="687.12" r="0.58"/><circle cx="452.39" cy="687.79" r="0.68"/><circle cx="502.9" cy="690.52" r="0.53"/><circle cx="403.42" cy="678.01" r="0.63"/><circle cx="431.18" cy="719.71" r="0.67"/><circle cx="477.44" cy="747.52" r="0.55"/><circle cx="499.32" cy="701.76" r="0.52"/><circle cx="410.28" cy="686.97" r="0.6"/><circle cx="438.81" cy="726.73" r="0.66"/><circle cx="396.94" cy="701.9" r="0.52"/><circle cx="494.47" cy="718.93" r="0.58"/><circle cx="415.52" cy="746.8" r="0.44"/><circle cx="394.11" cy="706.34" r="0.69"/><circle cx="502.57" cy="744.24" r="0.68"/><circle cx="423.8" cy="725.07" r="0.64"/><circle cx="432.69" cy="689.89" r="0.6"/><circle cx="399.16" cy="732.97" r="0.45"/><circle cx="494.84" cy="714.28" r="0.69"/><circle cx="445.8" cy="744.14" r="0.55"/><circle cx="413.38" cy="740.5" r="0.71"/><circle cx="407.99" cy="720.76" r="0.55"/><circle cx="467.45" cy="732.25" r="0.44"/><circle cx="447.35" cy="730.74" r="0.49"/><circle cx="464.42" cy="742.16" r="0.45"/><circle cx="506.82" cy="685.72" r="0.41"/><circle cx="435.04" cy="739.13" r="0.5"/><circle cx="423.71" cy="694.4" r="0.44"/><circle cx="454.02" cy="722.46" r="0.72"/><circle cx="437.72" cy="722.28" r="0.54"/><circle cx="489.36" cy="716.99" r="0.62"/><circle cx="395.61" cy="717.37" r="0.57"/><circle cx="458.19" cy="707.88" r="0.52"/><circle cx="496.65" cy="730.16" r="0.6"/><circle cx="484.17" cy="710.01" r="0.59"/><circle cx="395.95" cy="711.39" r="0.46"/><circle cx="479.55" cy="740.03" r="0.42"/><circle cx="425.38" cy="704.73" r="0.61"/><circle cx="430.1" cy="677.36" r="0.63"/><circle cx="429.64" cy="718.57" r="0.69"/><circle cx="420.87" cy="691.91" r="0.42"/><circle cx="427.06" cy="738.51" r="0.5"/><circle cx="424.44" cy="676.64" r="0.6"/><circle cx="494.38" cy="675.74" r="0.44"/><circle cx="490.57" cy="738.81" r="0.5"/><circle cx="468.72" cy="666.67" r="0.46"/><circle cx="494.67" cy="710.75" r="0.69"/><circle cx="396.94" cy="687.93" r="0.45"/><circle cx="436.23" cy="703.26" r="0.57"/><circle cx="464.79" cy="744.17" r="0.55"/><circle cx="435.68" cy="706.93" r="0.45"/><circle cx="495.87" cy="732.53" r="0.63"/><circle cx="413.46" cy="704.58" r="0.62"/><circle cx="406.22" cy="708.37" r="0.52"/><circle cx="457.05" cy="745.55" r="0.42"/><circle cx="414.74" cy="720.31" r="0.51"/><circle cx="419.41" cy="676.61" r="0.43"/><circle cx="470.99" cy="730.32" r="0.54"/><circle cx="510.05" cy="708.88" r="0.71"/><circle cx="471.46" cy="718.66" r="0.45"/><circle cx="458.88" cy="716.02" r="0.72"/><circle cx="498.77" cy="704.43" r="0.63"/><circle cx="475.98" cy="740.31" r="0.42"/><circle cx="456.19" cy="670.65" r="0.69"/><circle cx="497.73" cy="694.7" r="0.56"/><circle cx="448.73" cy="696.46" r="0.47"/><circle cx="418.58" cy="740.71" r="0.44"/><circle cx="489.62" cy="724.73" r="0.48"/><circle cx="497.18" cy="734.58" r="0.65"/><circle cx="449.56" cy="737.41" r="0.44"/><circle cx="429.64" cy="694.37" r="0.6"/><circle cx="400.26" cy="693.92" r="0.65"/><circle cx="418.44" cy="724.02" r="0.55"/><circle cx="435.65" cy="689.61" r="0.57"/><circle cx="510.63" cy="744.96" r="0.47"/><circle cx="447.3" cy="728.27" r="0.66"/><circle cx="504.96" cy="733.45" r="0.44"/><circle cx="417.12" cy="735.39" r="0.55"/><circle cx="418.57" cy="741.75" r="0.71"/><circle cx="430.29" cy="720.19" r="0.56"/><circle cx="430.21" cy="699.1" r="0.72"/><circle cx="423.8" cy="662.92" r="0.67"/><circle cx="422.78" cy="726.04" r="0.59"/><circle cx="420.39" cy="690.38" r="0.43"/><circle cx="404.47" cy="712.16" r="0.53"/><circle cx="456.06" cy="731.82" r="0.67"/><circle cx="441.59" cy="669.14" r="0.57"/><circle cx="398.45" cy="725.3" r="0.45"/><circle cx="418.74" cy="683.6" r="0.7"/><circle cx="437.48" cy="707.8" r="0.61"/><circle cx="430.8" cy="697.86" r="0.55"/><circle cx="409.1" cy="732.86" r="0.71"/><circle cx="431.29" cy="676.44" r="0.49"/><circle cx="452.77" cy="723.01" r="0.67"/><circle cx="462.8" cy="711.27" r="0.67"/><circle cx="472.38" cy="744.9" r="0.48"/><circle cx="401.65" cy="739.64" r="0.68"/><circle cx="455.59" cy="742.85" r="0.68"/><circle cx="476.92" cy="693.16" r="0.58"/><circle cx="506.78" cy="743.44" r="0.59"/><circle cx="441.6" cy="722.16" r="0.48"/><circle cx="439.01" cy="709.08" r="0.65"/><circle cx="506.4" cy="742.97" r="0.44"/><circle cx="489.4" cy="680.19" r="0.45"/><circle cx="402.33" cy="725.96" r="0.54"/><circle cx="417.5" cy="727.08" r="0.42"/><circle cx="507.7" cy="702.85" r="0.52"/><circle cx="419.11" cy="726.68" r="0.46"/><circle cx="406.41" cy="687.16" r="0.64"/><circle cx="445.98" cy="734.45" r="0.48"/><circle cx="417.23" cy="679.9" r="0.44"/><circle cx="393.74" cy="747.74" r="0.5"/><circle cx="456.98" cy="746.73" r="0.7"/><circle cx="455.11" cy="731.77" r="0.46"/><circle cx="463.05" cy="709.63" r="0.47"/><circle cx="400.6" cy="685.12" r="0.42"/><circle cx="405.62" cy="733.05" r="0.54"/><circle cx="486.07" cy="742.54" r="0.41"/><circle cx="434.07" cy="729.42" r="0.57"/><circle cx="441.28" cy="738.64" r="0.48"/><circle cx="417.95" cy="707.02" r="0.66"/><circle cx="409.88" cy="696.42" r="0.43"/><circle cx="464.71" cy="700.43" r="0.54"/><circle cx="481.69" cy="719.77" r="0.6"/><circle cx="456.07" cy="714.4" r="0.58"/><circle cx="410.33" cy="746.33" r="0.6"/><circle cx="411.09" cy="715.92" r="0.61"/><circle cx="401.6" cy="711.2" r="0.67"/><circle cx="484.73" cy="737.61" r="0.5"/><circle cx="423.78" cy="722.93" r="0.47"/><circle cx="414.63" cy="700.97" r="0.52"/><circle cx="510.22" cy="746.06" r="0.61"/><circle cx="424.43" cy="684.71" r="0.63"/><circle cx="393.04" cy="747.2" r="0.71"/><circle cx="425.94" cy="723.3" r="0.67"/><circle cx="429.62" cy="729.56" r="0.53"/><circle cx="437.57" cy="747.49" r="0.67"/><circle cx="505.84" cy="683" r="0.46"/><circle cx="396.05" cy="733.53" r="0.45"/><circle cx="407.95" cy="690.58" r="0.41"/><circle cx="430.21" cy="699.2" r="0.51"/><circle cx="497.48" cy="699.26" r="0.4"/><circle cx="462.91" cy="724.02" r="0.44"/><circle cx="427.04" cy="708.8" r="0.57"/><circle cx="431.05" cy="737.47" r="0.63"/><circle cx="404.26" cy="723.4" r="0.5"/><circle cx="405.91" cy="738.58" r="0.49"/><circle cx="422.86" cy="699.48" r="0.65"/><circle cx="403.69" cy="727.33" r="0.61"/><circle cx="459.29" cy="682.76" r="0.46"/><circle cx="444.3" cy="719.34" r="0.65"/><circle cx="414.09" cy="691.74" r="0.52"/><circle cx="441.99" cy="719.06" r="0.4"/><circle cx="416.67" cy="738.61" r="0.41"/><circle cx="399.79" cy="742.72" r="0.64"/><circle cx="434.46" cy="708" r="0.7"/><circle cx="437.13" cy="744.16" r="0.43"/><circle cx="512.28" cy="738.17" r="0.41"/><circle cx="452.37" cy="747.32" r="0.46"/><circle cx="420.03" cy="680.85" r="0.46"/><circle cx="394.62" cy="746.32" r="0.46"/><circle cx="493.03" cy="719.8" r="0.52"/><circle cx="470.75" cy="718.87" r="0.48"/><circle cx="408.7" cy="686.38" r="0.56"/><circle cx="447.33" cy="713.55" r="0.53"/><circle cx="445.4" cy="734.36" r="0.55"/><circle cx="459.48" cy="693.49" r="0.67"/><circle cx="430.35" cy="741.99" r="0.56"/><circle cx="467.02" cy="693.96" r="0.53"/><circle cx="491.58" cy="688.9" r="0.68"/><circle cx="398.76" cy="695.15" r="0.62"/><circle cx="435.5" cy="726.33" r="0.72"/><circle cx="425.17" cy="700.31" r="0.69"/><circle cx="499.53" cy="669.35" r="0.68"/><circle cx="493.26" cy="676.56" r="0.59"/><circle cx="421.09" cy="732.47" r="0.5"/><circle cx="467.33" cy="664.65" r="0.66"/><circle cx="392.88" cy="697.44" r="0.65"/><circle cx="421.53" cy="680.51" r="0.54"/><circle cx="419.59" cy="712.7" r="0.46"/><circle cx="480.72" cy="740.37" r="0.51"/><circle cx="395.55" cy="721.35" r="0.44"/><circle cx="427.28" cy="736.28" r="0.69"/><circle cx="406.02" cy="735.83" r="0.47"/><circle cx="487.97" cy="701.06" r="0.7"/><circle cx="436.82" cy="734.27" r="0.45"/><circle cx="392.45" cy="689.88" r="0.69"/><circle cx="496.34" cy="693.29" r="0.54"/><circle cx="400.18" cy="747.26" r="0.59"/><circle cx="432.66" cy="685.79" r="0.57"/><circle cx="441.57" cy="722.22" r="0.63"/><circle cx="428.83" cy="674.73" r="0.49"/><circle cx="435.07" cy="718" r="0.56"/><circle cx="393.98" cy="699.23" r="0.56"/><circle cx="421.87" cy="722.53" r="0.7"/><circle cx="457.34" cy="690.94" r="0.61"/><circle cx="399.66" cy="739.82" r="0.63"/><circle cx="415.18" cy="726.62" r="0.48"/><circle cx="427.61" cy="735.07" r="0.5"/><circle cx="432.68" cy="746.41" r="0.45"/><circle cx="472.96" cy="675.79" r="0.53"/><circle cx="505.7" cy="741.55" r="0.4"/><circle cx="418.65" cy="682.38" r="0.49"/><circle cx="454.04" cy="701.33" r="0.66"/><circle cx="424.56" cy="699.86" r="0.51"/><circle cx="407.76" cy="725.68" r="0.51"/><circle cx="506.68" cy="695.12" r="0.64"/><circle cx="501.13" cy="735.75" r="0.48"/><circle cx="416.15" cy="699.96" r="0.5"/><circle cx="472.37" cy="743.69" r="0.54"/><circle cx="485.65" cy="704.94" r="0.49"/><circle cx="448.49" cy="738.21" r="0.72"/><circle cx="403.6" cy="726.58" r="0.44"/><circle cx="400.26" cy="709.73" r="0.5"/><circle cx="414.68" cy="701.85" r="0.6"/><circle cx="492.02" cy="745.85" r="0.67"/><circle cx="413.17" cy="681.24" r="0.58"/><circle cx="465.63" cy="731.76" r="0.68"/><circle cx="427.4" cy="729.94" r="0.54"/><circle cx="412.37" cy="692.88" r="0.64"/><circle cx="438.45" cy="745.42" r="0.66"/><circle cx="419.47" cy="686.78" r="0.44"/><circle cx="460.39" cy="730.09" r="0.64"/><circle cx="513.04" cy="716.43" r="0.67"/><circle cx="459.96" cy="697.76" r="0.65"/><circle cx="500.55" cy="732.73" r="0.62"/><circle cx="433.93" cy="742.41" r="0.4"/><circle cx="454.08" cy="702.08" r="0.71"/><circle cx="393.2" cy="695.28" r="0.48"/><circle cx="393.03" cy="714.53" r="0.71"/><circle cx="440.55" cy="745.59" r="0.65"/><circle cx="428.73" cy="722.4" r="0.53"/><circle cx="509.96" cy="706.44" r="0.52"/><circle cx="416.9" cy="731.96" r="0.58"/><circle cx="419.68" cy="715.91" r="0.61"/><circle cx="500.28" cy="745.17" r="0.68"/><circle cx="394.29" cy="690.39" r="0.59"/><circle cx="470.42" cy="737.85" r="0.52"/><circle cx="397.67" cy="733" r="0.62"/><circle cx="415.48" cy="731.85" r="0.63"/><circle cx="435.06" cy="737.8" r="0.63"/><circle cx="449.22" cy="732.79" r="0.69"/><circle cx="459.68" cy="705.15" r="0.4"/><circle cx="400.27" cy="722.08" r="0.57"/><circle cx="410.34" cy="696.01" r="0.47"/><circle cx="486.27" cy="725.44" r="0.67"/><circle cx="401.57" cy="694.01" r="0.49"/><circle cx="402.87" cy="736.65" r="0.55"/><circle cx="495.83" cy="741.82" r="0.47"/><circle cx="442.34" cy="714.56" r="0.42"/><circle cx="419.16" cy="746.89" r="0.62"/><circle cx="414.18" cy="684.56" r="0.67"/><circle cx="476.57" cy="710" r="0.47"/><circle cx="498.45" cy="736.61" r="0.58"/><circle cx="440.65" cy="728.73" r="0.62"/><circle cx="409.63" cy="731.02" r="0.52"/><circle cx="406.31" cy="739.6" r="0.42"/><circle cx="485.09" cy="693.66" r="0.65"/><circle cx="400.94" cy="732.77" r="0.67"/><circle cx="402.16" cy="732.26" r="0.59"/><circle cx="408.17" cy="682.56" r="0.6"/><circle cx="426.24" cy="694.76" r="0.66"/><circle cx="492.35" cy="735.71" r="0.47"/><circle cx="397.82" cy="715.38" r="0.58"/><circle cx="421.89" cy="710.04" r="0.51"/><circle cx="410.53" cy="688.63" r="0.69"/><circle cx="419.47" cy="732.57" r="0.62"/><circle cx="499.15" cy="730.14" r="0.62"/><circle cx="433.65" cy="737.62" r="0.66"/><circle cx="439.72" cy="707.78" r="0.61"/><circle cx="434.57" cy="742.48" r="0.59"/></g>
<rect x="24.8" y="754.9" width="106.2" height="8.5" fill="#e9e9e9" stroke="#9a9a9a" stroke-width="1"/>
<text x="77.9" y="759.35" font-size="5.6" textLength="34.25" lengthAdjust="spacingAndGlyphs" stroke="#111" stroke-width="0.18">KDR (VEGFR2)</text>
<path d="M23.8 768L23.8 809.2" stroke="#8a8a8a" stroke-width="0.7"/>
<path d="M23.8 809.2L69.8 809.2" stroke="#9a9a9a" stroke-width="0.7"/>
<path d="M22.6 768L23.8 768" stroke="#666" stroke-width="0.5"/>
<text x="20.8" y="768" font-size="2.8" text-anchor="end" fill="#222">1500</text>
<path d="M22.6 781.73L23.8 781.73" stroke="#666" stroke-width="0.5"/>
<text x="20.8" y="781.73" font-size="2.8" text-anchor="end" fill="#222">1000</text>
<path d="M22.6 795.47L23.8 795.47" stroke="#666" stroke-width="0.5"/>
<text x="20.8" y="795.47" font-size="2.8" text-anchor="end" fill="#222">500</text>
<path d="M22.6 809.2L23.8 809.2" stroke="#666" stroke-width="0.5"/>
<text x="20.8" y="809.2" font-size="2.8" text-anchor="end" fill="#222">0</text>
<rect x="26.8" y="797.4" width="9.4" height="11.8" fill="#0c0cce" stroke="#06068a" stroke-width="0.4"/>
<path d="M31.5 794.9L31.5 797.4" stroke="#444" stroke-width="0.5"/>
<path d="M30.5 794.9L32.5 794.9" stroke="#444" stroke-width="0.5"/>
<rect x="42.1" y="778.2" width="9.4" height="31" fill="#be0a0a" stroke="#7a0606" stroke-width="0.4"/>
<path d="M46.8 772.2L46.8 778.2" stroke="#444" stroke-width="0.5"/>
<path d="M45.8 772.2L47.8 772.2" stroke="#444" stroke-width="0.5"/>
<rect x="57.4" y="801.5" width="9.4" height="7.7" fill="#4a8a28" stroke="#2e5a18" stroke-width="0.4"/>
<path d="M62.1 799.5L62.1 801.5" stroke="#444" stroke-width="0.5"/>
<path d="M61.1 799.5L63.1 799.5" stroke="#444" stroke-width="0.5"/>
<text x="67.3" y="768.8" font-size="3.1" font-weight="normal" text-anchor="end" fill="#222" textLength="11" lengthAdjust="spacingAndGlyphs">P < 0.001</text>
<text x="6.3" y="788.6" font-size="5.6" textLength="10.5" lengthAdjust="spacingAndGlyphs" transform="rotate(-90 6.3 788.6)">MFI</text>
<path d="M77.7 768L131.2 768" stroke="#c8c8c8" stroke-width="1"/>
<path d="M131.2 768L131.2 809.2" stroke="#c8c8c8" stroke-width="0.7"/>
<path d="M77.7 768L77.7 809.2" stroke="#777" stroke-width="0.6"/>
<path d="M77.7 809.2L131.2 809.2" stroke="#555" stroke-width="0.6"/>
<path d="M76.7 798.9L77.7 798.9" stroke="#777" stroke-width="0.4"/>
<text x="75.7" y="798.9" font-size="2.1" font-weight="normal" fill="#555" transform="rotate(-90 75.7 798.9)">20</text>
<path d="M76.7 788.6L77.7 788.6" stroke="#777" stroke-width="0.4"/>
<text x="75.7" y="788.6" font-size="2.1" font-weight="normal" fill="#555" transform="rotate(-90 75.7 788.6)">40</text>
<path d="M76.7 778.3L77.7 778.3" stroke="#777" stroke-width="0.4"/>
<text x="75.7" y="778.3" font-size="2.1" font-weight="normal" fill="#555" transform="rotate(-90 75.7 778.3)">60</text>
<text x="71.9" y="788.6" font-size="2.2" font-weight="normal" fill="#555" transform="rotate(-90 71.9 788.6)">Count</text>
<path d="M80.7 809.2L80.7 810.2" stroke="#777" stroke-width="0.4"/>
<text x="80.7" y="811.6" font-size="2.1" font-weight="normal" fill="#555">-10²</text>
<path d="M92.58 809.2L92.58 810.2" stroke="#777" stroke-width="0.4"/>
<text x="92.58" y="811.6" font-size="2.1" font-weight="normal" fill="#555">10²</text>
<path d="M104.45 809.2L104.45 810.2" stroke="#777" stroke-width="0.4"/>
<text x="104.45" y="811.6" font-size="2.1" font-weight="normal" fill="#555">10²</text>
<path d="M116.32 809.2L116.32 810.2" stroke="#777" stroke-width="0.4"/>
<text x="116.32" y="811.6" font-size="2.1" font-weight="normal" fill="#555">10²</text>
<path d="M128.2 809.2L128.2 810.2" stroke="#777" stroke-width="0.4"/>
<text x="128.2" y="811.6" font-size="2.1" font-weight="normal" fill="#555">10²</text>
<text x="96.96" y="813.8" font-size="2.1" font-weight="normal" fill="#555">PE-A</text>
<text x="31.5" y="813" font-size="4.8" text-anchor="end" textLength="28" lengthAdjust="spacingAndGlyphs" transform="rotate(-90 31.5 813)">CD14<tspan baseline-shift="35%" font-size="75%">++</tspan>CD16<tspan baseline-shift="35%" font-size="75%">-</tspan></text>
<text x="46.8" y="813" font-size="4.8" text-anchor="end" textLength="28" lengthAdjust="spacingAndGlyphs" transform="rotate(-90 46.8 813)">CD14<tspan baseline-shift="35%" font-size="75%">++</tspan>CD16<tspan baseline-shift="35%" font-size="75%">+</tspan></text>
<text x="62.1" y="813" font-size="4.8" text-anchor="end" textLength="28" lengthAdjust="spacingAndGlyphs" transform="rotate(-90 62.1 813)">CD14<tspan baseline-shift="35%" font-size="75%">+</tspan>CD16<tspan baseline-shift="35%" font-size="75%">++</tspan></text>
<text x="244.5" y="769.2" font-size="14" text-anchor="start" fill="#000">G</text>
<path d="M265.3 774.3L337.7 774.3" stroke="#999" stroke-width="0.5" stroke-dasharray="0.6 0.8"/>
<path d="M337.7 774.3L337.7 829.5" stroke="#aaa" stroke-width="0.5"/>
<path d="M265.3 774.3L265.3 829.5" stroke="#333" stroke-width="0.7"/>
<path d="M265.3 829.5L337.7 829.5" stroke="#333" stroke-width="0.7"/>
<text x="301.55" y="769.6" font-size="5" textLength="61.5" lengthAdjust="spacingAndGlyphs">CD14<tspan baseline-shift="35%" font-size="75%">++</tspan>CD16<tspan baseline-shift="35%" font-size="75%">-</tspan> monocytes</text>
<text x="320.8" y="788.5" font-size="4.8" textLength="25" lengthAdjust="spacingAndGlyphs">28.5±8.8%</text>
<ellipse cx="289.4" cy="791.3" rx="1.87" ry="1.61" fill="#000" opacity="0.95" filter="url(#b05)"/>
<path d="M288.11 791.31h0.5M288.51 790.65h0.5M285.7 791.81h0.5M290.14 791.81h0.5M288.9 790.87h0.5M290.56 793.05h0.5M290.3 791.17h0.5M290.47 794.13h0.5M288.3 792.66h0.5M287.69 790.29h0.5M292.07 789.82h0.5M288.29 789.31h0.5M289.67 789.73h0.5M288.29 791.65h0.5M288.84 793.92h0.5M288.96 790.79h0.5M290.04 790.82h0.5M288.63 790.12h0.5M289.04 792.08h0.5M287.95 790.74h0.5M287.7 790.06h0.5M290.24 789.28h0.5M286.73 789.19h0.5M286.39 791.36h0.5M290.12 789.37h0.5M290.36 792.35h0.5M288.57 791.25h0.5M288.08 792.32h0.5M289.33 791.31h0.5M287.99 790.69h0.5M291.7 791h0.5M290.28 789.49h0.5M289.49 793.11h0.5M289.73 791.66h0.5M288.44 791.9h0.5M290.71 791.59h0.5M289.67 791.2h0.5M289.39 793.9h0.5M287.7 791.07h0.5M287.02 792.34h0.5M287.83 791.52h0.5M287.67 792.8h0.5M290.57 791.45h0.5M289.04 791.18h0.5M288.65 792.26h0.5M288.17 790.21h0.5M288.03 791.31h0.5M286.42 792.41h0.5M289.58 791.62h0.5M289.38 791.61h0.5" stroke="#111" stroke-width="0.5" stroke-linecap="round" opacity="0.5"/>
<ellipse cx="289.4" cy="786.6" rx="1.36" ry="1.19" fill="#000" opacity="0.75" filter="url(#b05)"/>
<path d="M289.67 787.17h0.5M288.96 784.49h0.5M290.27 786.7h0.5M289.27 788.4h0.5M290.63 786.57h0.5M290.26 786.76h0.5M288.06 787.03h0.5M289.19 786.79h0.5M287.73 785.64h0.5M288.67 787.3h0.5M290.29 786.89h0.5M289.59 785.72h0.5M289.48 786.89h0.5M290.04 785.53h0.5M289.11 787.61h0.5M290.03 787.35h0.5M289.95 786.72h0.5M288.08 786.69h0.5M288.76 787.79h0.5M289.17 788.07h0.5M289.76 785.64h0.5M289.85 786.44h0.5M289.45 786.56h0.5M288.58 786.4h0.5M289.73 787.05h0.5M289.11 786.63h0.5" stroke="#111" stroke-width="0.5" stroke-linecap="round" opacity="0.5"/>
<ellipse cx="289.4" cy="783.5" rx="0.85" ry="2.12" fill="#000" opacity="0.35" filter="url(#b05)"/>
<path d="M288.88 786.83h0.5M289.44 781.4h0.5M289.82 783.11h0.5M289.21 780.33h0.5M288.46 783.23h0.5M289.93 786.45h0.5M288.95 784.36h0.5M289.27 786.1h0.5M288.93 785.68h0.5M288.2 780.83h0.5M289.73 780.11h0.5M289.19 783.91h0.5M289.54 783.69h0.5M289.44 783.94h0.5M288.97 781.95h0.5M289.12 785.26h0.5M289.29 784.88h0.5M288.99 783.83h0.5M290.34 782.38h0.5M288.61 785.12h0.5M289.73 783.72h0.5M288.63 782.61h0.5M289.66 784.66h0.5M289.17 785.6h0.5M288.88 781.73h0.5M289.84 781.48h0.5M290.36 786.38h0.5M288.77 781.91h0.5M288.07 783.95h0.5M288.88 785.62h0.5" stroke="#111" stroke-width="0.5" stroke-linecap="round" opacity="0.5"/>
<path d="M294.25 791.08h0.45M296.5 791.64h0.45M293.03 791.93h0.45M294.87 792.35h0.45M296.36 792.1h0.45M299.6 790.83h0.45M295.41 790.83h0.45M296.68 791.81h0.45M297.76 791.09h0.45M299.45 792.02h0.45M294.82 791.32h0.45M291.05 790.16h0.45M293.11 790.74h0.45M297.28 793.83h0.45M297.05 792.58h0.45M299.3 790.24h0.45M292.09 791.93h0.45M301.28 791.36h0.45M300.52 791.47h0.45M292.52 789.77h0.45M296.89 792.78h0.45M291.31 790.81h0.45M299.11 791.95h0.45M297.19 792.06h0.45M296.31 792.41h0.45M300.12 792.07h0.45M295.5 791.92h0.45M295.36 791.69h0.45M296.44 791.58h0.45M301.72 793.61h0.45M292.48 790.64h0.45M300.98 792h0.45M301.23 792.19h0.45M299.35 792.77h0.45M296.13 793.92h0.45M298.59 790.22h0.45M293.67 789.78h0.45M294.42 790.45h0.45M299.4 792.32h0.45M297.78 790.44h0.45" stroke="#555" stroke-width="0.5" stroke-linecap="round" opacity="0.45"/>
<ellipse cx="289.4" cy="815.5" rx="1.84" ry="3.91" fill="#000" opacity="0.95" filter="url(#b05)"/>
<path d="M287.73 817.79h0.5M291.03 813.99h0.5M289.08 813.76h0.5M287.49 816.01h0.5M288.82 818.96h0.5M289.78 816.35h0.5M287.42 819.16h0.5M290 814.05h0.5M291.75 811.78h0.5M288.05 817.17h0.5M289.16 816.92h0.5M289.45 813.03h0.5M290.39 819.55h0.5M289.01 813.43h0.5M288.87 810.06h0.5M286.73 814.29h0.5M287.99 819.86h0.5M289.8 810.53h0.5M287.97 814.84h0.5M291.11 812.06h0.5M287.63 818.91h0.5M287.01 814.28h0.5M288.7 811.28h0.5M285.73 818.54h0.5M288.2 812.77h0.5M288.73 818.27h0.5M290.51 815.27h0.5M288.61 816.36h0.5M288.88 816.38h0.5M288.84 818.37h0.5M288.53 815.13h0.5M284.57 815.76h0.5M288.3 809.83h0.5M288.8 813.96h0.5M288.26 816.01h0.5M288.81 814.94h0.5M287.22 812.64h0.5M287.66 818.76h0.5M290.24 818.21h0.5M289.88 808.57h0.5M289.74 812.53h0.5M287.71 816.55h0.5M288.17 817.04h0.5M288.37 815.8h0.5M290.09 816.24h0.5M289.62 816.13h0.5M288.85 813.74h0.5M287.58 814.7h0.5M290.18 818.26h0.5M288.09 817.35h0.5M288.99 812.76h0.5M290.67 809.75h0.5M289.53 817.02h0.5M287.6 818.08h0.5M288.99 813.17h0.5M289.37 813.19h0.5M290.18 814.79h0.5M288.25 817.98h0.5M288.1 815.74h0.5M287.65 815.52h0.5M291.5 817.74h0.5M288.97 819.13h0.5M288.6 817.18h0.5M288.03 816.29h0.5M287.24 812.58h0.5M287.73 813.99h0.5M287.77 818.28h0.5M289.33 815.51h0.5M289.78 816.64h0.5M289.48 810.36h0.5M288.64 814.96h0.5M287.31 816.49h0.5M291.7 814.59h0.5M288.44 816.33h0.5M288.05 813.34h0.5M293.15 813.9h0.5M290.82 810.8h0.5M290.44 817.56h0.5M290.2 816.35h0.5M291.89 813.43h0.5M287.1 810.38h0.5M289.5 811.27h0.5M290 814.74h0.5M289.66 812.55h0.5M290.23 818.03h0.5M288.82 810.91h0.5M288.68 812.05h0.5M289.18 817.93h0.5M288.44 814.09h0.5M289.53 814.11h0.5M290.99 818.07h0.5M288.15 815.39h0.5M285.24 818.74h0.5M290.04 818.56h0.5M288.64 810.2h0.5M288.22 815.03h0.5M290.14 816.59h0.5M287.09 813.32h0.5M287.35 818.55h0.5M289.1 814.77h0.5M289.67 815.51h0.5M289.33 813.82h0.5M290.5 815.06h0.5M290.53 816.16h0.5M288.77 812.07h0.5" stroke="#111" stroke-width="0.5" stroke-linecap="round" opacity="0.5"/>
<ellipse cx="289.4" cy="821.5" rx="1.44" ry="2.98" fill="#000" opacity="0.6" filter="url(#b05)"/>
<path d="M289.06 820h0.5M288.58 820.83h0.5M291.04 819.93h0.5M286.64 820.64h0.5M290.6 822.6h0.5M287.92 821.29h0.5M289.14 824.14h0.5M288.88 818.01h0.5M289.05 821.7h0.5M289.1 819.97h0.5M290.47 821.28h0.5M289.18 820.91h0.5M289.58 824.42h0.5M290.15 822.48h0.5M290.66 818.16h0.5M289.66 819.97h0.5M289.63 819.82h0.5M288.11 819.88h0.5M288.4 822.18h0.5M290.47 821.06h0.5M288.14 822.1h0.5M288.65 822.38h0.5M290.16 822.54h0.5M289.9 816.32h0.5M289.44 819.92h0.5M288.13 823.09h0.5M289.19 820.74h0.5M289.85 821.16h0.5M288.77 821.97h0.5M289.94 822.61h0.5M289.68 819.75h0.5M290.33 820.69h0.5M288.57 820.89h0.5M288.12 820.33h0.5M290.46 822.3h0.5M291.14 826.27h0.5M289.6 821.29h0.5M289.88 820.24h0.5M289.49 820.53h0.5M288.76 821.88h0.5M288.62 820.81h0.5M292.22 820.13h0.5M288.36 818.11h0.5M288.46 823.3h0.5M289.29 823.16h0.5M289.59 824.64h0.5M289.02 820.63h0.5M288.21 821.99h0.5M287.84 824.5h0.5M288.11 823.7h0.5M287.88 820.94h0.5M289.31 824.37h0.5M289.03 822.68h0.5M290.68 822.62h0.5M289.59 823.69h0.5M288.22 821.56h0.5M288.62 826.09h0.5M288.76 818.95h0.5M292.35 822.32h0.5M288.57 823.4h0.5M289.66 821.48h0.5M290.01 822.93h0.5M290.96 820.23h0.5" stroke="#111" stroke-width="0.5" stroke-linecap="round" opacity="0.5"/>
<ellipse cx="289.4" cy="825" rx="0.8" ry="1.7" fill="#000" opacity="0.3" filter="url(#b05)"/>
<path d="M289.69 823.04h0.5M289.4 824.65h0.5M289.02 823.29h0.5M289.31 824.53h0.5M288.96 824.91h0.5M288.7 826.18h0.5M289.19 824.14h0.5M289.22 825.72h0.5M289.31 826.52h0.5M288.71 824.16h0.5M289.05 824.4h0.5M288.85 824.93h0.5M289.94 825.15h0.5M290.4 825.54h0.5M287.8 824.53h0.5M288.19 825.02h0.5M288.86 824.78h0.5M289.34 825.99h0.5M289.7 826.29h0.5M289.22 825.47h0.5" stroke="#111" stroke-width="0.5" stroke-linecap="round" opacity="0.5"/>
<path d="M302.48 811.86h0.45M296.42 816.14h0.45M296.14 812.76h0.45M298.12 814.09h0.45M295.89 809.59h0.45M295.73 814.22h0.45M300.19 816.33h0.45M297.22 816.84h0.45M293.49 812.12h0.45M292.29 813.02h0.45M299.56 814.23h0.45M302.38 811.62h0.45M295.88 816.94h0.45M301.32 812.78h0.45M293.22 816.63h0.45M293.65 811.94h0.45M301.2 815.02h0.45M296.54 813.95h0.45M294.05 811.39h0.45M301.98 813.1h0.45M297.91 810.67h0.45M292.71 813.49h0.45M302.12 816.35h0.45M296.3 815.1h0.45M296.02 813.42h0.45M296.97 810.19h0.45M300.78 814.81h0.45M295.74 812.9h0.45M301.27 811.78h0.45M301.46 813.28h0.45M297.82 810.88h0.45M289.99 812.7h0.45M299.01 812.58h0.45M296.8 818.28h0.45M296.42 809.46h0.45M299.62 816.9h0.45M298.58 815.87h0.45M299.45 815.79h0.45M299.16 814.69h0.45M292.57 812.23h0.45M298.3 815.29h0.45M294.64 810.8h0.45M298.27 810.75h0.45M302.42 815.4h0.45M299.54 809.88h0.45M299.62 812.02h0.45M301.03 811.72h0.45M297.82 809.81h0.45M301.6 812.55h0.45M297.65 814.16h0.45" stroke="#666" stroke-width="0.5" stroke-linecap="round" opacity="0.35"/>
<path d="M264.3 780.5L265.3 780.5" stroke="#444" stroke-width="0.4"/>
<text x="262.8" y="780.5" font-size="2.6" font-weight="normal" fill="#333" transform="rotate(-90 262.8 780.5)">10<tspan baseline-shift="40%" font-size="70%">4</tspan></text>
<path d="M264.3 794.2L265.3 794.2" stroke="#444" stroke-width="0.4"/>
<text x="262.8" y="794.2" font-size="2.6" font-weight="normal" fill="#333" transform="rotate(-90 262.8 794.2)">10<tspan baseline-shift="40%" font-size="70%">3</tspan></text>
<path d="M264.3 807.9L265.3 807.9" stroke="#444" stroke-width="0.4"/>
<text x="262.8" y="807.9" font-size="2.6" font-weight="normal" fill="#333" transform="rotate(-90 262.8 807.9)">10<tspan baseline-shift="40%" font-size="70%">2</tspan></text>
<path d="M264.3 821.6L265.3 821.6" stroke="#444" stroke-width="0.4"/>
<text x="262.8" y="821.6" font-size="2.6" font-weight="normal" fill="#333" transform="rotate(-90 262.8 821.6)">10<tspan baseline-shift="40%" font-size="70%">1</tspan></text>
<path d="M264.7 775.3L265.3 775.3" stroke="#666" stroke-width="0.3"/>
<path d="M264.7 776.69L265.3 776.69" stroke="#666" stroke-width="0.3"/>
<path d="M264.7 778.08L265.3 778.08" stroke="#666" stroke-width="0.3"/>
<path d="M264.7 779.47L265.3 779.47" stroke="#666" stroke-width="0.3"/>
<path d="M264.7 780.86L265.3 780.86" stroke="#666" stroke-width="0.3"/>
<path d="M264.7 782.25L265.3 782.25" stroke="#666" stroke-width="0.3"/>
<path d="M264.7 783.64L265.3 783.64" stroke="#666" stroke-width="0.3"/>
<path d="M264.7 785.03L265.3 785.03" stroke="#666" stroke-width="0.3"/>
<path d="M264.7 786.42L265.3 786.42" stroke="#666" stroke-width="0.3"/>
<path d="M264.7 787.81L265.3 787.81" stroke="#666" stroke-width="0.3"/>
<path d="M264.7 789.2L265.3 789.2" stroke="#666" stroke-width="0.3"/>
<path d="M264.7 790.59L265.3 790.59" stroke="#666" stroke-width="0.3"/>
<path d="M264.7 791.98L265.3 791.98" stroke="#666" stroke-width="0.3"/>
<path d="M264.7 793.37L265.3 793.37" stroke="#666" stroke-width="0.3"/>
<path d="M264.7 794.76L265.3 794.76" stroke="#666" stroke-width="0.3"/>
<path d="M264.7 796.15L265.3 796.15" stroke="#666" stroke-width="0.3"/>
<path d="M264.7 797.54L265.3 797.54" stroke="#666" stroke-width="0.3"/>
<path d="M264.7 798.93L265.3 798.93" stroke="#666" stroke-width="0.3"/>
<path d="M264.7 800.32L265.3 800.32" stroke="#666" stroke-width="0.3"/>
<path d="M264.7 801.71L265.3 801.71" stroke="#666" stroke-width="0.3"/>
<path d="M264.7 803.09L265.3 803.09" stroke="#666" stroke-width="0.3"/>
<path d="M264.7 804.48L265.3 804.48" stroke="#666" stroke-width="0.3"/>
<path d="M264.7 805.87L265.3 805.87" stroke="#666" stroke-width="0.3"/>
<path d="M264.7 807.26L265.3 807.26" stroke="#666" stroke-width="0.3"/>
<path d="M264.7 808.65L265.3 808.65" stroke="#666" stroke-width="0.3"/>
<path d="M264.7 810.04L265.3 810.04" stroke="#666" stroke-width="0.3"/>
<path d="M264.7 811.43L265.3 811.43" stroke="#666" stroke-width="0.3"/>
<path d="M264.7 812.82L265.3 812.82" stroke="#666" stroke-width="0.3"/>
<path d="M264.7 814.21L265.3 814.21" stroke="#666" stroke-width="0.3"/>
<path d="M264.7 815.6L265.3 815.6" stroke="#666" stroke-width="0.3"/>
<path d="M264.7 816.99L265.3 816.99" stroke="#666" stroke-width="0.3"/>
<path d="M264.7 818.38L265.3 818.38" stroke="#666" stroke-width="0.3"/>
<path d="M264.7 819.77L265.3 819.77" stroke="#666" stroke-width="0.3"/>
<path d="M264.7 821.16L265.3 821.16" stroke="#666" stroke-width="0.3"/>
<path d="M264.7 822.55L265.3 822.55" stroke="#666" stroke-width="0.3"/>
<path d="M264.7 823.94L265.3 823.94" stroke="#666" stroke-width="0.3"/>
<path d="M264.7 825.33L265.3 825.33" stroke="#666" stroke-width="0.3"/>
<path d="M264.7 826.72L265.3 826.72" stroke="#666" stroke-width="0.3"/>
<path d="M264.7 828.11L265.3 828.11" stroke="#666" stroke-width="0.3"/>
<path d="M264.7 829.5L265.3 829.5" stroke="#666" stroke-width="0.3"/>
<path d="M265.3 829.5L265.3 830.6" stroke="#555" stroke-width="0.35"/>
<path d="M268.11 829.5L268.11 830.1" stroke="#555" stroke-width="0.35"/>
<path d="M270.92 829.5L270.92 830.1" stroke="#555" stroke-width="0.35"/>
<path d="M273.73 829.5L273.73 830.1" stroke="#555" stroke-width="0.35"/>
<path d="M276.54 829.5L276.54 830.1" stroke="#555" stroke-width="0.35"/>
<path d="M279.35 829.5L279.35 830.6" stroke="#555" stroke-width="0.35"/>
<path d="M282.16 829.5L282.16 830.1" stroke="#555" stroke-width="0.35"/>
<path d="M284.97 829.5L284.97 830.1" stroke="#555" stroke-width="0.35"/>
<path d="M287.78 829.5L287.78 830.1" stroke="#555" stroke-width="0.35"/>
<path d="M290.59 829.5L290.59 830.1" stroke="#555" stroke-width="0.35"/>
<path d="M293.4 829.5L293.4 830.6" stroke="#555" stroke-width="0.35"/>
<path d="M296.21 829.5L296.21 830.1" stroke="#555" stroke-width="0.35"/>
<path d="M299.02 829.5L299.02 830.1" stroke="#555" stroke-width="0.35"/>
<path d="M301.83 829.5L301.83 830.1" stroke="#555" stroke-width="0.35"/>
<path d="M304.64 829.5L304.64 830.1" stroke="#555" stroke-width="0.35"/>
<path d="M307.45 829.5L307.45 830.6" stroke="#555" stroke-width="0.35"/>
<path d="M310.26 829.5L310.26 830.1" stroke="#555" stroke-width="0.35"/>
<path d="M313.07 829.5L313.07 830.1" stroke="#555" stroke-width="0.35"/>
<path d="M315.88 829.5L315.88 830.1" stroke="#555" stroke-width="0.35"/>
<path d="M318.69 829.5L318.69 830.1" stroke="#555" stroke-width="0.35"/>
<path d="M321.5 829.5L321.5 830.6" stroke="#555" stroke-width="0.35"/>
<path d="M324.31 829.5L324.31 830.1" stroke="#555" stroke-width="0.35"/>
<path d="M327.12 829.5L327.12 830.1" stroke="#555" stroke-width="0.35"/>
<path d="M329.93 829.5L329.93 830.1" stroke="#555" stroke-width="0.35"/>
<path d="M332.74 829.5L332.74 830.1" stroke="#555" stroke-width="0.35"/>
<path d="M335.55 829.5L335.55 830.6" stroke="#555" stroke-width="0.35"/>
<text x="279.35" y="833.7" font-size="2.8" font-weight="normal" fill="#222">50</text>
<text x="293.4" y="833.7" font-size="2.8" font-weight="normal" fill="#222">100</text>
<text x="307.45" y="833.7" font-size="2.8" font-weight="normal" fill="#222">150</text>
<text x="321.5" y="833.7" font-size="2.8" font-weight="normal" fill="#222">200</text>
<text x="335.55" y="833.7" font-size="2.8" font-weight="normal" fill="#222">250</text>
<text x="301.3" y="837.7" font-size="2.6" font-weight="normal" fill="#333" textLength="8" lengthAdjust="spacingAndGlyphs">FSC-H</text>
<text x="334.7" y="837.3" font-size="2.5" font-weight="normal" fill="#333">x 1,000</text>
<path d="M349.8 774.3L426.2 774.3" stroke="#999" stroke-width="0.5" stroke-dasharray="0.6 0.8"/>
<path d="M426.2 774.3L426.2 829.5" stroke="#aaa" stroke-width="0.5"/>
<path d="M349.8 774.3L349.8 829.5" stroke="#333" stroke-width="0.7"/>
<path d="M349.8 829.5L426.2 829.5" stroke="#333" stroke-width="0.7"/>
<text x="387.9" y="769.6" font-size="5" textLength="61.8" lengthAdjust="spacingAndGlyphs">CD14<tspan baseline-shift="35%" font-size="75%">++</tspan>CD16<tspan baseline-shift="35%" font-size="75%">+</tspan> monocytes</text>
<text x="410.8" y="788.5" font-size="4.8" textLength="25" lengthAdjust="spacingAndGlyphs">16.2±5.4%</text>
<ellipse cx="375" cy="790.6" rx="1.78" ry="0.94" fill="#000" opacity="0.95" filter="url(#b05)"/>
<path d="M374.81 791.38h0.5M375.98 791.64h0.5M374.94 791.43h0.5M375.88 790.3h0.5M376.75 790.39h0.5M373.06 790.32h0.5M373.73 790.28h0.5M376.03 790.59h0.5M377.2 790.47h0.5M375.71 790.69h0.5M372.46 790.77h0.5M375.52 791.42h0.5M373.26 791.46h0.5M376.66 790.1h0.5M375.49 791.65h0.5M372.53 791.08h0.5M372.05 790.87h0.5M377.09 790.49h0.5M375.82 789.52h0.5M374.1 790.38h0.5M376.15 790.54h0.5M376.09 790.67h0.5M374.02 790.83h0.5M375.35 790.52h0.5M376.06 790.13h0.5M375.26 791.16h0.5M374.15 790.7h0.5" stroke="#111" stroke-width="0.5" stroke-linecap="round" opacity="0.5"/>
<ellipse cx="375" cy="786.5" rx="0.94" ry="0.85" fill="#000" opacity="0.5" filter="url(#b05)"/>
<path d="M374.83 785.63h0.5M375.98 786.37h0.5M375.25 784.51h0.5M375.61 786.14h0.5M373.97 786.32h0.5M375.34 785.24h0.5M375.36 785.5h0.5M375.43 786.61h0.5M375.5 786.91h0.5M374.01 786.13h0.5M375.05 786.17h0.5M374.63 785.71h0.5M375.17 788.12h0.5" stroke="#111" stroke-width="0.5" stroke-linecap="round" opacity="0.5"/>
<ellipse cx="375" cy="782.5" rx="0.68" ry="1.7" fill="#000" opacity="0.2" filter="url(#b05)"/>
<path d="M375.26 782.94h0.5M374.12 782.14h0.5M375.35 782.33h0.5M375.05 781.84h0.5M374.48 782.58h0.5M374.43 781.53h0.5M374.8 781.93h0.5M373.57 783.17h0.5M375.45 782.62h0.5M374.41 780.77h0.5M374.22 782h0.5M375.13 782.25h0.5M374.55 780.79h0.5M374.68 781.14h0.5M375.58 782.72h0.5M374.6 784.56h0.5M375.58 782.33h0.5M373.97 783.86h0.5M374.43 783.19h0.5" stroke="#111" stroke-width="0.5" stroke-linecap="round" opacity="0.5"/>
<path d="M382.02 790.61h0.45M381.42 792.72h0.45M380.18 791.42h0.45M378.68 790.68h0.45M382.41 792.18h0.45M380.89 791.73h0.45M386.31 792.32h0.45M387.36 792.94h0.45M382.44 791.26h0.45M385.05 793.86h0.45M386.23 792.36h0.45M382.48 792.64h0.45M385.65 792.99h0.45M384.42 791.35h0.45M383.2 791.34h0.45M384.6 791.6h0.45M377.73 791.08h0.45M380.5 790.61h0.45" stroke="#555" stroke-width="0.5" stroke-linecap="round" opacity="0.45"/>
<ellipse cx="375.5" cy="815.5" rx="2.08" ry="4.25" fill="#000" opacity="0.95" filter="url(#b05)"/>
<path d="M374.65 815.8h0.5M376.03 815.35h0.5M373.24 815.33h0.5M376.65 812.04h0.5M373.76 813.32h0.5M378.11 814.75h0.5M373.53 819.69h0.5M376.95 814.38h0.5M375.75 816.07h0.5M376.29 815.08h0.5M375.59 813.65h0.5M375.4 817.25h0.5M375.52 814.29h0.5M372.46 816.47h0.5M375.04 815.43h0.5M378.18 816.09h0.5M375.05 816.69h0.5M372.55 814.66h0.5M374.98 817.02h0.5M375.95 818.63h0.5M375.37 814.27h0.5M375.41 810.97h0.5M373.82 814.45h0.5M377.06 816.21h0.5M373.25 817.89h0.5M376.12 816.19h0.5M377.04 815.91h0.5M377.04 816.85h0.5M373.96 816.54h0.5M376.54 821.78h0.5M374.53 815.67h0.5M372.91 813.11h0.5M371.97 815.97h0.5M376.49 811.65h0.5M376.81 816h0.5M374.3 815.38h0.5M372.93 815.5h0.5M375.29 810.44h0.5M375.23 812.97h0.5M373.85 813.21h0.5M375.29 813.97h0.5M376.36 819.76h0.5M375.07 813.36h0.5M375.56 810.34h0.5M374.2 812.84h0.5M376.31 816.26h0.5M375.6 808.58h0.5M375.47 816.21h0.5M373.09 821.28h0.5M376.01 822.34h0.5M375.88 809.89h0.5M377.59 815.24h0.5M375.79 818.53h0.5M373.41 818.17h0.5M373.72 819.37h0.5M376.34 815.9h0.5M375.42 817.31h0.5M375.24 809.37h0.5M376.72 817.41h0.5M376.43 815.62h0.5M376.72 819.13h0.5M376.79 810.55h0.5M375 818.54h0.5M375.53 819.9h0.5M375.6 820.57h0.5M373.31 816.2h0.5M377.71 810.59h0.5M374.97 820.3h0.5M375.22 815.94h0.5M375.85 813.93h0.5M374.76 820.18h0.5M376.16 813.1h0.5M374.92 812.56h0.5M377.22 815.93h0.5M375.75 817.32h0.5M373.37 817.86h0.5M375.46 817.57h0.5M374.12 814.47h0.5M373.08 813.83h0.5M374.08 821.51h0.5M375.68 815.33h0.5M375.94 816.08h0.5M373.93 815.64h0.5M374.74 806.84h0.5M374.05 816.19h0.5M375.88 821.99h0.5M376.52 809.84h0.5M376.96 815.49h0.5M375.22 812.78h0.5M376.77 819.06h0.5M373.91 818.21h0.5M374.19 814.58h0.5M377.8 816.18h0.5M375.43 810.41h0.5M374.59 817.9h0.5M374.2 813.43h0.5M375.2 811.87h0.5M372.24 814.46h0.5M376.04 816.89h0.5M372.23 814.65h0.5M378.03 812.48h0.5M375.69 817.97h0.5M375.27 817.65h0.5M375.64 817.05h0.5M376.02 812.17h0.5M377.4 814.76h0.5M375.44 808.54h0.5M374.17 814.86h0.5M373.84 817.29h0.5M376.3 818.73h0.5M375.45 812.86h0.5M375.96 815.72h0.5M374.56 817h0.5M371.24 817.15h0.5M375.41 818.28h0.5M374.5 814.43h0.5M378.29 809.31h0.5M376.8 815.74h0.5M375.36 814.95h0.5M372.59 813.61h0.5M376.22 814.93h0.5M377.14 813.71h0.5M375.17 813.35h0.5M376.95 816.54h0.5M376.44 815.24h0.5M379.67 814.56h0.5M373.56 816.1h0.5M375.58 815.26h0.5M374.41 814.62h0.5M375.18 812.02h0.5" stroke="#111" stroke-width="0.5" stroke-linecap="round" opacity="0.5"/>
<ellipse cx="375.3" cy="821.5" rx="1.6" ry="2.98" fill="#000" opacity="0.65" filter="url(#b05)"/>
<path d="M374.16 820.12h0.5M376.61 818.69h0.5M376.58 821.93h0.5M375.64 826.26h0.5M376.86 819.56h0.5M373.81 817.56h0.5M375.06 823.25h0.5M376.53 819.88h0.5M374.45 825.42h0.5M374.95 821.22h0.5M376.87 820.19h0.5M374.99 820.63h0.5M375.53 821.58h0.5M375.07 820.92h0.5M374.8 823.32h0.5M374.23 822.41h0.5M376.24 822.96h0.5M376.16 822.37h0.5M374.94 822.38h0.5M376.68 823.35h0.5M376.31 822.62h0.5M373.14 818.35h0.5M373.44 819.15h0.5M375.46 820.75h0.5M377.13 822.73h0.5M374.88 823.86h0.5M374.75 822.61h0.5M373.99 822.97h0.5M375.43 820.17h0.5M376.36 823.2h0.5M375.87 819.85h0.5M374.42 825.68h0.5M375.2 821.04h0.5M376.27 823.31h0.5M373.92 822.93h0.5M374.54 822.05h0.5M375.27 817.12h0.5M374.26 820.37h0.5M374.74 819.86h0.5M376.3 823.31h0.5M372.79 819.48h0.5M374.51 822.06h0.5M374.68 821.2h0.5M374.55 827.11h0.5M374.26 822.92h0.5M375.55 821.28h0.5M375.27 818.12h0.5M375.6 820.94h0.5M373.94 822.12h0.5M375.77 821.6h0.5M375.34 822.12h0.5M374.49 818.35h0.5M373.35 824h0.5M376.18 818.02h0.5M375.36 823.4h0.5M375.26 822.01h0.5M376.59 821.29h0.5M374.28 819.23h0.5M375.01 821.87h0.5M374.7 823.6h0.5M375.91 822.08h0.5M375.4 821.01h0.5M374.03 820.23h0.5M374.63 818.76h0.5M371.39 825.8h0.5M375.28 819.3h0.5M376.26 818.55h0.5M376.32 821.27h0.5M375.46 823.86h0.5M374.31 819.63h0.5" stroke="#111" stroke-width="0.5" stroke-linecap="round" opacity="0.5"/>
<ellipse cx="375" cy="825" rx="0.8" ry="1.7" fill="#000" opacity="0.3" filter="url(#b05)"/>
<path d="M375.32 825.82h0.5M374.94 825.12h0.5M374.57 824.16h0.5M375.83 823.61h0.5M374.76 824.4h0.5M374.85 826.4h0.5M374.14 824.47h0.5M375.12 825.01h0.5M375.3 824.44h0.5M373.41 824.79h0.5M374.82 826.22h0.5M374.49 824.25h0.5M373.85 825.96h0.5M375.04 823.13h0.5M374.78 824.82h0.5M375.47 825.73h0.5M374.73 824.61h0.5M374.1 825.82h0.5M374.68 825.2h0.5M374 824.55h0.5" stroke="#111" stroke-width="0.5" stroke-linecap="round" opacity="0.5"/>
<path d="M383.54 815.71h0.45M377.16 813.67h0.45M383.38 812.54h0.45M379.54 810.58h0.45M378.52 813.08h0.45M378.9 812.21h0.45M379.03 811.42h0.45M379.34 821.18h0.45M378.47 817.32h0.45M382.45 812.64h0.45M385.41 815.23h0.45M383.1 816.15h0.45M387.06 811.17h0.45M384.04 814.2h0.45M385.23 813.75h0.45M381.45 811.27h0.45M381.59 816.42h0.45M378.09 813.61h0.45M380.63 813.18h0.45M378.88 816.4h0.45M378.88 814.03h0.45M378.04 816.99h0.45M378.43 814.13h0.45M381.39 814.13h0.45M385.04 812.82h0.45M385.67 813.93h0.45M380.26 815.01h0.45M385.95 814.28h0.45M385.37 814.3h0.45M381.93 816.27h0.45M378.68 813.22h0.45M379.57 808.3h0.45M379.39 813.65h0.45M386.68 814.41h0.45M386.45 811.52h0.45M377.41 816.22h0.45M383.42 815.92h0.45M379.1 815.29h0.45M379.92 812.42h0.45M379.54 812.88h0.45M376.34 810.63h0.45M384.38 814.21h0.45M385.13 814.52h0.45M385.02 813.26h0.45M381.8 814.08h0.45M382.2 814.41h0.45M388.81 816.5h0.45M381.04 815.1h0.45M385.36 817.92h0.45M386.96 811.67h0.45" stroke="#666" stroke-width="0.5" stroke-linecap="round" opacity="0.35"/>
<path d="M348.8 780.5L349.8 780.5" stroke="#444" stroke-width="0.4"/>
<text x="347.3" y="780.5" font-size="2.6" font-weight="normal" fill="#333" transform="rotate(-90 347.3 780.5)">10<tspan baseline-shift="40%" font-size="70%">4</tspan></text>
<path d="M348.8 794.2L349.8 794.2" stroke="#444" stroke-width="0.4"/>
<text x="347.3" y="794.2" font-size="2.6" font-weight="normal" fill="#333" transform="rotate(-90 347.3 794.2)">10<tspan baseline-shift="40%" font-size="70%">3</tspan></text>
<path d="M348.8 807.9L349.8 807.9" stroke="#444" stroke-width="0.4"/>
<text x="347.3" y="807.9" font-size="2.6" font-weight="normal" fill="#333" transform="rotate(-90 347.3 807.9)">10<tspan baseline-shift="40%" font-size="70%">2</tspan></text>
<path d="M348.8 821.6L349.8 821.6" stroke="#444" stroke-width="0.4"/>
<text x="347.3" y="821.6" font-size="2.6" font-weight="normal" fill="#333" transform="rotate(-90 347.3 821.6)">10<tspan baseline-shift="40%" font-size="70%">1</tspan></text>
<path d="M349.2 775.3L349.8 775.3" stroke="#666" stroke-width="0.3"/>
<path d="M349.2 776.69L349.8 776.69" stroke="#666" stroke-width="0.3"/>
<path d="M349.2 778.08L349.8 778.08" stroke="#666" stroke-width="0.3"/>
<path d="M349.2 779.47L349.8 779.47" stroke="#666" stroke-width="0.3"/>
<path d="M349.2 780.86L349.8 780.86" stroke="#666" stroke-width="0.3"/>
<path d="M349.2 782.25L349.8 782.25" stroke="#666" stroke-width="0.3"/>
<path d="M349.2 783.64L349.8 783.64" stroke="#666" stroke-width="0.3"/>
<path d="M349.2 785.03L349.8 785.03" stroke="#666" stroke-width="0.3"/>
<path d="M349.2 786.42L349.8 786.42" stroke="#666" stroke-width="0.3"/>
<path d="M349.2 787.81L349.8 787.81" stroke="#666" stroke-width="0.3"/>
<path d="M349.2 789.2L349.8 789.2" stroke="#666" stroke-width="0.3"/>
<path d="M349.2 790.59L349.8 790.59" stroke="#666" stroke-width="0.3"/>
<path d="M349.2 791.98L349.8 791.98" stroke="#666" stroke-width="0.3"/>
<path d="M349.2 793.37L349.8 793.37" stroke="#666" stroke-width="0.3"/>
<path d="M349.2 794.76L349.8 794.76" stroke="#666" stroke-width="0.3"/>
<path d="M349.2 796.15L349.8 796.15" stroke="#666" stroke-width="0.3"/>
<path d="M349.2 797.54L349.8 797.54" stroke="#666" stroke-width="0.3"/>
<path d="M349.2 798.93L349.8 798.93" stroke="#666" stroke-width="0.3"/>
<path d="M349.2 800.32L349.8 800.32" stroke="#666" stroke-width="0.3"/>
<path d="M349.2 801.71L349.8 801.71" stroke="#666" stroke-width="0.3"/>
<path d="M349.2 803.09L349.8 803.09" stroke="#666" stroke-width="0.3"/>
<path d="M349.2 804.48L349.8 804.48" stroke="#666" stroke-width="0.3"/>
<path d="M349.2 805.87L349.8 805.87" stroke="#666" stroke-width="0.3"/>
<path d="M349.2 807.26L349.8 807.26" stroke="#666" stroke-width="0.3"/>
<path d="M349.2 808.65L349.8 808.65" stroke="#666" stroke-width="0.3"/>
<path d="M349.2 810.04L349.8 810.04" stroke="#666" stroke-width="0.3"/>
<path d="M349.2 811.43L349.8 811.43" stroke="#666" stroke-width="0.3"/>
<path d="M349.2 812.82L349.8 812.82" stroke="#666" stroke-width="0.3"/>
<path d="M349.2 814.21L349.8 814.21" stroke="#666" stroke-width="0.3"/>
<path d="M349.2 815.6L349.8 815.6" stroke="#666" stroke-width="0.3"/>
<path d="M349.2 816.99L349.8 816.99" stroke="#666" stroke-width="0.3"/>
<path d="M349.2 818.38L349.8 818.38" stroke="#666" stroke-width="0.3"/>
<path d="M349.2 819.77L349.8 819.77" stroke="#666" stroke-width="0.3"/>
<path d="M349.2 821.16L349.8 821.16" stroke="#666" stroke-width="0.3"/>
<path d="M349.2 822.55L349.8 822.55" stroke="#666" stroke-width="0.3"/>
<path d="M349.2 823.94L349.8 823.94" stroke="#666" stroke-width="0.3"/>
<path d="M349.2 825.33L349.8 825.33" stroke="#666" stroke-width="0.3"/>
<path d="M349.2 826.72L349.8 826.72" stroke="#666" stroke-width="0.3"/>
<path d="M349.2 828.11L349.8 828.11" stroke="#666" stroke-width="0.3"/>
<path d="M349.2 829.5L349.8 829.5" stroke="#666" stroke-width="0.3"/>
<path d="M349.8 829.5L349.8 830.6" stroke="#555" stroke-width="0.35"/>
<path d="M352.61 829.5L352.61 830.1" stroke="#555" stroke-width="0.35"/>
<path d="M355.42 829.5L355.42 830.1" stroke="#555" stroke-width="0.35"/>
<path d="M358.23 829.5L358.23 830.1" stroke="#555" stroke-width="0.35"/>
<path d="M361.04 829.5L361.04 830.1" stroke="#555" stroke-width="0.35"/>
<path d="M363.85 829.5L363.85 830.6" stroke="#555" stroke-width="0.35"/>
<path d="M366.66 829.5L366.66 830.1" stroke="#555" stroke-width="0.35"/>
<path d="M369.47 829.5L369.47 830.1" stroke="#555" stroke-width="0.35"/>
<path d="M372.28 829.5L372.28 830.1" stroke="#555" stroke-width="0.35"/>
<path d="M375.09 829.5L375.09 830.1" stroke="#555" stroke-width="0.35"/>
<path d="M377.9 829.5L377.9 830.6" stroke="#555" stroke-width="0.35"/>
<path d="M380.71 829.5L380.71 830.1" stroke="#555" stroke-width="0.35"/>
<path d="M383.52 829.5L383.52 830.1" stroke="#555" stroke-width="0.35"/>
<path d="M386.33 829.5L386.33 830.1" stroke="#555" stroke-width="0.35"/>
<path d="M389.14 829.5L389.14 830.1" stroke="#555" stroke-width="0.35"/>
<path d="M391.95 829.5L391.95 830.6" stroke="#555" stroke-width="0.35"/>
<path d="M394.76 829.5L394.76 830.1" stroke="#555" stroke-width="0.35"/>
<path d="M397.57 829.5L397.57 830.1" stroke="#555" stroke-width="0.35"/>
<path d="M400.38 829.5L400.38 830.1" stroke="#555" stroke-width="0.35"/>
<path d="M403.19 829.5L403.19 830.1" stroke="#555" stroke-width="0.35"/>
<path d="M406 829.5L406 830.6" stroke="#555" stroke-width="0.35"/>
<path d="M408.81 829.5L408.81 830.1" stroke="#555" stroke-width="0.35"/>
<path d="M411.62 829.5L411.62 830.1" stroke="#555" stroke-width="0.35"/>
<path d="M414.43 829.5L414.43 830.1" stroke="#555" stroke-width="0.35"/>
<path d="M417.24 829.5L417.24 830.1" stroke="#555" stroke-width="0.35"/>
<path d="M420.05 829.5L420.05 830.6" stroke="#555" stroke-width="0.35"/>
<text x="363.85" y="833.7" font-size="2.8" font-weight="normal" fill="#222">50</text>
<text x="377.9" y="833.7" font-size="2.8" font-weight="normal" fill="#222">100</text>
<text x="391.95" y="833.7" font-size="2.8" font-weight="normal" fill="#222">150</text>
<text x="406" y="833.7" font-size="2.8" font-weight="normal" fill="#222">200</text>
<text x="420.05" y="833.7" font-size="2.8" font-weight="normal" fill="#222">250</text>
<text x="385.8" y="837.7" font-size="2.6" font-weight="normal" fill="#333" textLength="8" lengthAdjust="spacingAndGlyphs">FSC-H</text>
<text x="423.2" y="837.3" font-size="2.5" font-weight="normal" fill="#333">x 1,000</text>
<path d="M438.3 774.3L514.2 774.3" stroke="#999" stroke-width="0.5" stroke-dasharray="0.6 0.8"/>
<path d="M514.2 774.3L514.2 829.5" stroke="#aaa" stroke-width="0.5"/>
<path d="M438.3 774.3L438.3 829.5" stroke="#333" stroke-width="0.7"/>
<path d="M438.3 829.5L514.2 829.5" stroke="#333" stroke-width="0.7"/>
<text x="476.75" y="769.6" font-size="5" textLength="61.5" lengthAdjust="spacingAndGlyphs">CD14<tspan baseline-shift="35%" font-size="75%">+</tspan>CD16<tspan baseline-shift="35%" font-size="75%">++</tspan> monocytes</text>
<text x="497.85" y="788.5" font-size="4.8" textLength="23.1" lengthAdjust="spacingAndGlyphs">6.6±4.5%</text>
<ellipse cx="462.3" cy="791.2" rx="1.36" ry="0.51" fill="#000" opacity="0.85" filter="url(#b05)"/>
<path d="M462.37 791.18h0.5M461.88 790.79h0.5M462.97 791.07h0.5M462.54 791.1h0.5M463.04 791.19h0.5M462.41 791.5h0.5M461.88 791.13h0.5M461.94 791.24h0.5M462.58 791.29h0.5M462.14 791.49h0.5M462.23 790.83h0.5" stroke="#111" stroke-width="0.5" stroke-linecap="round" opacity="0.5"/>
<ellipse cx="462" cy="788" rx="0.94" ry="0.42" fill="#000" opacity="0.6" filter="url(#b05)"/>
<path d="M462.63 787.5h0.5M463.02 787.55h0.5M460.88 787.79h0.5M462.36 787.75h0.5M462.25 788.28h0.5M461.34 787.96h0.5" stroke="#111" stroke-width="0.5" stroke-linecap="round" opacity="0.5"/>
<path d="M465.42 792.56h0.45M471.66 791.34h0.45M465.45 791.08h0.45M468.82 791.96h0.45M465.41 791.66h0.45M469.64 793.09h0.45M467.03 791.15h0.45M473 794.22h0.45M472.9 791.29h0.45M473.75 791.75h0.45" stroke="#555" stroke-width="0.5" stroke-linecap="round" opacity="0.45"/>
<ellipse cx="462" cy="815.5" rx="1.44" ry="4.25" fill="#000" opacity="0.95" filter="url(#b05)"/>
<path d="M460.94 810.12h0.5M461.79 809.07h0.5M460.17 814.69h0.5M463.17 817.54h0.5M462.8 819.33h0.5M462.6 813.83h0.5M462.04 815.88h0.5M461.12 815.32h0.5M461.65 811.39h0.5M460.14 815.49h0.5M462.45 818.2h0.5M463.05 816.58h0.5M461.92 813.83h0.5M460.45 806.6h0.5M461.42 817.34h0.5M461.72 821.18h0.5M463.38 818.02h0.5M461.62 820.52h0.5M463.34 811.71h0.5M462.23 819.03h0.5M460.85 821.09h0.5M461.57 817.25h0.5M461.37 816.21h0.5M462.04 820.11h0.5M461.43 817.2h0.5M462.52 814.57h0.5M462.21 811.13h0.5M460.28 814h0.5M459.94 812.7h0.5M461.46 813.28h0.5M461.03 812.54h0.5M462.22 814.8h0.5M459.06 817.83h0.5M463.34 817.49h0.5M462.95 813.08h0.5M463.5 817.32h0.5M461.64 819.11h0.5M462.13 813.13h0.5M461.77 816.99h0.5M461.47 816.66h0.5M461.06 810.19h0.5M462.99 816.76h0.5M462.24 810.48h0.5M461.62 819.17h0.5M461.21 812.19h0.5M464.12 815.46h0.5M462.3 815.17h0.5M463.17 816.12h0.5M461 814.38h0.5M461.83 820.76h0.5M461.8 815.03h0.5M462.98 818.84h0.5M461.2 816.31h0.5M462.67 814.66h0.5M462.73 816.94h0.5M460.46 817.91h0.5M461.79 814.27h0.5M459.46 816.65h0.5M459.5 816.04h0.5M463.33 812.32h0.5M461.45 814.32h0.5M462.66 815.23h0.5M461.31 818.83h0.5M459.94 814.38h0.5M459.39 813.84h0.5M462.1 811.28h0.5M461.51 819.72h0.5M459.93 815.47h0.5M461.46 820.76h0.5M461.59 813.67h0.5M462.9 814.19h0.5M460.84 816.48h0.5M460.28 819.02h0.5M462.82 813.91h0.5M460.56 814.83h0.5M463.38 819.87h0.5M461.53 815.84h0.5M461.85 818.02h0.5M461.9 813.67h0.5M463.04 820.91h0.5M460.9 822.02h0.5M462.22 815.58h0.5M462.02 818.39h0.5M460.81 814.86h0.5M464.28 813.87h0.5M458.89 811.88h0.5M463.65 809.26h0.5M461.31 814.76h0.5M461.44 815.11h0.5M458.82 820.72h0.5" stroke="#111" stroke-width="0.5" stroke-linecap="round" opacity="0.5"/>
<ellipse cx="462" cy="821.5" rx="1.28" ry="3.4" fill="#000" opacity="0.8" filter="url(#b05)"/>
<path d="M460.6 823.74h0.5M463.19 820.35h0.5M460.9 823.43h0.5M462.95 824.42h0.5M461.24 819.8h0.5M460.04 823.43h0.5M462.39 822.01h0.5M460.57 818.45h0.5M460.44 820.63h0.5M463 821.7h0.5M461.4 821.18h0.5M461.03 821.16h0.5M460.79 825.01h0.5M461.83 821.17h0.5M462.92 823.26h0.5M462.96 819.93h0.5M460.89 824.84h0.5M462.05 821.03h0.5M462.75 822.08h0.5M461.48 818.66h0.5M461.19 821.7h0.5M461.9 822.11h0.5M461.02 821.9h0.5M460.81 820.19h0.5M461.05 825.18h0.5M461.2 823.78h0.5M460.32 822.51h0.5M463.32 821.02h0.5M463.35 821.51h0.5M460.39 820.99h0.5M461.91 821.58h0.5M462.23 821.62h0.5M462.89 823.98h0.5M461.84 819.05h0.5M461.97 824.02h0.5M462.29 822.7h0.5M459.83 823.22h0.5M461.68 820.33h0.5M462.54 815.12h0.5M462.2 820.56h0.5M459.76 818.5h0.5M461.72 824.64h0.5M460.09 817.04h0.5M462.25 819.1h0.5M461.21 820.61h0.5M462.06 819.89h0.5M461.48 820.36h0.5M461.48 817.2h0.5M462.51 823.06h0.5M462.38 823.97h0.5M461.96 827.07h0.5M461.92 820.75h0.5M461.78 823.39h0.5M462.54 823.83h0.5M461.55 818.76h0.5M461.17 821.41h0.5M459.97 822.74h0.5M462.35 822.32h0.5M460.63 821.11h0.5M462.3 825.28h0.5M462.85 821.22h0.5M464.01 821.11h0.5M461.75 819.48h0.5M459.63 819.43h0.5" stroke="#111" stroke-width="0.5" stroke-linecap="round" opacity="0.5"/>
<ellipse cx="462" cy="826" rx="0.8" ry="1.53" fill="#000" opacity="0.4" filter="url(#b05)"/>
<path d="M462.14 825h0.5M461.76 826.83h0.5M460.92 827.2h0.5M461.13 826.69h0.5M461.96 827.1h0.5M461.85 826.28h0.5M461.94 827.3h0.5M461.17 824.52h0.5M461.04 827h0.5M461.9 825.86h0.5M461.34 825.75h0.5M462.08 825.85h0.5M461.49 826.91h0.5M461.78 824.38h0.5M462.4 826.37h0.5M461.55 826.5h0.5M462.42 826.21h0.5M462.79 821.48h0.5" stroke="#111" stroke-width="0.5" stroke-linecap="round" opacity="0.5"/>
<path d="M466.38 817.03h0.45M469.91 814.92h0.45M472.22 815.27h0.45M470.6 815.37h0.45M464.96 816.76h0.45M473.31 813.52h0.45M464.88 812.74h0.45M466.3 812.33h0.45M472.77 813.83h0.45M468.02 815.5h0.45M471.6 815.2h0.45M471.56 810.83h0.45M473.14 815.5h0.45M468.61 814.91h0.45M471.15 810.79h0.45M466.47 814.99h0.45M471.29 814.35h0.45M475.33 813.76h0.45M471.43 814.77h0.45M465.37 815.88h0.45M474.42 816.41h0.45M474.53 813.92h0.45M466.32 813.08h0.45M473.32 810.49h0.45M472.45 816.5h0.45M468.63 815.02h0.45M464.45 812.91h0.45M469.78 816.63h0.45M474.97 816.35h0.45M470.29 813.07h0.45M473.78 813.72h0.45M464.75 813.58h0.45M471.63 814.02h0.45M468.43 816.33h0.45M470.92 816.2h0.45M466.96 809.67h0.45M473.58 813.84h0.45M469.19 810.02h0.45M468.97 812.18h0.45M469.96 811.43h0.45M465.43 817.02h0.45M470.61 815.58h0.45M472.48 815.27h0.45M465.42 812.83h0.45M469.15 813.97h0.45M471.68 815.95h0.45M466.79 814.57h0.45M463.19 816.2h0.45M464.65 812.55h0.45M468.75 816.94h0.45" stroke="#666" stroke-width="0.5" stroke-linecap="round" opacity="0.35"/>
<path d="M437.3 780.5L438.3 780.5" stroke="#444" stroke-width="0.4"/>
<text x="435.8" y="780.5" font-size="2.6" font-weight="normal" fill="#333" transform="rotate(-90 435.8 780.5)">10<tspan baseline-shift="40%" font-size="70%">4</tspan></text>
<path d="M437.3 794.2L438.3 794.2" stroke="#444" stroke-width="0.4"/>
<text x="435.8" y="794.2" font-size="2.6" font-weight="normal" fill="#333" transform="rotate(-90 435.8 794.2)">10<tspan baseline-shift="40%" font-size="70%">3</tspan></text>
<path d="M437.3 807.9L438.3 807.9" stroke="#444" stroke-width="0.4"/>
<text x="435.8" y="807.9" font-size="2.6" font-weight="normal" fill="#333" transform="rotate(-90 435.8 807.9)">10<tspan baseline-shift="40%" font-size="70%">2</tspan></text>
<path d="M437.3 821.6L438.3 821.6" stroke="#444" stroke-width="0.4"/>
<text x="435.8" y="821.6" font-size="2.6" font-weight="normal" fill="#333" transform="rotate(-90 435.8 821.6)">10<tspan baseline-shift="40%" font-size="70%">1</tspan></text>
<path d="M437.7 775.3L438.3 775.3" stroke="#666" stroke-width="0.3"/>
<path d="M437.7 776.69L438.3 776.69" stroke="#666" stroke-width="0.3"/>
<path d="M437.7 778.08L438.3 778.08" stroke="#666" stroke-width="0.3"/>
<path d="M437.7 779.47L438.3 779.47" stroke="#666" stroke-width="0.3"/>
<path d="M437.7 780.86L438.3 780.86" stroke="#666" stroke-width="0.3"/>
<path d="M437.7 782.25L438.3 782.25" stroke="#666" stroke-width="0.3"/>
<path d="M437.7 783.64L438.3 783.64" stroke="#666" stroke-width="0.3"/>
<path d="M437.7 785.03L438.3 785.03" stroke="#666" stroke-width="0.3"/>
<path d="M437.7 786.42L438.3 786.42" stroke="#666" stroke-width="0.3"/>
<path d="M437.7 787.81L438.3 787.81" stroke="#666" stroke-width="0.3"/>
<path d="M437.7 789.2L438.3 789.2" stroke="#666" stroke-width="0.3"/>
<path d="M437.7 790.59L438.3 790.59" stroke="#666" stroke-width="0.3"/>
<path d="M437.7 791.98L438.3 791.98" stroke="#666" stroke-width="0.3"/>
<path d="M437.7 793.37L438.3 793.37" stroke="#666" stroke-width="0.3"/>
<path d="M437.7 794.76L438.3 794.76" stroke="#666" stroke-width="0.3"/>
<path d="M437.7 796.15L438.3 796.15" stroke="#666" stroke-width="0.3"/>
<path d="M437.7 797.54L438.3 797.54" stroke="#666" stroke-width="0.3"/>
<path d="M437.7 798.93L438.3 798.93" stroke="#666" stroke-width="0.3"/>
<path d="M437.7 800.32L438.3 800.32" stroke="#666" stroke-width="0.3"/>
<path d="M437.7 801.71L438.3 801.71" stroke="#666" stroke-width="0.3"/>
<path d="M437.7 803.09L438.3 803.09" stroke="#666" stroke-width="0.3"/>
<path d="M437.7 804.48L438.3 804.48" stroke="#666" stroke-width="0.3"/>
<path d="M437.7 805.87L438.3 805.87" stroke="#666" stroke-width="0.3"/>
<path d="M437.7 807.26L438.3 807.26" stroke="#666" stroke-width="0.3"/>
<path d="M437.7 808.65L438.3 808.65" stroke="#666" stroke-width="0.3"/>
<path d="M437.7 810.04L438.3 810.04" stroke="#666" stroke-width="0.3"/>
<path d="M437.7 811.43L438.3 811.43" stroke="#666" stroke-width="0.3"/>
<path d="M437.7 812.82L438.3 812.82" stroke="#666" stroke-width="0.3"/>
<path d="M437.7 814.21L438.3 814.21" stroke="#666" stroke-width="0.3"/>
<path d="M437.7 815.6L438.3 815.6" stroke="#666" stroke-width="0.3"/>
<path d="M437.7 816.99L438.3 816.99" stroke="#666" stroke-width="0.3"/>
<path d="M437.7 818.38L438.3 818.38" stroke="#666" stroke-width="0.3"/>
<path d="M437.7 819.77L438.3 819.77" stroke="#666" stroke-width="0.3"/>
<path d="M437.7 821.16L438.3 821.16" stroke="#666" stroke-width="0.3"/>
<path d="M437.7 822.55L438.3 822.55" stroke="#666" stroke-width="0.3"/>
<path d="M437.7 823.94L438.3 823.94" stroke="#666" stroke-width="0.3"/>
<path d="M437.7 825.33L438.3 825.33" stroke="#666" stroke-width="0.3"/>
<path d="M437.7 826.72L438.3 826.72" stroke="#666" stroke-width="0.3"/>
<path d="M437.7 828.11L438.3 828.11" stroke="#666" stroke-width="0.3"/>
<path d="M437.7 829.5L438.3 829.5" stroke="#666" stroke-width="0.3"/>
<path d="M438.3 829.5L438.3 830.6" stroke="#555" stroke-width="0.35"/>
<path d="M441.11 829.5L441.11 830.1" stroke="#555" stroke-width="0.35"/>
<path d="M443.92 829.5L443.92 830.1" stroke="#555" stroke-width="0.35"/>
<path d="M446.73 829.5L446.73 830.1" stroke="#555" stroke-width="0.35"/>
<path d="M449.54 829.5L449.54 830.1" stroke="#555" stroke-width="0.35"/>
<path d="M452.35 829.5L452.35 830.6" stroke="#555" stroke-width="0.35"/>
<path d="M455.16 829.5L455.16 830.1" stroke="#555" stroke-width="0.35"/>
<path d="M457.97 829.5L457.97 830.1" stroke="#555" stroke-width="0.35"/>
<path d="M460.78 829.5L460.78 830.1" stroke="#555" stroke-width="0.35"/>
<path d="M463.59 829.5L463.59 830.1" stroke="#555" stroke-width="0.35"/>
<path d="M466.4 829.5L466.4 830.6" stroke="#555" stroke-width="0.35"/>
<path d="M469.21 829.5L469.21 830.1" stroke="#555" stroke-width="0.35"/>
<path d="M472.02 829.5L472.02 830.1" stroke="#555" stroke-width="0.35"/>
<path d="M474.83 829.5L474.83 830.1" stroke="#555" stroke-width="0.35"/>
<path d="M477.64 829.5L477.64 830.1" stroke="#555" stroke-width="0.35"/>
<path d="M480.45 829.5L480.45 830.6" stroke="#555" stroke-width="0.35"/>
<path d="M483.26 829.5L483.26 830.1" stroke="#555" stroke-width="0.35"/>
<path d="M486.07 829.5L486.07 830.1" stroke="#555" stroke-width="0.35"/>
<path d="M488.88 829.5L488.88 830.1" stroke="#555" stroke-width="0.35"/>
<path d="M491.69 829.5L491.69 830.1" stroke="#555" stroke-width="0.35"/>
<path d="M494.5 829.5L494.5 830.6" stroke="#555" stroke-width="0.35"/>
<path d="M497.31 829.5L497.31 830.1" stroke="#555" stroke-width="0.35"/>
<path d="M500.12 829.5L500.12 830.1" stroke="#555" stroke-width="0.35"/>
<path d="M502.93 829.5L502.93 830.1" stroke="#555" stroke-width="0.35"/>
<path d="M505.74 829.5L505.74 830.1" stroke="#555" stroke-width="0.35"/>
<path d="M508.55 829.5L508.55 830.6" stroke="#555" stroke-width="0.35"/>
<text x="452.35" y="833.7" font-size="2.8" font-weight="normal" fill="#222">50</text>
<text x="466.4" y="833.7" font-size="2.8" font-weight="normal" fill="#222">100</text>
<text x="480.45" y="833.7" font-size="2.8" font-weight="normal" fill="#222">150</text>
<text x="494.5" y="833.7" font-size="2.8" font-weight="normal" fill="#222">200</text>
<text x="508.55" y="833.7" font-size="2.8" font-weight="normal" fill="#222">250</text>
<text x="474.3" y="837.7" font-size="2.6" font-weight="normal" fill="#333" textLength="8" lengthAdjust="spacingAndGlyphs">FSC-H</text>
<text x="511.2" y="837.3" font-size="2.5" font-weight="normal" fill="#333">x 1,000</text>
<text x="251.3" y="804.5" font-size="5.2" textLength="50" lengthAdjust="spacingAndGlyphs" transform="rotate(-90 251.3 804.5)">Phagocytosis (FITC)</text>
</g></svg></body></html>
